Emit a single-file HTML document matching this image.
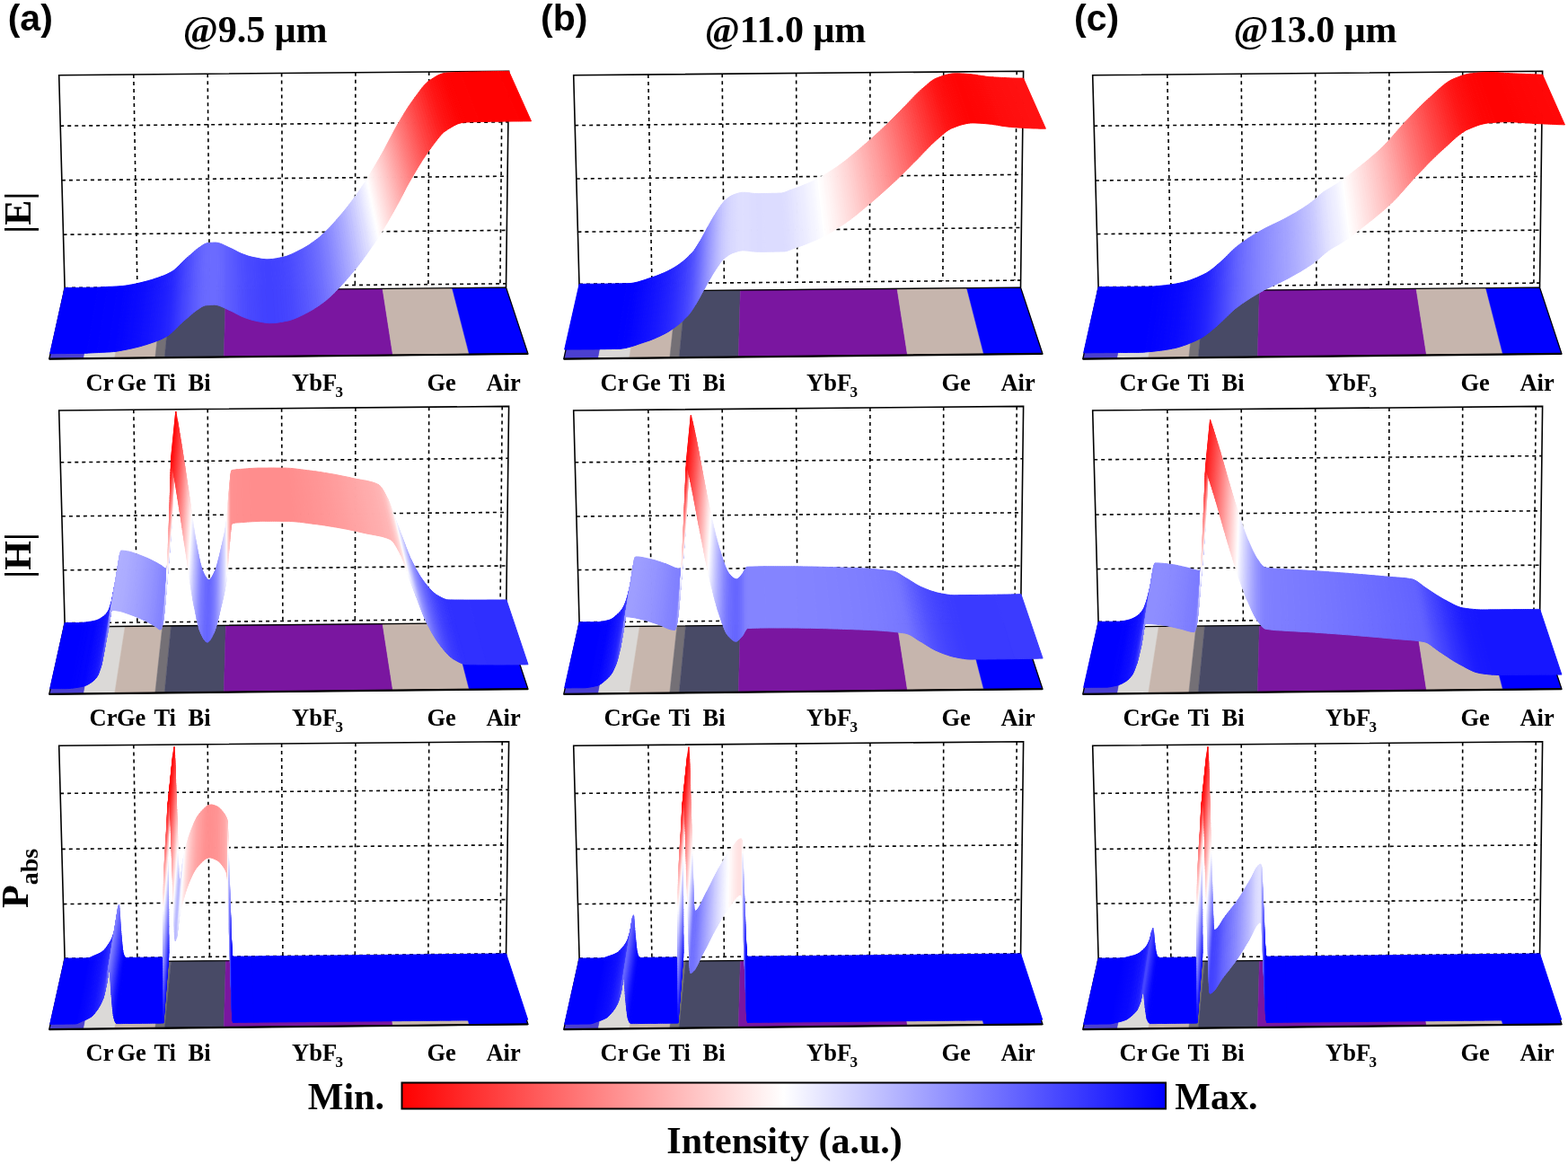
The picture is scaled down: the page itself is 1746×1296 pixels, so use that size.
<!DOCTYPE html>
<html><head><meta charset="utf-8"><title>Field distributions</title>
<style>html,body{margin:0;padding:0;background:#fff;}svg{display:block;}</style>
</head><body>
<svg width="1746" height="1296" viewBox="0 0 1746 1296">
<defs><linearGradient id="cb" x1="0" x2="1" y1="0" y2="0"><stop offset="0" stop-color="#ff0000"/><stop offset="0.5" stop-color="#ffffff"/><stop offset="1" stop-color="#0000ff"/></linearGradient></defs>
<rect width="100%" height="100%" fill="#fff"/>
<g stroke="#000" stroke-width="1.6" stroke-dasharray="4,4" fill="none">
<line x1="67.2" y1="140.2" x2="565.9" y2="135.9"/>
<line x1="68.9" y1="200.7" x2="565.1" y2="196.2"/>
<line x1="70.5" y1="261.2" x2="564.3" y2="256.4"/>
<line x1="72.1" y1="320.5" x2="563.6" y2="315.8"/>
<line x1="148.8" y1="83.0" x2="152.9" y2="319.7"/>
<line x1="231.2" y1="82.3" x2="233.4" y2="319.0"/>
<line x1="313.6" y1="81.5" x2="314.9" y2="318.2"/>
<line x1="395.9" y1="80.8" x2="395.3" y2="317.4"/>
<line x1="477.7" y1="80.0" x2="476.9" y2="316.6"/>
<line x1="559.2" y1="79.3" x2="556.9" y2="315.9"/>
</g>
<polyline points="71.2,324.8 72.1,320.6 65.7,83.8 566.6,79.2 563.5,320.1" fill="none" stroke="#000" stroke-width="1.6"/>
<polygon points="71.2,324.8 107.5,324.5 93.2,399.2 54.8,399.6" fill="#4b3fd0" stroke="#4b3fd0" stroke-width="0.5"/>
<polygon points="107.5,324.5 139.3,324.1 127.7,398.8 93.2,399.2" fill="#dbd9d7" stroke="#dbd9d7" stroke-width="0.5"/>
<polygon points="139.3,324.1 180.9,323.8 172.8,398.3 127.7,398.8" fill="#c7b6ad" stroke="#c7b6ad" stroke-width="0.5"/>
<polygon points="180.9,323.8 190.5,323.7 183.2,398.2 172.8,398.3" fill="#747076" stroke="#747076" stroke-width="0.5"/>
<polygon points="190.5,323.7 251.4,323.1 249.3,397.5 183.2,398.2" fill="#484a66" stroke="#484a66" stroke-width="0.5"/>
<polygon points="251.4,323.1 426.0,321.4 437.5,395.5 249.3,397.5" fill="#7a16a0" stroke="#7a16a0" stroke-width="0.5"/>
<polygon points="426.0,321.4 503.5,320.7 522.5,394.6 437.5,395.5" fill="#c6b5ad" stroke="#c6b5ad" stroke-width="0.5"/>
<polygon points="503.5,320.7 563.5,320.1 587.9,393.9 522.5,394.6" fill="#0000ff" stroke="#0000ff" stroke-width="0.5"/>
<polygon points="71.2,324.8 563.5,320.1 587.9,393.9 54.8,399.6" fill="none" stroke="#000" stroke-width="1.3"/>
<line x1="54.8" y1="399.6" x2="587.9" y2="393.9" stroke="#000" stroke-width="2.2"/>
<g stroke-width="1" stroke-linejoin="round"><path fill="#0000ff" stroke="#0000ff" d="M72.1 320.5l0.3 0 1.7 0 1.9 0 2-0.1 2 0 1.9 0 2 0 2 0 1.9 0 2-0.1 2 0 1.9 0 2 0 2 0 1.9-0.1 0.4 0 1.6 0 2 0 1.9-0.1 2 0 1.9-0.1-12.8 73.2-2.2 0.1-2.1 0.1-2.2 0-2.1 0-1.8 0.1-0.4 0-2.1 0-2.2 0-2.1 0-2.2 0-2.1 0-2.2 0.1-2.1 0-2.2 0-2.1 0-2.2 0-2.1 0-2.2 0.1-2.1 0-1.9 0-0.3 0z"/>
<path fill="#0101ff" stroke="#0101ff" d="M109.4 320l2-0.1 2-0.1 1.9-0.2 2-0.1 2-0.1 0.7 0-11.9 73.2-0.8 0-2.1 0.1-2.2 0.1-2.1 0.1-2.2 0.2-2.1 0.1z"/>
<path fill="#0202ff" stroke="#0202ff" d="M120 319.4l1.2-0.1 2 0 2-0.1 1.9-0.1 2-0.1 2-0.1-10.9 73.1-2.1 0.1-2.2 0.1-2.1 0.1-2.2 0.1-2.1 0.1-1.4 0.1z"/>
<path fill="#0303ff" stroke="#0303ff" d="M131.1 318.9l1.9-0.2 2-0.1 0 0 1.9-0.2 2-0.2-10.1 73.1-2.2 0.2-2.1 0.2 0 0-2.2 0.2-2.1 0.1z"/>
<path fill="#0404ff" stroke="#0404ff" d="M138.9 318.2l2-0.3-10 73.1-2.1 0.3z"/>
<path fill="#0505ff" stroke="#0505ff" d="M140.9 317.9l1.9-0.3 2-0.4-9.6 73-2.1 0.4-2.2 0.4z"/>
<path fill="#0606ff" stroke="#0606ff" d="M144.8 317.2l1.9-0.3-9.4 72.9-2.1 0.4z"/>
<path fill="#0707ff" stroke="#0707ff" d="M146.7 316.9l2-0.4-9.2 72.9-2.2 0.4z"/>
<path fill="#0808ff" stroke="#0808ff" d="M148.7 316.5l2-0.4-9.1 72.9-2.1 0.4z"/>
<path fill="#0909ff" stroke="#0909ff" d="M150.7 316.1l1.7-0.4 0.2 0 2-0.5-8.7 72.9-2.2 0.4-0.2 0.1-1.9 0.4z"/>
<path fill="#0a0aff" stroke="#0a0aff" d="M154.6 315.2l1.9-0.4-8.5 72.8-2.1 0.5z"/>
<path fill="#0b0bff" stroke="#0b0bff" d="M156.5 314.8l2-0.5-8.4 72.8-2.1 0.5z"/>
<path fill="#0c0cff" stroke="#0c0cff" d="M158.5 314.3l1.9-0.5-8.1 72.8-2.2 0.5z"/>
<path fill="#0d0dff" stroke="#0d0dff" d="M160.4 313.8l2-0.5-8 72.8-2.1 0.5z"/>
<path fill="#0e0eff" stroke="#0e0eff" d="M162.4 313.3l2-0.5-7.8 72.7-2.2 0.6z"/>
<path fill="#1010ff" stroke="#1010ff" d="M164.4 312.8l1.9-0.6-7.6 72.7-2.1 0.6z"/>
<path fill="#1111ff" stroke="#1111ff" d="M166.3 312.2l2-0.5-7.5 72.5-2.1 0.7z"/>
<path fill="#1212ff" stroke="#1212ff" d="M168.3 311.7l1.9-0.6-7.2 72.5-2.2 0.6z"/>
<path fill="#1313ff" stroke="#1313ff" d="M170.2 311.1l2-0.7-7.1 72.5-2.1 0.7z"/>
<path fill="#1515ff" stroke="#1515ff" d="M172.2 310.4l1.9-0.6-6.9 72.4-2.1 0.7z"/>
<path fill="#1616ff" stroke="#1616ff" d="M174.1 309.8l1.5-0.5-6.8 72.4-1.6 0.5z"/>
<path fill="#1717ff" stroke="#1717ff" d="M175.6 309.3l0.5-0.2-6.8 72.4-0.5 0.2z"/>
<path fill="#1818ff" stroke="#1818ff" d="M176.1 309.1l2-0.7-6.6 72.4-2.2 0.7z"/>
<path fill="#1919ff" stroke="#1919ff" d="M178.1 308.4l1.9-0.7-6.4 72.3-2.1 0.8z"/>
<path fill="#1b1bff" stroke="#1b1bff" d="M180 307.7l2-0.7-6.3 72.2-2.1 0.8z"/>
<path fill="#1c1cff" stroke="#1c1cff" d="M182 307l1.9-0.8-6 72.1-2.2 0.9z"/>
<path fill="#1e1eff" stroke="#1e1eff" d="M183.9 306.2l2-0.9-5.9 72.1-2.1 0.9z"/>
<path fill="#2020ff" stroke="#2020ff" d="M185.9 305.3l1.9-1-5.7 72-2.1 1.1z"/>
<path fill="#2222ff" stroke="#2222ff" d="M187.8 304.3l2-1-5.6 71.9-2.1 1.1z"/>
<path fill="#2525ff" stroke="#2525ff" d="M189.8 303.3l1.9-1.1-5.3 71.8-2.2 1.2z"/>
<path fill="#2626ff" stroke="#2626ff" d="M191.7 302.2l0.5-0.3-5.3 71.8-0.5 0.3z"/>
<path fill="#2727ff" stroke="#2727ff" d="M192.2 301.9l1.5-1-5.2 71.7-1.6 1.1z"/>
<path fill="#2a2aff" stroke="#2a2aff" d="M193.7 300.9l1.9-1.7-5 71.6-2.1 1.8z"/>
<path fill="#2e2eff" stroke="#2e2eff" d="M195.6 299.2l1.9-1.8-4.8 71.4-2.1 2z"/>
<path fill="#3131ff" stroke="#3131ff" d="M197.5 297.4l1.2-1.1-4.7 71.3-1.3 1.2z"/>
<path fill="#3333ff" stroke="#3333ff" d="M198.7 296.3l0.8-0.7-4.7 71.2-0.8 0.8z"/>
<path fill="#3636ff" stroke="#3636ff" d="M199.5 295.6l1.9-2-4.5 71.1-2.1 2.1z"/>
<path fill="#3a3aff" stroke="#3a3aff" d="M201.4 293.6l2-2-4.4 71-2.1 2.1z"/>
<path fill="#3e3eff" stroke="#3e3eff" d="M203.4 291.6l1.6-1.6-4.2 70.8-1.8 1.8z"/>
<path fill="#4040ff" stroke="#4040ff" d="M205 290l0.3-0.3-4.2 70.8-0.3 0.3z"/>
<path fill="#4343ff" stroke="#4343ff" d="M205.3 289.7l1.9-1.8-3.9 70.7-2.2 1.9z"/>
<path fill="#4646ff" stroke="#4646ff" d="M207.2 287.9l2-1.7-3.8 70.5-2.1 1.9z"/>
<path fill="#4a4aff" stroke="#4a4aff" d="M209.2 286.2l1.9-1.6-3.6 70.3-2.1 1.8z"/>
<path fill="#4d4dff" stroke="#4d4dff" d="M211.1 284.6l1.5-1.3-3.5 70.3-1.6 1.3z"/>
<path fill="#4f4fff" stroke="#4f4fff" d="M212.6 283.3l0.5-0.4-3.5 70.2-0.5 0.5z"/>
<path fill="#5151ff" stroke="#5151ff" d="M213.1 282.9l1.9-1.7-3.3 70.1-2.1 1.8z"/>
<path fill="#5555ff" stroke="#5555ff" d="M215 281.2l2-1.8-3.2 70-2.1 1.9z"/>
<path fill="#5959ff" stroke="#5959ff" d="M217 279.4l1.9-1.6-3 69.8-2.1 1.8z"/>
<path fill="#5c5cff" stroke="#5c5cff" d="M218.9 277.8l2-1.5-2.8 69.7-2.2 1.6z"/>
<path fill="#5f5fff" stroke="#5f5fff" d="M220.9 276.3l1.1-0.8-2.7 69.6-1.2 0.9z"/>
<path fill="#6060ff" stroke="#6060ff" d="M222 275.5l0.8-0.5-2.6 69.6-0.9 0.5z"/>
<path fill="#6262ff" stroke="#6262ff" d="M222.8 275l2-1.4-2.5 69.5-2.1 1.5z"/>
<path fill="#6565ff" stroke="#6565ff" d="M224.8 273.6l1.9-1.3-2.3 69.4-2.1 1.4z"/>
<path fill="#6767ff" stroke="#6767ff" d="M226.7 272.3l2-1-2.1 69.3-2.2 1.1z"/>
<path fill="#6969ff" stroke="#6969ff" d="M228.7 271.3l2-0.6-2 69.2-2.1 0.7z"/>
<path fill="#6a6aff" stroke="#6a6aff" d="M230.7 270.7l0.4-0.1 1.5-0.1 2-0.2-1.6 69.3-2.2 0.1-1.6 0.2-0.5 0z"/>
<path fill="#6b6bff" stroke="#6b6bff" d="M234.6 270.3l2-0.1 1.9-0.1 1.3 0 0.7 0 2 0.3-0.9 69.2-2.2-0.2-0.7-0.1-1.4 0.1-2.2 0-2.1 0.2z"/>
<path fill="#6a6aff" stroke="#6a6aff" d="M242.5 270.4l2 0.5-0.8 69.3-2.1-0.6z"/>
<path fill="#6868ff" stroke="#6868ff" d="M244.5 270.9l2 0.7-0.6 69.4-2.2-0.8z"/>
<path fill="#6767ff" stroke="#6767ff" d="M246.5 271.6l1.9 0.8-0.4 69.5-2.1-0.9z"/>
<path fill="#6565ff" stroke="#6565ff" d="M248.4 272.4l2 1-0.2 69.5-2.2-1z"/>
<path fill="#6262ff" stroke="#6262ff" d="M250.4 273.4l2 0.9 0 69.7-2.2-1.1z"/>
<path fill="#6060ff" stroke="#6060ff" d="M252.4 274.3l2 1 0.1 69.7-2.1-1z"/>
<path fill="#5e5eff" stroke="#5e5eff" d="M254.4 275.3l1.6 0.7 0.3 69.8-1.8-0.8z"/>
<path fill="#5d5dff" stroke="#5d5dff" d="M256 276l0.4 0.2 0.3 69.7-0.4-0.1z"/>
<path fill="#5c5cff" stroke="#5c5cff" d="M256.4 276.2l2 0.9 0.4 69.8-2.1-1z"/>
<path fill="#5a5aff" stroke="#5a5aff" d="M258.4 277.1l1.9 1 0.7 69.9-2.2-1.1z"/>
<path fill="#5858ff" stroke="#5858ff" d="M260.3 278.1l2 1 0.8 70.1-2.1-1.2z"/>
<path fill="#5656ff" stroke="#5656ff" d="M262.3 279.1l2 1.1 1 70.1-2.2-1.1z"/>
<path fill="#5353ff" stroke="#5353ff" d="M264.3 280.2l2 1 1.1 70.2-2.1-1.1z"/>
<path fill="#5151ff" stroke="#5151ff" d="M266.3 281.2l2 0.9 1.3 70.3-2.2-1z"/>
<path fill="#4f4fff" stroke="#4f4fff" d="M268.3 282.1l1.7 0.7 1.5 70.4-1.9-0.8z"/>
<path fill="#4e4eff" stroke="#4e4eff" d="M270 282.8l0.3 0.1 1.9 0.7 1.7 70.5-2.2-0.8-0.2-0.1z"/>
<path fill="#4c4cff" stroke="#4c4cff" d="M272.2 283.6l2 0.7 1.8 70.5-2.1-0.7z"/>
<path fill="#4a4aff" stroke="#4a4aff" d="M274.2 284.3l2 0.7 2 70.5-2.2-0.7z"/>
<path fill="#4949ff" stroke="#4949ff" d="M276.2 285l2 0.6 2.1 70.6-2.1-0.7z"/>
<path fill="#ff0000" stroke="#ff0000" d="M554.6 79.5l2 0 2 0 2 0 2-0.1 2 0 2 0 24.9 55.5-2.2 0-2.1 0-2.1 0-2.2 0-2.1 0.1-2.2 0z"/>
<path fill="#ff0101" stroke="#ff0101" d="M512.5 80.4l2-0.1 1.5 0 0.5 0 2-0.1 2 0 2-0.1 2 0 2 0 2-0.1 2 0 2-0.1 2 0 2-0.1 2 0 2 0 2.1-0.1 2 0 2 0 2-0.1 2 0 2 0 2-0.1 24 55.5-2.1 0-2.2 0-2.1 0-2.2 0-2.1 0.1-2.2 0-2.1 0-2.2 0-2.1 0.1-2.2 0-2.1 0-2.2 0.1-2.1 0-2.2 0-2.1 0-2.2 0.1-2.1 0-2.2 0.1-2.1 0-0.6 0-1.6 0-2.1 0.1z"/>
<path fill="#ff0202" stroke="#ff0202" d="M498.5 81l2-0.1 2-0.1 2-0.1 2-0.1 2-0.1 2 0 2-0.1 21 55.2-2.2 0-2.2 0.1-2.1 0-2.2 0.1-2.1 0.1-2.2 0.1-2.1 0.1z"/>
<path fill="#ff0303" stroke="#ff0303" d="M494.5 81.5l2-0.3 0.6-0.1 1.4-0.1 19.9 55.1-1.5 0.1-0.7 0.1-2.1 0.3z"/>
<path fill="#ff0404" stroke="#ff0404" d="M492.4 82l2.1-0.5 19.6 55.1-2.2 0.6z"/>
<path fill="#ff0505" stroke="#ff0505" d="M490.4 82.7l2-0.7 19.5 55.2-2.2 0.7z"/>
<path fill="#ff0707" stroke="#ff0707" d="M488.4 83.6l2-0.9 19.3 55.2-2.1 1z"/>
<path fill="#ff0909" stroke="#ff0909" d="M486.4 84.6l2-1 19.2 55.3-2.2 1.1z"/>
<path fill="#ff0b0b" stroke="#ff0b0b" d="M484.4 85.8l2-1.2 19 55.4-2.1 1.2z"/>
<path fill="#ff0e0e" stroke="#ff0e0e" d="M482.4 87l2-1.2 18.9 55.4-2.2 1.3z"/>
<path fill="#ff1010" stroke="#ff1010" d="M480.4 88.3l2-1.3 18.7 55.5-2.2 1.3z"/>
<path fill="#ff1313" stroke="#ff1313" d="M478.4 89.6l2-1.3 18.5 55.5-2.1 1.4z"/>
<path fill="#ff1414" stroke="#ff1414" d="M478.2 89.7l0.2-0.1 18.4 55.6-0.2 0.2z"/>
<path fill="#ff1616" stroke="#ff1616" d="M476.4 91.1l1.8-1.4 18.4 55.7-2 1.4z"/>
<path fill="#ff1919" stroke="#ff1919" d="M474.4 92.9l2-1.8 18.2 55.7-2.2 2z"/>
<path fill="#ff1e1e" stroke="#ff1e1e" d="M472.3 95.1l2.1-2.2 18 55.9-2.1 2.3z"/>
<path fill="#ff2222" stroke="#ff2222" d="M470.3 97.5l2-2.4 18 56-2.2 2.6z"/>
<path fill="#ff2828" stroke="#ff2828" d="M468.3 100.1l2-2.6 17.8 56.2-2.2 2.8z"/>
<path fill="#ff2d2d" stroke="#ff2d2d" d="M466.3 102.8l2-2.7 17.6 56.4-2.2 2.9z"/>
<path fill="#ff3333" stroke="#ff3333" d="M464.3 105.5l2-2.7 17.4 56.6-2.1 2.9z"/>
<path fill="#ff3939" stroke="#ff3939" d="M462.3 108.2l2-2.7 17.3 56.8-2.2 3z"/>
<path fill="#ff3c3c" stroke="#ff3c3c" d="M462 108.6l0.3-0.4 17.1 57.1-0.3 0.4z"/>
<path fill="#ff3f3f" stroke="#ff3f3f" d="M460.3 111l1.7-2.4 17.1 57.1-1.9 2.5z"/>
<path fill="#ff4444" stroke="#ff4444" d="M458.3 113.8l2-2.8 16.9 57.2-2.1 3.1z"/>
<path fill="#ff4949" stroke="#ff4949" d="M457.3 115.3l1-1.5 16.8 57.5-1.1 1.6z"/>
<path fill="#ff4c4c" stroke="#ff4c4c" d="M456.3 116.8l1-1.5 16.7 57.6-1.1 1.6z"/>
<path fill="#ff4f4f" stroke="#ff4f4f" d="M455.2 118.3l1.1-1.5 16.6 57.7-1.1 1.7z"/>
<path fill="#ff5252" stroke="#ff5252" d="M454.2 119.9l1-1.6 16.6 57.9-1.1 1.6z"/>
<path fill="#ff5656" stroke="#ff5656" d="M453.2 121.5l1-1.6 16.5 57.9-1.1 1.7z"/>
<path fill="#ff5959" stroke="#ff5959" d="M452.2 123.1l1-1.6 16.4 58-1 1.8z"/>
<path fill="#ff5d5d" stroke="#ff5d5d" d="M451.2 124.7l1-1.6 16.4 58.2-1.1 1.7z"/>
<path fill="#ff6060" stroke="#ff6060" d="M450.2 126.3l1-1.6 16.3 58.3-1.1 1.8z"/>
<path fill="#ff6363" stroke="#ff6363" d="M449.2 128l1-1.7 16.2 58.5-1.1 1.7z"/>
<path fill="#ff6767" stroke="#ff6767" d="M448.2 129.7l1-1.7 16.1 58.5-1.1 1.8z"/>
<path fill="#ff6b6b" stroke="#ff6b6b" d="M447.2 131.3l1-1.6 16 58.6-1.1 1.8z"/>
<path fill="#ff6e6e" stroke="#ff6e6e" d="M446.2 133l1-1.7 15.9 58.8-1 1.9z"/>
<path fill="#ff7272" stroke="#ff7272" d="M445.2 134.7l1-1.7 15.9 59-1.1 1.8z"/>
<path fill="#ff7575" stroke="#ff7575" d="M444.2 136.4l1-1.7 15.8 59.1-1.1 1.8z"/>
<path fill="#ff7979" stroke="#ff7979" d="M443.2 138.1l1-1.7 15.7 59.2-1.1 1.8z"/>
<path fill="#ff7b7b" stroke="#ff7b7b" d="M443.1 138.3l0.1-0.2 15.6 59.3-0.1 0.2z"/>
<path fill="#ff7d7d" stroke="#ff7d7d" d="M442.2 139.8l0.9-1.5 15.6 59.3-1 1.7z"/>
<path fill="#ff8080" stroke="#ff8080" d="M441.2 141.6l1-1.8 15.5 59.5-1 1.9z"/>
<path fill="#ff8484" stroke="#ff8484" d="M440.2 143.4l1-1.8 15.5 59.6-1.1 1.9z"/>
<path fill="#ff8888" stroke="#ff8888" d="M439.2 145.2l1-1.8 15.4 59.7-1.1 2z"/>
<path fill="#ff8c8c" stroke="#ff8c8c" d="M438.2 147.1l1-1.9 15.3 59.9-1.1 2z"/>
<path fill="#ff9090" stroke="#ff9090" d="M437.2 149l1-1.9 15.2 60-1.1 2z"/>
<path fill="#ff9494" stroke="#ff9494" d="M436.2 150.9l1-1.9 15.1 60.1-1.1 2.1z"/>
<path fill="#ff9898" stroke="#ff9898" d="M435.2 152.8l1-1.9 15 60.3-1 2z"/>
<path fill="#ff9c9c" stroke="#ff9c9c" d="M434.2 154.7l1-1.9 15 60.4-1.1 2.1z"/>
<path fill="#ffa0a0" stroke="#ffa0a0" d="M433.2 156.6l1-1.9 14.9 60.6-1.1 2.1z"/>
<path fill="#ffa4a4" stroke="#ffa4a4" d="M432.2 158.5l1-1.9 14.8 60.8-1.1 2z"/>
<path fill="#ffa8a8" stroke="#ffa8a8" d="M431.2 160.4l1-1.9 14.7 60.9-1.1 2.1z"/>
<path fill="#ffacac" stroke="#ffacac" d="M430.2 162.3l1-1.9 14.6 61.1-1 2z"/>
<path fill="#ffb0b0" stroke="#ffb0b0" d="M429.2 164.2l1-1.9 14.6 61.2-1.1 2.1z"/>
<path fill="#ffb4b4" stroke="#ffb4b4" d="M428.2 166.1l1-1.9 14.5 61.4-1.1 2z"/>
<path fill="#ffb8b8" stroke="#ffb8b8" d="M427.2 168l1-1.9 14.4 61.5-1.1 2z"/>
<path fill="#ffbcbc" stroke="#ffbcbc" d="M426.2 169.8l1-1.8 14.3 61.6-1 2z"/>
<path fill="#ffc0c0" stroke="#ffc0c0" d="M425.2 171.6l1-1.8 14.3 61.8-1.1 1.9z"/>
<path fill="#ffc4c4" stroke="#ffc4c4" d="M424.2 173.4l1-1.8 14.2 61.9-1.1 1.9z"/>
<path fill="#ffc6c6" stroke="#ffc6c6" d="M424.2 173.4l0 0 14.1 62 0 0.1z"/>
<path fill="#ffc8c8" stroke="#ffc8c8" d="M423.2 175.1l1-1.7 14.1 62.1-1.1 1.8z"/>
<path fill="#ffcbcb" stroke="#ffcbcb" d="M422.2 176.9l1-1.8 14 62.2-1.1 1.9z"/>
<path fill="#ffcfcf" stroke="#ffcfcf" d="M421.2 178.6l1-1.7 13.9 62.3-1 1.8z"/>
<path fill="#ffd3d3" stroke="#ffd3d3" d="M420.2 180.3l1-1.7 13.9 62.4-1.1 1.9z"/>
<path fill="#ffd6d6" stroke="#ffd6d6" d="M419.2 182l1-1.7 13.8 62.6-1.1 1.8z"/>
<path fill="#ffdada" stroke="#ffdada" d="M418.2 183.7l1-1.7 13.7 62.7-1.1 1.9z"/>
<path fill="#ffdede" stroke="#ffdede" d="M417.2 185.4l1-1.7 13.6 62.9-1 1.8z"/>
<path fill="#ffe1e1" stroke="#ffe1e1" d="M416.2 187.1l1-1.7 13.6 63-1.1 1.8z"/>
<path fill="#ffe5e5" stroke="#ffe5e5" d="M415.2 188.8l1-1.7 13.5 63.1-1.1 1.8z"/>
<path fill="#ffe8e8" stroke="#ffe8e8" d="M414.3 190.4l0.9-1.6 13.4 63.2-1 1.8z"/>
<path fill="#ffecec" stroke="#ffecec" d="M413.3 192l1-1.6 13.3 63.4-1.1 1.7z"/>
<path fill="#ffefef" stroke="#ffefef" d="M412.3 193.7l1-1.7 13.2 63.5-1.1 1.8z"/>
<path fill="#fff3f3" stroke="#fff3f3" d="M411.3 195.3l1-1.6 13.1 63.6-1.1 1.7z"/>
<path fill="#fff6f6" stroke="#fff6f6" d="M410.3 196.8l1-1.5 13 63.7-1 1.7z"/>
<path fill="#fffafa" stroke="#fffafa" d="M409.3 198.4l1-1.6 13 63.9-1.1 1.7z"/>
<path fill="#fffdfd" stroke="#fffdfd" d="M408.3 199.9l1-1.5 12.9 64-1.1 1.6z"/>
<path fill="#ffffff" stroke="#ffffff" d="M408 200.4l0.3-0.5 12.8 64.1-0.3 0.5z"/>
<path fill="#fdfdff" stroke="#fdfdff" d="M407.3 201.5l0.7-1.1 12.8 64.1-0.8 1.2z"/>
<path fill="#fbfbff" stroke="#fbfbff" d="M406.3 203l1-1.5 12.7 64.2-1 1.6z"/>
<path fill="#f7f7ff" stroke="#f7f7ff" d="M405.3 204.5l1-1.5 12.7 64.3-1.1 1.7z"/>
<path fill="#f4f4ff" stroke="#f4f4ff" d="M404.3 206l1-1.5 12.6 64.5-1.1 1.6z"/>
<path fill="#f1f1ff" stroke="#f1f1ff" d="M403.3 207.5l1-1.5 12.5 64.6-1 1.6z"/>
<path fill="#eeeeff" stroke="#eeeeff" d="M402.3 208.9l1-1.4 12.5 64.7-1.1 1.5z"/>
<path fill="#ebebff" stroke="#ebebff" d="M401.4 210.4l0.9-1.5 12.4 64.8-1.1 1.6z"/>
<path fill="#e8e8ff" stroke="#e8e8ff" d="M400.4 211.8l1-1.4 12.2 64.9-1.1 1.6z"/>
<path fill="#e4e4ff" stroke="#e4e4ff" d="M399.4 213.3l1-1.5 12.1 65.1-1 1.5z"/>
<path fill="#e1e1ff" stroke="#e1e1ff" d="M398.4 214.7l1-1.4 12.1 65.1-1.1 1.5z"/>
<path fill="#ddddff" stroke="#ddddff" d="M396.4 217.5l2-2.8 12 65.2-2.1 3.1z"/>
<path fill="#d7d7ff" stroke="#d7d7ff" d="M394.4 220.3l2-2.8 11.9 65.5-2.2 2.9z"/>
<path fill="#d1d1ff" stroke="#d1d1ff" d="M392.4 223l2-2.7 11.7 65.6-2.1 2.9z"/>
<path fill="#cbcbff" stroke="#cbcbff" d="M390.5 225.6l1.9-2.6 11.6 65.8-2.1 2.9z"/>
<path fill="#c7c7ff" stroke="#c7c7ff" d="M389.1 227.4l1.4-1.8 11.4 66.1-1.5 1.9z"/>
<path fill="#c4c4ff" stroke="#c4c4ff" d="M388.5 228.2l0.6-0.8 11.3 66.2-0.7 0.9z"/>
<path fill="#c0c0ff" stroke="#c0c0ff" d="M386.5 230.7l2-2.5 11.2 66.3-2.1 2.7z"/>
<path fill="#bbbbff" stroke="#bbbbff" d="M384.5 233.2l2-2.5 11.1 66.5-2.2 2.7z"/>
<path fill="#b5b5ff" stroke="#b5b5ff" d="M382.6 235.6l1.9-2.4 10.9 66.7-2.1 2.6z"/>
<path fill="#b0b0ff" stroke="#b0b0ff" d="M380.6 238l2-2.4 10.7 66.9-2.1 2.5z"/>
<path fill="#ababff" stroke="#ababff" d="M378.6 240.3l2-2.3 10.6 67-2.2 2.6z"/>
<path fill="#a6a6ff" stroke="#a6a6ff" d="M376.6 242.6l2-2.3 10.4 67.3-2.1 2.4z"/>
<path fill="#a2a2ff" stroke="#a2a2ff" d="M375 244.5l1.6-1.9 10.3 67.4-1.8 2z"/>
<path fill="#9f9fff" stroke="#9f9fff" d="M374.7 244.9l0.3-0.4 10.1 67.5-0.3 0.5z"/>
<path fill="#9d9dff" stroke="#9d9dff" d="M372.7 247.1l2-2.2 10.1 67.6-2.1 2.4z"/>
<path fill="#9898ff" stroke="#9898ff" d="M370.7 249.3l2-2.2 10 67.8-2.2 2.3z"/>
<path fill="#9393ff" stroke="#9393ff" d="M368.8 251.5l1.9-2.2 9.8 67.9-2.1 2.3z"/>
<path fill="#8f8fff" stroke="#8f8fff" d="M366.8 253.6l2-2.1 9.6 68-2.1 2.3z"/>
<path fill="#8a8aff" stroke="#8a8aff" d="M364.8 255.6l2-2 9.5 68.2-2.2 2.2z"/>
<path fill="#8686ff" stroke="#8686ff" d="M362.8 257.6l2-2 9.3 68.4-2.1 2.1z"/>
<path fill="#8383ff" stroke="#8383ff" d="M362.6 257.8l0.2-0.2 9.2 68.5-0.3 0.3z"/>
<path fill="#8181ff" stroke="#8181ff" d="M360.9 259.5l1.7-1.7 9.1 68.6-1.8 1.8z"/>
<path fill="#7e7eff" stroke="#7e7eff" d="M358.9 261.3l2-1.8 9 68.7-2.1 2z"/>
<path fill="#7a7aff" stroke="#7a7aff" d="M356.9 263.1l2-1.8 8.9 68.9-2.2 1.9z"/>
<path fill="#7676ff" stroke="#7676ff" d="M355 264.8l1.9-1.7 8.7 69-2.1 1.8z"/>
<path fill="#7373ff" stroke="#7373ff" d="M353.3 266.1l1.7-1.3 8.5 69.1-1.8 1.4z"/>
<path fill="#7171ff" stroke="#7171ff" d="M353 266.3l0.3-0.2 8.4 69.2-0.3 0.3z"/>
<path fill="#6f6fff" stroke="#6f6fff" d="M351 267.8l2-1.5 8.4 69.3-2.2 1.6z"/>
<path fill="#6c6cff" stroke="#6c6cff" d="M349.1 269.2l1.9-1.4 8.2 69.4-2.1 1.5z"/>
<path fill="#6969ff" stroke="#6969ff" d="M347.1 270.6l2-1.4 8 69.5-2.1 1.5z"/>
<path fill="#6666ff" stroke="#6666ff" d="M345.1 272l2-1.4 7.9 69.6-2.1 1.4z"/>
<path fill="#6363ff" stroke="#6363ff" d="M343.2 273.3l1.9-1.3 7.8 69.6-2.2 1.4z"/>
<path fill="#6161ff" stroke="#6161ff" d="M341.2 274.5l2-1.2 7.5 69.7-2.1 1.4z"/>
<path fill="#5e5eff" stroke="#5e5eff" d="M339.2 275.7l2-1.2 7.4 69.9-2.1 1.2z"/>
<path fill="#5c5cff" stroke="#5c5cff" d="M337.3 276.8l1.9-1.1 7.3 69.9-2.2 1.2z"/>
<path fill="#5959ff" stroke="#5959ff" d="M335.3 277.8l2-1 7 70-2.1 1.2z"/>
<path fill="#5858ff" stroke="#5858ff" d="M334.8 278.1l0.5-0.3 6.9 70.2-0.5 0.2z"/>
<path fill="#5757ff" stroke="#5757ff" d="M333.3 278.8l1.5-0.7 6.9 70.1-1.6 0.8z"/>
<path fill="#5555ff" stroke="#5555ff" d="M331.4 279.8l1.9-1 6.8 70.2-2.1 1.1z"/>
<path fill="#5353ff" stroke="#5353ff" d="M329.4 280.8l2-1 6.6 70.3-2.2 1.1z"/>
<path fill="#5151ff" stroke="#5151ff" d="M327.4 281.8l2-1 6.4 70.4-2.1 1z"/>
<path fill="#4f4fff" stroke="#4f4fff" d="M325.5 282.7l1.9-0.9 6.3 70.4-2.1 1z"/>
<path fill="#4d4dff" stroke="#4d4dff" d="M323.5 283.5l2-0.8 6.1 70.5-2.1 0.9z"/>
<path fill="#4b4bff" stroke="#4b4bff" d="M321.5 284.3l2-0.8 6 70.6-2.2 0.9z"/>
<path fill="#4949ff" stroke="#4949ff" d="M319.6 285.1l1.9-0.8 5.8 70.7-2.1 0.7z"/>
<path fill="#4848ff" stroke="#4848ff" d="M317.6 285.7l2-0.6 5.6 70.6-2.1 0.7z"/>
<path fill="#4747ff" stroke="#4747ff" d="M315.6 286.2l2-0.5 5.5 70.7-2.2 0.6z"/>
<path fill="#4646ff" stroke="#4646ff" d="M314.4 286.5l1.2-0.3 5.3 70.8-1.3 0.3z"/>
<path fill="#4545ff" stroke="#4545ff" d="M311.7 287l2-0.4 0.7-0.1 5.2 70.8-0.8 0.1-2.1 0.4z"/>
<path fill="#4444ff" stroke="#4444ff" d="M309.7 287.4l2-0.4 5 70.8-2.2 0.5z"/>
<path fill="#4343ff" stroke="#4343ff" d="M305.8 288.1l2-0.3 1.9-0.4 4.8 70.9-2.1 0.3-2.1 0.4z"/>
<path fill="#4242ff" stroke="#4242ff" d="M301.9 288.6l1.9-0.2 2-0.3 4.5 70.9-2.2 0.3-2.1 0.2z"/>
<path fill="#4141ff" stroke="#4141ff" d="M294 288.6l2 0.2 1.8 0 0.1 0 2-0.1 2-0.1 4.1 70.9-2.1 0.1-2.2 0.1-0.1 0-2 0-2.1-0.2z"/>
<path fill="#4242ff" stroke="#4242ff" d="M290 288.1l2 0.3 2 0.2 3.5 70.9-2.2-0.2-2.1-0.4z"/>
<path fill="#4343ff" stroke="#4343ff" d="M288.1 287.7l1.9 0.4 3.2 70.8-2.1-0.4z"/>
<path fill="#4444ff" stroke="#4444ff" d="M286.1 287.3l2 0.4 3 70.8-2.2-0.4z"/>
<path fill="#4545ff" stroke="#4545ff" d="M284.1 286.9l2 0.4 2.8 70.8-2.1-0.4z"/>
<path fill="#4646ff" stroke="#4646ff" d="M282 286.5l0.1 0 2 0.4 2.7 70.8-2.2-0.5-0.1 0z"/>
<path fill="#4747ff" stroke="#4747ff" d="M280.2 286.1l1.8 0.4 2.5 70.7-2-0.5z"/>
<path fill="#4848ff" stroke="#4848ff" d="M278.2 285.6l2 0.5 2.3 70.6-2.2-0.5z"/></g>
<g stroke="#000" stroke-width="1.6" stroke-dasharray="4,4" fill="none">
<line x1="640.2" y1="139.6" x2="1138.9" y2="135.1"/>
<line x1="641.8" y1="199.0" x2="1138.1" y2="194.4"/>
<line x1="643.4" y1="258.2" x2="1137.4" y2="253.5"/>
<line x1="645.0" y1="316.3" x2="1136.6" y2="312.1"/>
<line x1="721.8" y1="83.0" x2="725.9" y2="315.6"/>
<line x1="804.2" y1="82.3" x2="806.4" y2="314.9"/>
<line x1="886.6" y1="81.5" x2="887.9" y2="314.2"/>
<line x1="968.9" y1="80.8" x2="968.3" y2="313.5"/>
<line x1="1050.7" y1="80.0" x2="1049.9" y2="312.8"/>
<line x1="1132.2" y1="79.3" x2="1129.9" y2="312.2"/>
</g>
<polyline points="644.2,324.8 645.1,320.6 638.7,83.8 1139.6,79.2 1136.5,320.1" fill="none" stroke="#000" stroke-width="1.6"/>
<polygon points="644.2,324.8 680.5,324.5 666.2,399.2 627.8,399.6" fill="#4b3fd0" stroke="#4b3fd0" stroke-width="0.5"/>
<polygon points="680.5,324.5 712.3,324.1 700.7,398.8 666.2,399.2" fill="#dbd9d7" stroke="#dbd9d7" stroke-width="0.5"/>
<polygon points="712.3,324.1 753.9,323.8 745.8,398.3 700.7,398.8" fill="#c7b6ad" stroke="#c7b6ad" stroke-width="0.5"/>
<polygon points="753.9,323.8 763.5,323.7 756.2,398.2 745.8,398.3" fill="#747076" stroke="#747076" stroke-width="0.5"/>
<polygon points="763.5,323.7 824.4,323.1 822.3,397.5 756.2,398.2" fill="#484a66" stroke="#484a66" stroke-width="0.5"/>
<polygon points="824.4,323.1 999.0,321.4 1010.5,395.5 822.3,397.5" fill="#7a16a0" stroke="#7a16a0" stroke-width="0.5"/>
<polygon points="999.0,321.4 1076.5,320.7 1095.5,394.6 1010.5,395.5" fill="#c6b5ad" stroke="#c6b5ad" stroke-width="0.5"/>
<polygon points="1076.5,320.7 1136.5,320.1 1160.9,393.9 1095.5,394.6" fill="#0000ff" stroke="#0000ff" stroke-width="0.5"/>
<polygon points="644.2,324.8 1136.5,320.1 1160.9,393.9 627.8,399.6" fill="none" stroke="#000" stroke-width="1.3"/>
<line x1="627.8" y1="399.6" x2="1160.9" y2="393.9" stroke="#000" stroke-width="2.2"/>
<g stroke-width="1" stroke-linejoin="round"><path fill="#0000ff" stroke="#0000ff" d="M645.1 316.3l2 0 1.9 0 2 0 1.9-0.1 2 0 2 0 1.9 0 2 0 2 0 1.9-0.1 2 0 1.9 0 2 0 1.9 0 0.1 0 1.9 0 2-0.1 2 0 1.9 0 2-0.1 1.9 0 2 0 2-0.1 1.9 0 2 0 1.9-0.1 2 0 2 0-11.4 72.7-2.2 0.1-2.1 0-2.2 0.1-2.1 0-2.1 0-2.2 0.1-2.1 0-2.2 0-2.1 0.1-2.2 0-2.1 0-2.2 0.1-2.1 0-0.1 0-2.1 0-2.1 0-2.2 0-2.1 0-2.2 0-2.1 0.1-2.2 0-2.1 0-2.2 0-2.1 0-2.2 0-2.1 0.1-2.2 0-2.1 0z"/>
<path fill="#0101ff" stroke="#0101ff" d="M698.1 315.7l1.9-0.1 0 0 2-0.1 2-0.2-10.9 72.7-2.1 0.3-2.2 0.1 0 0-2.1 0z"/>
<path fill="#0202ff" stroke="#0202ff" d="M704 315.3l1.9-0.4 2-0.4-10.5 72.8-2.2 0.4-2.1 0.3z"/>
<path fill="#0303ff" stroke="#0303ff" d="M707.9 314.5l1.9-0.4-10.3 72.6-2.1 0.6z"/>
<path fill="#0404ff" stroke="#0404ff" d="M709.8 314.1l2-0.6-10.2 72.7-2.1 0.5z"/>
<path fill="#0606ff" stroke="#0606ff" d="M711.8 313.5l1.9-0.6-9.9 72.6-2.2 0.7z"/>
<path fill="#0707ff" stroke="#0707ff" d="M713.7 312.9l2-0.6-9.8 72.6-2.1 0.6z"/>
<path fill="#0808ff" stroke="#0808ff" d="M715.7 312.3l1.9-0.6-9.6 72.5-2.1 0.7z"/>
<path fill="#0a0aff" stroke="#0a0aff" d="M717.6 311.7l2-0.7-9.5 72.4-2.1 0.8z"/>
<path fill="#0b0bff" stroke="#0b0bff" d="M719.6 311l1.9-0.7-9.2 72.4-2.2 0.7z"/>
<path fill="#0d0dff" stroke="#0d0dff" d="M721.5 310.3l2-0.6-9.1 72.3-2.1 0.7z"/>
<path fill="#0e0eff" stroke="#0e0eff" d="M723.5 309.7l1.5-0.5-8.9 72.3-1.7 0.5z"/>
<path fill="#0f0fff" stroke="#0f0fff" d="M725 309.2l0.4-0.1 2-0.7-8.7 72.2-2.2 0.7-0.4 0.2z"/>
<path fill="#1111ff" stroke="#1111ff" d="M727.4 308.4l1.9-0.6-8.5 72.1-2.1 0.7z"/>
<path fill="#1212ff" stroke="#1212ff" d="M729.3 307.8l2-0.8-8.4 72.2-2.1 0.7z"/>
<path fill="#1414ff" stroke="#1414ff" d="M731.3 307l1.9-0.7-8.2 72.1-2.1 0.8z"/>
<path fill="#1616ff" stroke="#1616ff" d="M733.2 306.3l2-0.8-8 72-2.2 0.9z"/>
<path fill="#1717ff" stroke="#1717ff" d="M735.2 305.5l1.9-0.8-7.8 72-2.1 0.8z"/>
<path fill="#1919ff" stroke="#1919ff" d="M737.1 304.7l2-0.8-7.7 71.8-2.1 1z"/>
<path fill="#1b1bff" stroke="#1b1bff" d="M739.1 303.9l1.9-0.9-7.5 71.8-2.1 0.9z"/>
<path fill="#1d1dff" stroke="#1d1dff" d="M741 303l2-0.9-7.3 71.7-2.2 1z"/>
<path fill="#1f1fff" stroke="#1f1fff" d="M743 302.1l1.9-1-7.1 71.6-2.1 1.1z"/>
<path fill="#2121ff" stroke="#2121ff" d="M744.9 301.1l1.4-0.7-7 71.6-1.5 0.7z"/>
<path fill="#2222ff" stroke="#2222ff" d="M746.3 300.4l0.6-0.3-7 71.6-0.6 0.3z"/>
<path fill="#2323ff" stroke="#2323ff" d="M746.9 300.1l1.9-1.1-6.8 71.5-2.1 1.2z"/>
<path fill="#2626ff" stroke="#2626ff" d="M748.8 299l2-1.1-6.6 71.4-2.2 1.2z"/>
<path fill="#2828ff" stroke="#2828ff" d="M750.8 297.9l1.9-1.2-6.4 71.2-2.1 1.4z"/>
<path fill="#2b2bff" stroke="#2b2bff" d="M752.7 296.7l1.9-1.3-6.2 71.1-2.1 1.4z"/>
<path fill="#2e2eff" stroke="#2e2eff" d="M754.6 295.4l2-1.4-6.1 71.1-2.1 1.4z"/>
<path fill="#3131ff" stroke="#3131ff" d="M756.6 294l1.9-1.4-5.9 70.9-2.1 1.6z"/>
<path fill="#3535ff" stroke="#3535ff" d="M758.5 292.6l2-1.5-5.8 70.8-2.1 1.6z"/>
<path fill="#3838ff" stroke="#3838ff" d="M760.5 291.1l1.9-1.6-5.6 70.7-2.1 1.7z"/>
<path fill="#3c3cff" stroke="#3c3cff" d="M762.4 289.5l1.9-1.7-5.4 70.6-2.1 1.8z"/>
<path fill="#3e3eff" stroke="#3e3eff" d="M764.3 287.8l0.5-0.4-5.3 70.5-0.6 0.5z"/>
<path fill="#4040ff" stroke="#4040ff" d="M764.8 287.4l1.5-1.5-5.2 70.4-1.6 1.6z"/>
<path fill="#4444ff" stroke="#4444ff" d="M766.3 285.9l1.7-1.9-5.1 70.2-1.8 2.1z"/>
<path fill="#4646ff" stroke="#4646ff" d="M768 284l0.2-0.2-5 70.2-0.3 0.2z"/>
<path fill="#4848ff" stroke="#4848ff" d="M768.2 283.8l1.9-1.6-4.8 70-2.1 1.8z"/>
<path fill="#4a4aff" stroke="#4a4aff" d="M770.1 282.2l0.3-0.3-4.9 70.1-0.2 0.2z"/>
<path fill="#4d4dff" stroke="#4d4dff" d="M770.4 281.9l1.7-2-4.7 69.9-1.9 2.2z"/>
<path fill="#5252ff" stroke="#5252ff" d="M772.1 279.9l1.9-2.6-4.5 69.6-2.1 2.9z"/>
<path fill="#5656ff" stroke="#5656ff" d="M774 277.3l1-1.5-4.5 69.6-1 1.5z"/>
<path fill="#5959ff" stroke="#5959ff" d="M775 275.8l0.9-1.5-4.3 69.4-1.1 1.7z"/>
<path fill="#5d5dff" stroke="#5d5dff" d="M775.9 274.3l1-1.6-4.3 69.4-1 1.6z"/>
<path fill="#6060ff" stroke="#6060ff" d="M776.9 272.7l0.9-1.5-4.2 69.2-1 1.7z"/>
<path fill="#6464ff" stroke="#6464ff" d="M777.8 271.2l0.9-1.4-4.1 69.1-1 1.5z"/>
<path fill="#6565ff" stroke="#6565ff" d="M778.7 269.8l0.1-0.2-4.1 69.1-0.1 0.2z"/>
<path fill="#6767ff" stroke="#6767ff" d="M778.8 269.6l1-1.6-4.1 69-1 1.7z"/>
<path fill="#6b6bff" stroke="#6b6bff" d="M779.8 268l0.9-1.6-3.9 68.8-1.1 1.8z"/>
<path fill="#6e6eff" stroke="#6e6eff" d="M780.7 266.4l1-1.7-3.9 68.6-1 1.9z"/>
<path fill="#7272ff" stroke="#7272ff" d="M781.7 264.7l0.9-1.8-3.7 68.5-1.1 1.9z"/>
<path fill="#7676ff" stroke="#7676ff" d="M782.6 262.9l1-1.8-3.7 68.4-1 1.9z"/>
<path fill="#7a7aff" stroke="#7a7aff" d="M783.6 261.1l1-1.8-3.7 68.3-1 1.9z"/>
<path fill="#7e7eff" stroke="#7e7eff" d="M784.6 259.3l0.9-1.7-3.5 68-1.1 2z"/>
<path fill="#8282ff" stroke="#8282ff" d="M785.5 257.6l1-1.8-3.5 67.9-1 1.9z"/>
<path fill="#8686ff" stroke="#8686ff" d="M786.5 255.8l0.9-1.7-3.3 67.8-1.1 1.8z"/>
<path fill="#8989ff" stroke="#8989ff" d="M787.4 254.1l0.6-1-3.3 67.7-0.6 1.1z"/>
<path fill="#8b8bff" stroke="#8b8bff" d="M788 253.1l0.4-0.7-3.3 67.7-0.4 0.7z"/>
<path fill="#8d8dff" stroke="#8d8dff" d="M788.4 252.4l1-1.7-3.2 67.5-1.1 1.9z"/>
<path fill="#9191ff" stroke="#9191ff" d="M789.4 250.7l0.9-1.6-3.1 67.3-1 1.8z"/>
<path fill="#9595ff" stroke="#9595ff" d="M790.3 249.1l1-1.7-3.1 67.2-1 1.8z"/>
<path fill="#9898ff" stroke="#9898ff" d="M791.3 247.4l0.9-1.7-2.9 67.1-1.1 1.8z"/>
<path fill="#9c9cff" stroke="#9c9cff" d="M792.2 245.7l1-1.7-2.9 67-1 1.8z"/>
<path fill="#a0a0ff" stroke="#a0a0ff" d="M793.2 244l1-1.7-2.8 66.9-1.1 1.8z"/>
<path fill="#a3a3ff" stroke="#a3a3ff" d="M794.2 242.3l0.9-1.6-2.7 66.7-1 1.8z"/>
<path fill="#a7a7ff" stroke="#a7a7ff" d="M795.1 240.7l1-1.6-2.6 66.5-1.1 1.8z"/>
<path fill="#aaaaff" stroke="#aaaaff" d="M796.1 239.1l1-1.6-2.6 66.4-1 1.7z"/>
<path fill="#aeaeff" stroke="#aeaeff" d="M797.1 237.5l0.9-1.6-2.4 66.3-1.1 1.7z"/>
<path fill="#b1b1ff" stroke="#b1b1ff" d="M798 235.9l1-1.5-2.4 66.1-1 1.7z"/>
<path fill="#b5b5ff" stroke="#b5b5ff" d="M799 234.4l1-1.5-2.3 66-1.1 1.6z"/>
<path fill="#b8b8ff" stroke="#b8b8ff" d="M800 232.9l0.9-1.5-2.2 65.9-1 1.6z"/>
<path fill="#bbbbff" stroke="#bbbbff" d="M800.9 231.4l1-1.4-2.1 65.8-1.1 1.5z"/>
<path fill="#bebeff" stroke="#bebeff" d="M801.9 230l1-1.4-2.1 65.7-1 1.5z"/>
<path fill="#c2c2ff" stroke="#c2c2ff" d="M802.9 228.6l1.9-2.6-1.9 65.4-2.1 2.9z"/>
<path fill="#c8c8ff" stroke="#c8c8ff" d="M804.8 226l1.9-2.3-1.6 65.3-2.2 2.4z"/>
<path fill="#cbcbff" stroke="#cbcbff" d="M806.7 223.7l0.3-0.2-1.7 65.3-0.2 0.2z"/>
<path fill="#ccccff" stroke="#ccccff" d="M807 223.5l1.7-1.5-1.5 65.1-1.9 1.7z"/>
<path fill="#d0d0ff" stroke="#d0d0ff" d="M808.7 222l2-1.6-1.4 65.1-2.1 1.6z"/>
<path fill="#d3d3ff" stroke="#d3d3ff" d="M810.7 220.4l1.9-1.4-1.2 65-2.1 1.5z"/>
<path fill="#d6d6ff" stroke="#d6d6ff" d="M812.6 219l2-1.1-1 64.8-2.2 1.3z"/>
<path fill="#d8d8ff" stroke="#d8d8ff" d="M814.6 217.9l2-0.9-0.9 64.7-2.1 1z"/>
<path fill="#d9d9ff" stroke="#d9d9ff" d="M816.6 217l0.2-0.1-0.8 64.8-0.3 0z"/>
<path fill="#dadaff" stroke="#dadaff" d="M816.8 216.9l1.7-0.6-0.6 64.7-1.9 0.7z"/>
<path fill="#dbdbff" stroke="#dbdbff" d="M818.5 216.3l2-0.7-0.5 64.7-2.1 0.7z"/>
<path fill="#ddddff" stroke="#ddddff" d="M820.5 215.6l2-0.6-0.3 64.6-2.2 0.7z"/>
<path fill="#dedeff" stroke="#dedeff" d="M822.5 215l1.9-0.4 2-0.3 0 64.6-2.1 0.3-2.1 0.4z"/>
<path fill="#dfdfff" stroke="#dfdfff" d="M826.4 214.3l0.9 0 1.1 0 0.2 64.6-1.2 0-1 0z"/>
<path fill="#dedeff" stroke="#dedeff" d="M828.4 214.3l2 0.1 2 0.2 2 0.2 0.7 64.7-2.2-0.3-2.1-0.2-2.2-0.1z"/>
<path fill="#ddddff" stroke="#ddddff" d="M834.4 214.8l1.9 0.3 0.9 64.7-2.1-0.3z"/>
<path fill="#dcdcff" stroke="#dcdcff" d="M836.3 215.1l2 0.2 2 0.2 2 0.1 1.4 64.7-2.2-0.1-2.1-0.2-2.2-0.2z"/>
<path fill="#dbdbff" stroke="#dbdbff" d="M842.3 215.6l0.7 0 1.3 0 2 0 1.9-0.1 1.9 64.8-2.1 0-2.2 0-1.3 0-0.8 0z"/>
<path fill="#dcdcff" stroke="#dcdcff" d="M848.2 215.5l2 0 2.1 64.8-2.2 0z"/>
<path fill="#ff1111" stroke="#ff1111" d="M1127.5 87l2 0 2 0.1 2 0 2 0 2 0 2 0 24.9 56.1-2.2 0-2.1 0-2.2 0-2.1-0.1-2.2-0.1-2.1 0z"/>
<path fill="#ff1010" stroke="#ff1010" d="M1119.4 86.6l2 0.1 2 0.1 2.1 0.1 2 0.1 24 56-2.2-0.1-2.1-0.1-2.2-0.1-2.1-0.1z"/>
<path fill="#ff0f0f" stroke="#ff0f0f" d="M1111.4 86.2l2 0.1 2 0.1 2 0.1 2 0.1 23.5 56-2.2-0.1-2.1-0.2-2.2-0.1-2.1-0.1z"/>
<path fill="#ff0e0e" stroke="#ff0e0e" d="M1105.4 85.8l2 0.2 2 0.1 2 0.1 22.9 55.9-2.2-0.2-2.1-0.1-2.2-0.2z"/>
<path fill="#ff0d0d" stroke="#ff0d0d" d="M1099.4 85.4l2 0.2 1.7 0.1 0.3 0 2 0.1 22.4 55.8-2.1-0.1-0.3-0.1-1.9-0.1-2.1-0.3z"/>
<path fill="#ff0c0c" stroke="#ff0c0c" d="M1095.4 84.8l2 0.3 2 0.3 22 55.6-2.2-0.3-2.1-0.3z"/>
<path fill="#ff0b0b" stroke="#ff0b0b" d="M1093.4 84.5l2 0.3 21.7 55.6-2.2-0.3z"/>
<path fill="#ff0a0a" stroke="#ff0a0a" d="M1091.4 84.2l2 0.3 21.5 55.6-2.1-0.4z"/>
<path fill="#ff0909" stroke="#ff0909" d="M1087.4 83.5l2 0.4 2 0.3 21.4 55.5-2.2-0.4-2.1-0.3z"/>
<path fill="#ff0808" stroke="#ff0808" d="M1085.4 83.2l2 0.3 21.1 55.5-2.2-0.3z"/>
<path fill="#ff0707" stroke="#ff0707" d="M1081.4 82.8l2 0.2 2 0.2 20.9 55.5-2.1-0.4-2.2-0.2z"/>
<path fill="#ff0606" stroke="#ff0606" d="M1075.3 82.3l2 0.1 2.1 0.2 0.1 0 1.9 0.2 20.6 55.3-2-0.2-0.1 0-2.2-0.2-2.2-0.2z"/>
<path fill="#ff0505" stroke="#ff0505" d="M1069.3 81.9l2 0.1 2 0.1 2 0.2 20.2 55.2-2.1-0.1-2.2-0.2-2.1-0.1z"/>
<path fill="#ff0404" stroke="#ff0404" d="M1061.3 81.9l2-0.1 0.4 0 1.6 0 2 0 2 0.1 19.8 55.2-2.2-0.1-2.1-0.1-1.8 0-0.4 0-2.1 0.1z"/>
<path fill="#ff0505" stroke="#ff0505" d="M1057.3 82.5l2-0.4 2-0.2 19.2 55.1-2.2 0.3-2.2 0.3z"/>
<path fill="#ff0606" stroke="#ff0606" d="M1055.3 82.9l2-0.4 18.8 55.1-2.1 0.5z"/>
<path fill="#ff0707" stroke="#ff0707" d="M1053.3 83.4l2-0.5 18.7 55.2-2.2 0.5z"/>
<path fill="#ff0808" stroke="#ff0808" d="M1051.3 84l2-0.6 18.5 55.2-2.2 0.6z"/>
<path fill="#ff0909" stroke="#ff0909" d="M1049.2 84.7l2.1-0.7 18.3 55.2-2.1 0.7z"/>
<path fill="#ff0b0b" stroke="#ff0b0b" d="M1047.2 85.4l2-0.7 18.3 55.2-2.2 0.8z"/>
<path fill="#ff0c0c" stroke="#ff0c0c" d="M1045.2 86.1l2-0.7 18.1 55.3-2.1 0.8z"/>
<path fill="#ff0e0e" stroke="#ff0e0e" d="M1043.2 86.9l2-0.8 18 55.4-2.2 0.8z"/>
<path fill="#ff0f0f" stroke="#ff0f0f" d="M1042.7 87.1l0.5-0.2 17.8 55.4-0.6 0.2z"/>
<path fill="#ff1010" stroke="#ff1010" d="M1041.2 87.8l1.5-0.7 17.7 55.4-1.6 0.7z"/>
<path fill="#ff1212" stroke="#ff1212" d="M1039.2 88.9l2-1.1 17.6 55.4-2.1 1.2z"/>
<path fill="#ff1414" stroke="#ff1414" d="M1037.2 90.3l2-1.4 17.5 55.5-2.2 1.5z"/>
<path fill="#ff1717" stroke="#ff1717" d="M1035.2 91.8l2-1.5 17.3 55.6-2.2 1.6z"/>
<path fill="#ff1b1b" stroke="#ff1b1b" d="M1033.2 93.5l2-1.7 17.1 55.7-2.1 1.8z"/>
<path fill="#ff1f1f" stroke="#ff1f1f" d="M1031.2 95.3l2-1.8 17 55.8-2.2 1.9z"/>
<path fill="#ff2222" stroke="#ff2222" d="M1029.1 97l2.1-1.7 16.8 55.9-2.2 1.9z"/>
<path fill="#ff2626" stroke="#ff2626" d="M1027.1 98.8l2-1.8 16.7 56.1-2.1 1.9z"/>
<path fill="#ff2828" stroke="#ff2828" d="M1027 98.9l0.1-0.1 16.6 56.2-0.2 0.1z"/>
<path fill="#ff2a2a" stroke="#ff2a2a" d="M1025.1 100.5l1.9-1.6 16.5 56.2-2 1.8z"/>
<path fill="#ff2e2e" stroke="#ff2e2e" d="M1023.1 102.4l2-1.9 16.4 56.4-2.2 2z"/>
<path fill="#ff3232" stroke="#ff3232" d="M1021.1 104.3l2-1.9 16.2 56.5-2.1 2.1z"/>
<path fill="#ff3636" stroke="#ff3636" d="M1019.1 106.3l2-2 16.1 56.7-2.2 2.1z"/>
<path fill="#ff3a3a" stroke="#ff3a3a" d="M1017.1 108.4l2-2.1 15.9 56.8-2.2 2.2z"/>
<path fill="#ff3f3f" stroke="#ff3f3f" d="M1015.1 110.5l2-2.1 15.7 56.9-2.1 2.3z"/>
<path fill="#ff4343" stroke="#ff4343" d="M1013.1 112.6l2-2.1 15.6 57.1-2.2 2.2z"/>
<path fill="#ff4848" stroke="#ff4848" d="M1011.1 114.7l2-2.1 15.4 57.2-2.2 2.3z"/>
<path fill="#ff4c4c" stroke="#ff4c4c" d="M1009.1 116.8l2-2.1 15.2 57.4-2.1 2.2z"/>
<path fill="#ff5151" stroke="#ff5151" d="M1007.1 118.8l2-2 15.1 57.5-2.2 2.2z"/>
<path fill="#ff5454" stroke="#ff5454" d="M1006 119.9l1.1-1.1 14.9 57.7-1.1 1.2z"/>
<path fill="#ff5656" stroke="#ff5656" d="M1005.1 120.8l0.9-0.9 14.9 57.8-1.1 1z"/>
<path fill="#ff5959" stroke="#ff5959" d="M1003.1 122.9l2-2.1 14.7 57.9-2.1 2.2z"/>
<path fill="#ff5e5e" stroke="#ff5e5e" d="M1001.1 124.9l2-2 14.6 58-2.2 2.1z"/>
<path fill="#ff6262" stroke="#ff6262" d="M999 126.9l2.1-2 14.4 58.1-2.1 2.2z"/>
<path fill="#ff6666" stroke="#ff6666" d="M997 129l2-2.1 14.4 58.3-2.2 2.2z"/>
<path fill="#ff6b6b" stroke="#ff6b6b" d="M995 131l2-2 14.2 58.4-2.2 2.2z"/>
<path fill="#ff6f6f" stroke="#ff6f6f" d="M993 133l2-2 14 58.6-2.1 2.2z"/>
<path fill="#ff7373" stroke="#ff7373" d="M991 135l2-2 13.9 58.8-2.2 2.1z"/>
<path fill="#ff7878" stroke="#ff7878" d="M989.1 137l1.9-2 13.7 58.9-2.1 2.1z"/>
<path fill="#ff7c7c" stroke="#ff7c7c" d="M987.1 138.9l2-1.9 13.5 59-2.2 2.1z"/>
<path fill="#ff8080" stroke="#ff8080" d="M985.1 140.8l2-1.9 13.3 59.2-2.1 2.1z"/>
<path fill="#ff8282" stroke="#ff8282" d="M985 140.9l0.1-0.1 13.2 59.4-0.1 0z"/>
<path fill="#ff8484" stroke="#ff8484" d="M983.1 142.7l1.9-1.8 13.2 59.3-2.1 2z"/>
<path fill="#ff8888" stroke="#ff8888" d="M981.1 144.6l2-1.9 13 59.5-2.2 2z"/>
<path fill="#ff8c8c" stroke="#ff8c8c" d="M979.1 146.5l2-1.9 12.8 59.6-2.1 2z"/>
<path fill="#ff9090" stroke="#ff9090" d="M977.1 148.3l2-1.8 12.7 59.7-2.2 2z"/>
<path fill="#ff9494" stroke="#ff9494" d="M975.1 150.1l2-1.8 12.5 59.9-2.1 1.9z"/>
<path fill="#ff9898" stroke="#ff9898" d="M973.1 151.9l2-1.8 12.4 60-2.2 2z"/>
<path fill="#ff9c9c" stroke="#ff9c9c" d="M971.1 153.7l2-1.8 12.2 60.2-2.1 1.9z"/>
<path fill="#ffa0a0" stroke="#ffa0a0" d="M969.1 155.5l2-1.8 12.1 60.3-2.2 1.9z"/>
<path fill="#ffa3a3" stroke="#ffa3a3" d="M967.1 157.2l2-1.7 11.9 60.4-2.1 1.9z"/>
<path fill="#ffa7a7" stroke="#ffa7a7" d="M965.1 159l2-1.8 11.8 60.6-2.2 1.9z"/>
<path fill="#ffabab" stroke="#ffabab" d="M963.1 160.7l2-1.7 11.6 60.7-2.1 1.8z"/>
<path fill="#ffafaf" stroke="#ffafaf" d="M961.1 162.4l2-1.7 11.5 60.8-2.2 1.9z"/>
<path fill="#ffb2b2" stroke="#ffb2b2" d="M959.2 164.1l1.9-1.7 11.3 61-2.1 1.8z"/>
<path fill="#ffb5b5" stroke="#ffb5b5" d="M958.7 164.5l0.5-0.4 11.1 61.1-0.5 0.4z"/>
<path fill="#ffb6b6" stroke="#ffb6b6" d="M957.2 165.8l1.5-1.3 11.1 61.1-1.7 1.4z"/>
<path fill="#ffbaba" stroke="#ffbaba" d="M955.2 167.5l2-1.7 10.9 61.2-2.1 1.8z"/>
<path fill="#ffbdbd" stroke="#ffbdbd" d="M953.2 169.2l2-1.7 10.8 61.3-2.2 1.8z"/>
<path fill="#ffc1c1" stroke="#ffc1c1" d="M951.2 170.9l2-1.7 10.6 61.4-2.1 1.8z"/>
<path fill="#ffc4c4" stroke="#ffc4c4" d="M949.2 172.5l2-1.6 10.5 61.5-2.2 1.8z"/>
<path fill="#ffc8c8" stroke="#ffc8c8" d="M947.2 174.2l2-1.7 10.3 61.7-2.1 1.8z"/>
<path fill="#ffcccc" stroke="#ffcccc" d="M945.3 175.8l1.9-1.6 10.2 61.8-2.2 1.8z"/>
<path fill="#ffcfcf" stroke="#ffcfcf" d="M943.3 177.4l2-1.6 9.9 62-2.1 1.7z"/>
<path fill="#ffd3d3" stroke="#ffd3d3" d="M941.3 179l2-1.6 9.8 62.1-2.2 1.7z"/>
<path fill="#ffd6d6" stroke="#ffd6d6" d="M939.3 180.5l2-1.5 9.6 62.2-2.1 1.6z"/>
<path fill="#ffd9d9" stroke="#ffd9d9" d="M937.3 182l2-1.5 9.5 62.3-2.1 1.7z"/>
<path fill="#ffdcdc" stroke="#ffdcdc" d="M935.3 183.5l2-1.5 9.4 62.5-2.2 1.5z"/>
<path fill="#ffdfdf" stroke="#ffdfdf" d="M933.3 184.9l2-1.4 9.2 62.5-2.1 1.5z"/>
<path fill="#ffe2e2" stroke="#ffe2e2" d="M932.5 185.5l0.8-0.6 9.1 62.6-1 0.7z"/>
<path fill="#ffe3e3" stroke="#ffe3e3" d="M931.4 186.3l1.1-0.8 8.9 62.7-1.2 0.8z"/>
<path fill="#ffe5e5" stroke="#ffe5e5" d="M929.4 187.6l2-1.3 8.8 62.7-2.1 1.4z"/>
<path fill="#ffe8e8" stroke="#ffe8e8" d="M927.4 188.9l2-1.3 8.7 62.8-2.2 1.4z"/>
<path fill="#ffebeb" stroke="#ffebeb" d="M925.4 190.2l2-1.3 8.5 62.9-2.1 1.4z"/>
<path fill="#ffeeee" stroke="#ffeeee" d="M923.4 191.5l2-1.3 8.4 63-2.2 1.4z"/>
<path fill="#fff1f1" stroke="#fff1f1" d="M921.5 192.7l1.9-1.2 8.2 63.1-2.1 1.3z"/>
<path fill="#fff3f3" stroke="#fff3f3" d="M919.5 193.9l2-1.2 8 63.2-2.1 1.3z"/>
<path fill="#fff6f6" stroke="#fff6f6" d="M917.5 195.1l2-1.2 7.9 63.3-2.2 1.3z"/>
<path fill="#fff8f8" stroke="#fff8f8" d="M915.5 196.3l2-1.2 7.7 63.4-2.1 1.2z"/>
<path fill="#fffbfb" stroke="#fffbfb" d="M913.5 197.4l2-1.1 7.6 63.4-2.2 1.2z"/>
<path fill="#fffdfd" stroke="#fffdfd" d="M911.6 198.5l1.9-1.1 7.4 63.5-2.1 1.2z"/>
<path fill="#ffffff" stroke="#ffffff" d="M909.6 199.5l2-1 7.2 63.6-2.2 1.1z"/>
<path fill="#fcfcff" stroke="#fcfcff" d="M907.6 200.5l2-1 7 63.7-2.1 1.1z"/>
<path fill="#fbfbff" stroke="#fbfbff" d="M906.2 201.2l1.4-0.7 6.9 63.8-1.5 0.7z"/>
<path fill="#fafaff" stroke="#fafaff" d="M905.6 201.5l0.6-0.3 6.8 63.8-0.6 0.3z"/>
<path fill="#f8f8ff" stroke="#f8f8ff" d="M903.6 202.4l2-0.9 6.8 63.8-2.2 1z"/>
<path fill="#f6f6ff" stroke="#f6f6ff" d="M901.7 203.3l1.9-0.9 6.6 63.9-2.1 1z"/>
<path fill="#f4f4ff" stroke="#f4f4ff" d="M899.7 204.2l2-0.9 6.4 64-2.2 0.9z"/>
<path fill="#f3f3ff" stroke="#f3f3ff" d="M897.7 205l2-0.8 6.2 64-2.1 0.9z"/>
<path fill="#f1f1ff" stroke="#f1f1ff" d="M895.7 205.8l2-0.8 6.1 64.1-2.2 0.9z"/>
<path fill="#efefff" stroke="#efefff" d="M893.8 206.6l1.9-0.8 5.9 64.2-2.1 0.8z"/>
<path fill="#ededff" stroke="#ededff" d="M891.8 207.4l2-0.8 5.7 64.2-2.1 0.9z"/>
<path fill="#ececff" stroke="#ececff" d="M889.8 208.2l2-0.8 5.6 64.3-2.2 0.8z"/>
<path fill="#eaeaff" stroke="#eaeaff" d="M887.8 208.9l2-0.7 5.4 64.3-2.1 0.8z"/>
<path fill="#e9e9ff" stroke="#e9e9ff" d="M885.8 209.6l2-0.7 5.3 64.4-2.2 0.8z"/>
<path fill="#e7e7ff" stroke="#e7e7ff" d="M883.9 210.3l1.9-0.7 5.1 64.5-2.1 0.7z"/>
<path fill="#e6e6ff" stroke="#e6e6ff" d="M881.9 211l2-0.7 4.9 64.5-2.2 0.8z"/>
<path fill="#e4e4ff" stroke="#e4e4ff" d="M880 211.7l1.9-0.7 4.7 64.6-2 0.7z"/>
<path fill="#e3e3ff" stroke="#e3e3ff" d="M879.9 211.7l0.1 0 4.6 64.6-0.1 0z"/>
<path fill="#e2e2ff" stroke="#e2e2ff" d="M877.9 212.5l2-0.8 4.6 64.6-2.1 0.8z"/>
<path fill="#e1e1ff" stroke="#e1e1ff" d="M876 213.3l1.9-0.8 4.5 64.6-2.2 0.9z"/>
<path fill="#dfdfff" stroke="#dfdfff" d="M874 214.1l2-0.8 4.2 64.7-2.1 0.8z"/>
<path fill="#dedeff" stroke="#dedeff" d="M872 214.7l2-0.6 4.1 64.7-2.2 0.7z"/>
<path fill="#ddddff" stroke="#ddddff" d="M870 215.1l2-0.4 3.9 64.8-2.1 0.4z"/>
<path fill="#dcdcff" stroke="#dcdcff" d="M850.2 215.5l2 0 2 0 2-0.1 1.9 0 2-0.1 2 0 2 0 2-0.1 1.9-0.1 1.3 0 0.7 0 3.8 64.8-0.8 0-1.4 0.1-2.1 0-2.2 0.1-2.1 0-2.2 0-2.1 0.1-2.2 0-2.1 0-2.2 0.1-2.1 0z"/></g>
<g stroke="#000" stroke-width="1.6" stroke-dasharray="4,4" fill="none">
<line x1="1218.2" y1="140.2" x2="1716.9" y2="136.2"/>
<line x1="1219.9" y1="201.0" x2="1716.1" y2="196.4"/>
<line x1="1221.5" y1="260.6" x2="1715.3" y2="256.2"/>
<line x1="1223.1" y1="319.7" x2="1714.6" y2="315.1"/>
<line x1="1299.8" y1="83.0" x2="1303.9" y2="318.9"/>
<line x1="1382.2" y1="82.3" x2="1384.4" y2="318.2"/>
<line x1="1464.6" y1="81.5" x2="1465.9" y2="317.4"/>
<line x1="1546.9" y1="80.8" x2="1546.3" y2="316.7"/>
<line x1="1628.7" y1="80.0" x2="1627.9" y2="315.9"/>
<line x1="1710.2" y1="79.3" x2="1707.9" y2="315.2"/>
</g>
<polyline points="1222.2,324.8 1223.1,320.6 1216.7,83.8 1717.6,79.2 1714.5,320.1" fill="none" stroke="#000" stroke-width="1.6"/>
<polygon points="1222.2,324.8 1258.5,324.5 1244.2,399.2 1205.8,399.6" fill="#4b3fd0" stroke="#4b3fd0" stroke-width="0.5"/>
<polygon points="1258.5,324.5 1290.3,324.1 1278.7,398.8 1244.2,399.2" fill="#dbd9d7" stroke="#dbd9d7" stroke-width="0.5"/>
<polygon points="1290.3,324.1 1331.9,323.8 1323.8,398.3 1278.7,398.8" fill="#c7b6ad" stroke="#c7b6ad" stroke-width="0.5"/>
<polygon points="1331.9,323.8 1341.5,323.7 1334.2,398.2 1323.8,398.3" fill="#747076" stroke="#747076" stroke-width="0.5"/>
<polygon points="1341.5,323.7 1402.4,323.1 1400.3,397.5 1334.2,398.2" fill="#484a66" stroke="#484a66" stroke-width="0.5"/>
<polygon points="1402.4,323.1 1577.0,321.4 1588.5,395.5 1400.3,397.5" fill="#7a16a0" stroke="#7a16a0" stroke-width="0.5"/>
<polygon points="1577.0,321.4 1654.5,320.7 1673.5,394.6 1588.5,395.5" fill="#c6b5ad" stroke="#c6b5ad" stroke-width="0.5"/>
<polygon points="1654.5,320.7 1714.5,320.1 1738.9,393.9 1673.5,394.6" fill="#0000ff" stroke="#0000ff" stroke-width="0.5"/>
<polygon points="1222.2,324.8 1714.5,320.1 1738.9,393.9 1205.8,399.6" fill="none" stroke="#000" stroke-width="1.3"/>
<line x1="1205.8" y1="399.6" x2="1738.9" y2="393.9" stroke="#000" stroke-width="2.2"/>
<g stroke-width="1" stroke-linejoin="round"><path fill="#0000ff" stroke="#0000ff" d="M1223.1 319.7l2 0 1.9 0 2-0.1 2 0 1.9 0 2 0 2 0 1.9 0 2-0.1 2 0 1.9 0 2 0 1.9 0 2 0 2-0.1 1.9 0 2 0 2 0 1.9 0 0.2 0 1.8-0.1 2 0 1.9 0 2 0 2 0 1.9 0 2-0.1 2 0 1.9 0 2 0 2 0 1.9-0.1 2-0.2-10.5 73.1-2.2 0.2-2.1 0.1-2.1 0-2.2 0.1-2.1 0-2.2 0-2.1 0-2.2 0-2.1 0-2.2 0.1-2.1 0-2.2 0-2 0-0.1 0-2.2 0-2.1 0-2.2 0.1-2.1 0-2.2 0-2.1 0-2.2 0-2.1 0-2.2 0.1-2.1 0-2.2 0-2.1 0-2.2 0-2.1 0-2.2 0.1-2.1 0-2.2 0-2.1 0-2.2 0z"/>
<path fill="#0101ff" stroke="#0101ff" d="M1286 318.9l0.8-0.1 1.1-0.1 2-0.2 2-0.2-10 73.1-2.1 0.2-2.2 0.2-1.2 0.1-0.9 0.1z"/>
<path fill="#0202ff" stroke="#0202ff" d="M1291.9 318.3l1.9-0.2 2-0.2-9.6 73.1-2.1 0.2-2.2 0.2z"/>
<path fill="#0303ff" stroke="#0303ff" d="M1295.8 317.9l1.9-0.2 2-0.3-9.2 73-2.2 0.3-2.1 0.3z"/>
<path fill="#0404ff" stroke="#0404ff" d="M1299.7 317.4l2-0.2 1.9-0.3-8.8 73-2.2 0.3-2.1 0.2z"/>
<path fill="#0505ff" stroke="#0505ff" d="M1303.6 316.9l2-0.3-8.7 73-2.1 0.3z"/>
<path fill="#0606ff" stroke="#0606ff" d="M1305.6 316.6l2-0.3 1.9-0.3-8.3 72.9-2.2 0.3-2.1 0.4z"/>
<path fill="#0707ff" stroke="#0707ff" d="M1309.5 316l2-0.4-8.2 72.9-2.1 0.4z"/>
<path fill="#0808ff" stroke="#0808ff" d="M1311.5 315.6l1.6-0.3 0.3-0.1 2-0.4-7.8 72.9-2.2 0.4-0.3 0.1-1.8 0.3z"/>
<path fill="#0909ff" stroke="#0909ff" d="M1315.4 314.8l1.9-0.4-7.6 72.8-2.1 0.5z"/>
<path fill="#0a0aff" stroke="#0a0aff" d="M1317.3 314.4l2-0.6-7.4 72.8-2.2 0.6z"/>
<path fill="#0c0cff" stroke="#0c0cff" d="M1319.3 313.8l2-0.5-7.3 72.7-2.1 0.6z"/>
<path fill="#0d0dff" stroke="#0d0dff" d="M1321.3 313.3l1.9-0.6-7.1 72.6-2.1 0.7z"/>
<path fill="#0e0eff" stroke="#0e0eff" d="M1323.2 312.7l2-0.7-7 72.6-2.1 0.7z"/>
<path fill="#1010ff" stroke="#1010ff" d="M1325.2 312l1.9-0.7-6.7 72.6-2.2 0.7z"/>
<path fill="#1111ff" stroke="#1111ff" d="M1327.1 311.3l2-0.7-6.6 72.5-2.1 0.8z"/>
<path fill="#1313ff" stroke="#1313ff" d="M1329.1 310.6l1.9-0.8-6.4 72.4-2.1 0.9z"/>
<path fill="#1515ff" stroke="#1515ff" d="M1331 309.8l2-0.8-6.2 72.3-2.2 0.9z"/>
<path fill="#1616ff" stroke="#1616ff" d="M1333 309l1.9-0.9-6 72.3-2.1 0.9z"/>
<path fill="#1818ff" stroke="#1818ff" d="M1334.9 308.1l2-0.9-5.9 72.3-2.1 0.9z"/>
<path fill="#1a1aff" stroke="#1a1aff" d="M1336.9 307.2l1.9-0.9-5.7 72.2-2.1 1z"/>
<path fill="#1c1cff" stroke="#1c1cff" d="M1338.8 306.3l2-0.9-5.5 72-2.2 1.1z"/>
<path fill="#1e1eff" stroke="#1e1eff" d="M1340.8 305.4l1.1-0.6-5.4 72-1.2 0.6z"/>
<path fill="#1f1fff" stroke="#1f1fff" d="M1341.9 304.8l0.8-0.4-5.3 72-0.9 0.4z"/>
<path fill="#2121ff" stroke="#2121ff" d="M1342.7 304.4l2-1.2-5.2 71.9-2.1 1.3z"/>
<path fill="#2323ff" stroke="#2323ff" d="M1344.7 303.2l1.9-1.3-5 71.8-2.1 1.4z"/>
<path fill="#2626ff" stroke="#2626ff" d="M1346.6 301.9l2-1.4-4.9 71.7-2.1 1.5z"/>
<path fill="#2929ff" stroke="#2929ff" d="M1348.6 300.5l1.9-1.5-4.6 71.5-2.2 1.7z"/>
<path fill="#2d2dff" stroke="#2d2dff" d="M1350.5 299l2-1.6-4.5 71.4-2.1 1.7z"/>
<path fill="#3030ff" stroke="#3030ff" d="M1352.5 297.4l1.9-1.6-4.3 71.2-2.1 1.8z"/>
<path fill="#3434ff" stroke="#3434ff" d="M1354.4 295.8l1.9-1.7-4.1 71.2-2.1 1.7z"/>
<path fill="#3737ff" stroke="#3737ff" d="M1356.3 294.1l1.4-1.1-4 71.1-1.5 1.2z"/>
<path fill="#3939ff" stroke="#3939ff" d="M1357.7 293l0.6-0.5-4 71-0.6 0.6z"/>
<path fill="#3b3bff" stroke="#3b3bff" d="M1358.3 292.5l1.9-1.7-3.8 70.9-2.1 1.8z"/>
<path fill="#3f3fff" stroke="#3f3fff" d="M1360.2 290.8l2-1.8-3.7 70.7-2.1 2z"/>
<path fill="#4343ff" stroke="#4343ff" d="M1362.2 289l1.9-1.9-3.5 70.6-2.1 2z"/>
<path fill="#4747ff" stroke="#4747ff" d="M1364.1 287.1l2-1.9-3.3 70.4-2.2 2.1z"/>
<path fill="#4b4bff" stroke="#4b4bff" d="M1366.1 285.2l1.9-1.9-3.1 70.2-2.1 2.1z"/>
<path fill="#4f4fff" stroke="#4f4fff" d="M1368 283.3l1.9-2-2.9 70.1-2.1 2.1z"/>
<path fill="#5353ff" stroke="#5353ff" d="M1369.9 281.3l2-1.9-2.8 70-2.1 2z"/>
<path fill="#5757ff" stroke="#5757ff" d="M1371.9 279.4l1.9-1.8-2.6 69.8-2.1 2z"/>
<path fill="#5b5bff" stroke="#5b5bff" d="M1373.8 277.6l2-1.8-2.5 69.7-2.1 1.9z"/>
<path fill="#5f5fff" stroke="#5f5fff" d="M1375.8 275.8l1.9-1.6-2.3 69.5-2.1 1.8z"/>
<path fill="#6262ff" stroke="#6262ff" d="M1377.7 274.2l1-0.8-2.2 69.5-1.1 0.8z"/>
<path fill="#6363ff" stroke="#6363ff" d="M1378.7 273.4l1-0.7-2.1 69.4-1.1 0.8z"/>
<path fill="#6666ff" stroke="#6666ff" d="M1379.7 272.7l1.9-1.5-1.9 69.3-2.1 1.6z"/>
<path fill="#6969ff" stroke="#6969ff" d="M1381.6 271.2l2-1.4-1.8 69.1-2.1 1.6z"/>
<path fill="#6c6cff" stroke="#6c6cff" d="M1383.6 269.8l1.9-1.4-1.6 69-2.1 1.5z"/>
<path fill="#6f6fff" stroke="#6f6fff" d="M1385.5 268.4l2-1.4-1.4 69-2.2 1.4z"/>
<path fill="#7272ff" stroke="#7272ff" d="M1387.5 267l1.9-1.3-1.2 68.9-2.1 1.4z"/>
<path fill="#7575ff" stroke="#7575ff" d="M1389.4 265.7l2-1.3-1.1 68.8-2.1 1.4z"/>
<path fill="#7777ff" stroke="#7777ff" d="M1391.4 264.4l2-1.2-1 68.6-2.1 1.4z"/>
<path fill="#7a7aff" stroke="#7a7aff" d="M1393.4 263.2l1.9-1.3-0.7 68.6-2.2 1.3z"/>
<path fill="#7d7dff" stroke="#7d7dff" d="M1395.3 261.9l2-1.1-0.6 68.4-2.1 1.3z"/>
<path fill="#7f7fff" stroke="#7f7fff" d="M1397.3 260.8l1.9-1.2-0.4 68.4-2.1 1.2z"/>
<path fill="#8282ff" stroke="#8282ff" d="M1399.2 259.6l2-1.2-0.3 68.3-2.1 1.3z"/>
<path fill="#8484ff" stroke="#8484ff" d="M1401.2 258.4l2-1.1-0.1 68.2-2.2 1.2z"/>
<path fill="#8686ff" stroke="#8686ff" d="M1403.2 257.3l1.7-1 0.1 68.1-1.9 1.1z"/>
<path fill="#8888ff" stroke="#8888ff" d="M1404.9 256.3l0.2-0.1 0.1 68.1-0.2 0.1z"/>
<path fill="#8989ff" stroke="#8989ff" d="M1405.1 256.2l2-1.1 0.2 68-2.1 1.2z"/>
<path fill="#8b8bff" stroke="#8b8bff" d="M1407.1 255.1l1.9-1 0.5 67.9-2.2 1.1z"/>
<path fill="#8d8dff" stroke="#8d8dff" d="M1409 254.1l2-1 0.6 67.8-2.1 1.1z"/>
<path fill="#8f8fff" stroke="#8f8fff" d="M1411 253.1l2-1 0.7 67.8-2.1 1z"/>
<path fill="#9191ff" stroke="#9191ff" d="M1413 252.1l1.9-0.9 1 67.7-2.2 1z"/>
<path fill="#9393ff" stroke="#9393ff" d="M1414.9 251.2l2-1 1.1 67.7-2.1 1z"/>
<path fill="#9595ff" stroke="#9595ff" d="M1416.9 250.2l2-0.9 1.2 67.6-2.1 1z"/>
<path fill="#9797ff" stroke="#9797ff" d="M1418.9 249.3l1.9-0.9 1.5 67.5-2.2 1z"/>
<path fill="#9999ff" stroke="#9999ff" d="M1420.8 248.4l2-1 1.6 67.5-2.1 1z"/>
<path fill="#9b9bff" stroke="#9b9bff" d="M1422.8 247.4l2-0.9 1.7 67.4-2.1 1z"/>
<path fill="#9d9dff" stroke="#9d9dff" d="M1424.8 246.5l1.9-1 2 67.3-2.2 1.1z"/>
<path fill="#9f9fff" stroke="#9f9fff" d="M1426.7 245.5l2-1 2.1 67.2-2.1 1.1z"/>
<path fill="#ff0808" stroke="#ff0808" d="M1709.5 82.8l2 0.1 2 0.1 2 0.1 1.6 0 0.5 0 24.8 55.8-0.4 0-1.7-0.1-2.2-0.1-2.1 0-2.1-0.1z"/>
<path fill="#ff0707" stroke="#ff0707" d="M1697.5 82.4l2 0.1 2 0.1 2 0 2 0.1 2 0.1 2 0 24.4 55.8-2.2-0.1-2.1-0.1-2.2-0.1-2.1-0.1-2.2-0.1-2.1-0.1z"/>
<path fill="#ff0606" stroke="#ff0606" d="M1689.5 82.1l2 0.1 2 0 2 0.1 2 0.1 23.5 55.6-2.2-0.1-2.1-0.1-2.2-0.1-2.1-0.1z"/>
<path fill="#ff0505" stroke="#ff0505" d="M1679.5 81.6l2 0.1 1.5 0.1 0.5 0 2 0.1 2 0.1 2 0.1 22.9 55.5-2.2-0.1-2.1-0.1-2.2-0.1-0.5-0.1-1.6-0.1-2.2-0.1z"/>
<path fill="#ff0404" stroke="#ff0404" d="M1673.5 81.2l2 0.2 2 0.1 2 0.1 22.1 55.4-2.1-0.1-2.2-0.2-2.1-0.2z"/>
<path fill="#ff0303" stroke="#ff0303" d="M1667.5 80.8l2 0.1 2 0.2 2 0.1 21.7 55.3-2.2-0.1-2.1-0.2-2.2-0.1z"/>
<path fill="#ff0202" stroke="#ff0202" d="M1645.4 81.1l2-0.2 2-0.1 2-0.1 2.1-0.1 2-0.1 1.3 0 0.7 0 2 0 2 0.1 2 0 2 0.1 2 0.1 21.2 55.3-2.1-0.2-2.2-0.1-2.1-0.1-2.2 0-2.1-0.1-0.7 0-1.5 0-2.1 0.1-2.2 0.1-2.1 0.1-2.2 0.1-2.2 0.2z"/>
<path fill="#ff0303" stroke="#ff0303" d="M1641.4 81.5l2-0.2 2-0.2 19.6 55.1-2.1 0.2-2.2 0.2z"/>
<path fill="#ff0404" stroke="#ff0404" d="M1637.4 81.9l1-0.1 1-0.1 2-0.2 19.3 55.1-2.1 0.2-1.1 0.1-1.1 0.1z"/>
<path fill="#ff0505" stroke="#ff0505" d="M1633.4 82.7l2-0.5 2-0.3 19 55.1-2.1 0.4-2.2 0.4z"/>
<path fill="#ff0606" stroke="#ff0606" d="M1631.4 83.2l2-0.5 18.7 55.1-2.2 0.5z"/>
<path fill="#ff0707" stroke="#ff0707" d="M1629.4 83.8l2-0.6 18.5 55.1-2.1 0.6z"/>
<path fill="#ff0909" stroke="#ff0909" d="M1627.4 84.4l2-0.6 18.4 55.1-2.2 0.7z"/>
<path fill="#ff0a0a" stroke="#ff0a0a" d="M1625.4 85.1l2-0.7 18.2 55.2-2.1 0.8z"/>
<path fill="#ff0c0c" stroke="#ff0c0c" d="M1623.4 85.9l2-0.8 18.1 55.3-2.2 0.8z"/>
<path fill="#ff0d0d" stroke="#ff0d0d" d="M1621.4 86.7l2-0.8 17.9 55.3-2.2 0.9z"/>
<path fill="#ff0f0f" stroke="#ff0f0f" d="M1619.3 87.5l2.1-0.8 17.7 55.4-2.1 0.9z"/>
<path fill="#ff1111" stroke="#ff1111" d="M1617.4 88.4l1.9-0.9 17.7 55.5-2.1 0.9z"/>
<path fill="#ff1212" stroke="#ff1212" d="M1617.3 88.4l0.1 0 17.5 55.5-0.1 0z"/>
<path fill="#ff1313" stroke="#ff1313" d="M1615.3 89.4l2-1 17.5 55.5-2.2 1z"/>
<path fill="#ff1515" stroke="#ff1515" d="M1613.3 90.6l2-1.2 17.3 55.5-2.1 1.3z"/>
<path fill="#ff1717" stroke="#ff1717" d="M1611.3 91.9l2-1.3 17.2 55.6-2.2 1.4z"/>
<path fill="#ff1a1a" stroke="#ff1a1a" d="M1609.3 93.3l2-1.4 17 55.7-2.1 1.6z"/>
<path fill="#ff1e1e" stroke="#ff1e1e" d="M1607.3 94.9l2-1.6 16.9 55.9-2.2 1.6z"/>
<path fill="#ff2121" stroke="#ff2121" d="M1605.3 96.6l2-1.7 16.7 55.9-2.2 1.8z"/>
<path fill="#ff2525" stroke="#ff2525" d="M1603.3 98.3l2-1.7 16.5 56-2.1 1.9z"/>
<path fill="#ff2828" stroke="#ff2828" d="M1601.3 100.1l2-1.8 16.4 56.2-2.2 1.9z"/>
<path fill="#ff2c2c" stroke="#ff2c2c" d="M1599.3 102l2-1.9 16.2 56.3-2.2 2z"/>
<path fill="#ff3030" stroke="#ff3030" d="M1597.3 103.8l2-1.8 16 56.4-2.1 2z"/>
<path fill="#ff3434" stroke="#ff3434" d="M1595.3 105.7l2-1.9 15.9 56.6-2.2 2z"/>
<path fill="#ff3838" stroke="#ff3838" d="M1593.3 107.5l2-1.8 15.7 56.7-2.2 2z"/>
<path fill="#ff3c3c" stroke="#ff3c3c" d="M1591.2 109.4l2.1-1.9 15.5 56.9-2.1 1.9z"/>
<path fill="#ff3e3e" stroke="#ff3e3e" d="M1591.2 109.4l0 0 15.5 56.9-0.1 0.1z"/>
<path fill="#ff4040" stroke="#ff4040" d="M1589.2 111.2l2-1.8 15.4 57-2.1 1.9z"/>
<path fill="#ff4343" stroke="#ff4343" d="M1587.2 113l2-1.8 15.3 57.1-2.2 2z"/>
<path fill="#ff4747" stroke="#ff4747" d="M1585.2 114.9l2-1.9 15.1 57.3-2.1 2z"/>
<path fill="#ff4b4b" stroke="#ff4b4b" d="M1583.2 116.9l2-2 15 57.4-2.2 2.1z"/>
<path fill="#ff5050" stroke="#ff5050" d="M1581.2 118.8l2-1.9 14.8 57.5-2.1 2.1z"/>
<path fill="#ff5454" stroke="#ff5454" d="M1579.2 120.8l2-2 14.7 57.7-2.2 2.2z"/>
<path fill="#ff5858" stroke="#ff5858" d="M1577.2 122.9l2-2.1 14.5 57.9-2.2 2.1z"/>
<path fill="#ff5c5c" stroke="#ff5c5c" d="M1575.2 124.9l2-2 14.3 57.9-2.1 2.2z"/>
<path fill="#ff6161" stroke="#ff6161" d="M1573.2 127l2-2.1 14.2 58.1-2.2 2.3z"/>
<path fill="#ff6565" stroke="#ff6565" d="M1571.2 129.1l2-2.1 14 58.3-2.1 2.2z"/>
<path fill="#ff6969" stroke="#ff6969" d="M1569.2 131.2l2-2.1 13.9 58.4-2.2 2.3z"/>
<path fill="#ff6e6e" stroke="#ff6e6e" d="M1567.2 133.3l2-2.1 13.7 58.6-2.1 2.2z"/>
<path fill="#ff7272" stroke="#ff7272" d="M1565.2 135.3l2-2 13.6 58.7-2.2 2.3z"/>
<path fill="#ff7575" stroke="#ff7575" d="M1565 135.6l0.2-0.3 13.4 59-0.3 0.2z"/>
<path fill="#ff7777" stroke="#ff7777" d="M1563.2 137.5l1.8-1.9 13.3 58.9-1.9 2z"/>
<path fill="#ff7b7b" stroke="#ff7b7b" d="M1561.3 139.6l1.9-2.1 13.2 59-2.1 2.4z"/>
<path fill="#ff8080" stroke="#ff8080" d="M1559.3 141.9l2-2.3 13 59.3-2.2 2.4z"/>
<path fill="#ff8585" stroke="#ff8585" d="M1557.3 144.1l2-2.2 12.8 59.4-2.1 2.4z"/>
<path fill="#ff8a8a" stroke="#ff8a8a" d="M1555.3 146.4l2-2.3 12.7 59.6-2.2 2.5z"/>
<path fill="#ff8f8f" stroke="#ff8f8f" d="M1553.3 148.7l2-2.3 12.5 59.8-2.1 2.4z"/>
<path fill="#ff9393" stroke="#ff9393" d="M1551.3 151l2-2.3 12.4 59.9-2.2 2.5z"/>
<path fill="#ff9898" stroke="#ff9898" d="M1549.3 153.3l2-2.3 12.2 60.1-2.1 2.4z"/>
<path fill="#ff9d9d" stroke="#ff9d9d" d="M1547.3 155.5l2-2.2 12.1 60.2-2.2 2.4z"/>
<path fill="#ffa2a2" stroke="#ffa2a2" d="M1545.3 157.7l2-2.2 11.9 60.4-2.1 2.4z"/>
<path fill="#ffa6a6" stroke="#ffa6a6" d="M1543.3 159.8l2-2.1 11.8 60.6-2.2 2.3z"/>
<path fill="#ffabab" stroke="#ffabab" d="M1541.3 161.9l2-2.1 11.6 60.8-2.1 2.2z"/>
<path fill="#ffafaf" stroke="#ffafaf" d="M1539.3 163.9l2-2 11.5 60.9-2.2 2.2z"/>
<path fill="#ffb2b2" stroke="#ffb2b2" d="M1538.7 164.5l0.6-0.6 11.3 61.1-0.7 0.6z"/>
<path fill="#ffb4b4" stroke="#ffb4b4" d="M1537.4 165.8l1.3-1.3 11.2 61.1-1.4 1.4z"/>
<path fill="#ffb7b7" stroke="#ffb7b7" d="M1535.4 167.6l2-1.8 11.1 61.2-2.2 2z"/>
<path fill="#ffbbbb" stroke="#ffbbbb" d="M1533.4 169.4l2-1.8 10.9 61.4-2.1 1.9z"/>
<path fill="#ffbfbf" stroke="#ffbfbf" d="M1531.4 171.2l2-1.8 10.8 61.5-2.2 1.9z"/>
<path fill="#ffc3c3" stroke="#ffc3c3" d="M1529.4 172.9l2-1.7 10.6 61.6-2.1 1.9z"/>
<path fill="#ffc6c6" stroke="#ffc6c6" d="M1527.4 174.6l2-1.7 10.5 61.8-2.2 1.8z"/>
<path fill="#ffcaca" stroke="#ffcaca" d="M1525.4 176.3l2-1.7 10.3 61.9-2.1 1.8z"/>
<path fill="#ffcdcd" stroke="#ffcdcd" d="M1523.5 178l1.9-1.7 10.2 62-2.2 1.8z"/>
<path fill="#ffd1d1" stroke="#ffd1d1" d="M1521.5 179.6l2-1.6 9.9 62.1-2.1 1.8z"/>
<path fill="#ffd4d4" stroke="#ffd4d4" d="M1519.5 181.2l2-1.6 9.8 62.3-2.1 1.7z"/>
<path fill="#ffd8d8" stroke="#ffd8d8" d="M1517.5 182.8l2-1.6 9.7 62.4-2.2 1.7z"/>
<path fill="#ffdbdb" stroke="#ffdbdb" d="M1515.5 184.4l2-1.6 9.5 62.5-2.1 1.7z"/>
<path fill="#ffdfdf" stroke="#ffdfdf" d="M1513.5 186l2-1.6 9.4 62.6-2.2 1.7z"/>
<path fill="#ffe1e1" stroke="#ffe1e1" d="M1512.5 186.8l1-0.8 9.2 62.7-1.1 0.9z"/>
<path fill="#ffe3e3" stroke="#ffe3e3" d="M1511.6 187.5l0.9-0.7 9.1 62.8-1 0.8z"/>
<path fill="#ffe5e5" stroke="#ffe5e5" d="M1509.6 189.1l2-1.6 9 62.9-2.2 1.7z"/>
<path fill="#ffe9e9" stroke="#ffe9e9" d="M1507.6 190.7l2-1.6 8.8 63-2.1 1.7z"/>
<path fill="#ffecec" stroke="#ffecec" d="M1505.6 192.2l2-1.5 8.7 63.1-2.1 1.7z"/>
<path fill="#ffefef" stroke="#ffefef" d="M1503.6 193.8l2-1.6 8.6 63.3-2.2 1.6z"/>
<path fill="#fff3f3" stroke="#fff3f3" d="M1501.7 195.3l1.9-1.5 8.4 63.3-2.1 1.7z"/>
<path fill="#fff6f6" stroke="#fff6f6" d="M1499.7 196.8l2-1.5 8.2 63.5-2.2 1.6z"/>
<path fill="#fff9f9" stroke="#fff9f9" d="M1497.7 198.3l2-1.5 8 63.6-2.1 1.6z"/>
<path fill="#fffcfc" stroke="#fffcfc" d="M1495.7 199.8l2-1.5 7.9 63.7-2.2 1.6z"/>
<path fill="#ffffff" stroke="#ffffff" d="M1493.8 201.2l1.9-1.4 7.7 63.8-2.1 1.5z"/>
<path fill="#fcfcff" stroke="#fcfcff" d="M1491.8 202.6l2-1.4 7.5 63.9-2.1 1.5z"/>
<path fill="#f9f9ff" stroke="#f9f9ff" d="M1489.8 204l2-1.4 7.4 64-2.2 1.5z"/>
<path fill="#f6f6ff" stroke="#f6f6ff" d="M1487.8 205.3l2-1.3 7.2 64.1-2.1 1.4z"/>
<path fill="#f3f3ff" stroke="#f3f3ff" d="M1486.2 206.4l1.6-1.1 7.1 64.2-1.8 1.2z"/>
<path fill="#f2f2ff" stroke="#f2f2ff" d="M1485.8 206.6l0.4-0.2 6.9 64.3-0.4 0.2z"/>
<path fill="#f0f0ff" stroke="#f0f0ff" d="M1483.9 207.8l1.9-1.2 6.9 64.3-2.1 1.3z"/>
<path fill="#eeeeff" stroke="#eeeeff" d="M1481.9 208.9l2-1.1 6.7 64.4-2.1 1.2z"/>
<path fill="#ececff" stroke="#ececff" d="M1479.9 210l2-1.1 6.6 64.5-2.2 1.2z"/>
<path fill="#e9e9ff" stroke="#e9e9ff" d="M1477.9 211.2l2-1.2 6.4 64.6-2.1 1.2z"/>
<path fill="#e7e7ff" stroke="#e7e7ff" d="M1476 212.4l1.9-1.2 6.3 64.6-2.2 1.3z"/>
<path fill="#e5e5ff" stroke="#e5e5ff" d="M1475 213l1-0.6 6 64.7-1 0.7z"/>
<path fill="#e3e3ff" stroke="#e3e3ff" d="M1474 213.7l1-0.7 6 64.8-1.1 0.7z"/>
<path fill="#e1e1ff" stroke="#e1e1ff" d="M1472 215.2l2-1.5 5.9 64.8-2.1 1.7z"/>
<path fill="#dedeff" stroke="#dedeff" d="M1470 216.8l2-1.6 5.8 65-2.2 1.7z"/>
<path fill="#dadaff" stroke="#dadaff" d="M1468.1 218.5l1.9-1.7 5.6 65.1-2.1 1.8z"/>
<path fill="#d6d6ff" stroke="#d6d6ff" d="M1466.1 220.2l2-1.7 5.4 65.2-2.1 1.9z"/>
<path fill="#d3d3ff" stroke="#d3d3ff" d="M1464.1 222l2-1.8 5.3 65.4-2.2 1.8z"/>
<path fill="#cfcfff" stroke="#cfcfff" d="M1462.2 223.7l1.9-1.7 5.1 65.4-2.1 1.9z"/>
<path fill="#cbcbff" stroke="#cbcbff" d="M1460.2 225.3l2-1.6 4.9 65.6-2.1 1.7z"/>
<path fill="#c8c8ff" stroke="#c8c8ff" d="M1458.2 226.8l2-1.5 4.8 65.7-2.2 1.7z"/>
<path fill="#c6c6ff" stroke="#c6c6ff" d="M1457.4 227.4l0.8-0.6 4.6 65.9-0.9 0.6z"/>
<path fill="#c4c4ff" stroke="#c4c4ff" d="M1456.3 228.2l1.1-0.8 4.5 65.9-1.2 0.9z"/>
<path fill="#c2c2ff" stroke="#c2c2ff" d="M1454.3 229.5l2-1.3 4.4 66-2.1 1.4z"/>
<path fill="#bfbfff" stroke="#bfbfff" d="M1452.3 230.8l2-1.3 4.3 66.1-2.2 1.4z"/>
<path fill="#bdbdff" stroke="#bdbdff" d="M1450.4 232.1l1.9-1.3 4.1 66.2-2.1 1.4z"/>
<path fill="#babaff" stroke="#babaff" d="M1448.4 233.3l2-1.2 3.9 66.3-2.1 1.3z"/>
<path fill="#b7b7ff" stroke="#b7b7ff" d="M1446.4 234.5l2-1.2 3.8 66.4-2.2 1.3z"/>
<path fill="#b5b5ff" stroke="#b5b5ff" d="M1444.5 235.7l1.9-1.2 3.6 66.5-2.1 1.3z"/>
<path fill="#b2b2ff" stroke="#b2b2ff" d="M1442.5 236.9l2-1.2 3.4 66.6-2.1 1.2z"/>
<path fill="#b0b0ff" stroke="#b0b0ff" d="M1440.5 238l2-1.1 3.3 66.6-2.2 1.2z"/>
<path fill="#adadff" stroke="#adadff" d="M1438.5 239.1l2-1.1 3.1 66.7-2.1 1.2z"/>
<path fill="#ababff" stroke="#ababff" d="M1436.6 240.2l1.9-1.1 3 66.8-2.1 1.2z"/>
<path fill="#a9a9ff" stroke="#a9a9ff" d="M1434.6 241.3l2-1.1 2.8 66.9-2.2 1.2z"/>
<path fill="#a6a6ff" stroke="#a6a6ff" d="M1432.6 242.4l2-1.1 2.6 67-2.1 1.2z"/>
<path fill="#a4a4ff" stroke="#a4a4ff" d="M1431.2 243.2l1.4-0.8 2.5 67.1-1.6 0.8z"/>
<path fill="#a3a3ff" stroke="#a3a3ff" d="M1430.7 243.5l0.5-0.3 2.3 67.1-0.5 0.3z"/>
<path fill="#a2a2ff" stroke="#a2a2ff" d="M1428.7 244.5l2-1 2.3 67.1-2.2 1.1z"/></g>
<g stroke="#000" stroke-width="1.6" stroke-dasharray="4,4" fill="none">
<line x1="67.3" y1="514.8" x2="565.9" y2="510.2"/>
<line x1="68.9" y1="574.8" x2="565.1" y2="570.4"/>
<line x1="70.5" y1="634.8" x2="564.3" y2="630.0"/>
<line x1="72.1" y1="693.7" x2="563.6" y2="689.2"/>
<line x1="148.8" y1="456.2" x2="152.9" y2="693.0"/>
<line x1="231.2" y1="455.5" x2="233.4" y2="692.2"/>
<line x1="313.6" y1="454.7" x2="314.9" y2="691.5"/>
<line x1="395.9" y1="454.0" x2="395.3" y2="690.7"/>
<line x1="477.7" y1="453.2" x2="476.9" y2="690.0"/>
<line x1="559.2" y1="452.5" x2="556.9" y2="689.3"/>
</g>
<polyline points="71.2,698.0 72.1,693.8 65.7,457.0 566.6,452.4 563.5,693.3" fill="none" stroke="#000" stroke-width="1.6"/>
<polygon points="71.2,698.0 107.5,697.7 93.2,772.4 54.8,772.8" fill="#4b3fd0" stroke="#4b3fd0" stroke-width="0.5"/>
<polygon points="107.5,697.7 139.3,697.3 127.7,772.0 93.2,772.4" fill="#dbd9d7" stroke="#dbd9d7" stroke-width="0.5"/>
<polygon points="139.3,697.3 180.9,697.0 172.8,771.5 127.7,772.0" fill="#c7b6ad" stroke="#c7b6ad" stroke-width="0.5"/>
<polygon points="180.9,697.0 190.5,696.9 183.2,771.4 172.8,771.5" fill="#747076" stroke="#747076" stroke-width="0.5"/>
<polygon points="190.5,696.9 251.4,696.3 249.3,770.7 183.2,771.4" fill="#484a66" stroke="#484a66" stroke-width="0.5"/>
<polygon points="251.4,696.3 426.0,694.6 437.5,768.7 249.3,770.7" fill="#7a16a0" stroke="#7a16a0" stroke-width="0.5"/>
<polygon points="426.0,694.6 503.5,693.9 522.5,767.8 437.5,768.7" fill="#c6b5ad" stroke="#c6b5ad" stroke-width="0.5"/>
<polygon points="503.5,693.9 563.5,693.3 587.9,767.1 522.5,767.8" fill="#0000ff" stroke="#0000ff" stroke-width="0.5"/>
<polygon points="71.2,698.0 563.5,693.3 587.9,767.1 54.8,772.8" fill="none" stroke="#000" stroke-width="1.3"/>
<line x1="54.8" y1="772.8" x2="587.9" y2="767.1" stroke="#000" stroke-width="2.2"/>
<g stroke-width="1" stroke-linejoin="round"><path fill="#0000ff" stroke="#0000ff" d="M72.1 693.5l0.4 0 1.6 0 1.9 0 2 0 2 0 1.9 0 2 0 1.9 0 1.2 0 0.8 0 2-0.1 1.9-0.1-14.5 73.2-2.1 0.1-2.2 0.1-0.9 0-1.2 0-2.2 0-2.1 0-2.2 0-2.1 0-2.2 0-2.2 0-1.7 0-0.4 0z"/>
<path fill="#0101ff" stroke="#0101ff" d="M91.7 693.3l2-0.2 2-0.2-14.2 73.2-2.1 0.2-2.2 0.2z"/>
<path fill="#0202ff" stroke="#0202ff" d="M95.7 692.9l1.9-0.3 2-0.3-13.8 73.1-2.2 0.4-2.1 0.3z"/>
<path fill="#0303ff" stroke="#0303ff" d="M99.6 692.3l1.9-0.3-13.6 73.1-2.1 0.3z"/>
<path fill="#0404ff" stroke="#0404ff" d="M101.5 692l2-0.4 1.9-0.4-13.2 73-2.1 0.5-2.2 0.4z"/>
<path fill="#0505ff" stroke="#0505ff" d="M105.4 691.2l0.1 0 1.9-0.5-13.1 73-2 0.5-0.1 0z"/>
<path fill="#0707ff" stroke="#0707ff" d="M107.4 690.7l1.9-0.8-12.8 72.9-2.2 0.9z"/>
<path fill="#0909ff" stroke="#0909ff" d="M109.3 689.9l2-1-12.7 72.8-2.1 1.1z"/>
<path fill="#0b0bff" stroke="#0b0bff" d="M111.3 688.9l1.9-1.2-12.5 72.7-2.1 1.3z"/>
<path fill="#0e0eff" stroke="#0e0eff" d="M113.2 687.7l1.6-1.1-12.4 72.6-1.7 1.2z"/>
<path fill="#0f0fff" stroke="#0f0fff" d="M114.8 686.6l0.4-0.3-12.4 72.7-0.4 0.2z"/>
<path fill="#1111ff" stroke="#1111ff" d="M115.2 686.3l1.9-1.6-12.2 72.5-2.1 1.8z"/>
<path fill="#1515ff" stroke="#1515ff" d="M117.1 684.7l1.9-2.2-12 72.3-2.1 2.4z"/>
<path fill="#1919ff" stroke="#1919ff" d="M119 682.5l0.9-1.3-11.9 72.1-1 1.5z"/>
<path fill="#1b1bff" stroke="#1b1bff" d="M119.9 681.2l0.4-0.6-11.9 72.1-0.4 0.6z"/>
<path fill="#1d1dff" stroke="#1d1dff" d="M120.3 680.6l0.6-1.1-11.8 72.1-0.7 1.1z"/>
<path fill="#2121ff" stroke="#2121ff" d="M120.9 679.5l0.9-2.2-11.7 71.9-1 2.4z"/>
<path fill="#2626ff" stroke="#2626ff" d="M121.8 677.3l0.9-2.7-11.6 71.6-1 3z"/>
<path fill="#2a2aff" stroke="#2a2aff" d="M122.7 674.6l0.5-1.5-11.6 71.5-0.5 1.6z"/>
<path fill="#2e2eff" stroke="#2e2eff" d="M123.2 673.1l0.5-1.5-11.6 71.4-0.5 1.6z"/>
<path fill="#3131ff" stroke="#3131ff" d="M123.7 671.6l0.3-1.2-11.5 71.3-0.4 1.3z"/>
<path fill="#3333ff" stroke="#3333ff" d="M124 670.4l0.1-0.4-11.5 71.2-0.1 0.5z"/>
<path fill="#3535ff" stroke="#3535ff" d="M124.1 670l0.5-1.8-11.5 71-0.5 2z"/>
<path fill="#3939ff" stroke="#3939ff" d="M124.6 668.2l0.4-2.1-11.4 71-0.5 2.1z"/>
<path fill="#3e3eff" stroke="#3e3eff" d="M125 666.1l0.5-2.1-11.5 70.7-0.4 2.4z"/>
<path fill="#4343ff" stroke="#4343ff" d="M125.5 664l0.4-2.3-11.4 70.5-0.5 2.5z"/>
<path fill="#4848ff" stroke="#4848ff" d="M125.9 661.7l0.4-2.4-11.3 70.3-0.5 2.6z"/>
<path fill="#4d4dff" stroke="#4d4dff" d="M126.3 659.3l0.5-2.4-11.3 70.1-0.5 2.6z"/>
<path fill="#5252ff" stroke="#5252ff" d="M126.8 656.9l0.4-2.4-11.3 69.9-0.4 2.6z"/>
<path fill="#5757ff" stroke="#5757ff" d="M127.2 654.5l0.5-2.4-11.3 69.7-0.5 2.6z"/>
<path fill="#5a5aff" stroke="#5a5aff" d="M127.7 652.1l0-0.2-11.2 69.7-0.1 0.2z"/>
<path fill="#5d5dff" stroke="#5d5dff" d="M127.7 651.9l0.4-2-11.2 69.5-0.4 2.2z"/>
<path fill="#6161ff" stroke="#6161ff" d="M128.1 649.9l0.4-2.3-11.1 69.3-0.5 2.5z"/>
<path fill="#6666ff" stroke="#6666ff" d="M128.5 647.6l0.5-2.3-11.2 69.1-0.4 2.5z"/>
<path fill="#6b6bff" stroke="#6b6bff" d="M129 645.3l0.4-2.3-11.1 68.9-0.5 2.5z"/>
<path fill="#7070ff" stroke="#7070ff" d="M129.4 643l0.5-2.3-11.1 68.7-0.5 2.5z"/>
<path fill="#7575ff" stroke="#7575ff" d="M129.9 640.7l0.4-2.3-11 68.5-0.5 2.5z"/>
<path fill="#7a7aff" stroke="#7a7aff" d="M130.3 638.4l0.4-2.4-10.9 68.3-0.5 2.6z"/>
<path fill="#8080ff" stroke="#8080ff" d="M130.7 636l0.5-2.4-11 68.1-0.4 2.6z"/>
<path fill="#8383ff" stroke="#8383ff" d="M131.2 633.6l0.2-1.2-10.9 68-0.3 1.3z"/>
<path fill="#8686ff" stroke="#8686ff" d="M131.4 632.4l0.2-1.3-10.9 67.8-0.2 1.5z"/>
<path fill="#8989ff" stroke="#8989ff" d="M131.6 631.1l0.2-1.5-10.9 67.8-0.2 1.5z"/>
<path fill="#8d8dff" stroke="#8d8dff" d="M131.8 629.6l0.3-1.6-10.9 67.6-0.3 1.8z"/>
<path fill="#9090ff" stroke="#9090ff" d="M132.1 628l0.2-1.7-10.9 67.5-0.2 1.8z"/>
<path fill="#9494ff" stroke="#9494ff" d="M132.3 626.3l0.2-1.7-10.9 67.4-0.2 1.8z"/>
<path fill="#9797ff" stroke="#9797ff" d="M132.5 624.6l0.2-1.7-10.8 67.2-0.3 1.9z"/>
<path fill="#9b9bff" stroke="#9b9bff" d="M132.7 622.9l0.2-1.7-10.8 67.1-0.2 1.8z"/>
<path fill="#9f9fff" stroke="#9f9fff" d="M132.9 621.2l0.2-1.6-10.8 66.9-0.2 1.8z"/>
<path fill="#a2a2ff" stroke="#a2a2ff" d="M133.1 619.6l0.2-1.5-10.8 66.8-0.2 1.6z"/>
<path fill="#a7a7ff" stroke="#a7a7ff" d="M133.3 618.1l0.5-2.6-10.8 66.5-0.5 2.9z"/>
<path fill="#acacff" stroke="#acacff" d="M133.8 615.5l0.9-2.5-10.7 66.3-1 2.7z"/>
<path fill="#afafff" stroke="#afafff" d="M134.7 613l1 0 2 0.2-10.4 66.3-2.2-0.1-1.1-0.1z"/>
<path fill="#aeaeff" stroke="#aeaeff" d="M137.7 613.2l1.9 0.2-10.2 66.4-2.1-0.3z"/>
<path fill="#adadff" stroke="#adadff" d="M139.6 613.4l2 0.3 1 0.2-9.9 66.4-1.1-0.1-2.2-0.4z"/>
<path fill="#acacff" stroke="#acacff" d="M142.6 613.9l1 0.2 2 0.5-9.6 66.5-2.2-0.5-1.1-0.3z"/>
<path fill="#aaaaff" stroke="#aaaaff" d="M145.6 614.6l2 0.6-9.5 66.6-2.1-0.7z"/>
<path fill="#a9a9ff" stroke="#a9a9ff" d="M147.6 615.2l2 0.7-9.3 66.7-2.2-0.8z"/>
<path fill="#a7a7ff" stroke="#a7a7ff" d="M149.6 615.9l2 0.7 0.2 0.1-9.1 66.7-0.2-0.1-2.2-0.7z"/>
<path fill="#a6a6ff" stroke="#a6a6ff" d="M151.8 616.7l1.8 0.6-8.9 66.8-2-0.7z"/>
<path fill="#a4a4ff" stroke="#a4a4ff" d="M153.6 617.3l2 0.7-8.8 66.9-2.1-0.8z"/>
<path fill="#a3a3ff" stroke="#a3a3ff" d="M155.6 618l1.9 0.8-8.5 66.9-2.2-0.8z"/>
<path fill="#a1a1ff" stroke="#a1a1ff" d="M157.5 618.8l2 0.8-8.3 67-2.2-0.9z"/>
<path fill="#9f9fff" stroke="#9f9fff" d="M159.5 619.6l2 0.8-8.1 67-2.2-0.8z"/>
<path fill="#9d9dff" stroke="#9d9dff" d="M161.5 620.4l2 0.8-8 67.2-2.1-1z"/>
<path fill="#9b9bff" stroke="#9b9bff" d="M163.5 621.2l2 0.9-7.8 67.2-2.2-0.9z"/>
<path fill="#9a9aff" stroke="#9a9aff" d="M165.5 622.1l0.2 0.1-7.8 67.2-0.2-0.1z"/>
<path fill="#9999ff" stroke="#9999ff" d="M165.7 622.2l1.8 0.8-7.6 67.4-2-1z"/>
<path fill="#9797ff" stroke="#9797ff" d="M167.5 623l2 1-7.4 67.4-2.2-1z"/>
<path fill="#9595ff" stroke="#9595ff" d="M169.5 624l2 1.1-7.2 67.4-2.2-1.1z"/>
<path fill="#9393ff" stroke="#9393ff" d="M171.5 625.1l2 1-7.1 67.6-2.1-1.2z"/>
<path fill="#9090ff" stroke="#9090ff" d="M173.5 626.1l2 1.1-6.9 67.7-2.2-1.2z"/>
<path fill="#8e8eff" stroke="#8e8eff" d="M175.5 627.2l2 1.2-6.7 67.8-2.2-1.3z"/>
<path fill="#8b8bff" stroke="#8b8bff" d="M177.5 628.4l2 1.1-6.5 67.9-2.2-1.2z"/>
<path fill="#8a8aff" stroke="#8a8aff" d="M179.5 629.5l0.1 0.1-6.5 67.9-0.1-0.1z"/>
<path fill="#8888ff" stroke="#8888ff" d="M179.6 629.6l1.9 1.5-6.3 68-2.1-1.6z"/>
<path fill="#8585ff" stroke="#8585ff" d="M181.5 631.1l2 1.5-6.2 68.1-2.1-1.6z"/>
<path fill="#8383ff" stroke="#8383ff" d="M183.5 632.6l1.2 0.3 0.8-0.6-6 68.1-0.8 0.7-1.4-0.4z"/>
<path fill="#8787ff" stroke="#8787ff" d="M185.5 632.3l0.9-2.7-5.9 68-1 2.8z"/>
<path fill="#8c8cff" stroke="#8c8cff" d="M186.4 629.6l0.5-2-5.9 67.7-0.5 2.3z"/>
<path fill="#9191ff" stroke="#9191ff" d="M186.9 627.6l0.4-2.6-5.8 67.6-0.5 2.7z"/>
<path fill="#9595ff" stroke="#9595ff" d="M187.3 625l0.2-1.4-5.8 67.4-0.2 1.6z"/>
<path fill="#9898ff" stroke="#9898ff" d="M187.5 623.6l0.3-1.6-5.8 67.3-0.3 1.7z"/>
<path fill="#9c9cff" stroke="#9c9cff" d="M187.8 622l0.2-1.6-5.8 67.1-0.2 1.8z"/>
<path fill="#a0a0ff" stroke="#a0a0ff" d="M188 620.4l0.2-1.8-5.8 67-0.2 1.9z"/>
<path fill="#a4a4ff" stroke="#a4a4ff" d="M188.2 618.6l0.2-1.9-5.7 66.8-0.3 2.1z"/>
<path fill="#a8a8ff" stroke="#a8a8ff" d="M188.4 616.7l0.2-2-5.7 66.7-0.2 2.1z"/>
<path fill="#acacff" stroke="#acacff" d="M188.6 614.7l0.2-2.1-5.7 66.5-0.2 2.3z"/>
<path fill="#b1b1ff" stroke="#b1b1ff" d="M188.8 612.6l0.2-2.3-5.7 66.3-0.2 2.5z"/>
<path fill="#b6b6ff" stroke="#b6b6ff" d="M189 610.3l0.2-2.3-5.6 66.1-0.3 2.5z"/>
<path fill="#bbbbff" stroke="#bbbbff" d="M189.2 608l0.2-2.4-5.6 65.9-0.2 2.6z"/>
<path fill="#c1c1ff" stroke="#c1c1ff" d="M189.4 605.6l0.2-2.6-5.6 65.7-0.2 2.8z"/>
<path fill="#c6c6ff" stroke="#c6c6ff" d="M189.6 603l0.2-2.6-5.6 65.4-0.2 2.9z"/>
<path fill="#ccccff" stroke="#ccccff" d="M189.8 600.4l0.2-2.8-5.6 65.2-0.2 3z"/>
<path fill="#d1d1ff" stroke="#d1d1ff" d="M190 597.6l0.1-1.4-5.6 65.1-0.1 1.5z"/>
<path fill="#d4d4ff" stroke="#d4d4ff" d="M190.1 596.2l0.1-1.4-5.5 64.9-0.2 1.6z"/>
<path fill="#d7d7ff" stroke="#d7d7ff" d="M190.2 594.8l0.1-1.5-5.5 64.8-0.1 1.6z"/>
<path fill="#dadaff" stroke="#dadaff" d="M190.3 593.3l0.1-1.5-5.5 64.7-0.1 1.6z"/>
<path fill="#ddddff" stroke="#ddddff" d="M190.4 591.8l0.1-1.5-5.5 64.6-0.1 1.6z"/>
<path fill="#e1e1ff" stroke="#e1e1ff" d="M190.5 590.3l0.1-1.6-5.5 64.5-0.1 1.7z"/>
<path fill="#e4e4ff" stroke="#e4e4ff" d="M190.6 588.7l0.1-1.5-5.5 64.3-0.1 1.7z"/>
<path fill="#e7e7ff" stroke="#e7e7ff" d="M190.7 587.2l0.1-1.6-5.5 64.2-0.1 1.7z"/>
<path fill="#ebebff" stroke="#ebebff" d="M190.8 585.6l0.1-1.6-5.5 64-0.1 1.8z"/>
<path fill="#eeeeff" stroke="#eeeeff" d="M190.9 584l0.1-1.7-5.5 63.9-0.1 1.8z"/>
<path fill="#f2f2ff" stroke="#f2f2ff" d="M191 582.3l0.1-1.6-5.5 63.7-0.1 1.8z"/>
<path fill="#f5f5ff" stroke="#f5f5ff" d="M191.1 580.7l0.1-1.7-5.5 63.6-0.1 1.8z"/>
<path fill="#f9f9ff" stroke="#f9f9ff" d="M191.2 579l0.1-1.7-5.5 63.5-0.1 1.8z"/>
<path fill="#fdfdff" stroke="#fdfdff" d="M191.3 577.3l0.1-1.8-5.5 63.4-0.1 1.9z"/>
<path fill="#fffdfd" stroke="#fffdfd" d="M191.4 575.5l0.1-1.7-5.5 63.2-0.1 1.9z"/>
<path fill="#fffafa" stroke="#fffafa" d="M191.5 573.8l0.1-1.8-5.5 63-0.1 2z"/>
<path fill="#fff6f6" stroke="#fff6f6" d="M191.6 572l0.1-1.8-5.5 62.9-0.1 1.9z"/>
<path fill="#fff2f2" stroke="#fff2f2" d="M191.7 570.2l0.1-1.8-5.5 62.7-0.1 2z"/>
<path fill="#ffeeee" stroke="#ffeeee" d="M191.8 568.4l0.1-1.9-5.5 62.6-0.1 2z"/>
<path fill="#ffeaea" stroke="#ffeaea" d="M191.9 566.5l0.1-1.8-5.5 62.3-0.1 2.1z"/>
<path fill="#ffe6e6" stroke="#ffe6e6" d="M192 564.7l0-1.9-5.4 62.2-0.1 2z"/>
<path fill="#ffe2e2" stroke="#ffe2e2" d="M192 562.8l0.1-2-5.4 62.1-0.1 2.1z"/>
<path fill="#ffdede" stroke="#ffdede" d="M192.1 560.8l0.1-1.9-5.4 61.9-0.1 2.1z"/>
<path fill="#ffd9d9" stroke="#ffd9d9" d="M192.2 558.9l0.1-2-5.4 61.8-0.1 2.1z"/>
<path fill="#ffd5d5" stroke="#ffd5d5" d="M192.3 556.9l0.1-2-5.4 61.6-0.1 2.2z"/>
<path fill="#ffd1d1" stroke="#ffd1d1" d="M192.4 554.9l0.1-2-5.4 61.4-0.1 2.2z"/>
<path fill="#ffcdcd" stroke="#ffcdcd" d="M192.5 552.9l0.1-2-5.4 61.2-0.1 2.2z"/>
<path fill="#ffc8c8" stroke="#ffc8c8" d="M192.6 550.9l0.1-2-5.4 61-0.1 2.2z"/>
<path fill="#ffc4c4" stroke="#ffc4c4" d="M192.7 548.9l0.1-2.1-5.5 60.8 0 2.3z"/>
<path fill="#ffbfbf" stroke="#ffbfbf" d="M192.8 546.8l0.1-2.1-5.5 60.7-0.1 2.2z"/>
<path fill="#ffbbbb" stroke="#ffbbbb" d="M192.9 544.7l0-2.1-5.4 60.5-0.1 2.3z"/>
<path fill="#ffb6b6" stroke="#ffb6b6" d="M192.9 542.6l0.1-2.2-5.4 60.3-0.1 2.4z"/>
<path fill="#ffb2b2" stroke="#ffb2b2" d="M193 540.4l0.1-2.1-5.4 60.1-0.1 2.3z"/>
<path fill="#ffadad" stroke="#ffadad" d="M193.1 538.3l0.1-2.2-5.4 59.9-0.1 2.4z"/>
<path fill="#ffa8a8" stroke="#ffa8a8" d="M193.2 536.1l0.1-2.2-5.4 59.7-0.1 2.4z"/>
<path fill="#ffa4a4" stroke="#ffa4a4" d="M193.3 533.9l0.1-2.2-5.4 59.5-0.1 2.4z"/>
<path fill="#ff9f9f" stroke="#ff9f9f" d="M193.4 531.7l0.1-2.2-5.4 59.3-0.1 2.4z"/>
<path fill="#ff9a9a" stroke="#ff9a9a" d="M193.5 529.5l0.1-2.3-5.4 59.1-0.1 2.5z"/>
<path fill="#ff9595" stroke="#ff9595" d="M193.6 527.2l0-2.3-5.3 59-0.1 2.4z"/>
<path fill="#ff9090" stroke="#ff9090" d="M193.6 524.9l0.1-2.3-5.3 58.8-0.1 2.5z"/>
<path fill="#ff8b8b" stroke="#ff8b8b" d="M193.7 522.6l0.1-2.3-5.3 58.5-0.1 2.6z"/>
<path fill="#ff8686" stroke="#ff8686" d="M193.8 520.3l0.1-2.3-5.4 58.3 0 2.5z"/>
<path fill="#ff8181" stroke="#ff8181" d="M193.9 518l0.1-2.4-5.4 58.1-0.1 2.6z"/>
<path fill="#ff7c7c" stroke="#ff7c7c" d="M194 515.6l0.1-2.4-5.4 58-0.1 2.5z"/>
<path fill="#ff7777" stroke="#ff7777" d="M194.1 513.2l0-2.4-5.3 57.7-0.1 2.7z"/>
<path fill="#ff7272" stroke="#ff7272" d="M194.1 510.8l0.1-2.4-5.3 57.5-0.1 2.6z"/>
<path fill="#ff6d6d" stroke="#ff6d6d" d="M194.2 508.4l0.1-2.4-5.3 57.3-0.1 2.6z"/>
<path fill="#ff6868" stroke="#ff6868" d="M194.3 506l0.1-2.5-5.3 57.1-0.1 2.7z"/>
<path fill="#ff6363" stroke="#ff6363" d="M194.4 503.5l0.1-2.5-5.3 56.9-0.1 2.7z"/>
<path fill="#ff5d5d" stroke="#ff5d5d" d="M194.5 501l0.1-2.5-5.4 56.7 0 2.7z"/>
<path fill="#ff5858" stroke="#ff5858" d="M194.6 498.5l0-2.5-5.3 56.5-0.1 2.7z"/>
<path fill="#ff5353" stroke="#ff5353" d="M194.6 496l0.1-2.5-5.3 56.2-0.1 2.8z"/>
<path fill="#ff4d4d" stroke="#ff4d4d" d="M194.7 493.5l0.1-2.5-5.3 55.9-0.1 2.8z"/>
<path fill="#ff4848" stroke="#ff4848" d="M194.8 491l0.1-2.6-5.3 55.8-0.1 2.7z"/>
<path fill="#ff4242" stroke="#ff4242" d="M194.9 488.4l0.1-2.6-5.3 55.5-0.1 2.9z"/>
<path fill="#ff3d3d" stroke="#ff3d3d" d="M195 485.8l0.1-2.6-5.3 55.3-0.1 2.8z"/>
<path fill="#ff3737" stroke="#ff3737" d="M195.1 483.2l0-2.6-5.2 55.1-0.1 2.8z"/>
<path fill="#ff3232" stroke="#ff3232" d="M195.1 480.6l0.1-2.7-5.3 54.9 0 2.9z"/>
<path fill="#ff2c2c" stroke="#ff2c2c" d="M195.2 477.9l0.1-2.6-5.3 54.6-0.1 2.9z"/>
<path fill="#ff2626" stroke="#ff2626" d="M195.3 475.3l0.1-2.7-5.3 54.4-0.1 2.9z"/>
<path fill="#ff2121" stroke="#ff2121" d="M195.4 472.6l0.1-2.7-5.3 54.2-0.1 2.9z"/>
<path fill="#ff1111" stroke="#ff1111" d="M195.5 469.9l0.3-11.8-5.3 53.1-0.3 12.9z"/>
<path fill="#ff0f0f" stroke="#ff0f0f" d="M195.8 458.1l1.6 9.3-5.1 53.9-1.8-10.1z"/>
<path fill="#ff1a1a" stroke="#ff1a1a" d="M197.4 467.4l0.3 1.6-5.1 54.1-0.3-1.8z"/>
<path fill="#ff1e1e" stroke="#ff1e1e" d="M197.7 469l0.3 1.6-5.1 54.2-0.3-1.7z"/>
<path fill="#ff2121" stroke="#ff2121" d="M198 470.6l0.2 1.6-5 54.4-0.3-1.8z"/>
<path fill="#ff2525" stroke="#ff2525" d="M198.2 472.2l0.3 1.7-5 54.5-0.3-1.8z"/>
<path fill="#ff2828" stroke="#ff2828" d="M198.5 473.9l0.3 1.6-5 54.7-0.3-1.8z"/>
<path fill="#ff2c2c" stroke="#ff2c2c" d="M198.8 475.5l0.3 1.7-5 54.8-0.3-1.8z"/>
<path fill="#ff2f2f" stroke="#ff2f2f" d="M199.1 477.2l0.3 1.6-4.9 55-0.4-1.8z"/>
<path fill="#ff3333" stroke="#ff3333" d="M199.4 478.8l0.2 1.7-4.8 55.1-0.3-1.8z"/>
<path fill="#ff3636" stroke="#ff3636" d="M199.6 480.5l0.3 1.7-4.8 55.2-0.3-1.8z"/>
<path fill="#ff3a3a" stroke="#ff3a3a" d="M199.9 482.2l0.3 1.6-4.8 55.4-0.3-1.8z"/>
<path fill="#ff3d3d" stroke="#ff3d3d" d="M200.2 483.8l0.3 1.7-4.8 55.6-0.3-1.9z"/>
<path fill="#ff4141" stroke="#ff4141" d="M200.5 485.5l0.2 1.7-4.7 55.7-0.3-1.8z"/>
<path fill="#ff4444" stroke="#ff4444" d="M200.7 487.2l0.3 1.7-4.7 55.9-0.3-1.9z"/>
<path fill="#ff4848" stroke="#ff4848" d="M201 488.9l0.3 1.7-4.7 56-0.3-1.8z"/>
<path fill="#ff4c4c" stroke="#ff4c4c" d="M201.3 490.6l0.3 1.8-4.7 56.1-0.3-1.9z"/>
<path fill="#ff4f4f" stroke="#ff4f4f" d="M201.6 492.4l0.3 1.7-4.7 56.3-0.3-1.9z"/>
<path fill="#ff5353" stroke="#ff5353" d="M201.9 494.1l0.2 1.7-4.6 56.5-0.3-1.9z"/>
<path fill="#ff5757" stroke="#ff5757" d="M202.1 495.8l0.3 1.7-4.6 56.6-0.3-1.8z"/>
<path fill="#ff5959" stroke="#ff5959" d="M202.4 497.5l0 0-4.6 56.7 0-0.1z"/>
<path fill="#ff5a5a" stroke="#ff5a5a" d="M202.4 497.5l0.3 1.8-4.6 56.8-0.3-1.9z"/>
<path fill="#ff5e5e" stroke="#ff5e5e" d="M202.7 499.3l0.3 1.8-4.6 56.9-0.3-1.9z"/>
<path fill="#ff6262" stroke="#ff6262" d="M203 501.1l0.2 1.7-4.5 57.1-0.3-1.9z"/>
<path fill="#ff6666" stroke="#ff6666" d="M203.2 502.8l0.3 1.8-4.5 57.3-0.3-2z"/>
<path fill="#ff6a6a" stroke="#ff6a6a" d="M203.5 504.6l0.3 1.8-4.5 57.4-0.3-1.9z"/>
<path fill="#ff6e6e" stroke="#ff6e6e" d="M203.8 506.4l0.3 1.8-4.5 57.6-0.3-2z"/>
<path fill="#ff7171" stroke="#ff7171" d="M204.1 508.2l0.3 1.9-4.5 57.7-0.3-2z"/>
<path fill="#ff7575" stroke="#ff7575" d="M204.4 510.1l0.2 1.8-4.4 57.9-0.3-2z"/>
<path fill="#ff7979" stroke="#ff7979" d="M204.6 511.9l0.3 1.8-4.3 58.1-0.4-2z"/>
<path fill="#ff7d7d" stroke="#ff7d7d" d="M204.9 513.7l0.3 1.9-4.3 58.2-0.3-2z"/>
<path fill="#ff8181" stroke="#ff8181" d="M205.2 515.6l0.3 1.8-4.3 58.4-0.3-2z"/>
<path fill="#ff8585" stroke="#ff8585" d="M205.5 517.4l0.3 1.9-4.3 58.5-0.3-2z"/>
<path fill="#ff8989" stroke="#ff8989" d="M205.8 519.3l0.2 1.9-4.2 58.7-0.3-2.1z"/>
<path fill="#ff8d8d" stroke="#ff8d8d" d="M206 521.2l0.3 1.8-4.2 58.9-0.3-2z"/>
<path fill="#ff9191" stroke="#ff9191" d="M206.3 523l0.3 1.9-4.2 59-0.3-2z"/>
<path fill="#ff9595" stroke="#ff9595" d="M206.6 524.9l0.3 1.9-4.2 59.2-0.3-2.1z"/>
<path fill="#ff9999" stroke="#ff9999" d="M206.9 526.8l0.2 1.9-4.1 59.3-0.3-2z"/>
<path fill="#ff9d9d" stroke="#ff9d9d" d="M207.1 528.7l0.3 1.8-4.1 59.6-0.3-2.1z"/>
<path fill="#ffa1a1" stroke="#ffa1a1" d="M207.4 530.5l0.3 1.9-4.1 59.7-0.3-2z"/>
<path fill="#ffa5a5" stroke="#ffa5a5" d="M207.7 532.4l0.3 1.9-4.1 59.8-0.3-2z"/>
<path fill="#ffa9a9" stroke="#ffa9a9" d="M208 534.3l0.3 1.9-4.1 60-0.3-2.1z"/>
<path fill="#ffadad" stroke="#ffadad" d="M208.3 536.2l0.2 1.9-4 60.1-0.3-2z"/>
<path fill="#ffb1b1" stroke="#ffb1b1" d="M208.5 538.1l0.3 1.8-4 60.4-0.3-2.1z"/>
<path fill="#ffb5b5" stroke="#ffb5b5" d="M208.8 539.9l0.3 1.9-4 60.5-0.3-2z"/>
<path fill="#ffb9b9" stroke="#ffb9b9" d="M209.1 541.8l0.3 1.9-4 60.7-0.3-2.1z"/>
<path fill="#ffbdbd" stroke="#ffbdbd" d="M209.4 543.7l0.3 1.9-3.9 60.8-0.4-2z"/>
<path fill="#ffc1c1" stroke="#ffc1c1" d="M209.7 545.6l0.2 1.8-3.8 61-0.3-2z"/>
<path fill="#ffc5c5" stroke="#ffc5c5" d="M209.9 547.4l0.3 1.9-3.8 61.1-0.3-2z"/>
<path fill="#ffc8c8" stroke="#ffc8c8" d="M210.2 549.3l0.1 0.6-3.8 61.2-0.1-0.7z"/>
<path fill="#ffcaca" stroke="#ffcaca" d="M210.3 549.9l0.2 1.2-3.8 61.4-0.2-1.4z"/>
<path fill="#ffcdcd" stroke="#ffcdcd" d="M210.5 551.1l0.3 1.9-3.8 61.5-0.3-2z"/>
<path fill="#ffd1d1" stroke="#ffd1d1" d="M210.8 553l0.2 2-3.7 61.6-0.3-2.1z"/>
<path fill="#ffd6d6" stroke="#ffd6d6" d="M211 555l0.3 1.9-3.7 61.8-0.3-2.1z"/>
<path fill="#ffdada" stroke="#ffdada" d="M211.3 556.9l0.3 2-3.7 61.9-0.3-2.1z"/>
<path fill="#ffdede" stroke="#ffdede" d="M211.6 558.9l0.3 1.9-3.7 62.2-0.3-2.2z"/>
<path fill="#ffe2e2" stroke="#ffe2e2" d="M211.9 560.8l0.3 2-3.7 62.4-0.3-2.2z"/>
<path fill="#ffe7e7" stroke="#ffe7e7" d="M212.2 562.8l0.2 2-3.6 62.5-0.3-2.1z"/>
<path fill="#ffebeb" stroke="#ffebeb" d="M212.4 564.8l0.3 2-3.6 62.7-0.3-2.2z"/>
<path fill="#ffefef" stroke="#ffefef" d="M212.7 566.8l0.3 2-3.6 62.9-0.3-2.2z"/>
<path fill="#fff4f4" stroke="#fff4f4" d="M213 568.8l0.3 2.1-3.6 63-0.3-2.2z"/>
<path fill="#fff8f8" stroke="#fff8f8" d="M213.3 570.9l0.3 2-3.6 63.2-0.3-2.2z"/>
<path fill="#fffcfc" stroke="#fffcfc" d="M213.6 572.9l0.2 2-3.5 63.3-0.3-2.1z"/>
<path fill="#fefeff" stroke="#fefeff" d="M213.8 574.9l0.3 2-3.5 63.5-0.3-2.2z"/>
<path fill="#f9f9ff" stroke="#f9f9ff" d="M214.1 576.9l0.3 1.9-3.5 63.7-0.3-2.1z"/>
<path fill="#f5f5ff" stroke="#f5f5ff" d="M214.4 578.8l0.3 2-3.4 63.9-0.4-2.2z"/>
<path fill="#f1f1ff" stroke="#f1f1ff" d="M214.7 580.8l0.2 1.9-3.3 64.1-0.3-2.1z"/>
<path fill="#ededff" stroke="#ededff" d="M214.9 582.7l0.3 1.9-3.3 64.2-0.3-2z"/>
<path fill="#e9e9ff" stroke="#e9e9ff" d="M215.2 584.6l0.3 1.9-3.3 64.4-0.3-2.1z"/>
<path fill="#e5e5ff" stroke="#e5e5ff" d="M215.5 586.5l0.3 1.9-3.3 64.5-0.3-2z"/>
<path fill="#e1e1ff" stroke="#e1e1ff" d="M215.8 588.4l0.3 1.8-3.3 64.7-0.3-2z"/>
<path fill="#ddddff" stroke="#ddddff" d="M216.1 590.2l0.2 1.8-3.2 64.8-0.3-1.9z"/>
<path fill="#d9d9ff" stroke="#d9d9ff" d="M216.3 592l0.3 1.7-3.2 65-0.3-1.9z"/>
<path fill="#d5d5ff" stroke="#d5d5ff" d="M216.6 593.7l0.3 1.7-3.2 65.1-0.3-1.8z"/>
<path fill="#d2d2ff" stroke="#d2d2ff" d="M216.9 595.4l0.2 1.6-3.1 65.3-0.3-1.8z"/>
<path fill="#ceceff" stroke="#ceceff" d="M217.1 597l0.3 1.6-3.1 65.4-0.3-1.7z"/>
<path fill="#cbcbff" stroke="#cbcbff" d="M217.4 598.6l0.3 1.6-3.1 65.5-0.3-1.7z"/>
<path fill="#c7c7ff" stroke="#c7c7ff" d="M217.7 600.2l0.3 1.5-3.1 65.6-0.3-1.6z"/>
<path fill="#c5c5ff" stroke="#c5c5ff" d="M218 601.7l0.1 0.7-3.1 65.7-0.1-0.8z"/>
<path fill="#c3c3ff" stroke="#c3c3ff" d="M218.1 602.4l0.1 0.7-3.1 65.8-0.1-0.8z"/>
<path fill="#c1c1ff" stroke="#c1c1ff" d="M218.2 603.1l0.3 1.4-3.1 65.9-0.3-1.5z"/>
<path fill="#bebeff" stroke="#bebeff" d="M218.5 604.5l0.3 1.4-3.1 66-0.3-1.5z"/>
<path fill="#bbbbff" stroke="#bbbbff" d="M218.8 605.9l0.2 1.4-3 66.2-0.3-1.6z"/>
<path fill="#b8b8ff" stroke="#b8b8ff" d="M219 607.3l0.3 1.5-3 66.2-0.3-1.5z"/>
<path fill="#b3b3ff" stroke="#b3b3ff" d="M219.3 608.8l0.5 2.8-2.9 66.5-0.6-3.1z"/>
<path fill="#adadff" stroke="#adadff" d="M219.8 611.6l0.6 2.7-2.9 66.8-0.6-3z"/>
<path fill="#a7a7ff" stroke="#a7a7ff" d="M220.4 614.3l0.5 2.7-2.8 67-0.6-2.9z"/>
<path fill="#a2a2ff" stroke="#a2a2ff" d="M220.9 617l0.5 2.7-2.7 67.2-0.6-2.9z"/>
<path fill="#9c9cff" stroke="#9c9cff" d="M221.4 619.7l0.6 2.5-2.8 67.4-0.5-2.7z"/>
<path fill="#9797ff" stroke="#9797ff" d="M222 622.2l0.5 2.4-2.7 67.6-0.6-2.6z"/>
<path fill="#9191ff" stroke="#9191ff" d="M222.5 624.6l0.5 2.3-2.6 67.8-0.6-2.5z"/>
<path fill="#8d8dff" stroke="#8d8dff" d="M223 626.9l0.6 2.1-2.6 68-0.6-2.3z"/>
<path fill="#8888ff" stroke="#8888ff" d="M223.6 629l0.5 2-2.6 68.1-0.5-2.1z"/>
<path fill="#8484ff" stroke="#8484ff" d="M224.1 631l0.5 1.7-2.5 68.4-0.6-2z"/>
<path fill="#8181ff" stroke="#8181ff" d="M224.6 632.7l0.5 1.6-2.4 68.5-0.6-1.7z"/>
<path fill="#7c7cff" stroke="#7c7cff" d="M225.1 634.3l0.9 2.2-2.4 68.6-0.9-2.3z"/>
<path fill="#7a7aff" stroke="#7a7aff" d="M226 636.5l0.1 0.3-2.3 68.7-0.2-0.4z"/>
<path fill="#7777ff" stroke="#7777ff" d="M226.1 636.8l1.1 2.1-2.3 68.8-1.1-2.2z"/>
<path fill="#7373ff" stroke="#7373ff" d="M227.2 638.9l1 2-2.2 69-1.1-2.2z"/>
<path fill="#6f6fff" stroke="#6f6fff" d="M228.2 640.9l1 1.7-2.1 69.2-1.1-1.9z"/>
<path fill="#6a6aff" stroke="#6a6aff" d="M229.2 642.6l2 2.5-1.9 69.4-2.2-2.7z"/>
<path fill="#6767ff" stroke="#6767ff" d="M231.2 645.1l1.4 0.6-1.8 69.4-1.5-0.6z"/>
<path fill="#6666ff" stroke="#6666ff" d="M232.6 645.7l0.6-0.1-1.8 69.4-0.6 0.1z"/>
<path fill="#6868ff" stroke="#6868ff" d="M233.2 645.6l1.9-1.8-1.5 69.3-2.2 1.9z"/>
<path fill="#6c6cff" stroke="#6c6cff" d="M235.1 643.8l1-1.5-1.5 69.2-1 1.6z"/>
<path fill="#6f6fff" stroke="#6f6fff" d="M236.1 642.3l1-1.7-1.4 69-1.1 1.9z"/>
<path fill="#7373ff" stroke="#7373ff" d="M237.1 640.6l0.9-1.9-1.3 68.8-1 2.1z"/>
<path fill="#7777ff" stroke="#7777ff" d="M238 638.7l1-2-1.3 68.7-1 2.1z"/>
<path fill="#7a7aff" stroke="#7a7aff" d="M239 636.7l0.1-0.2-1.2 68.7-0.2 0.2z"/>
<path fill="#7c7cff" stroke="#7c7cff" d="M239.1 636.5l0.8-1.9-1.1 68.5-0.9 2.1z"/>
<path fill="#8181ff" stroke="#8181ff" d="M239.9 634.6l1-2.7-1.1 68.3-1 2.9z"/>
<path fill="#8585ff" stroke="#8585ff" d="M240.9 631.9l0.5-1.5-1.1 68.2-0.5 1.6z"/>
<path fill="#8989ff" stroke="#8989ff" d="M241.4 630.4l0.4-1.5-1 68-0.5 1.7z"/>
<path fill="#8c8cff" stroke="#8c8cff" d="M241.8 628.9l0.5-1.7-0.9 67.9-0.6 1.8z"/>
<path fill="#9090ff" stroke="#9090ff" d="M242.3 627.2l0.5-1.8-0.9 67.8-0.5 1.9z"/>
<path fill="#9494ff" stroke="#9494ff" d="M242.8 625.4l0.4-1.8-0.8 67.6-0.5 2z"/>
<path fill="#9898ff" stroke="#9898ff" d="M243.2 623.6l0.5-1.9-0.8 67.4-0.5 2.1z"/>
<path fill="#9c9cff" stroke="#9c9cff" d="M243.7 621.7l0.5-2-0.8 67.3-0.5 2.1z"/>
<path fill="#a0a0ff" stroke="#a0a0ff" d="M244.2 619.7l0.5-2-0.8 67.2-0.5 2.1z"/>
<path fill="#a5a5ff" stroke="#a5a5ff" d="M244.7 617.7l0.4-2-0.7 67-0.5 2.2z"/>
<path fill="#a9a9ff" stroke="#a9a9ff" d="M245.1 615.7l0.5-2-0.7 66.8-0.5 2.2z"/>
<path fill="#adadff" stroke="#adadff" d="M245.6 613.7l0.5-2-0.7 66.6-0.5 2.2z"/>
<path fill="#b2b2ff" stroke="#b2b2ff" d="M246.1 611.7l0.4-2.1-0.6 66.5-0.5 2.2z"/>
<path fill="#b6b6ff" stroke="#b6b6ff" d="M246.5 609.6l0.5-2-0.6 66.3-0.5 2.2z"/>
<path fill="#b8b8ff" stroke="#b8b8ff" d="M247 607.6l0 0-0.5 66.3-0.1 0z"/>
<path fill="#babaff" stroke="#babaff" d="M247 607.6l0.5-2-0.5 66.1-0.5 2.2z"/>
<path fill="#bfbfff" stroke="#bfbfff" d="M247.5 605.6l0.4-1.9-0.4 65.9-0.5 2.1z"/>
<path fill="#c3c3ff" stroke="#c3c3ff" d="M247.9 603.7l0.5-2-0.4 65.8-0.5 2.1z"/>
<path fill="#c7c7ff" stroke="#c7c7ff" d="M248.4 601.7l0.5-2-0.4 65.6-0.5 2.2z"/>
<path fill="#ccccff" stroke="#ccccff" d="M248.9 599.7l0.4-2.1-0.3 65.5-0.5 2.2z"/>
<path fill="#d0d0ff" stroke="#d0d0ff" d="M249.3 597.6l0.5-2.2-0.3 65.3-0.5 2.4z"/>
<path fill="#d5d5ff" stroke="#d5d5ff" d="M249.8 595.4l0.5-2.3-0.3 65.1-0.5 2.5z"/>
<path fill="#dadaff" stroke="#dadaff" d="M250.3 593.1l0.4-2.4-0.2 64.8-0.5 2.7z"/>
<path fill="#e0e0ff" stroke="#e0e0ff" d="M250.7 590.7l0.5-2.7-0.2 64.6-0.5 2.9z"/>
<path fill="#e4e4ff" stroke="#e4e4ff" d="M251.2 588l0.2-1.4-0.1 64.5-0.3 1.5z"/>
<path fill="#e7e7ff" stroke="#e7e7ff" d="M251.4 586.6l0.3-1.5-0.2 64.4-0.2 1.6z"/>
<path fill="#eaeaff" stroke="#eaeaff" d="M251.7 585.1l0.2-1.5-0.1 64.3-0.3 1.6z"/>
<path fill="#eeeeff" stroke="#eeeeff" d="M251.9 583.6l0.2-1.6-0.1 64.1-0.2 1.8z"/>
<path fill="#f0f0ff" stroke="#f0f0ff" d="M252.1 582l0.1-0.6-0.1 64.1-0.1 0.6z"/>
<path fill="#f2f2ff" stroke="#f2f2ff" d="M252.2 581.4l0.1-1.1-0.1 64-0.1 1.2z"/>
<path fill="#f5f5ff" stroke="#f5f5ff" d="M252.3 580.3l0.3-2.1-0.1 63.9-0.3 2.2z"/>
<path fill="#fafaff" stroke="#fafaff" d="M252.6 578.2l0.2-2.2-0.1 63.6-0.2 2.5z"/>
<path fill="#ffffff" stroke="#ffffff" d="M252.8 576l0.2-2.5 0 63.4-0.3 2.7z"/>
<path fill="#fff9f9" stroke="#fff9f9" d="M253 573.5l0.2-2.7 0 63.2-0.2 2.9z"/>
<path fill="#fff3f3" stroke="#fff3f3" d="M253.2 570.8l0.2-2.7 0 63-0.2 2.9z"/>
<path fill="#ffeded" stroke="#ffeded" d="M253.4 568.1l0.2-2.9 0.1 62.8-0.3 3.1z"/>
<path fill="#ffe9e9" stroke="#ffe9e9" d="M253.6 565.2l0.2-1.4 0 62.6-0.1 1.6z"/>
<path fill="#ffe6e6" stroke="#ffe6e6" d="M253.8 563.8l0.1-1.4 0 62.5-0.1 1.5z"/>
<path fill="#ffe1e1" stroke="#ffe1e1" d="M253.9 562.4l0.2-2.8 0 62.2-0.2 3.1z"/>
<path fill="#ffdbdb" stroke="#ffdbdb" d="M254.1 559.6l0.2-2.8 0 62-0.2 3z"/>
<path fill="#ffd5d5" stroke="#ffd5d5" d="M254.3 556.8l0.2-2.6 0.1 61.8-0.3 2.8z"/>
<path fill="#ffd0d0" stroke="#ffd0d0" d="M254.5 554.2l0.2-2.5 0.1 61.6-0.2 2.7z"/>
<path fill="#ffcbcb" stroke="#ffcbcb" d="M254.7 551.7l0.2-1.8 0.1 61.4-0.2 2z"/>
<path fill="#ffc9c9" stroke="#ffc9c9" d="M254.9 549.9l0-0.5 0.2 61.4-0.1 0.5z"/>
<path fill="#ffc6c6" stroke="#ffc6c6" d="M254.9 549.4l0.3-2.3 0.1 61.2-0.2 2.5z"/>
<path fill="#ffc1c1" stroke="#ffc1c1" d="M255.2 547.1l0.2-2.4 0.1 61-0.2 2.6z"/>
<path fill="#ffbcbc" stroke="#ffbcbc" d="M255.4 544.7l0.2-2.5 0.2 60.8-0.3 2.7z"/>
<path fill="#ffb6b6" stroke="#ffb6b6" d="M255.6 542.2l0.2-2.5 0.2 60.5-0.2 2.8z"/>
<path fill="#ffb1b1" stroke="#ffb1b1" d="M255.8 539.7l0.2-2.5 0.2 60.3-0.2 2.7z"/>
<path fill="#ffacac" stroke="#ffacac" d="M256 537.2l0.3-2.5 0.2 60.2-0.3 2.6z"/>
<path fill="#ffa6a6" stroke="#ffa6a6" d="M256.3 534.7l0.2-2.3 0.2 59.9-0.2 2.6z"/>
<path fill="#ffa2a2" stroke="#ffa2a2" d="M256.5 532.4l0.2-2.2 0.3 59.8-0.3 2.3z"/>
<path fill="#ff9d9d" stroke="#ff9d9d" d="M256.7 530.2l0.2-1.9 0.3 59.6-0.2 2.1z"/>
<path fill="#ff9a9a" stroke="#ff9a9a" d="M256.9 528.3l0.3-1.6 0.2 59.4-0.2 1.8z"/>
<path fill="#ff9595" stroke="#ff9595" d="M257.2 526.7l0.4-2.4 0.4 59.3-0.6 2.5z"/>
<path fill="#ff9292" stroke="#ff9292" d="M257.6 524.3l0.4-0.6 0.4 59.2-0.4 0.7z"/>
<path fill="#ff9191" stroke="#ff9191" d="M258 523.7l1.6-0.4 0.5 59.2-1.7 0.4z"/>
<path fill="#ff9090" stroke="#ff9090" d="M259.6 523.3l2-0.3 2-0.3 0.8 59.2-2.1 0.2-2.2 0.4z"/>
<path fill="#ff8f8f" stroke="#ff8f8f" d="M263.6 522.7l2-0.1 2-0.2 0.4 0 1.6-0.1 1.3 59.1-1.7 0.2-0.4 0-2.2 0.2-2.2 0.1z"/>
<path fill="#ff8e8e" stroke="#ff8e8e" d="M269.6 522.3l2-0.2 1.9-0.2 2-0.1 2-0.2 2.1 59.2-2.2 0.2-2.1 0.1-2.2 0.2-2.2 0.1z"/>
<path fill="#2f2fff" stroke="#2f2fff" d="M521.4 668.1l1.9 0 2 0 2 0 2 0 1.9 0 2 0 2 0 1.9 0 2 0 2 0 2-0.1 1.9 0 2 0 2 0 1.9 0 2 0 2 0 1.9 0 2-0.1 2 0 2 0 1.1 0 24.1 71.9-1.1 0-2.2 0.1-2.1 0-2.1 0-2.1 0-2.1 0-2.1 0-2.1 0-2.1 0-2.1 0-2.1 0-2.1 0-2.2 0.1-2.1 0-2.1 0-2.1 0-2.1 0-2.1 0-2.1-0.1-2.1 0-2.1 0-2.2 0z"/>
<path fill="#3030ff" stroke="#3030ff" d="M499.7 667.9l0.1 0 1.9 0 1.9 0 2 0.1 2 0 1.9 0 2 0 2 0 2 0 1.9 0.1 2 0 2 0 21.1 71.8-2.1 0-2.1 0-2.1 0-2.1 0-2.1 0-2.1-0.1-2.1 0-2.2 0-2.1 0-2.1-0.1-2 0-0.1 0z"/>
<path fill="#3131ff" stroke="#3131ff" d="M495.8 667.2l1.9 0.5 2 0.2 19.6 71.8-2.1-0.2-2.1-0.6z"/>
<path fill="#3333ff" stroke="#3333ff" d="M493.8 666.5l2 0.7 19.3 71.7-2.1-0.8z"/>
<path fill="#3535ff" stroke="#3535ff" d="M491.8 665.5l2 1 19.2 71.6-2.1-1z"/>
<path fill="#3737ff" stroke="#3737ff" d="M489.9 664.5l1.9 1 19.1 71.6-2.1-1.1z"/>
<path fill="#3939ff" stroke="#3939ff" d="M487.9 663.4l2 1.1 18.9 71.5-2.1-1.2z"/>
<path fill="#3b3bff" stroke="#3b3bff" d="M486.7 662.7l1.2 0.7 18.8 71.4-1.3-0.7z"/>
<path fill="#3c3cff" stroke="#3c3cff" d="M485.9 662.2l0.8 0.5 18.7 71.4-0.9-0.5z"/>
<path fill="#3f3fff" stroke="#3f3fff" d="M484 660.8l1.9 1.4 18.6 71.4-2.1-1.6z"/>
<path fill="#4242ff" stroke="#4242ff" d="M482 659.1l2 1.7 18.4 71.2-2.1-1.8z"/>
<path fill="#4646ff" stroke="#4646ff" d="M480.1 657.1l1.9 2 18.3 71.1-2.1-2.1z"/>
<path fill="#4b4bff" stroke="#4b4bff" d="M478.1 655l2 2.1 18.1 71-2.1-2.3z"/>
<path fill="#4f4fff" stroke="#4f4fff" d="M476.1 652.7l2 2.3 18 70.8-2.1-2.5z"/>
<path fill="#5555ff" stroke="#5555ff" d="M474.2 650.3l1.9 2.4 17.9 70.6-2.1-2.6z"/>
<path fill="#5858ff" stroke="#5858ff" d="M473.6 649.6l0.6 0.7 17.7 70.4-0.6-0.8z"/>
<path fill="#5b5bff" stroke="#5b5bff" d="M472.2 647.8l1.4 1.8 17.7 70.3-1.5-1.9z"/>
<path fill="#6060ff" stroke="#6060ff" d="M470.3 645.1l1.9 2.7 17.6 70.2-2.1-2.9z"/>
<path fill="#6464ff" stroke="#6464ff" d="M469.3 643.7l1 1.4 17.4 70-1-1.5z"/>
<path fill="#6767ff" stroke="#6767ff" d="M468.3 642.2l1 1.5 17.4 69.9-1.1-1.6z"/>
<path fill="#6b6bff" stroke="#6b6bff" d="M467.3 640.7l1 1.5 17.3 69.8-1-1.7z"/>
<path fill="#6e6eff" stroke="#6e6eff" d="M466.3 639.1l1 1.6 17.3 69.6-1.1-1.7z"/>
<path fill="#7272ff" stroke="#7272ff" d="M465.4 637.4l0.9 1.7 17.2 69.5-1-1.8z"/>
<path fill="#7575ff" stroke="#7575ff" d="M464.4 635.7l1 1.7 17.1 69.4-1.1-1.8z"/>
<path fill="#7979ff" stroke="#7979ff" d="M463.4 634l1 1.7 17 69.3-1-1.9z"/>
<path fill="#7d7dff" stroke="#7d7dff" d="M462.4 632.2l1 1.8 17 69.1-1.1-1.9z"/>
<path fill="#8181ff" stroke="#8181ff" d="M461.4 630.4l1 1.8 16.9 69-1-2z"/>
<path fill="#8585ff" stroke="#8585ff" d="M460.5 628.6l0.9 1.8 16.9 68.8-1.1-2z"/>
<path fill="#8989ff" stroke="#8989ff" d="M459.5 626.6l1 2 16.7 68.6-1-2z"/>
<path fill="#8d8dff" stroke="#8d8dff" d="M458.5 624.7l1 1.9 16.7 68.6-1.1-2.1z"/>
<path fill="#9191ff" stroke="#9191ff" d="M457.8 623.3l0.7 1.4 16.6 68.4-0.7-1.5z"/>
<path fill="#9393ff" stroke="#9393ff" d="M457.5 622.7l0.3 0.6 16.6 68.3-0.3-0.7z"/>
<path fill="#9696ff" stroke="#9696ff" d="M456.5 620.6l1 2.1 16.6 68.2-1.1-2.3z"/>
<path fill="#9b9bff" stroke="#9b9bff" d="M455.6 618.3l0.9 2.3 16.5 68-1-2.4z"/>
<path fill="#a0a0ff" stroke="#a0a0ff" d="M454.6 616l1 2.3 16.4 67.9-1.1-2.6z"/>
<path fill="#a5a5ff" stroke="#a5a5ff" d="M453.6 613.5l1 2.5 16.3 67.6-1-2.6z"/>
<path fill="#aaaaff" stroke="#aaaaff" d="M452.6 611l1 2.5 16.3 67.5-1.1-2.8z"/>
<path fill="#b0b0ff" stroke="#b0b0ff" d="M451.6 608.4l1 2.6 16.2 67.2-1-2.8z"/>
<path fill="#b6b6ff" stroke="#b6b6ff" d="M450.7 605.7l0.9 2.7 16.2 67-1.1-2.8z"/>
<path fill="#bbbbff" stroke="#bbbbff" d="M449.7 603.1l1 2.6 16 66.9-1-2.8z"/>
<path fill="#c1c1ff" stroke="#c1c1ff" d="M448.7 600.5l1 2.6 16 66.7-1.1-2.9z"/>
<path fill="#c7c7ff" stroke="#c7c7ff" d="M447.7 597.9l1 2.6 15.9 66.4-1.1-2.8z"/>
<path fill="#cacaff" stroke="#cacaff" d="M447.4 597.1l0.3 0.8 15.8 66.2-0.3-0.8z"/>
<path fill="#cdcdff" stroke="#cdcdff" d="M446.7 595.3l0.7 1.8 15.8 66.2-0.7-1.9z"/>
<path fill="#d2d2ff" stroke="#d2d2ff" d="M445.7 592.8l1 2.5 15.8 66.1-1.1-2.8z"/>
<path fill="#d7d7ff" stroke="#d7d7ff" d="M444.8 590.2l0.9 2.6 15.7 65.8-1-2.8z"/>
<path fill="#ddddff" stroke="#ddddff" d="M443.8 587.5l1 2.7 15.6 65.6-1.1-2.9z"/>
<path fill="#e3e3ff" stroke="#e3e3ff" d="M442.8 584.9l1 2.6 15.5 65.4-1-2.8z"/>
<path fill="#e8e8ff" stroke="#e8e8ff" d="M441.8 582.3l1 2.6 15.5 65.2-1.1-2.9z"/>
<path fill="#eeeeff" stroke="#eeeeff" d="M440.8 579.6l1 2.7 15.4 64.9-1-2.8z"/>
<path fill="#f4f4ff" stroke="#f4f4ff" d="M439.8 577l1 2.6 15.4 64.8-1.1-2.9z"/>
<path fill="#f8f8ff" stroke="#f8f8ff" d="M439.5 576.1l0.3 0.9 15.3 64.5-0.4-0.9z"/>
<path fill="#fbfbff" stroke="#fbfbff" d="M438.8 574.3l0.7 1.8 15.2 64.5-0.7-1.9z"/>
<path fill="#ffffff" stroke="#ffffff" d="M437.9 571.6l0.9 2.7 15.2 64.4-1-3z"/>
<path fill="#fff9f9" stroke="#fff9f9" d="M436.9 568.7l1 2.9 15.1 64.1-1.1-3.1z"/>
<path fill="#fff2f2" stroke="#fff2f2" d="M435.9 565.9l1 2.8 15 63.9-1-3z"/>
<path fill="#ffecec" stroke="#ffecec" d="M434.9 563.1l1 2.8 15 63.7-1.1-3z"/>
<path fill="#ffe7e7" stroke="#ffe7e7" d="M433.9 560.5l1 2.6 14.9 63.5-1.1-2.9z"/>
<path fill="#ffe1e1" stroke="#ffe1e1" d="M432.9 558.1l1 2.4 14.8 63.2-1-2.6z"/>
<path fill="#ffdcdc" stroke="#ffdcdc" d="M431.9 555.9l1 2.2 14.8 63-1.1-2.4z"/>
<path fill="#ffd9d9" stroke="#ffd9d9" d="M431.6 555.2l0.3 0.7 14.7 62.8-0.3-0.7z"/>
<path fill="#ffd7d7" stroke="#ffd7d7" d="M430.9 553.9l0.7 1.3 14.7 62.8-0.7-1.4z"/>
<path fill="#ffd3d3" stroke="#ffd3d3" d="M430 552l0.9 1.9 14.7 62.7-1.1-2.1z"/>
<path fill="#ffcfcf" stroke="#ffcfcf" d="M429 550.1l1 1.9 14.5 62.5-1.1-2.1z"/>
<path fill="#ffcbcb" stroke="#ffcbcb" d="M428 548.2l1 1.9 14.4 62.3-1-2z"/>
<path fill="#ffc7c7" stroke="#ffc7c7" d="M427 546.4l1 1.8 14.4 62.2-1.1-1.9z"/>
<path fill="#ffc4c4" stroke="#ffc4c4" d="M426 544.8l1 1.6 14.3 62.1-1.1-1.8z"/>
<path fill="#ffc0c0" stroke="#ffc0c0" d="M425 543.3l1 1.5 14.2 61.9-1-1.6z"/>
<path fill="#ffbcbc" stroke="#ffbcbc" d="M423 540.8l2 2.5 14.2 61.8-2.2-2.7z"/>
<path fill="#ffb8b8" stroke="#ffb8b8" d="M421.1 539.4l1.9 1.4 14 61.6-2-1.5z"/>
<path fill="#ffb6b6" stroke="#ffb6b6" d="M421 539.4l0.1 0 13.9 61.5-0.1-0.1z"/>
<path fill="#ffb5b5" stroke="#ffb5b5" d="M419 538.5l2 0.9 13.9 61.4-2.2-1z"/>
<path fill="#ffb3b3" stroke="#ffb3b3" d="M417 537.7l2 0.8 13.7 61.3-2.1-0.8z"/>
<path fill="#ffb2b2" stroke="#ffb2b2" d="M415.1 537l1.9 0.7 13.6 61.3-2.2-0.7z"/>
<path fill="#ffb0b0" stroke="#ffb0b0" d="M413.1 536.5l2 0.5 13.3 61.3-2.1-0.7z"/>
<path fill="#ffafaf" stroke="#ffafaf" d="M411.1 536l2 0.5 13.2 61.1-2.2-0.5z"/>
<path fill="#ffaeae" stroke="#ffaeae" d="M409.1 535.5l2 0.5 13 61.1-2.1-0.5z"/>
<path fill="#ffadad" stroke="#ffadad" d="M407.1 535.1l2 0.4 12.9 61.1-2.2-0.4z"/>
<path fill="#ffacac" stroke="#ffacac" d="M403.1 534.4l2 0.4 2 0.3 12.7 61.1-2.1-0.4-2.2-0.4z"/>
<path fill="#ffabab" stroke="#ffabab" d="M401.1 534.1l2 0.3 12.4 61-2.1-0.4z"/>
<path fill="#ffaaaa" stroke="#ffaaaa" d="M399.1 533.7l2 0.4 12.3 60.9-2.2-0.4z"/>
<path fill="#ffa9a9" stroke="#ffa9a9" d="M397.1 533.4l2 0.3 12.1 60.9-2.1-0.4z"/>
<path fill="#ffa8a8" stroke="#ffa8a8" d="M394.9 532.9l0.2 0.1 2 0.4 12 60.8-2.2-0.5-0.2 0z"/>
<path fill="#ffa7a7" stroke="#ffa7a7" d="M393.1 532.5l1.8 0.4 11.8 60.8-1.9-0.4z"/>
<path fill="#ffa6a6" stroke="#ffa6a6" d="M391.2 532.1l1.9 0.4 11.7 60.8-2.2-0.5z"/>
<path fill="#ffa5a5" stroke="#ffa5a5" d="M389.2 531.6l2 0.5 11.4 60.7-2.1-0.5z"/>
<path fill="#ffa4a4" stroke="#ffa4a4" d="M385.2 530.8l2 0.4 2 0.4 11.3 60.7-2.2-0.5-2.1-0.5z"/>
<path fill="#ffa3a3" stroke="#ffa3a3" d="M383.2 530.4l2 0.4 11 60.5-2.2-0.4z"/>
<path fill="#ffa2a2" stroke="#ffa2a2" d="M381.2 530l2 0.4 10.8 60.5-2.1-0.5z"/>
<path fill="#ffa1a1" stroke="#ffa1a1" d="M379.2 529.6l2 0.4 10.7 60.4-2.2-0.4z"/>
<path fill="#ffa0a0" stroke="#ffa0a0" d="M377.2 529.2l2 0.4 10.5 60.4-2.1-0.5z"/>
<path fill="#ff9f9f" stroke="#ff9f9f" d="M375.2 528.8l2 0.4 10.4 60.3-2.2-0.4z"/>
<path fill="#ff9e9e" stroke="#ff9e9e" d="M373.2 528.4l2 0.4 10.2 60.3-2.1-0.4z"/>
<path fill="#ff9d9d" stroke="#ff9d9d" d="M369.2 527.7l2 0.3 2 0.4 10.1 60.3-2.2-0.4-2.1-0.4z"/>
<path fill="#ff9c9c" stroke="#ff9c9c" d="M367.2 527.4l1.5 0.2 0.5 0.1 9.8 60.2-0.6-0.1-1.6-0.3z"/>
<path fill="#ff9b9b" stroke="#ff9b9b" d="M365.2 527l2 0.4 9.6 60.1-2.2-0.4z"/>
<path fill="#ff9a9a" stroke="#ff9a9a" d="M363.2 526.7l2 0.3 9.4 60.1-2.1-0.3z"/>
<path fill="#ff9999" stroke="#ff9999" d="M359.3 526l2 0.4 1.9 0.3 9.3 60.1-2.2-0.4-2.1-0.3z"/>
<path fill="#ff9898" stroke="#ff9898" d="M357.3 525.7l2 0.3 8.9 60.1-2.2-0.4z"/>
<path fill="#ff9797" stroke="#ff9797" d="M353.3 525.1l2 0.3 2 0.3 8.7 60-2.1-0.3-2.2-0.4z"/>
<path fill="#ff9696" stroke="#ff9696" d="M351.3 524.8l2 0.3 8.4 59.9-2.1-0.3z"/>
<path fill="#ff9595" stroke="#ff9595" d="M347.3 524.3l2 0.3 2 0.2 8.3 59.9-2.2-0.3-2.2-0.3z"/>
<path fill="#ff9494" stroke="#ff9494" d="M343.3 523.8l2 0.2 2 0.3 7.9 59.8-2.1-0.3-2.2-0.3z"/>
<path fill="#ff9393" stroke="#ff9393" d="M341.3 523.6l1.2 0.1 0.8 0.1 7.6 59.7-0.9-0.1-1.2-0.1z"/>
<path fill="#ff9292" stroke="#ff9292" d="M337.3 523l2 0.3 2 0.3 7.5 59.7-2.2-0.3-2.2-0.3z"/>
<path fill="#ff9191" stroke="#ff9191" d="M333.3 522.5l2 0.3 2 0.2 7.1 59.7-2.1-0.3-2.2-0.3z"/>
<path fill="#ff9090" stroke="#ff9090" d="M329.3 522l2 0.3 2 0.2 6.8 59.6-2.1-0.3-2.2-0.3z"/>
<path fill="#ff8f8f" stroke="#ff8f8f" d="M325.4 521.6l2 0.2 1.9 0.2 6.5 59.5-2.2-0.2-2.1-0.2z"/>
<path fill="#ff8e8e" stroke="#ff8e8e" d="M321.4 521.3l2 0.1 2 0.2 6.1 59.5-2.2-0.2-2.1-0.2z"/>
<path fill="#ff8d8d" stroke="#ff8d8d" d="M277.5 521.6l2-0.1 2-0.1 2-0.1 2-0.1 2-0.1 2 0 0.5 0 1.5 0 2 0 2 0 2 0 1.9-0.1 2 0 2 0 2 0 2 0.1 2 0 2 0 2 0 2 0 0.8 0 1.2 0 2 0.1 2 0.1 5.8 59.4-2.2-0.1-2.2-0.1-1.3 0-0.8-0.1-2.2 0-2.2 0-2.1 0-2.2-0.1-2.1 0-2.2 0-2.2 0-2.1 0-2.2 0-2.2 0-2.1 0-2.2 0-1.6 0-0.5 0-2.2 0-2.2 0.1-2.1 0.1-2.2 0.1-2.2 0.1-2.1 0.1z"/></g>
<g stroke="#000" stroke-width="1.6" stroke-dasharray="4,4" fill="none">
<line x1="640.3" y1="514.8" x2="1138.8" y2="510.8"/>
<line x1="641.9" y1="575.0" x2="1138.1" y2="570.8"/>
<line x1="643.5" y1="634.6" x2="1137.3" y2="630.0"/>
<line x1="645.1" y1="692.8" x2="1136.6" y2="688.4"/>
<line x1="721.8" y1="456.2" x2="725.9" y2="692.1"/>
<line x1="804.2" y1="455.5" x2="806.4" y2="691.4"/>
<line x1="886.6" y1="454.7" x2="887.9" y2="690.6"/>
<line x1="968.9" y1="454.0" x2="968.3" y2="689.9"/>
<line x1="1050.7" y1="453.2" x2="1049.9" y2="689.2"/>
<line x1="1132.2" y1="452.5" x2="1129.9" y2="688.5"/>
</g>
<polyline points="644.2,698.0 645.1,693.8 638.7,457.0 1139.6,452.4 1136.5,693.3" fill="none" stroke="#000" stroke-width="1.6"/>
<polygon points="644.2,698.0 680.5,697.7 666.2,772.4 627.8,772.8" fill="#4b3fd0" stroke="#4b3fd0" stroke-width="0.5"/>
<polygon points="680.5,697.7 712.3,697.3 700.7,772.0 666.2,772.4" fill="#dbd9d7" stroke="#dbd9d7" stroke-width="0.5"/>
<polygon points="712.3,697.3 753.9,697.0 745.8,771.5 700.7,772.0" fill="#c7b6ad" stroke="#c7b6ad" stroke-width="0.5"/>
<polygon points="753.9,697.0 763.5,696.9 756.2,771.4 745.8,771.5" fill="#747076" stroke="#747076" stroke-width="0.5"/>
<polygon points="763.5,696.9 824.4,696.3 822.3,770.7 756.2,771.4" fill="#484a66" stroke="#484a66" stroke-width="0.5"/>
<polygon points="824.4,696.3 999.0,694.6 1010.5,768.7 822.3,770.7" fill="#7a16a0" stroke="#7a16a0" stroke-width="0.5"/>
<polygon points="999.0,694.6 1076.5,693.9 1095.5,767.8 1010.5,768.7" fill="#c6b5ad" stroke="#c6b5ad" stroke-width="0.5"/>
<polygon points="1076.5,693.9 1136.5,693.3 1160.9,767.1 1095.5,767.8" fill="#0000ff" stroke="#0000ff" stroke-width="0.5"/>
<polygon points="644.2,698.0 1136.5,693.3 1160.9,767.1 627.8,772.8" fill="none" stroke="#000" stroke-width="1.3"/>
<line x1="627.8" y1="772.8" x2="1160.9" y2="767.1" stroke="#000" stroke-width="2.2"/>
<g stroke-width="1" stroke-linejoin="round"><path fill="#0000ff" stroke="#0000ff" d="M645.1 692.8l0.4 0 1.6 0 1.9 0 2-0.1 2 0 1.9 0 2 0 1.9 0 1.2 0 0.8 0 2-0.1 1.9 0 2 0 2-0.3-14.2 73.1-2.1 0.3-2.2 0.1-2.1 0-2.2 0-0.9 0-1.2 0-2.2 0-2.1 0-2.2 0-2.1 0.1-2.2 0-2.1 0-1.8 0-0.4 0z"/>
<path fill="#0101ff" stroke="#0101ff" d="M668.7 692.3l1.9-0.3-14 73.1-2.1 0.3z"/>
<path fill="#0202ff" stroke="#0202ff" d="M670.6 692l2-0.3 1.9-0.4-13.6 73-2.1 0.4-2.2 0.4z"/>
<path fill="#0303ff" stroke="#0303ff" d="M674.5 691.3l2-0.5-13.5 73-2.1 0.5z"/>
<path fill="#0404ff" stroke="#0404ff" d="M676.5 690.8l1.9-0.5-13.2 73-2.2 0.5z"/>
<path fill="#0505ff" stroke="#0505ff" d="M678.4 690.3l0.1 0-13.2 72.9-0.1 0.1z"/>
<path fill="#0606ff" stroke="#0606ff" d="M678.5 690.3l1.9-0.7-13.1 72.8-2 0.8z"/>
<path fill="#0808ff" stroke="#0808ff" d="M680.4 689.6l1.9-1.2-12.9 72.8-2.1 1.2z"/>
<path fill="#0b0bff" stroke="#0b0bff" d="M682.3 688.4l1.9-1.5-12.7 72.7-2.1 1.6z"/>
<path fill="#0e0eff" stroke="#0e0eff" d="M684.2 686.9l2-1.7-12.6 72.6-2.1 1.8z"/>
<path fill="#1111ff" stroke="#1111ff" d="M686.2 685.2l1.6-1.4-12.4 72.4-1.8 1.6z"/>
<path fill="#1313ff" stroke="#1313ff" d="M687.8 683.8l0.3-0.3-12.4 72.4-0.3 0.3z"/>
<path fill="#1616ff" stroke="#1616ff" d="M688.1 683.5l1.9-1.8-12.2 72.2-2.1 2z"/>
<path fill="#1a1aff" stroke="#1a1aff" d="M690 681.7l1.9-2.3-12 72-2.1 2.5z"/>
<path fill="#1d1dff" stroke="#1d1dff" d="M691.9 679.4l0.5-0.7-12 72-0.5 0.7z"/>
<path fill="#1f1fff" stroke="#1f1fff" d="M692.4 678.7l0.5-0.7-11.9 71.9-0.6 0.8z"/>
<path fill="#2121ff" stroke="#2121ff" d="M692.9 678l0.9-1.6-11.8 71.8-1 1.7z"/>
<path fill="#2525ff" stroke="#2525ff" d="M693.8 676.4l1-1.8-11.8 71.6-1 2z"/>
<path fill="#2929ff" stroke="#2929ff" d="M694.8 674.6l0.9-2-11.7 71.4-1 2.2z"/>
<path fill="#2e2eff" stroke="#2e2eff" d="M695.7 672.6l0.9-2.3-11.5 71.3-1.1 2.4z"/>
<path fill="#3131ff" stroke="#3131ff" d="M696.6 670.3l0.4-0.9-11.5 71.2-0.4 1z"/>
<path fill="#3434ff" stroke="#3434ff" d="M697 669.4l0.6-1.6-11.5 71.1-0.6 1.7z"/>
<path fill="#3737ff" stroke="#3737ff" d="M697.6 667.8l0.4-1.4-11.4 71-0.5 1.5z"/>
<path fill="#3b3bff" stroke="#3b3bff" d="M698 666.4l0.5-1.5-11.4 70.8-0.5 1.7z"/>
<path fill="#3e3eff" stroke="#3e3eff" d="M698.5 664.9l0.4-1.6-11.3 70.7-0.5 1.7z"/>
<path fill="#4242ff" stroke="#4242ff" d="M698.9 663.3l0.5-1.7-11.4 70.5-0.4 1.9z"/>
<path fill="#4545ff" stroke="#4545ff" d="M699.4 661.6l0.4-1.7-11.3 70.3-0.5 1.9z"/>
<path fill="#4949ff" stroke="#4949ff" d="M699.8 659.9l0.5-1.9-11.3 70.2-0.5 2z"/>
<path fill="#4d4dff" stroke="#4d4dff" d="M700.3 658l0.4-1.9-11.2 70.1-0.5 2z"/>
<path fill="#5252ff" stroke="#5252ff" d="M700.7 656.1l0.5-1.9-11.2 69.9-0.5 2.1z"/>
<path fill="#5656ff" stroke="#5656ff" d="M701.2 654.2l0.4-2-11.1 69.7-0.5 2.2z"/>
<path fill="#5858ff" stroke="#5858ff" d="M701.6 652.2l0.1-0.3-11.1 69.7-0.1 0.3z"/>
<path fill="#5b5bff" stroke="#5b5bff" d="M701.7 651.9l0.4-1.8-11.1 69.5-0.4 2z"/>
<path fill="#5f5fff" stroke="#5f5fff" d="M702.1 650.1l0.4-2.3-11.1 69.3-0.4 2.5z"/>
<path fill="#6464ff" stroke="#6464ff" d="M702.5 647.8l0.5-2.4-11.1 69.1-0.5 2.6z"/>
<path fill="#6a6aff" stroke="#6a6aff" d="M703 645.4l0.4-2.6-11 68.9-0.5 2.8z"/>
<path fill="#6f6fff" stroke="#6f6fff" d="M703.4 642.8l0.4-2.5-10.9 68.7-0.5 2.7z"/>
<path fill="#7575ff" stroke="#7575ff" d="M703.8 640.3l0.5-2.6-11 68.5-0.4 2.8z"/>
<path fill="#7878ff" stroke="#7878ff" d="M704.3 637.7l0.1-0.7-10.9 68.4-0.2 0.8z"/>
<path fill="#7b7bff" stroke="#7b7bff" d="M704.4 637l0.3-1.9-10.9 68.2-0.3 2.1z"/>
<path fill="#7f7fff" stroke="#7f7fff" d="M704.7 635.1l0.2-1.5-10.9 68.1-0.2 1.6z"/>
<path fill="#8383ff" stroke="#8383ff" d="M704.9 633.6l0.2-1.6-10.8 67.9-0.3 1.8z"/>
<path fill="#8686ff" stroke="#8686ff" d="M705.1 632l0.2-1.7-10.8 67.8-0.2 1.8z"/>
<path fill="#8a8aff" stroke="#8a8aff" d="M705.3 630.3l0.2-1.6-10.8 67.6-0.2 1.8z"/>
<path fill="#8d8dff" stroke="#8d8dff" d="M705.5 628.7l0.3-1.7-10.8 67.6-0.3 1.7z"/>
<path fill="#9191ff" stroke="#9191ff" d="M705.8 627l0.2-1.5-10.8 67.4-0.2 1.7z"/>
<path fill="#9595ff" stroke="#9595ff" d="M706 625.5l0.4-2.6-10.7 67.1-0.5 2.9z"/>
<path fill="#9b9bff" stroke="#9b9bff" d="M706.4 622.9l0.8-2.5-10.7 67-0.8 2.6z"/>
<path fill="#9e9eff" stroke="#9e9eff" d="M707.2 620.4l0.1-0.1 0.8-0.4 1.2 0 2 0.1 2 0.3-10.2 67-2.1-0.3-2.2-0.2-1.3 0-0.8 0.4-0.2 0.2z"/>
<path fill="#9d9dff" stroke="#9d9dff" d="M713.3 620.3l2 0.3-10 67-2.2-0.3z"/>
<path fill="#9c9cff" stroke="#9c9cff" d="M715.3 620.6l1.9 0.4-9.7 67-2.2-0.4z"/>
<path fill="#9b9bff" stroke="#9b9bff" d="M717.2 621l2 0.4-9.6 67.1-2.1-0.5z"/>
<path fill="#9a9aff" stroke="#9a9aff" d="M719.2 621.4l2 0.5-9.4 67.1-2.2-0.5z"/>
<path fill="#9999ff" stroke="#9999ff" d="M721.2 621.9l2 0.4-9.2 67.2-2.2-0.5z"/>
<path fill="#9898ff" stroke="#9898ff" d="M723.2 622.3l1.6 0.4 0.4 0.1-9 67.2-0.5-0.1-1.7-0.4z"/>
<path fill="#9797ff" stroke="#9797ff" d="M725.2 622.8l2 0.5-8.9 67.2-2.1-0.5z"/>
<path fill="#9696ff" stroke="#9696ff" d="M727.2 623.3l1.9 0.5-8.6 67.4-2.2-0.7z"/>
<path fill="#9595ff" stroke="#9595ff" d="M729.1 623.8l2 0.6-8.4 67.4-2.2-0.6z"/>
<path fill="#9494ff" stroke="#9494ff" d="M731.1 624.4l2 0.7-8.3 67.4-2.1-0.7z"/>
<path fill="#9292ff" stroke="#9292ff" d="M733.1 625.1l2 0.6-8.1 67.5-2.2-0.7z"/>
<path fill="#9191ff" stroke="#9191ff" d="M735.1 625.7l2 0.7-7.9 67.6-2.2-0.8z"/>
<path fill="#8f8fff" stroke="#8f8fff" d="M737.1 626.4l2 0.7-7.7 67.6-2.2-0.7z"/>
<path fill="#8e8eff" stroke="#8e8eff" d="M739.1 627.1l1.9 0.6-7.6 67.7-2-0.7z"/>
<path fill="#8d8dff" stroke="#8d8dff" d="M741 627.7l0.1 0-7.6 67.7-0.1 0z"/>
<path fill="#8c8cff" stroke="#8c8cff" d="M741.1 627.7l2 0.8-7.4 67.7-2.2-0.8z"/>
<path fill="#8a8aff" stroke="#8a8aff" d="M743.1 628.5l2 0.8-7.2 67.9-2.2-1z"/>
<path fill="#8888ff" stroke="#8888ff" d="M745.1 629.3l1.9 0.9-7 68-2.1-1z"/>
<path fill="#8686ff" stroke="#8686ff" d="M747 630.2l2 0.9-6.8 68.1-2.2-1z"/>
<path fill="#8484ff" stroke="#8484ff" d="M749 631.1l2 0.9-6.6 68.1-2.2-0.9z"/>
<path fill="#8383ff" stroke="#8383ff" d="M751 632l2 0.6-6.4 68.2-2.2-0.7z"/>
<path fill="#8181ff" stroke="#8181ff" d="M753 632.6l2 0.5 2 0.2-6.1 68.2-2.2-0.2-2.1-0.5z"/>
<path fill="#8080ff" stroke="#8080ff" d="M757 633.3l0.2 0-6.1 68.2-0.2 0z"/>
<path fill="#8181ff" stroke="#8181ff" d="M757.2 633.3l0.8-0.6-6.1 68.1-0.8 0.7z"/>
<path fill="#8585ff" stroke="#8585ff" d="M758 632.7l0.9-2.7-5.9 68-1.1 2.8z"/>
<path fill="#8a8aff" stroke="#8a8aff" d="M758.9 630l0.4-2.1-5.8 67.8-0.5 2.3z"/>
<path fill="#8f8fff" stroke="#8f8fff" d="M759.3 627.9l0.5-2.5-5.9 67.6-0.4 2.7z"/>
<path fill="#9393ff" stroke="#9393ff" d="M759.8 625.4l0.2-1.4-5.8 67.4-0.3 1.6z"/>
<path fill="#9696ff" stroke="#9696ff" d="M760 624l0.2-1.6-5.8 67.4-0.2 1.6z"/>
<path fill="#9a9aff" stroke="#9a9aff" d="M760.2 622.4l0.3-1.6-5.9 67.2-0.2 1.8z"/>
<path fill="#9d9dff" stroke="#9d9dff" d="M760.5 620.8l0.2-1.8-5.8 67.1-0.3 1.9z"/>
<path fill="#a1a1ff" stroke="#a1a1ff" d="M760.7 619l0.2-1.8-5.8 66.9-0.2 2z"/>
<path fill="#a6a6ff" stroke="#a6a6ff" d="M760.9 617.2l0.2-2-5.8 66.7-0.2 2.2z"/>
<path fill="#aaaaff" stroke="#aaaaff" d="M761.1 615.2l0.2-2-5.7 66.5-0.3 2.2z"/>
<path fill="#aeaeff" stroke="#aeaeff" d="M761.3 613.2l0.2-2.2-5.7 66.4-0.2 2.3z"/>
<path fill="#b3b3ff" stroke="#b3b3ff" d="M761.5 611l0.2-2.2-5.7 66.1-0.2 2.5z"/>
<path fill="#b8b8ff" stroke="#b8b8ff" d="M761.7 608.8l0.2-2.3-5.7 65.9-0.2 2.5z"/>
<path fill="#bdbdff" stroke="#bdbdff" d="M761.9 606.5l0.2-2.5-5.6 65.8-0.3 2.6z"/>
<path fill="#c3c3ff" stroke="#c3c3ff" d="M762.1 604l0.2-2.5-5.6 65.5-0.2 2.8z"/>
<path fill="#c8c8ff" stroke="#c8c8ff" d="M762.3 601.5l0.2-2.6-5.6 65.3-0.2 2.8z"/>
<path fill="#ceceff" stroke="#ceceff" d="M762.5 598.9l0.2-2.7-5.6 65.1-0.2 2.9z"/>
<path fill="#d4d4ff" stroke="#d4d4ff" d="M762.7 596.2l0.2-2.7-5.6 64.8-0.2 3z"/>
<path fill="#d8d8ff" stroke="#d8d8ff" d="M762.9 593.5l0.1-1.5-5.6 64.8-0.1 1.5z"/>
<path fill="#dcdcff" stroke="#dcdcff" d="M763 592l0.1-1.4-5.6 64.6-0.1 1.6z"/>
<path fill="#dfdfff" stroke="#dfdfff" d="M763.1 590.6l0.1-1.4-5.6 64.4-0.1 1.6z"/>
<path fill="#e2e2ff" stroke="#e2e2ff" d="M763.2 589.2l0.1-1.5-5.5 64.3-0.2 1.6z"/>
<path fill="#e5e5ff" stroke="#e5e5ff" d="M763.3 587.7l0.1-1.5-5.5 64.2-0.1 1.6z"/>
<path fill="#e8e8ff" stroke="#e8e8ff" d="M763.4 586.2l0.1-1.5-5.5 64.1-0.1 1.6z"/>
<path fill="#ececff" stroke="#ececff" d="M763.5 584.7l0.1-1.5-5.5 63.9-0.1 1.7z"/>
<path fill="#efefff" stroke="#efefff" d="M763.6 583.2l0.1-1.6-5.5 63.8-0.1 1.7z"/>
<path fill="#f2f2ff" stroke="#f2f2ff" d="M763.7 581.6l0.1-1.6-5.5 63.7-0.1 1.7z"/>
<path fill="#f6f6ff" stroke="#f6f6ff" d="M763.8 580l0.1-1.5-5.5 63.5-0.1 1.7z"/>
<path fill="#f9f9ff" stroke="#f9f9ff" d="M763.9 578.5l0.1-1.6-5.5 63.4-0.1 1.7z"/>
<path fill="#fdfdff" stroke="#fdfdff" d="M764 576.9l0.1-1.6-5.5 63.2-0.1 1.8z"/>
<path fill="#fffefe" stroke="#fffefe" d="M764.1 575.3l0.1-1.7-5.5 63.2-0.1 1.7z"/>
<path fill="#fffafa" stroke="#fffafa" d="M764.2 573.6l0.1-1.6-5.5 63-0.1 1.8z"/>
<path fill="#fff7f7" stroke="#fff7f7" d="M764.3 572l0.1-1.7-5.5 62.9-0.1 1.8z"/>
<path fill="#fff3f3" stroke="#fff3f3" d="M764.4 570.3l0.1-1.7-5.5 62.8-0.1 1.8z"/>
<path fill="#fff0f0" stroke="#fff0f0" d="M764.5 568.6l0.1-1.7-5.5 62.6-0.1 1.9z"/>
<path fill="#ffecec" stroke="#ffecec" d="M764.6 566.9l0.1-1.7-5.5 62.5-0.1 1.8z"/>
<path fill="#ffe8e8" stroke="#ffe8e8" d="M764.7 565.2l0.1-1.7-5.5 62.3-0.1 1.9z"/>
<path fill="#ffe4e4" stroke="#ffe4e4" d="M764.8 563.5l0.1-1.7-5.5 62.1-0.1 1.9z"/>
<path fill="#ffe1e1" stroke="#ffe1e1" d="M764.9 561.8l0.1-1.8-5.5 62-0.1 1.9z"/>
<path fill="#ffdddd" stroke="#ffdddd" d="M765 560l0.1-1.8-5.5 61.9-0.1 1.9z"/>
<path fill="#ffd9d9" stroke="#ffd9d9" d="M765.1 558.2l0.1-1.7-5.5 61.6-0.1 2z"/>
<path fill="#ffd5d5" stroke="#ffd5d5" d="M765.2 556.5l0-1.8-5.4 61.5-0.1 1.9z"/>
<path fill="#ffd1d1" stroke="#ffd1d1" d="M765.2 554.7l0.1-1.9-5.4 61.4-0.1 2z"/>
<path fill="#ffcdcd" stroke="#ffcdcd" d="M765.3 552.8l0.1-1.8-5.4 61.2-0.1 2z"/>
<path fill="#ffc9c9" stroke="#ffc9c9" d="M765.4 551l0.1-1.8-5.4 61-0.1 2z"/>
<path fill="#ffc5c5" stroke="#ffc5c5" d="M765.5 549.2l0.1-1.9-5.4 60.9-0.1 2z"/>
<path fill="#ffc2c2" stroke="#ffc2c2" d="M765.6 547.3l0.1-1.8-5.4 60.7-0.1 2z"/>
<path fill="#ffbdbd" stroke="#ffbdbd" d="M765.7 545.5l0.1-1.9-5.4 60.6-0.1 2z"/>
<path fill="#ffb9b9" stroke="#ffb9b9" d="M765.8 543.6l0.1-1.9-5.4 60.4-0.1 2.1z"/>
<path fill="#ffb5b5" stroke="#ffb5b5" d="M765.9 541.7l0.1-1.9-5.4 60.3-0.1 2z"/>
<path fill="#ffb1b1" stroke="#ffb1b1" d="M766 539.8l0.1-1.9-5.4 60.1-0.1 2.1z"/>
<path fill="#ffadad" stroke="#ffadad" d="M766.1 537.9l0.1-1.9-5.4 59.9-0.1 2.1z"/>
<path fill="#ffa9a9" stroke="#ffa9a9" d="M766.2 536l0.1-1.9-5.4 59.7-0.1 2.1z"/>
<path fill="#ffa5a5" stroke="#ffa5a5" d="M766.3 534.1l0.1-2-5.4 59.6-0.1 2.1z"/>
<path fill="#ffa1a1" stroke="#ffa1a1" d="M766.4 532.1l0-1.9-5.3 59.4-0.1 2.1z"/>
<path fill="#ff9d9d" stroke="#ff9d9d" d="M766.4 530.2l0.1-2-5.3 59.3-0.1 2.1z"/>
<path fill="#ff9898" stroke="#ff9898" d="M766.5 528.2l0.1-2-5.3 59.1-0.1 2.2z"/>
<path fill="#ff9494" stroke="#ff9494" d="M766.6 526.2l0.1-1.9-5.3 58.9-0.1 2.1z"/>
<path fill="#ff9090" stroke="#ff9090" d="M766.7 524.3l0.1-2-5.3 58.7-0.1 2.2z"/>
<path fill="#ff8c8c" stroke="#ff8c8c" d="M766.8 522.3l0.1-2-5.3 58.5-0.1 2.2z"/>
<path fill="#ff8787" stroke="#ff8787" d="M766.9 520.3l0.1-2-5.4 58.4 0 2.1z"/>
<path fill="#ff8383" stroke="#ff8383" d="M767 518.3l0.1-2-5.4 58.2-0.1 2.2z"/>
<path fill="#ff7f7f" stroke="#ff7f7f" d="M767.1 516.3l0.1-2.1-5.4 58.1-0.1 2.2z"/>
<path fill="#ff7a7a" stroke="#ff7a7a" d="M767.2 514.2l0.1-2-5.4 57.9-0.1 2.2z"/>
<path fill="#ff7676" stroke="#ff7676" d="M767.3 512.2l0-2-5.3 57.6-0.1 2.3z"/>
<path fill="#ff7272" stroke="#ff7272" d="M767.3 510.2l0.1-2.1-5.3 57.5-0.1 2.2z"/>
<path fill="#ff6d6d" stroke="#ff6d6d" d="M767.4 508.1l0.1-2-5.3 57.3-0.1 2.2z"/>
<path fill="#ff6969" stroke="#ff6969" d="M767.5 506.1l0.1-2.1-5.3 57.2-0.1 2.2z"/>
<path fill="#ff6464" stroke="#ff6464" d="M767.6 504l0.1-2-5.3 56.9-0.1 2.3z"/>
<path fill="#ff6060" stroke="#ff6060" d="M767.7 502l0.1-2.1-5.3 56.8-0.1 2.2z"/>
<path fill="#ff5c5c" stroke="#ff5c5c" d="M767.8 499.9l0.1-2.1-5.3 56.6-0.1 2.3z"/>
<path fill="#ff5757" stroke="#ff5757" d="M767.9 497.8l0.1-2.1-5.3 56.5-0.1 2.2z"/>
<path fill="#ff5353" stroke="#ff5353" d="M768 495.7l0.1-2-5.3 56.2-0.1 2.3z"/>
<path fill="#ff4e4e" stroke="#ff4e4e" d="M768.1 493.7l0.1-2.1-5.3 56-0.1 2.3z"/>
<path fill="#ff4a4a" stroke="#ff4a4a" d="M768.2 491.6l0-2.1-5.2 55.8-0.1 2.3z"/>
<path fill="#ff4545" stroke="#ff4545" d="M768.2 489.5l0.1-2.1-5.2 55.6-0.1 2.3z"/>
<path fill="#ff4141" stroke="#ff4141" d="M768.3 487.4l0.1-2.1-5.2 55.5-0.1 2.2z"/>
<path fill="#ff3c3c" stroke="#ff3c3c" d="M768.4 485.3l0.1-2.1-5.2 55.3-0.1 2.3z"/>
<path fill="#ff3838" stroke="#ff3838" d="M768.5 483.2l0.1-2.2-5.2 55.2-0.1 2.3z"/>
<path fill="#ff3333" stroke="#ff3333" d="M768.6 481l0.1-2.1-5.2 55-0.1 2.3z"/>
<path fill="#ff2f2f" stroke="#ff2f2f" d="M768.7 478.9l0.1-2.1-5.2 54.8-0.1 2.3z"/>
<path fill="#ff2a2a" stroke="#ff2a2a" d="M768.8 476.8l0.1-2.1-5.3 54.6 0 2.3z"/>
<path fill="#ff2626" stroke="#ff2626" d="M768.9 474.7l0.1-2.1-5.3 54.4-0.1 2.3z"/>
<path fill="#ff2121" stroke="#ff2121" d="M769 472.6l0-2.2-5.2 54.2-0.1 2.4z"/>
<path fill="#ff1616" stroke="#ff1616" d="M769 470.4l0.4-8.3-5.2 53.5-0.4 9z"/>
<path fill="#ff1515" stroke="#ff1515" d="M769.4 462.1l1.6 7.1-5 54.1-1.8-7.7z"/>
<path fill="#ff1f1f" stroke="#ff1f1f" d="M771 469.2l0.6 2.4-5 54.3-0.6-2.6z"/>
<path fill="#ff2424" stroke="#ff2424" d="M771.6 471.6l0.5 2.4-4.9 54.6-0.6-2.7z"/>
<path fill="#ff2929" stroke="#ff2929" d="M772.1 474l0.6 2.5-4.9 54.8-0.6-2.7z"/>
<path fill="#ff2f2f" stroke="#ff2f2f" d="M772.7 476.5l0.5 2.5-4.8 55-0.6-2.7z"/>
<path fill="#ff3434" stroke="#ff3434" d="M773.2 479l0.5 2.6-4.7 55.2-0.6-2.8z"/>
<path fill="#ff3a3a" stroke="#ff3a3a" d="M773.7 481.6l0.6 2.5-4.7 55.5-0.6-2.8z"/>
<path fill="#ff3f3f" stroke="#ff3f3f" d="M774.3 484.1l0.5 2.7-4.6 55.6-0.6-2.8z"/>
<path fill="#ff4545" stroke="#ff4545" d="M774.8 486.8l0.6 2.6-4.7 55.9-0.5-2.9z"/>
<path fill="#ff4848" stroke="#ff4848" d="M775.4 489.4l0 0.2-4.6 55.9-0.1-0.2z"/>
<path fill="#ff4b4b" stroke="#ff4b4b" d="M775.4 489.6l0.5 2.5-4.6 56.1-0.5-2.7z"/>
<path fill="#ff5050" stroke="#ff5050" d="M775.9 492.1l0.5 2.8-4.5 56.4-0.6-3.1z"/>
<path fill="#ff5656" stroke="#ff5656" d="M776.4 494.9l0.6 2.8-4.5 56.6-0.6-3z"/>
<path fill="#ff5b5b" stroke="#ff5b5b" d="M777 497.7l0.3 1.4-4.5 56.8-0.3-1.6z"/>
<path fill="#ff5e5e" stroke="#ff5e5e" d="M777.3 499.1l0.2 1.5-4.4 56.9-0.3-1.6z"/>
<path fill="#ff6161" stroke="#ff6161" d="M777.5 500.6l0.3 1.4-4.4 57-0.3-1.5z"/>
<path fill="#ff6464" stroke="#ff6464" d="M777.8 502l0.3 1.5-4.4 57.1-0.3-1.6z"/>
<path fill="#ff6767" stroke="#ff6767" d="M778.1 503.5l0.3 1.4-4.4 57.3-0.3-1.6z"/>
<path fill="#ff6a6a" stroke="#ff6a6a" d="M778.4 504.9l0.2 1.5-4.3 57.4-0.3-1.6z"/>
<path fill="#ff6e6e" stroke="#ff6e6e" d="M778.6 506.4l0.3 1.5-4.3 57.5-0.3-1.6z"/>
<path fill="#ff7171" stroke="#ff7171" d="M778.9 507.9l0.3 1.5-4.3 57.7-0.3-1.7z"/>
<path fill="#ff7474" stroke="#ff7474" d="M779.2 509.4l0.2 1.5-4.2 57.8-0.3-1.6z"/>
<path fill="#ff7777" stroke="#ff7777" d="M779.4 510.9l0.3 1.5-4.2 57.9-0.3-1.6z"/>
<path fill="#ff7a7a" stroke="#ff7a7a" d="M779.7 512.4l0.3 1.5-4.2 58-0.3-1.6z"/>
<path fill="#ff7e7e" stroke="#ff7e7e" d="M780 513.9l0.3 1.4-4.2 58.2-0.3-1.6z"/>
<path fill="#ff8181" stroke="#ff8181" d="M780.3 515.3l0.2 1.5-4.1 58.4-0.3-1.7z"/>
<path fill="#ff8484" stroke="#ff8484" d="M780.5 516.8l0.3 1.5-4.1 58.5-0.3-1.6z"/>
<path fill="#ff8787" stroke="#ff8787" d="M780.8 518.3l0.3 1.5-4.1 58.6-0.3-1.6z"/>
<path fill="#ff8a8a" stroke="#ff8a8a" d="M781.1 519.8l0.3 1.5-4.1 58.7-0.3-1.6z"/>
<path fill="#ff8d8d" stroke="#ff8d8d" d="M781.4 521.3l0.2 1.5-4 58.8-0.3-1.6z"/>
<path fill="#ff9191" stroke="#ff9191" d="M781.6 522.8l0.3 1.4-4 59-0.3-1.6z"/>
<path fill="#ff9494" stroke="#ff9494" d="M781.9 524.2l0.3 1.5-4 59.1-0.3-1.6z"/>
<path fill="#ff9797" stroke="#ff9797" d="M782.2 525.7l0.2 1.4-3.9 59.3-0.3-1.6z"/>
<path fill="#ff9a9a" stroke="#ff9a9a" d="M782.4 527.1l0.3 1.5-3.9 59.3-0.3-1.5z"/>
<path fill="#ff9f9f" stroke="#ff9f9f" d="M782.7 528.6l0.6 2.8-3.9 59.6-0.6-3.1z"/>
<path fill="#ffa2a2" stroke="#ffa2a2" d="M783.3 531.4l0 0.2-3.9 59.6 0-0.2z"/>
<path fill="#ffa5a5" stroke="#ffa5a5" d="M783.3 531.6l0.5 2.6-3.8 59.9-0.6-2.9z"/>
<path fill="#ffabab" stroke="#ffabab" d="M783.8 534.2l0.5 2.8-3.7 60.1-0.6-3z"/>
<path fill="#ffb1b1" stroke="#ffb1b1" d="M784.3 537l0.6 2.9-3.7 60.3-0.6-3.1z"/>
<path fill="#ffb7b7" stroke="#ffb7b7" d="M784.9 539.9l0.5 2.8-3.6 60.6-0.6-3.1z"/>
<path fill="#ffbdbd" stroke="#ffbdbd" d="M785.4 542.7l0.6 2.8-3.6 60.9-0.6-3.1z"/>
<path fill="#ffc3c3" stroke="#ffc3c3" d="M786 545.5l0.5 2.8-3.5 61.1-0.6-3z"/>
<path fill="#ffc9c9" stroke="#ffc9c9" d="M786.5 548.3l0.5 2.8-3.4 61.4-0.6-3.1z"/>
<path fill="#ffcfcf" stroke="#ffcfcf" d="M787 551.1l0.6 2.8-3.5 61.6-0.5-3z"/>
<path fill="#ffd5d5" stroke="#ffd5d5" d="M787.6 553.9l0.5 2.7-3.4 61.8-0.6-2.9z"/>
<path fill="#ffdbdb" stroke="#ffdbdb" d="M788.1 556.6l0.6 2.7-3.4 62.1-0.6-3z"/>
<path fill="#ffe1e1" stroke="#ffe1e1" d="M788.7 559.3l0.5 2.7-3.3 62.3-0.6-2.9z"/>
<path fill="#ffe6e6" stroke="#ffe6e6" d="M789.2 562l0.5 2.6-3.2 62.5-0.6-2.8z"/>
<path fill="#ffecec" stroke="#ffecec" d="M789.7 564.6l0.6 2.5-3.2 62.7-0.6-2.7z"/>
<path fill="#fff1f1" stroke="#fff1f1" d="M790.3 567.1l0.5 2.5-3.1 62.9-0.6-2.7z"/>
<path fill="#fff5f5" stroke="#fff5f5" d="M790.8 569.6l0.3 1.3-3.1 63-0.3-1.4z"/>
<path fill="#fff8f8" stroke="#fff8f8" d="M791.1 570.9l0.2 1.1-3.1 63.1-0.2-1.2z"/>
<path fill="#fffcfc" stroke="#fffcfc" d="M791.3 572l0.6 2.4-3.1 63.3-0.6-2.6z"/>
<path fill="#fdfdff" stroke="#fdfdff" d="M791.9 574.4l0.5 2.3-3 63.6-0.6-2.6z"/>
<path fill="#f8f8ff" stroke="#f8f8ff" d="M792.4 576.7l0.5 2.4-2.9 63.7-0.6-2.5z"/>
<path fill="#f3f3ff" stroke="#f3f3ff" d="M792.9 579.1l0.6 2.3-2.9 64-0.6-2.6z"/>
<path fill="#eeeeff" stroke="#eeeeff" d="M793.5 581.4l0.5 2.3-2.9 64.2-0.5-2.5z"/>
<path fill="#e9e9ff" stroke="#e9e9ff" d="M794 583.7l0.5 2.3-2.8 64.4-0.6-2.5z"/>
<path fill="#e4e4ff" stroke="#e4e4ff" d="M794.5 586l0.6 2.3-2.8 64.6-0.6-2.5z"/>
<path fill="#dfdfff" stroke="#dfdfff" d="M795.1 588.3l0.5 2.2-2.7 64.8-0.6-2.4z"/>
<path fill="#dadaff" stroke="#dadaff" d="M795.6 590.5l0.5 2.3-2.6 64.9-0.6-2.4z"/>
<path fill="#d5d5ff" stroke="#d5d5ff" d="M796.1 592.8l0.5 2.1-2.6 65.1-0.5-2.3z"/>
<path fill="#d1d1ff" stroke="#d1d1ff" d="M796.6 594.9l0.6 2.1-2.6 65.3-0.6-2.3z"/>
<path fill="#ccccff" stroke="#ccccff" d="M797.2 597l0.5 2.1-2.5 65.5-0.6-2.3z"/>
<path fill="#c8c8ff" stroke="#c8c8ff" d="M797.7 599.1l0.5 2-2.4 65.7-0.6-2.2z"/>
<path fill="#c3c3ff" stroke="#c3c3ff" d="M798.2 601.1l0.5 2-2.4 65.8-0.5-2.1z"/>
<path fill="#bfbfff" stroke="#bfbfff" d="M798.7 603.1l0.6 1.9-2.4 66-0.6-2.1z"/>
<path fill="#bbbbff" stroke="#bbbbff" d="M799.3 605l0.5 1.9-2.3 66.1-0.6-2z"/>
<path fill="#b7b7ff" stroke="#b7b7ff" d="M799.8 606.9l0.5 1.8-2.3 66.3-0.5-2z"/>
<path fill="#b3b3ff" stroke="#b3b3ff" d="M800.3 608.7l0.5 1.7-2.2 66.5-0.6-1.9z"/>
<path fill="#b0b0ff" stroke="#b0b0ff" d="M800.8 610.4l0.5 1.7-2.1 66.6-0.6-1.8z"/>
<path fill="#adadff" stroke="#adadff" d="M801.3 612.1l0.3 0.8-2.2 66.6-0.2-0.8z"/>
<path fill="#ababff" stroke="#ababff" d="M801.6 612.9l0.3 0.8-2.2 66.7-0.3-0.9z"/>
<path fill="#a8a8ff" stroke="#a8a8ff" d="M801.9 613.7l0.5 1.6-2.1 66.8-0.6-1.7z"/>
<path fill="#a5a5ff" stroke="#a5a5ff" d="M802.4 615.3l0.5 1.6-2 67-0.6-1.8z"/>
<path fill="#a2a2ff" stroke="#a2a2ff" d="M802.9 616.9l0.5 1.6-2 67.1-0.5-1.7z"/>
<path fill="#9e9eff" stroke="#9e9eff" d="M803.4 618.5l0.5 1.6-1.9 67.2-0.6-1.7z"/>
<path fill="#9b9bff" stroke="#9b9bff" d="M803.9 620.1l0.5 1.5-1.8 67.4-0.6-1.7z"/>
<path fill="#9797ff" stroke="#9797ff" d="M804.4 621.6l0.6 1.6-1.9 67.5-0.5-1.7z"/>
<path fill="#9494ff" stroke="#9494ff" d="M805 623.2l0.5 1.5-1.8 67.6-0.6-1.6z"/>
<path fill="#9191ff" stroke="#9191ff" d="M805.5 624.7l0.5 1.5-1.8 67.7-0.5-1.6z"/>
<path fill="#8d8dff" stroke="#8d8dff" d="M806 626.2l0.5 1.4-1.7 67.9-0.6-1.6z"/>
<path fill="#8989ff" stroke="#8989ff" d="M806.5 627.6l1 2.7-1.6 68.2-1.1-3z"/>
<path fill="#8383ff" stroke="#8383ff" d="M807.5 630.3l1.1 2.5-1.6 68.4-1.1-2.7z"/>
<path fill="#7e7eff" stroke="#7e7eff" d="M808.6 632.8l1 2.3-1.5 68.5-1.1-2.4z"/>
<path fill="#7979ff" stroke="#7979ff" d="M809.6 635.1l1 1.8-1.4 68.7-1.1-2z"/>
<path fill="#7575ff" stroke="#7575ff" d="M810.6 636.9l1.5 2.2-1.2 68.9-1.7-2.4z"/>
<path fill="#7272ff" stroke="#7272ff" d="M812.1 639.1l0.5 0.5-1.2 69-0.5-0.6z"/>
<path fill="#6f6fff" stroke="#6f6fff" d="M812.6 639.6l2 2.2-1 69.1-2.2-2.3z"/>
<path fill="#6b6bff" stroke="#6b6bff" d="M814.6 641.8l2 1.7-0.8 69.3-2.2-1.9z"/>
<path fill="#6868ff" stroke="#6868ff" d="M816.6 643.5l2 1.1-0.7 69.4-2.1-1.2z"/>
<path fill="#6666ff" stroke="#6666ff" d="M818.6 644.6l1.4 0.3 0.6-0.1-0.5 69.4-0.6 0.1-1.6-0.3z"/>
<path fill="#6767ff" stroke="#6767ff" d="M820.6 644.8l1.9-1.1-0.3 69.3-2.1 1.2z"/>
<path fill="#6b6bff" stroke="#6b6bff" d="M822.5 643.7l2-2.1-0.2 69.1-2.1 2.3z"/>
<path fill="#6f6fff" stroke="#6f6fff" d="M824.5 641.6l1.9-2.3 0 69-2.1 2.4z"/>
<path fill="#7272ff" stroke="#7272ff" d="M826.4 639.3l0.2-0.2 0 68.9-0.2 0.3z"/>
<path fill="#7474ff" stroke="#7474ff" d="M826.6 639.1l0.8-1.1 0.1 68.8-0.9 1.2z"/>
<path fill="#7777ff" stroke="#7777ff" d="M827.4 638l0.9-1.8 0.2 68.7-1 1.9z"/>
<path fill="#7b7bff" stroke="#7b7bff" d="M828.3 636.2l1-1.9 0.3 68.5-1.1 2.1z"/>
<path fill="#8080ff" stroke="#8080ff" d="M829.3 634.3l1.9-2.8 0.5 68.3-2.1 3z"/>
<path fill="#8383ff" stroke="#8383ff" d="M831.2 631.5l0.6-0.2 1.4-0.1 0.6 68.3-1.5 0.1-0.6 0.2z"/>
<path fill="#8484ff" stroke="#8484ff" d="M833.2 631.2l2-0.1 2 0 1.9-0.1 2-0.1 2 0 2-0.1 1.9 0 2 0 2-0.1 2.1 68.3-2.1 0-2.2 0.1-2.1 0-2.1 0.1-2.2 0-2.1 0.1-2.2 0-2.1 0.1-2.2 0.1z"/>
<path fill="#3b3bff" stroke="#3b3bff" d="M1107.6 662.2l2 0 1.9-0.1 2 0 2 0 2-0.1 1.9 0 2 0 2-0.1 2 0 1.9-0.1 2 0 2-0.1 1.9 0 2-0.1 1.7 0 24.2 71.4-1.8 0.1-2.1 0-2.1 0.1-2.1 0-2.2 0.1-2.1 0-2.1 0.1-2.1 0-2.1 0-2.1 0.1-2.1 0-2.1 0-2.2 0.1-2.1 0-2.1 0z"/>
<path fill="#3a3aff" stroke="#3a3aff" d="M1060.3 662.7l1.9 0 0.1 0 1.9 0 2 0 1.9-0.1 2 0 2 0 2 0 1.9 0 2 0 2-0.1 2 0 1.9 0 2 0 2 0 1.9-0.1 2 0 2 0 2 0 1.9-0.1 2 0 2 0 1.9 0 2-0.1 2 0 22.1 71.4-2.1 0.1-2.1 0-2.1 0-2.1 0-2.1 0.1-2.2 0-2.1 0-2.1 0-2.1 0-2.1 0.1-2.1 0-2.1 0-2.2 0-2.1 0-2.1 0.1-2.1 0-2.1 0-2.1 0-2.2 0-2.1 0-2.1 0-2.1 0.1-2 0-0.1 0-2.1-0.1z"/>
<path fill="#3b3bff" stroke="#3b3bff" d="M1056.3 662.3l2 0.2 2 0.2 18.7 71.3-2.1-0.1-2.2-0.3z"/>
<path fill="#3c3cff" stroke="#3c3cff" d="M1052.4 661.7l1.9 0.3 2 0.3 18.4 71.3-2.1-0.3-2.1-0.3z"/>
<path fill="#3d3dff" stroke="#3d3dff" d="M1050.4 661.3l2 0.4 18.1 71.3-2.1-0.4z"/>
<path fill="#3e3eff" stroke="#3e3eff" d="M1048.4 661l2 0.3 18 71.3-2.1-0.4z"/>
<path fill="#3f3fff" stroke="#3f3fff" d="M1046.5 660.6l0.1 0 1.8 0.4 17.9 71.2-2-0.4-0.1-0.1z"/>
<path fill="#4040ff" stroke="#4040ff" d="M1044.5 660.2l2 0.4 17.7 71.1-2.2-0.4z"/>
<path fill="#4141ff" stroke="#4141ff" d="M1042.5 659.7l2 0.5 17.5 71.1-2.1-0.5z"/>
<path fill="#4242ff" stroke="#4242ff" d="M1040.6 659.1l1.9 0.6 17.4 71.1-2.1-0.6z"/>
<path fill="#4343ff" stroke="#4343ff" d="M1038.6 658.5l2 0.6 17.2 71.1-2.1-0.7z"/>
<path fill="#4545ff" stroke="#4545ff" d="M1036.6 657.9l2 0.6 17.1 71-2.1-0.7z"/>
<path fill="#4646ff" stroke="#4646ff" d="M1034.6 657.2l2 0.7 17 70.9-2.1-0.7z"/>
<path fill="#4848ff" stroke="#4848ff" d="M1032.7 656.4l1.9 0.8 16.9 70.9-2.2-0.8z"/>
<path fill="#4949ff" stroke="#4949ff" d="M1030.7 655.7l2 0.7 16.6 70.9-2.1-0.9z"/>
<path fill="#4b4bff" stroke="#4b4bff" d="M1028.7 654.8l2 0.9 16.5 70.7-2.1-0.9z"/>
<path fill="#4d4dff" stroke="#4d4dff" d="M1026.8 654l1.9 0.8 16.4 70.7-2.1-0.9z"/>
<path fill="#4f4fff" stroke="#4f4fff" d="M1025.6 653.5l1.2 0.5 16.2 70.6-1.3-0.5z"/>
<path fill="#5050ff" stroke="#5050ff" d="M1024.8 653.1l0.8 0.4 16.1 70.6-0.8-0.4z"/>
<path fill="#5151ff" stroke="#5151ff" d="M1022.8 652.1l2 1 16.1 70.6-2.1-1.1z"/>
<path fill="#5353ff" stroke="#5353ff" d="M1020.9 651l1.9 1.1 16 70.5-2.2-1.2z"/>
<path fill="#5656ff" stroke="#5656ff" d="M1018.9 649.9l2 1.1 15.7 70.4-2.1-1.3z"/>
<path fill="#5959ff" stroke="#5959ff" d="M1016.9 648.6l2 1.3 15.6 70.2-2.1-1.3z"/>
<path fill="#5b5bff" stroke="#5b5bff" d="M1015 647.4l1.9 1.2 15.5 70.2-2.1-1.4z"/>
<path fill="#5e5eff" stroke="#5e5eff" d="M1013 646.1l2 1.3 15.3 70-2.1-1.3z"/>
<path fill="#6161ff" stroke="#6161ff" d="M1011 644.9l2 1.2 15.2 70-2.1-1.3z"/>
<path fill="#6363ff" stroke="#6363ff" d="M1009.9 644.3l1.1 0.6 15.1 69.9-1.2-0.7z"/>
<path fill="#6464ff" stroke="#6464ff" d="M1009 643.8l0.9 0.5 15 69.8-1-0.5z"/>
<path fill="#6666ff" stroke="#6666ff" d="M1007.1 642.6l1.9 1.2 14.9 69.8-2.1-1.3z"/>
<path fill="#6969ff" stroke="#6969ff" d="M1005.1 641.3l2 1.3 14.7 69.7-2.1-1.4z"/>
<path fill="#6c6cff" stroke="#6c6cff" d="M1003.1 640l2 1.3 14.6 69.6-2.1-1.4z"/>
<path fill="#6e6eff" stroke="#6e6eff" d="M1001.1 638.8l2 1.2 14.5 69.5-2.2-1.4z"/>
<path fill="#7171ff" stroke="#7171ff" d="M999.2 637.7l1.9 1.1 14.3 69.3-2.1-1.2z"/>
<path fill="#7373ff" stroke="#7373ff" d="M997.2 636.8l2 0.9 14.1 69.2-2.1-0.9z"/>
<path fill="#7575ff" stroke="#7575ff" d="M995.2 636.1l2 0.7 14 69.2-2.1-0.7z"/>
<path fill="#7676ff" stroke="#7676ff" d="M993.3 635.8l0.8 0.1 1.1 0.2 13.9 69.2-1.2-0.3-1-0.1z"/>
<path fill="#7777ff" stroke="#7777ff" d="M989.3 635.3l2 0.2 2 0.3 13.6 69.1-2.1-0.3-2.1-0.3z"/>
<path fill="#7878ff" stroke="#7878ff" d="M987.3 635l2 0.3 13.4 69-2.1-0.2z"/>
<path fill="#7979ff" stroke="#7979ff" d="M983.4 634.6l1.9 0.2 2 0.2 13.3 69.1-2.2-0.3-2.1-0.2z"/>
<path fill="#7a7aff" stroke="#7a7aff" d="M977.4 634l2 0.2 2 0.2 2 0.2 12.9 69-2.1-0.3-2.2-0.2-2.1-0.2z"/>
<path fill="#7b7bff" stroke="#7b7bff" d="M973.5 633.7l2 0.1 1.9 0.2 12.5 68.9-2.1-0.2-2.2-0.1z"/>
<path fill="#7c7cff" stroke="#7c7cff" d="M967.6 633.2l1.9 0.2 2 0.1 2 0.2 12.1 68.9-2.1-0.2-2.1-0.2-2.1-0.1z"/>
<path fill="#7d7dff" stroke="#7d7dff" d="M959.7 632.8l1.9 0.1 2 0.1 2 0.1 2 0.1 11.7 68.9-2.2-0.2-2.1-0.1-2.1-0.1-2.2-0.1z"/>
<path fill="#7e7eff" stroke="#7e7eff" d="M951.8 632.5l1.9 0 2 0.1 2 0.1 2 0.1 11 68.8-2.1-0.1-2.1-0.1-2.2-0.1-2.1-0.1z"/>
<path fill="#7f7fff" stroke="#7f7fff" d="M941.9 632.1l2 0.1 1.9 0 2 0.1 2 0.1 2 0.1 10.4 68.7-2.1-0.1-2.2-0.1-2.1-0.1-2.1 0-2.2-0.1z"/>
<path fill="#8080ff" stroke="#8080ff" d="M930 631.7l2 0.1 2 0.1 1.9 0 2 0.1 2 0 2 0.1 9.6 68.7-2.1-0.1-2.1-0.1-2.2 0-2.1-0.1-2.2-0.1-2.1 0z"/>
<path fill="#8181ff" stroke="#8181ff" d="M918.2 631.4l1.9 0 2 0.1 2 0.1 2 0 1.9 0.1 0.6 0 1.4 0 8.7 68.7-1.5-0.1-0.6 0-2.2-0.1-2.1-0.1-2.1 0-2.2-0.1-2.1-0.1z"/>
<path fill="#8282ff" stroke="#8282ff" d="M904.3 631l2 0.1 2 0 2 0.1 1.9 0 2 0.1 2 0 2 0.1 7.7 68.5-2.1 0-2.2-0.1-2.1-0.1-2.2 0-2.1-0.1-2.1 0-2.2-0.1z"/>
<path fill="#8383ff" stroke="#8383ff" d="M884.6 630.7l1.9 0.1 2 0 2 0 2 0 2 0.1 1.9 0 2 0 2 0.1 2 0 1.9 0 6.6 68.5-2.1 0-2.1-0.1-2.2 0-2.1-0.1-2.2 0-2.1 0-2.1-0.1-2.2 0-2.1 0-2.2-0.1z"/>
<path fill="#8484ff" stroke="#8484ff" d="M851 630.7l2 0 1.1 0 0.8 0 2 0 2 0 2 0 1.9 0 2 0 2 0 2 0 1.9 0 2 0 2 0 2 0 1.3 0 0.6 0 2 0 2 0 2 0 4.9 68.4-2.1 0-2.1 0-2.2 0-0.7 0-1.4 0-2.2-0.1-2.1 0-2.2 0-2.1 0-2.1 0-2.2 0-2.1 0-2.2 0-2.1 0-2.1 0-2.2 0-0.9 0-1.2 0-2.2 0z"/></g>
<g stroke="#000" stroke-width="1.6" stroke-dasharray="4,4" fill="none">
<line x1="1218.2" y1="511.8" x2="1716.9" y2="507.6"/>
<line x1="1219.8" y1="573.0" x2="1716.1" y2="568.8"/>
<line x1="1221.5" y1="633.6" x2="1715.3" y2="629.2"/>
<line x1="1223.1" y1="692.3" x2="1714.6" y2="688.0"/>
<line x1="1299.8" y1="456.2" x2="1303.9" y2="691.6"/>
<line x1="1382.2" y1="455.5" x2="1384.4" y2="690.9"/>
<line x1="1464.6" y1="454.7" x2="1465.9" y2="690.2"/>
<line x1="1546.9" y1="454.0" x2="1546.3" y2="689.5"/>
<line x1="1628.7" y1="453.2" x2="1627.9" y2="688.8"/>
<line x1="1710.2" y1="452.5" x2="1707.9" y2="688.1"/>
</g>
<polyline points="1222.2,698.0 1223.1,693.8 1216.7,457.0 1717.6,452.4 1714.5,693.3" fill="none" stroke="#000" stroke-width="1.6"/>
<polygon points="1222.2,698.0 1258.5,697.7 1244.2,772.4 1205.8,772.8" fill="#4b3fd0" stroke="#4b3fd0" stroke-width="0.5"/>
<polygon points="1258.5,697.7 1290.3,697.3 1278.7,772.0 1244.2,772.4" fill="#dbd9d7" stroke="#dbd9d7" stroke-width="0.5"/>
<polygon points="1290.3,697.3 1331.9,697.0 1323.8,771.5 1278.7,772.0" fill="#c7b6ad" stroke="#c7b6ad" stroke-width="0.5"/>
<polygon points="1331.9,697.0 1341.5,696.9 1334.2,771.4 1323.8,771.5" fill="#747076" stroke="#747076" stroke-width="0.5"/>
<polygon points="1341.5,696.9 1402.4,696.3 1400.3,770.7 1334.2,771.4" fill="#484a66" stroke="#484a66" stroke-width="0.5"/>
<polygon points="1402.4,696.3 1577.0,694.6 1588.5,768.7 1400.3,770.7" fill="#7a16a0" stroke="#7a16a0" stroke-width="0.5"/>
<polygon points="1577.0,694.6 1654.5,693.9 1673.5,767.8 1588.5,768.7" fill="#c6b5ad" stroke="#c6b5ad" stroke-width="0.5"/>
<polygon points="1654.5,693.9 1714.5,693.3 1738.9,767.1 1673.5,767.8" fill="#0000ff" stroke="#0000ff" stroke-width="0.5"/>
<polygon points="1222.2,698.0 1714.5,693.3 1738.9,767.1 1205.8,772.8" fill="none" stroke="#000" stroke-width="1.3"/>
<line x1="1205.8" y1="772.8" x2="1738.9" y2="767.1" stroke="#000" stroke-width="2.2"/>
<g stroke-width="1" stroke-linejoin="round"><path fill="#0000ff" stroke="#0000ff" d="M1223.1 692.3l0.4 0 1.6 0 1.9 0 2 0 2-0.1 1.9 0 2 0 1.9 0 1.2 0 0.8 0 2 0 1.9-0.1 2 0 2 0 1.9-0.2-14 73.1-2.1 0.2-2.2 0-2.1 0-2.2 0-2.1 0-0.9 0-1.3 0.1-2.1 0-2.1 0-2.2 0-2.1 0-2.2 0-2.1 0-1.8 0.1-0.4 0z"/>
<path fill="#0101ff" stroke="#0101ff" d="M1248.6 691.9l2-0.3-13.8 73-2.2 0.4z"/>
<path fill="#0202ff" stroke="#0202ff" d="M1250.6 691.6l1.9-0.4 2-0.4-13.5 72.9-2.1 0.5-2.1 0.4z"/>
<path fill="#0303ff" stroke="#0303ff" d="M1254.5 690.8l1.9-0.5-13.2 73-2.2 0.4z"/>
<path fill="#0404ff" stroke="#0404ff" d="M1256.4 690.3l0.1 0 1.9-0.5-13.1 72.9-2 0.5-0.1 0.1z"/>
<path fill="#0606ff" stroke="#0606ff" d="M1258.4 689.8l1.9-0.8-12.9 72.9-2.1 0.8z"/>
<path fill="#0808ff" stroke="#0808ff" d="M1260.3 689l2-0.9-12.7 72.8-2.2 1z"/>
<path fill="#0a0aff" stroke="#0a0aff" d="M1262.3 688.1l1.9-1-12.5 72.6-2.1 1.2z"/>
<path fill="#0c0cff" stroke="#0c0cff" d="M1264.2 687.1l1.6-1-12.4 72.6-1.7 1z"/>
<path fill="#0d0dff" stroke="#0d0dff" d="M1265.8 686.1l0.3-0.2-12.3 72.5-0.4 0.3z"/>
<path fill="#0f0fff" stroke="#0f0fff" d="M1266.1 685.9l2-1.5-12.2 72.5-2.1 1.5z"/>
<path fill="#1313ff" stroke="#1313ff" d="M1268.1 684.4l1.9-1.9-12 72.3-2.1 2.1z"/>
<path fill="#1717ff" stroke="#1717ff" d="M1270 682.5l1.9-2.3-11.8 72-2.1 2.6z"/>
<path fill="#1a1aff" stroke="#1a1aff" d="M1271.9 680.2l0.4-0.6-11.8 72-0.4 0.6z"/>
<path fill="#1c1cff" stroke="#1c1cff" d="M1272.3 679.6l0.5-0.9-11.7 72-0.6 0.9z"/>
<path fill="#1f1fff" stroke="#1f1fff" d="M1272.8 678.7l1-1.8-11.7 71.8-1 2z"/>
<path fill="#2424ff" stroke="#2424ff" d="M1273.8 676.9l0.9-2.2-11.5 71.6-1.1 2.4z"/>
<path fill="#2929ff" stroke="#2929ff" d="M1274.7 674.7l0.9-2.5-11.4 71.4-1 2.7z"/>
<path fill="#2e2eff" stroke="#2e2eff" d="M1275.6 672.2l1-2.7-11.4 71.2-1 2.9z"/>
<path fill="#3232ff" stroke="#3232ff" d="M1276.6 669.5l0.3-1-11.4 71.1-0.3 1.1z"/>
<path fill="#3434ff" stroke="#3434ff" d="M1276.9 668.5l0.1-0.4-11.3 71.1-0.2 0.4z"/>
<path fill="#3636ff" stroke="#3636ff" d="M1277 668.1l0.5-1.5-11.3 70.9-0.5 1.7z"/>
<path fill="#3939ff" stroke="#3939ff" d="M1277.5 666.6l0.4-1.6-11.2 70.8-0.5 1.7z"/>
<path fill="#3d3dff" stroke="#3d3dff" d="M1277.9 665l0.5-1.7-11.2 70.7-0.5 1.8z"/>
<path fill="#4141ff" stroke="#4141ff" d="M1278.4 663.3l0.4-1.8-11.2 70.5-0.4 2z"/>
<path fill="#4545ff" stroke="#4545ff" d="M1278.8 661.5l0.5-1.8-11.2 70.3-0.5 2z"/>
<path fill="#4949ff" stroke="#4949ff" d="M1279.3 659.7l0.4-1.9-11.1 70.1-0.5 2.1z"/>
<path fill="#4d4dff" stroke="#4d4dff" d="M1279.7 657.8l0.5-2-11.1 70-0.5 2.1z"/>
<path fill="#5151ff" stroke="#5151ff" d="M1280.2 655.8l0.4-2-11 69.9-0.5 2.1z"/>
<path fill="#5656ff" stroke="#5656ff" d="M1280.6 653.8l0.5-2-11 69.7-0.5 2.2z"/>
<path fill="#5a5aff" stroke="#5a5aff" d="M1281.1 651.8l0.4-1.8-11 69.5-0.4 2z"/>
<path fill="#5c5cff" stroke="#5c5cff" d="M1281.5 650l0-0.2-10.9 69.5-0.1 0.2z"/>
<path fill="#5f5fff" stroke="#5f5fff" d="M1281.5 649.8l0.5-2.3-11 69.3-0.4 2.5z"/>
<path fill="#6464ff" stroke="#6464ff" d="M1282 647.5l0.4-2.6-10.9 69.1-0.5 2.8z"/>
<path fill="#6969ff" stroke="#6969ff" d="M1282.4 644.9l0.2-1.4-10.9 68.9-0.2 1.6z"/>
<path fill="#6c6cff" stroke="#6c6cff" d="M1282.6 643.5l0.2-1.5-10.8 68.9-0.3 1.5z"/>
<path fill="#6f6fff" stroke="#6f6fff" d="M1282.8 642l0.3-1.5-10.9 68.7-0.2 1.7z"/>
<path fill="#7272ff" stroke="#7272ff" d="M1283.1 640.5l0.2-1.4-10.9 68.5-0.2 1.6z"/>
<path fill="#7676ff" stroke="#7676ff" d="M1283.3 639.1l0.2-1.5-10.8 68.4-0.3 1.6z"/>
<path fill="#7979ff" stroke="#7979ff" d="M1283.5 637.6l0.2-1.5-10.8 68.4-0.2 1.5z"/>
<path fill="#7d7dff" stroke="#7d7dff" d="M1283.7 636.1l0.4-2.7-10.7 68.1-0.5 3z"/>
<path fill="#8383ff" stroke="#8383ff" d="M1284.1 633.4l0.5-2.4-10.8 67.8-0.4 2.7z"/>
<path fill="#8888ff" stroke="#8888ff" d="M1284.6 631l0.4-2-10.7 67.7-0.5 2.1z"/>
<path fill="#8c8cff" stroke="#8c8cff" d="M1285 629l1.1-2.1-10.6 67.5-1.2 2.3z"/>
<path fill="#8e8eff" stroke="#8e8eff" d="M1286.1 626.9l0.8 0 2 0 2 0.1 2 0.2 2 0.1-9.8 67.6-2.2-0.2-2.1-0.1-2.2-0.1-2.2-0.1-0.9 0z"/>
<path fill="#8d8dff" stroke="#8d8dff" d="M1294.9 627.3l1.9 0.2 2 0.2-9.4 67.7-2.2-0.3-2.1-0.2z"/>
<path fill="#8c8cff" stroke="#8c8cff" d="M1298.8 627.7l2 0.3 2 0.2-9.1 67.7-2.1-0.3-2.2-0.2z"/>
<path fill="#8b8bff" stroke="#8b8bff" d="M1302.8 628.2l0 0 2 0.3-8.9 67.7-2.1-0.3-0.1 0z"/>
<path fill="#8a8aff" stroke="#8a8aff" d="M1304.8 628.5l1.9 0.3 2 0.3-8.5 67.8-2.2-0.4-2.1-0.3z"/>
<path fill="#8989ff" stroke="#8989ff" d="M1308.7 629.1l2 0.4-8.3 67.9-2.2-0.5z"/>
<path fill="#8888ff" stroke="#8888ff" d="M1310.7 629.5l2 0.5-8.2 67.8-2.1-0.4z"/>
<path fill="#8787ff" stroke="#8787ff" d="M1312.7 630l2 0.4-8 67.9-2.2-0.5z"/>
<path fill="#8686ff" stroke="#8686ff" d="M1314.7 630.4l1.9 0.5-7.7 67.9-2.2-0.5z"/>
<path fill="#8585ff" stroke="#8585ff" d="M1316.6 630.9l2 0.4-7.6 68-2.1-0.5z"/>
<path fill="#8484ff" stroke="#8484ff" d="M1318.6 631.3l2 0.5-7.4 68-2.2-0.5z"/>
<path fill="#8383ff" stroke="#8383ff" d="M1320.6 631.8l0.7 0.1 1.3 0.3-7.2 68.1-1.4-0.3-0.8-0.2z"/>
<path fill="#8282ff" stroke="#8282ff" d="M1322.6 632.2l2 0.6-7.1 68.1-2.1-0.6z"/>
<path fill="#8080ff" stroke="#8080ff" d="M1324.6 632.8l2 0.6-6.9 68.2-2.2-0.7z"/>
<path fill="#7f7fff" stroke="#7f7fff" d="M1326.6 633.4l1.9 0.6-6.6 68.2-2.2-0.6z"/>
<path fill="#7e7eff" stroke="#7e7eff" d="M1328.5 634l2 0.5-6.5 68.3-2.1-0.6z"/>
<path fill="#7d7dff" stroke="#7d7dff" d="M1330.5 634.5l2 0.4-6.3 68.4-2.2-0.5z"/>
<path fill="#7c7cff" stroke="#7c7cff" d="M1332.5 634.9l2 0.3-6.2 68.3-2.1-0.2z"/>
<path fill="#7b7bff" stroke="#7b7bff" d="M1334.5 635.2l1.2 0-6 68.4-1.4-0.1z"/>
<path fill="#7c7cff" stroke="#7c7cff" d="M1335.7 635.2l0.7-0.6-5.9 68.3-0.8 0.7z"/>
<path fill="#8080ff" stroke="#8080ff" d="M1336.4 634.6l1-2.7-5.9 68.1-1 2.9z"/>
<path fill="#8585ff" stroke="#8585ff" d="M1337.4 631.9l0.4-2.1-5.8 67.9-0.5 2.3z"/>
<path fill="#8a8aff" stroke="#8a8aff" d="M1337.8 629.8l0.5-2.6-5.8 67.7-0.5 2.8z"/>
<path fill="#8e8eff" stroke="#8e8eff" d="M1338.3 627.2l0.2-1.4-5.8 67.6-0.2 1.5z"/>
<path fill="#9292ff" stroke="#9292ff" d="M1338.5 625.8l0.2-1.6-5.7 67.5-0.3 1.7z"/>
<path fill="#9595ff" stroke="#9595ff" d="M1338.7 624.2l0.2-1.7-5.7 67.4-0.2 1.8z"/>
<path fill="#9999ff" stroke="#9999ff" d="M1338.9 622.5l0.3-1.7-5.8 67.1-0.2 2z"/>
<path fill="#9d9dff" stroke="#9d9dff" d="M1339.2 620.8l0.2-1.9-5.7 67-0.3 2z"/>
<path fill="#a1a1ff" stroke="#a1a1ff" d="M1339.4 618.9l0.2-2-5.7 66.8-0.2 2.2z"/>
<path fill="#a6a6ff" stroke="#a6a6ff" d="M1339.6 616.9l0.2-2.1-5.7 66.7-0.2 2.2z"/>
<path fill="#aaaaff" stroke="#aaaaff" d="M1339.8 614.8l0.2-2.2-5.7 66.5-0.2 2.4z"/>
<path fill="#afafff" stroke="#afafff" d="M1340 612.6l0.2-2.2-5.6 66.2-0.3 2.5z"/>
<path fill="#b4b4ff" stroke="#b4b4ff" d="M1340.2 610.4l0.2-2.4-5.6 66.1-0.2 2.5z"/>
<path fill="#b9b9ff" stroke="#b9b9ff" d="M1340.4 608l0.2-2.5-5.6 65.9-0.2 2.7z"/>
<path fill="#bfbfff" stroke="#bfbfff" d="M1340.6 605.5l0.2-2.5-5.6 65.6-0.2 2.8z"/>
<path fill="#c5c5ff" stroke="#c5c5ff" d="M1340.8 603l0.2-2.7-5.6 65.5-0.2 2.8z"/>
<path fill="#cacaff" stroke="#cacaff" d="M1341 600.3l0.2-2.7-5.6 65.2-0.2 3z"/>
<path fill="#d0d0ff" stroke="#d0d0ff" d="M1341.2 597.6l0.2-2.8-5.5 64.9-0.3 3.1z"/>
<path fill="#d5d5ff" stroke="#d5d5ff" d="M1341.4 594.8l0.1-1.4-5.5 64.8-0.1 1.5z"/>
<path fill="#d8d8ff" stroke="#d8d8ff" d="M1341.5 593.4l0.1-1.5-5.5 64.7-0.1 1.6z"/>
<path fill="#dbdbff" stroke="#dbdbff" d="M1341.6 591.9l0.1-1.5-5.5 64.6-0.1 1.6z"/>
<path fill="#dfdfff" stroke="#dfdfff" d="M1341.7 590.4l0.1-1.5-5.5 64.5-0.1 1.6z"/>
<path fill="#e2e2ff" stroke="#e2e2ff" d="M1341.8 588.9l0.1-1.5-5.5 64.3-0.1 1.7z"/>
<path fill="#e5e5ff" stroke="#e5e5ff" d="M1341.9 587.4l0.1-1.5-5.5 64.2-0.1 1.6z"/>
<path fill="#e8e8ff" stroke="#e8e8ff" d="M1342 585.9l0.1-1.6-5.5 64.1-0.1 1.7z"/>
<path fill="#ececff" stroke="#ececff" d="M1342.1 584.3l0.1-1.5-5.5 63.9-0.1 1.7z"/>
<path fill="#efefff" stroke="#efefff" d="M1342.2 582.8l0.1-1.6-5.5 63.8-0.1 1.7z"/>
<path fill="#f3f3ff" stroke="#f3f3ff" d="M1342.3 581.2l0.1-1.6-5.5 63.6-0.1 1.8z"/>
<path fill="#f6f6ff" stroke="#f6f6ff" d="M1342.4 579.6l0.1-1.6-5.5 63.5-0.1 1.7z"/>
<path fill="#fafaff" stroke="#fafaff" d="M1342.5 578l0.1-1.7-5.5 63.4-0.1 1.8z"/>
<path fill="#fdfdff" stroke="#fdfdff" d="M1342.6 576.3l0.1-1.6-5.5 63.2-0.1 1.8z"/>
<path fill="#fffdfd" stroke="#fffdfd" d="M1342.7 574.7l0.1-1.7-5.5 63.1-0.1 1.8z"/>
<path fill="#fff9f9" stroke="#fff9f9" d="M1342.8 573l0.1-1.7-5.5 62.9-0.1 1.9z"/>
<path fill="#fff6f6" stroke="#fff6f6" d="M1342.9 571.3l0.1-1.7-5.5 62.8-0.1 1.8z"/>
<path fill="#fff2f2" stroke="#fff2f2" d="M1343 569.6l0.1-1.7-5.5 62.6-0.1 1.9z"/>
<path fill="#ffeeee" stroke="#ffeeee" d="M1343.1 567.9l0.1-1.8-5.5 62.5-0.1 1.9z"/>
<path fill="#ffebeb" stroke="#ffebeb" d="M1343.2 566.1l0.1-1.7-5.5 62.3-0.1 1.9z"/>
<path fill="#ffe7e7" stroke="#ffe7e7" d="M1343.3 564.4l0-1.8-5.4 62.2-0.1 1.9z"/>
<path fill="#ffe3e3" stroke="#ffe3e3" d="M1343.3 562.6l0.1-1.8-5.4 62.1-0.1 1.9z"/>
<path fill="#ffdfdf" stroke="#ffdfdf" d="M1343.4 560.8l0.1-1.8-5.4 61.9-0.1 2z"/>
<path fill="#ffdbdb" stroke="#ffdbdb" d="M1343.5 559l0.1-1.8-5.4 61.8-0.1 1.9z"/>
<path fill="#ffd7d7" stroke="#ffd7d7" d="M1343.6 557.2l0.1-1.8-5.4 61.6-0.1 2z"/>
<path fill="#ffd3d3" stroke="#ffd3d3" d="M1343.7 555.4l0.1-1.8-5.4 61.4-0.1 2z"/>
<path fill="#ffcfcf" stroke="#ffcfcf" d="M1343.8 553.6l0.1-1.9-5.4 61.3-0.1 2z"/>
<path fill="#ffcbcb" stroke="#ffcbcb" d="M1343.9 551.7l0.1-1.9-5.4 61.1-0.1 2.1z"/>
<path fill="#ffc7c7" stroke="#ffc7c7" d="M1344 549.8l0.1-1.8-5.4 60.9-0.1 2z"/>
<path fill="#ffc3c3" stroke="#ffc3c3" d="M1344.1 548l0.1-1.9-5.4 60.8-0.1 2z"/>
<path fill="#ffbfbf" stroke="#ffbfbf" d="M1344.2 546.1l0.1-1.9-5.4 60.6-0.1 2.1z"/>
<path fill="#ffbbbb" stroke="#ffbbbb" d="M1344.3 544.2l0.1-1.9-5.4 60.4-0.1 2.1z"/>
<path fill="#ffb7b7" stroke="#ffb7b7" d="M1344.4 542.3l0.1-2-5.4 60.3-0.1 2.1z"/>
<path fill="#ffb3b3" stroke="#ffb3b3" d="M1344.5 540.3l0-1.9-5.3 60.1-0.1 2.1z"/>
<path fill="#ffafaf" stroke="#ffafaf" d="M1344.5 538.4l0.1-2-5.3 60-0.1 2.1z"/>
<path fill="#ffaaaa" stroke="#ffaaaa" d="M1344.6 536.4l0.1-1.9-5.3 59.8-0.1 2.1z"/>
<path fill="#ffa6a6" stroke="#ffa6a6" d="M1344.7 534.5l0.1-2-5.3 59.6-0.1 2.2z"/>
<path fill="#ffa2a2" stroke="#ffa2a2" d="M1344.8 532.5l0.1-2-5.3 59.5-0.1 2.1z"/>
<path fill="#ff9e9e" stroke="#ff9e9e" d="M1344.9 530.5l0.1-2-5.3 59.3-0.1 2.2z"/>
<path fill="#ff9999" stroke="#ff9999" d="M1345 528.5l0.1-2-5.3 59.1-0.1 2.2z"/>
<path fill="#ff9595" stroke="#ff9595" d="M1345.1 526.5l0.1-2-5.3 58.9-0.1 2.2z"/>
<path fill="#ff9191" stroke="#ff9191" d="M1345.2 524.5l0.1-2-5.3 58.7-0.1 2.2z"/>
<path fill="#ff8c8c" stroke="#ff8c8c" d="M1345.3 522.5l0.1-2-5.3 58.5-0.1 2.2z"/>
<path fill="#ff8888" stroke="#ff8888" d="M1345.4 520.5l0-2.1-5.2 58.4-0.1 2.2z"/>
<path fill="#ff8484" stroke="#ff8484" d="M1345.4 518.4l0.1-2-5.3 58.2 0 2.2z"/>
<path fill="#ff7f7f" stroke="#ff7f7f" d="M1345.5 516.4l0.1-2.1-5.3 58.1-0.1 2.2z"/>
<path fill="#ff7b7b" stroke="#ff7b7b" d="M1345.6 514.3l0.1-2-5.3 57.8-0.1 2.3z"/>
<path fill="#ff7676" stroke="#ff7676" d="M1345.7 512.3l0.1-2.1-5.3 57.7-0.1 2.2z"/>
<path fill="#ff7272" stroke="#ff7272" d="M1345.8 510.2l0.1-2.1-5.3 57.5-0.1 2.3z"/>
<path fill="#ff6d6d" stroke="#ff6d6d" d="M1345.9 508.1l0.1-2.1-5.3 57.4-0.1 2.2z"/>
<path fill="#ff6969" stroke="#ff6969" d="M1346 506l0.1-2.1-5.3 57.2-0.1 2.3z"/>
<path fill="#ff6464" stroke="#ff6464" d="M1346.1 503.9l0.1-2-5.3 56.9-0.1 2.3z"/>
<path fill="#ff6060" stroke="#ff6060" d="M1346.2 501.9l0.1-2.2-5.3 56.8-0.1 2.3z"/>
<path fill="#ff5b5b" stroke="#ff5b5b" d="M1346.3 499.7l0-2.1-5.2 56.6-0.1 2.3z"/>
<path fill="#ff5757" stroke="#ff5757" d="M1346.3 497.6l0.1-2.1-5.2 56.4-0.1 2.3z"/>
<path fill="#ff5252" stroke="#ff5252" d="M1346.4 495.5l0.1-2.1-5.2 56.2-0.1 2.3z"/>
<path fill="#ff4e4e" stroke="#ff4e4e" d="M1346.5 493.4l0.1-2.1-5.2 56-0.1 2.3z"/>
<path fill="#ff4949" stroke="#ff4949" d="M1346.6 491.3l0.1-2.2-5.2 55.9-0.1 2.3z"/>
<path fill="#ff4545" stroke="#ff4545" d="M1346.7 489.1l0.1-2.1-5.2 55.7-0.1 2.3z"/>
<path fill="#ff4040" stroke="#ff4040" d="M1346.8 487l0.1-2.1-5.2 55.4-0.1 2.4z"/>
<path fill="#ff3c3c" stroke="#ff3c3c" d="M1346.9 484.9l0.1-2.2-5.2 55.3-0.1 2.3z"/>
<path fill="#ff3737" stroke="#ff3737" d="M1347 482.7l0.1-2.1-5.2 55.1-0.1 2.3z"/>
<path fill="#ff3232" stroke="#ff3232" d="M1347.1 480.6l0-2.2-5.1 54.9-0.1 2.4z"/>
<path fill="#ff2e2e" stroke="#ff2e2e" d="M1347.1 478.4l0.1-2.1-5.2 54.7 0 2.3z"/>
<path fill="#ff2929" stroke="#ff2929" d="M1347.2 476.3l0.1-2.2-5.2 54.5-0.1 2.4z"/>
<path fill="#ff2020" stroke="#ff2020" d="M1347.3 474.1l0.3-6.8-5.2 53.9-0.3 7.4z"/>
<path fill="#ff1e1e" stroke="#ff1e1e" d="M1347.6 467.3l1.7 5.2-5 54.4-1.9-5.7z"/>
<path fill="#ff2525" stroke="#ff2525" d="M1349.3 472.5l0.5 1.7-4.9 54.5-0.6-1.8z"/>
<path fill="#ff2929" stroke="#ff2929" d="M1349.8 474.2l0.5 1.7-4.9 54.7-0.5-1.9z"/>
<path fill="#ff2d2d" stroke="#ff2d2d" d="M1350.3 475.9l0.6 1.6-4.9 54.9-0.6-1.8z"/>
<path fill="#ff3030" stroke="#ff3030" d="M1350.9 477.5l0.5 1.7-4.8 55-0.6-1.8z"/>
<path fill="#ff3434" stroke="#ff3434" d="M1351.4 479.2l0.5 1.7-4.7 55.1-0.6-1.8z"/>
<path fill="#ff3737" stroke="#ff3737" d="M1351.9 480.9l0.6 1.7-4.7 55.3-0.6-1.9z"/>
<path fill="#ff3b3b" stroke="#ff3b3b" d="M1352.5 482.6l0.5 1.6-4.7 55.5-0.5-1.8z"/>
<path fill="#ff3f3f" stroke="#ff3f3f" d="M1353 484.2l0.5 1.7-4.6 55.7-0.6-1.9z"/>
<path fill="#ff4242" stroke="#ff4242" d="M1353.5 485.9l0.5 1.8-4.5 55.7-0.6-1.8z"/>
<path fill="#ff4646" stroke="#ff4646" d="M1354 487.7l0.6 1.7-4.5 55.9-0.6-1.9z"/>
<path fill="#ff4a4a" stroke="#ff4a4a" d="M1354.6 489.4l0.5 1.7-4.5 56.1-0.5-1.9z"/>
<path fill="#ff4d4d" stroke="#ff4d4d" d="M1355.1 491.1l0.5 1.7-4.4 56.2-0.6-1.8z"/>
<path fill="#ff5151" stroke="#ff5151" d="M1355.6 492.8l0.5 1.7-4.3 56.4-0.6-1.9z"/>
<path fill="#ff5555" stroke="#ff5555" d="M1356.1 494.5l0.6 1.8-4.3 56.5-0.6-1.9z"/>
<path fill="#ff5858" stroke="#ff5858" d="M1356.7 496.3l0.5 1.7-4.3 56.7-0.5-1.9z"/>
<path fill="#ff5c5c" stroke="#ff5c5c" d="M1357.2 498l0.5 1.8-4.2 56.8-0.6-1.9z"/>
<path fill="#ff6060" stroke="#ff6060" d="M1357.7 499.8l0.6 1.7-4.2 57-0.6-1.9z"/>
<path fill="#ff6363" stroke="#ff6363" d="M1358.3 501.5l0.3 1.2-4.1 57.1-0.4-1.3z"/>
<path fill="#ff6565" stroke="#ff6565" d="M1358.6 502.7l0.2 0.6-4.1 57.2-0.2-0.7z"/>
<path fill="#ff6767" stroke="#ff6767" d="M1358.8 503.3l0.5 1.8-4 57.3-0.6-1.9z"/>
<path fill="#ff6b6b" stroke="#ff6b6b" d="M1359.3 505.1l0.5 1.8-4 57.5-0.5-2z"/>
<path fill="#ff6f6f" stroke="#ff6f6f" d="M1359.8 506.9l0.6 1.8-4 57.7-0.6-2z"/>
<path fill="#ff7373" stroke="#ff7373" d="M1360.4 508.7l0.5 1.9-3.9 57.8-0.6-2z"/>
<path fill="#ff7777" stroke="#ff7777" d="M1360.9 510.6l0.5 1.8-3.8 58-0.6-2z"/>
<path fill="#ff7b7b" stroke="#ff7b7b" d="M1361.4 512.4l0.5 1.9-3.8 58.1-0.5-2z"/>
<path fill="#ff7f7f" stroke="#ff7f7f" d="M1361.9 514.3l0.6 1.8-3.8 58.3-0.6-2z"/>
<path fill="#ff8383" stroke="#ff8383" d="M1362.5 516.1l0.5 1.9-3.7 58.5-0.6-2.1z"/>
<path fill="#ff8787" stroke="#ff8787" d="M1363 518l0.5 1.9-3.6 58.6-0.6-2z"/>
<path fill="#ff8b8b" stroke="#ff8b8b" d="M1363.5 519.9l0.6 1.9-3.7 58.7-0.5-2z"/>
<path fill="#ff8f8f" stroke="#ff8f8f" d="M1364.1 521.8l0.5 1.8-3.6 59-0.6-2.1z"/>
<path fill="#ff9393" stroke="#ff9393" d="M1364.6 523.6l0.5 1.9-3.5 59.1-0.6-2z"/>
<path fill="#ff9797" stroke="#ff9797" d="M1365.1 525.5l0.5 1.9-3.4 59.3-0.6-2.1z"/>
<path fill="#ff9b9b" stroke="#ff9b9b" d="M1365.6 527.4l0.6 1.8-3.5 59.5-0.5-2z"/>
<path fill="#ff9f9f" stroke="#ff9f9f" d="M1366.2 529.2l0.5 1.9-3.4 59.6-0.6-2z"/>
<path fill="#ffa3a3" stroke="#ffa3a3" d="M1366.7 531.1l0.5 1.8-3.3 59.8-0.6-2z"/>
<path fill="#ffa7a7" stroke="#ffa7a7" d="M1367.2 532.9l0.5 1.9-3.2 59.9-0.6-2z"/>
<path fill="#ffabab" stroke="#ffabab" d="M1367.7 534.8l0.6 1.8-3.3 60-0.5-1.9z"/>
<path fill="#ffafaf" stroke="#ffafaf" d="M1368.3 536.6l0.5 1.7-3.2 60.3-0.6-2z"/>
<path fill="#ffb2b2" stroke="#ffb2b2" d="M1368.8 538.3l0.3 1.1-3.1 60.3-0.4-1.1z"/>
<path fill="#ffb4b4" stroke="#ffb4b4" d="M1369.1 539.4l0.2 0.7-3.1 60.4-0.2-0.8z"/>
<path fill="#ffb7b7" stroke="#ffb7b7" d="M1369.3 540.1l0.5 1.8-3 60.5-0.6-1.9z"/>
<path fill="#ffbbbb" stroke="#ffbbbb" d="M1369.8 541.9l0.6 1.7-3.1 60.8-0.5-2z"/>
<path fill="#ffbebe" stroke="#ffbebe" d="M1370.4 543.6l0.5 1.8-3 60.9-0.6-1.9z"/>
<path fill="#ffc2c2" stroke="#ffc2c2" d="M1370.9 545.4l0.5 1.8-2.9 61-0.6-1.9z"/>
<path fill="#ffc6c6" stroke="#ffc6c6" d="M1371.4 547.2l0.5 1.7-2.9 61.2-0.5-1.9z"/>
<path fill="#ffcaca" stroke="#ffcaca" d="M1371.9 548.9l0.6 1.8-2.9 61.3-0.6-1.9z"/>
<path fill="#ffcece" stroke="#ffcece" d="M1372.5 550.7l0.5 1.7-2.8 61.5-0.6-1.9z"/>
<path fill="#ffd1d1" stroke="#ffd1d1" d="M1373 552.4l0.5 1.7-2.7 61.7-0.6-1.9z"/>
<path fill="#ffd5d5" stroke="#ffd5d5" d="M1373.5 554.1l0.5 1.8-2.7 61.7-0.5-1.8z"/>
<path fill="#ffd9d9" stroke="#ffd9d9" d="M1374 555.9l0.5 1.7-2.6 61.9-0.6-1.9z"/>
<path fill="#ffdcdc" stroke="#ffdcdc" d="M1374.5 557.6l0.6 1.7-2.6 62.1-0.6-1.9z"/>
<path fill="#ffe0e0" stroke="#ffe0e0" d="M1375.1 559.3l0.5 1.7-2.6 62.2-0.5-1.8z"/>
<path fill="#ffe4e4" stroke="#ffe4e4" d="M1375.6 561l0.5 1.7-2.5 62.3-0.6-1.8z"/>
<path fill="#ffe7e7" stroke="#ffe7e7" d="M1376.1 562.7l0.5 1.6-2.4 62.5-0.6-1.8z"/>
<path fill="#ffebeb" stroke="#ffebeb" d="M1376.6 564.3l0.5 1.7-2.4 62.6-0.5-1.8z"/>
<path fill="#ffefef" stroke="#ffefef" d="M1377.1 566l0.6 1.6-2.4 62.8-0.6-1.8z"/>
<path fill="#fff2f2" stroke="#fff2f2" d="M1377.7 567.6l0.5 1.6-2.3 62.9-0.6-1.7z"/>
<path fill="#fff6f6" stroke="#fff6f6" d="M1378.2 569.2l0.5 1.6-2.3 63.1-0.5-1.8z"/>
<path fill="#fff9f9" stroke="#fff9f9" d="M1378.7 570.8l0.5 1.6-2.2 63.2-0.6-1.7z"/>
<path fill="#fffcfc" stroke="#fffcfc" d="M1379.2 572.4l0.4 1.1-2.2 63.3-0.4-1.2z"/>
<path fill="#fffefe" stroke="#fffefe" d="M1379.6 573.5l0.1 0.4-2.1 63.4-0.2-0.5z"/>
<path fill="#fefeff" stroke="#fefeff" d="M1379.7 573.9l0.6 1.6-2.2 63.4-0.5-1.6z"/>
<path fill="#fbfbff" stroke="#fbfbff" d="M1380.3 575.5l0.5 1.5-2.1 63.6-0.6-1.7z"/>
<path fill="#f8f8ff" stroke="#f8f8ff" d="M1380.8 577l0.5 1.5-2 63.8-0.6-1.7z"/>
<path fill="#f4f4ff" stroke="#f4f4ff" d="M1381.3 578.5l0.5 1.6-2 63.8-0.5-1.6z"/>
<path fill="#f1f1ff" stroke="#f1f1ff" d="M1381.8 580.1l0.5 1.5-1.9 64-0.6-1.7z"/>
<path fill="#eeeeff" stroke="#eeeeff" d="M1382.3 581.6l0.5 1.5-1.8 64.1-0.6-1.6z"/>
<path fill="#eaeaff" stroke="#eaeaff" d="M1382.8 583.1l0.6 1.5-1.9 64.2-0.5-1.6z"/>
<path fill="#e7e7ff" stroke="#e7e7ff" d="M1383.4 584.6l0.5 1.5-1.8 64.4-0.6-1.7z"/>
<path fill="#e4e4ff" stroke="#e4e4ff" d="M1383.9 586.1l0.5 1.4-1.8 64.6-0.5-1.6z"/>
<path fill="#e1e1ff" stroke="#e1e1ff" d="M1384.4 587.5l0.5 1.5-1.7 64.6-0.6-1.5z"/>
<path fill="#dedeff" stroke="#dedeff" d="M1384.9 589l0.5 1.4-1.6 64.8-0.6-1.6z"/>
<path fill="#d9d9ff" stroke="#d9d9ff" d="M1385.4 590.4l1.1 2.8-1.6 65-1.1-3z"/>
<path fill="#d3d3ff" stroke="#d3d3ff" d="M1386.5 593.2l1 2.7-1.5 65.3-1.1-3z"/>
<path fill="#cdcdff" stroke="#cdcdff" d="M1387.5 595.9l1 2.7-1.4 65.4-1.1-2.8z"/>
<path fill="#c8c8ff" stroke="#c8c8ff" d="M1388.5 598.6l1 2.5-1.3 65.6-1.1-2.7z"/>
<path fill="#c3c3ff" stroke="#c3c3ff" d="M1389.5 601.1l0.6 1.3-1.2 65.8-0.7-1.5z"/>
<path fill="#c1c1ff" stroke="#c1c1ff" d="M1390.1 602.4l0.5 1.1-1.2 65.8-0.5-1.1z"/>
<path fill="#bdbdff" stroke="#bdbdff" d="M1390.6 603.5l1 2.3-1.1 66.1-1.1-2.6z"/>
<path fill="#b8b8ff" stroke="#b8b8ff" d="M1391.6 605.8l1 2.3-1 66.3-1.1-2.5z"/>
<path fill="#b3b3ff" stroke="#b3b3ff" d="M1392.6 608.1l1 2.3-0.9 66.5-1.1-2.5z"/>
<path fill="#aeaeff" stroke="#aeaeff" d="M1393.6 610.4l1 2.2-0.8 66.7-1.1-2.4z"/>
<path fill="#a9a9ff" stroke="#a9a9ff" d="M1394.6 612.6l1.1 2.2-0.8 66.8-1.1-2.3z"/>
<path fill="#a5a5ff" stroke="#a5a5ff" d="M1395.7 614.8l1 2-0.7 67-1.1-2.2z"/>
<path fill="#a0a0ff" stroke="#a0a0ff" d="M1396.7 616.8l1 1.9-0.6 67.2-1.1-2.1z"/>
<path fill="#9c9cff" stroke="#9c9cff" d="M1397.7 618.7l1 1.8-0.5 67.3-1.1-1.9z"/>
<path fill="#9999ff" stroke="#9999ff" d="M1398.7 620.5l1 1.6-0.4 67.5-1.1-1.8z"/>
<path fill="#9595ff" stroke="#9595ff" d="M1399.7 622.1l0.9 1.3-0.3 67.6-1-1.4z"/>
<path fill="#9494ff" stroke="#9494ff" d="M1400.6 623.4l0.1 0.1-0.3 67.6-0.1-0.1z"/>
<path fill="#9292ff" stroke="#9292ff" d="M1400.7 623.5l1 1.4-0.2 67.8-1.1-1.6z"/>
<path fill="#8e8eff" stroke="#8e8eff" d="M1401.7 624.9l2 2.8 0 68-2.2-3z"/>
<path fill="#8888ff" stroke="#8888ff" d="M1403.7 627.7l2 2.3 0.2 68.2-2.2-2.5z"/>
<path fill="#8484ff" stroke="#8484ff" d="M1405.7 630l2 1.5 0.3 68.3-2.1-1.6z"/>
<path fill="#8282ff" stroke="#8282ff" d="M1407.7 631.5l0.8 0.3 0.4 68.3-0.9-0.3z"/>
<path fill="#8181ff" stroke="#8181ff" d="M1408.5 631.8l1.2 0.2 2 0.4 0.6 68.3-2.1-0.3-1.3-0.3z"/>
<path fill="#8080ff" stroke="#8080ff" d="M1411.7 632.4l2 0.2 0.8 68.4-2.2-0.3z"/>
<path fill="#7f7fff" stroke="#7f7fff" d="M1413.7 632.6l1.9 0.2 2 0.2 1.2 68.5-2.2-0.2-2.1-0.3z"/>
<path fill="#7e7eff" stroke="#7e7eff" d="M1417.6 633l2 0.2 2 0.1 1.9 0.1 2 0.1 1.9 68.5-2.2-0.1-2.1-0.1-2.2-0.1-2.1-0.2z"/>
<path fill="#7d7dff" stroke="#7d7dff" d="M1425.5 633.5l2 0.1 2 0.1 2.1 68.6-2.1-0.1-2.1-0.2z"/>
<path fill="#1616ff" stroke="#1616ff" d="M1642.6 678.6l1.9 0.1 2 0.1 2 0.1 1.9 0 0.4 0 1.6 0 2 0 1.9 0 2-0.1 2 0 2 0 1.9 0 2 0 2 0 1.9 0 2-0.1 2 0 1.9 0 2 0 2 0 2 0 1.9 0 2-0.1 2 0 1.9 0 2 0 2 0 2 0 1.9-0.1 2 0 2 0 1.9 0 2 0 2 0 2-0.1 1.9 0 2 0 1.2 0 24.2 72.7-1.4 0-2.1 0-2.1 0-2.1 0-2.1 0-2.1 0.1-2.1 0-2.1 0-2.1 0-2.1 0-2.1 0-2.2 0-2.1 0.1-2.1 0-2.1 0-2.1 0-2.1 0-2.1 0-2.1 0-2.1 0.1-2.1 0-2.2 0-2.1 0-2.1 0-2.1 0-2.1 0-2.1 0-2.1 0.1-2.1 0-2.2 0-2.1 0-2.1 0-1.7 0-0.4 0-2.1 0-2.1-0.1-2.1-0.1-2.1-0.1z"/>
<path fill="#1717ff" stroke="#1717ff" d="M1638.6 678.2l2 0.2 2 0.2 19 72.6-2.2-0.2-2.1-0.2z"/>
<path fill="#1818ff" stroke="#1818ff" d="M1634.7 677.8l2 0.2 1.9 0.2 18.7 72.6-2.1-0.3-2.1-0.2z"/>
<path fill="#1919ff" stroke="#1919ff" d="M1630.7 677.2l2 0.3 2 0.3 18.4 72.5-2.1-0.3-2.1-0.3z"/>
<path fill="#1a1aff" stroke="#1a1aff" d="M1628.8 676.9l1 0.2 0.9 0.1 18.2 72.5-1-0.2-1.1-0.2z"/>
<path fill="#1b1bff" stroke="#1b1bff" d="M1626.8 676.5l2 0.4 18 72.4-2.1-0.5z"/>
<path fill="#1c1cff" stroke="#1c1cff" d="M1624.8 675.8l2 0.7 17.9 72.3-2.2-0.6z"/>
<path fill="#1e1eff" stroke="#1e1eff" d="M1622.9 675.1l1.9 0.7 17.7 72.4-2.1-0.8z"/>
<path fill="#2020ff" stroke="#2020ff" d="M1620.9 674.2l2 0.9 17.5 72.3-2.1-1z"/>
<path fill="#2222ff" stroke="#2222ff" d="M1618.9 673.3l2 0.9 17.4 72.2-2.1-1z"/>
<path fill="#2424ff" stroke="#2424ff" d="M1617 672.3l1.9 1 17.3 72.1-2.1-1.1z"/>
<path fill="#2626ff" stroke="#2626ff" d="M1615 671.2l2 1.1 17.1 72-2.1-1.1z"/>
<path fill="#2828ff" stroke="#2828ff" d="M1613 670.2l2 1 17 72-2.1-1.2z"/>
<path fill="#2b2bff" stroke="#2b2bff" d="M1611.1 669.1l1.9 1.1 16.9 71.8-2.1-1.1z"/>
<path fill="#2d2dff" stroke="#2d2dff" d="M1609.1 668.1l2 1 16.7 71.8-2.1-1.1z"/>
<path fill="#2e2eff" stroke="#2e2eff" d="M1608.8 667.9l0.3 0.2 16.6 71.7-0.4-0.2z"/>
<path fill="#3030ff" stroke="#3030ff" d="M1607.1 667l1.7 0.9 16.5 71.7-1.8-1z"/>
<path fill="#3232ff" stroke="#3232ff" d="M1605.2 665.9l1.9 1.1 16.4 71.6-2.1-1.2z"/>
<path fill="#3434ff" stroke="#3434ff" d="M1603.2 664.7l2 1.2 16.2 71.5-2.1-1.2z"/>
<path fill="#3737ff" stroke="#3737ff" d="M1601.2 663.5l2 1.2 16.1 71.5-2.1-1.3z"/>
<path fill="#3a3aff" stroke="#3a3aff" d="M1599.3 662.3l1.9 1.2 16 71.4-2.1-1.4z"/>
<path fill="#3d3dff" stroke="#3d3dff" d="M1597.3 661l2 1.3 15.8 71.2-2.1-1.4z"/>
<path fill="#4040ff" stroke="#4040ff" d="M1595.3 659.7l2 1.3 15.7 71.1-2.1-1.4z"/>
<path fill="#4242ff" stroke="#4242ff" d="M1593.4 658.4l1.9 1.3 15.6 71-2.2-1.4z"/>
<path fill="#4545ff" stroke="#4545ff" d="M1591.4 657.1l2 1.3 15.3 70.9-2.1-1.4z"/>
<path fill="#4848ff" stroke="#4848ff" d="M1589.4 655.8l2 1.3 15.2 70.8-2.1-1.4z"/>
<path fill="#4b4bff" stroke="#4b4bff" d="M1587.9 654.8l1.5 1 15.1 70.7-1.7-1.1z"/>
<path fill="#4c4cff" stroke="#4c4cff" d="M1587.5 654.5l0.4 0.3 14.9 70.6-0.4-0.3z"/>
<path fill="#4e4eff" stroke="#4e4eff" d="M1585.5 653.1l2 1.4 14.9 70.6-2.1-1.5z"/>
<path fill="#5151ff" stroke="#5151ff" d="M1583.5 651.6l2 1.5 14.8 70.5-2.2-1.6z"/>
<path fill="#5454ff" stroke="#5454ff" d="M1581.6 650.1l1.9 1.5 14.6 70.4-2.1-1.6z"/>
<path fill="#5858ff" stroke="#5858ff" d="M1579.6 648.6l2 1.5 14.4 70.3-2.1-1.6z"/>
<path fill="#5b5bff" stroke="#5b5bff" d="M1577.6 647.2l2 1.4 14.3 70.2-2.1-1.5z"/>
<path fill="#5e5eff" stroke="#5e5eff" d="M1575.6 646.1l2 1.1 14.2 70.1-2.1-1.3z"/>
<path fill="#6060ff" stroke="#6060ff" d="M1573.7 645.2l1.9 0.9 14.1 69.9-2.2-0.9z"/>
<path fill="#6262ff" stroke="#6262ff" d="M1571.7 644.7l0.4 0.1 1.6 0.4 13.8 69.9-1.7-0.5-0.4-0.1z"/>
<path fill="#6363ff" stroke="#6363ff" d="M1567.7 644.1l2 0.3 2 0.3 13.7 69.8-2.1-0.3-2.1-0.4z"/>
<path fill="#6464ff" stroke="#6464ff" d="M1563.8 643.6l2 0.2 1.9 0.3 13.5 69.7-2.2-0.2-2.1-0.3z"/>
<path fill="#6565ff" stroke="#6565ff" d="M1559.8 643.3l2 0.1 2 0.2 13.1 69.7-2.1-0.2-2.2-0.2z"/>
<path fill="#6666ff" stroke="#6666ff" d="M1555.9 643l2 0.1 1.9 0.2 12.8 69.6-2.1-0.2-2.1-0.1z"/>
<path fill="#6767ff" stroke="#6767ff" d="M1550 642.5l1.9 0.2 2 0.1 2 0.2 12.5 69.6-2.1-0.2-2.2-0.1-2.1-0.2z"/>
<path fill="#6868ff" stroke="#6868ff" d="M1544 642l1.9 0.2 0.1 0 2 0.2 2 0.1 12 69.6-2.1-0.2-2.2-0.1-0.1-0.1-2-0.1z"/>
<path fill="#6969ff" stroke="#6969ff" d="M1540.1 641.7l2 0.2 1.9 0.1 11.6 69.6-2.1-0.2-2.2-0.2z"/>
<path fill="#6a6aff" stroke="#6a6aff" d="M1534.2 641.1l1.9 0.2 2 0.2 2 0.2 11.2 69.5-2.1-0.2-2.1-0.2-2.1-0.2z"/>
<path fill="#6b6bff" stroke="#6b6bff" d="M1530.2 640.8l2 0.2 2 0.1 10.8 69.5-2.2-0.2-2.1-0.2z"/>
<path fill="#6c6cff" stroke="#6c6cff" d="M1526.3 640.5l1.9 0.1 2 0.2 10.5 69.4-2.1-0.2-2.2-0.2z"/>
<path fill="#6d6dff" stroke="#6d6dff" d="M1520.3 639.9l2 0.2 2 0.2 2 0.2 10.1 69.3-2.1-0.2-2.1-0.2-2.2-0.2z"/>
<path fill="#6e6eff" stroke="#6e6eff" d="M1516.4 639.6l2 0.2 1.9 0.1 9.7 69.3-2.1-0.1-2.1-0.2z"/>
<path fill="#6f6fff" stroke="#6f6fff" d="M1510.5 639.1l1.9 0.2 2 0.2 2 0.1 9.4 69.3-2.2-0.2-2.1-0.2-2.1-0.2z"/>
<path fill="#7070ff" stroke="#7070ff" d="M1506.5 638.8l2 0.2 2 0.1 8.9 69.2-2.2-0.1-2.1-0.2z"/>
<path fill="#7171ff" stroke="#7171ff" d="M1500.6 638.3l2 0.2 1.9 0.2 2 0.1 8.6 69.2-2.1-0.2-2.2-0.2-2.1-0.1z"/>
<path fill="#7272ff" stroke="#7272ff" d="M1494.7 637.9l1.9 0.1 2 0.2 2 0.1 8.1 69.2-2.2-0.2-2.1-0.2-2.1-0.2z"/>
<path fill="#7373ff" stroke="#7373ff" d="M1488.7 637.4l2 0.2 2 0.1 0.8 0.1 1.2 0.1 7.6 69-1.3-0.1-0.9 0-2.1-0.2-2.1-0.1z"/>
<path fill="#7474ff" stroke="#7474ff" d="M1484.8 637.1l2 0.2 1.9 0.1 7.2 69.1-2.2-0.2-2.1-0.2z"/>
<path fill="#7575ff" stroke="#7575ff" d="M1478.9 636.7l1.9 0.2 2 0.1 2 0.1 6.8 69-2.2-0.1-2.1-0.2-2.1-0.2z"/>
<path fill="#7676ff" stroke="#7676ff" d="M1472.9 636.3l2 0.1 2 0.2 2 0.1 6.3 68.9-2.2-0.1-2.1-0.2-2.1-0.1z"/>
<path fill="#7777ff" stroke="#7777ff" d="M1467 635.9l2 0.1 2 0.2 1.9 0.1 5.9 68.9-2.2-0.2-2.1-0.1-2.2-0.2z"/>
<path fill="#7878ff" stroke="#7878ff" d="M1461.1 635.5l2 0.1 1.9 0.2 2 0.1 5.3 68.8-2.1-0.1-2.1-0.2-2.2-0.1z"/>
<path fill="#7979ff" stroke="#7979ff" d="M1453.2 635l2 0.1 0.8 0.1 1.1 0.1 2 0.1 2 0.1 4.8 68.8-2.1-0.2-2.2-0.1-1.2-0.1-0.9 0-2.1-0.2z"/>
<path fill="#7a7aff" stroke="#7a7aff" d="M1445.3 634.6l1.9 0.1 2 0.1 2 0.1 2 0.1 4.2 68.7-2.2-0.1-2.1-0.1-2.2-0.1-2.1-0.1z"/>
<path fill="#7b7bff" stroke="#7b7bff" d="M1439.3 634.3l2 0.1 2 0.1 2 0.1 3.5 68.7-2.2-0.1-2.1-0.1-2.1-0.2z"/>
<path fill="#7c7cff" stroke="#7c7cff" d="M1432.1 633.9l1.3 0.1 2 0.1 2 0.1 1.9 0.1 3.1 68.6-2.2-0.1-2.1-0.1-2.2-0.1-1.4-0.1z"/>
<path fill="#7d7dff" stroke="#7d7dff" d="M1429.5 633.7l1.9 0.2 0.7 0 2.4 68.6-0.7-0.1-2.2-0.1z"/></g>
<g stroke="#000" stroke-width="1.6" stroke-dasharray="4,4" fill="none">
<line x1="67.1" y1="883.4" x2="565.9" y2="879.2"/>
<line x1="68.8" y1="945.4" x2="565.1" y2="940.8"/>
<line x1="70.5" y1="1006.6" x2="564.3" y2="1001.6"/>
<line x1="72.1" y1="1067.1" x2="563.6" y2="1061.7"/>
<line x1="148.8" y1="829.5" x2="152.9" y2="1066.2"/>
<line x1="231.2" y1="828.8" x2="233.4" y2="1065.3"/>
<line x1="313.6" y1="828.0" x2="314.9" y2="1064.4"/>
<line x1="395.9" y1="827.3" x2="395.3" y2="1063.5"/>
<line x1="477.7" y1="826.5" x2="476.9" y2="1062.7"/>
<line x1="559.2" y1="825.8" x2="556.9" y2="1061.8"/>
</g>
<polyline points="71.2,1071.3 72.1,1067.1 65.7,830.3 566.6,825.7 563.5,1066.6" fill="none" stroke="#000" stroke-width="1.6"/>
<polygon points="71.2,1071.3 107.5,1071.0 93.2,1145.7 54.8,1146.1" fill="#4b3fd0" stroke="#4b3fd0" stroke-width="0.5"/>
<polygon points="107.5,1071.0 139.3,1070.6 127.7,1145.3 93.2,1145.7" fill="#dbd9d7" stroke="#dbd9d7" stroke-width="0.5"/>
<polygon points="139.3,1070.6 180.9,1070.3 172.8,1144.8 127.7,1145.3" fill="#c7b6ad" stroke="#c7b6ad" stroke-width="0.5"/>
<polygon points="180.9,1070.3 190.5,1070.2 183.2,1144.7 172.8,1144.8" fill="#747076" stroke="#747076" stroke-width="0.5"/>
<polygon points="190.5,1070.2 251.4,1069.6 249.3,1144.0 183.2,1144.7" fill="#484a66" stroke="#484a66" stroke-width="0.5"/>
<polygon points="251.4,1069.6 426.0,1067.9 437.5,1142.0 249.3,1144.0" fill="#7a16a0" stroke="#7a16a0" stroke-width="0.5"/>
<polygon points="426.0,1067.9 503.5,1067.2 522.5,1141.1 437.5,1142.0" fill="#c6b5ad" stroke="#c6b5ad" stroke-width="0.5"/>
<polygon points="503.5,1067.2 563.5,1066.6 587.9,1140.4 522.5,1141.1" fill="#0000ff" stroke="#0000ff" stroke-width="0.5"/>
<polygon points="71.2,1071.3 563.5,1066.6 587.9,1140.4 54.8,1146.1" fill="none" stroke="#000" stroke-width="1.3"/>
<line x1="54.8" y1="1146.1" x2="587.9" y2="1140.4" stroke="#000" stroke-width="2.2"/>
<g stroke-width="1" stroke-linejoin="round"><path fill="#0000ff" stroke="#0000ff" d="M72.1 1067.1l2 0 1.9 0 2-0.1 2 0 2 0 1.9 0 2 0 2-0.1 1.9 0 2 0 2 0 2-0.1 0.9 0 0.8 0 0.2 0 2-0.4-13.8 73.2-2.1 0.4-0.3 0.1-0.8 0-1.1 0-2.1 0-2.2 0-2.2 0-2.1 0-2.2 0.1-2.1 0-2.2 0-2.2 0-2.1 0-2.2 0.1-2.1 0-2.2 0z"/>
<path fill="#0202ff" stroke="#0202ff" d="M99.7 1066.4l1.9-0.8-13.6 73.1-2.1 0.9z"/>
<path fill="#0404ff" stroke="#0404ff" d="M101.6 1065.6l2-1-13.4 73.1-2.2 1z"/>
<path fill="#0505ff" stroke="#0505ff" d="M103.6 1064.6l1.1-0.5-13.3 73-1.2 0.6z"/>
<path fill="#0606ff" stroke="#0606ff" d="M104.7 1064.1l0.8-0.3-13.2 72.9-0.9 0.4z"/>
<path fill="#0707ff" stroke="#0707ff" d="M105.5 1063.8l2-0.9-13.1 72.9-2.1 0.9z"/>
<path fill="#0909ff" stroke="#0909ff" d="M107.5 1062.9l1.9-0.8-12.8 72.8-2.2 0.9z"/>
<path fill="#0b0bff" stroke="#0b0bff" d="M109.4 1062.1l2-1-12.7 72.7-2.1 1.1z"/>
<path fill="#0e0eff" stroke="#0e0eff" d="M111.4 1061.1l1.9-1.2-12.5 72.7-2.1 1.2z"/>
<path fill="#1010ff" stroke="#1010ff" d="M113.3 1059.9l1.3-0.9-12.4 72.6-1.4 1z"/>
<path fill="#1111ff" stroke="#1111ff" d="M114.6 1059l0.7-0.5-12.4 72.5-0.7 0.6z"/>
<path fill="#1414ff" stroke="#1414ff" d="M115.3 1058.5l1.9-2.1-12.2 72.4-2.1 2.2z"/>
<path fill="#1919ff" stroke="#1919ff" d="M117.2 1056.4l1.9-2.5-12 72.1-2.1 2.8z"/>
<path fill="#1d1dff" stroke="#1d1dff" d="M119.1 1053.9l1-1.4-11.9 72-1.1 1.5z"/>
<path fill="#2020ff" stroke="#2020ff" d="M120.1 1052.5l0.6-0.9-11.8 71.9-0.7 1z"/>
<path fill="#2121ff" stroke="#2121ff" d="M120.7 1051.6l0.3-0.5-11.8 71.9-0.3 0.5z"/>
<path fill="#2424ff" stroke="#2424ff" d="M121 1051.1l1-1.5-11.7 71.7-1.1 1.7z"/>
<path fill="#2727ff" stroke="#2727ff" d="M122 1049.6l0.9-1.6-11.6 71.6-1 1.7z"/>
<path fill="#2b2bff" stroke="#2b2bff" d="M122.9 1048l1-1.8-11.6 71.5-1 1.9z"/>
<path fill="#2f2fff" stroke="#2f2fff" d="M123.9 1046.2l0.9-2-11.5 71.3-1 2.2z"/>
<path fill="#3333ff" stroke="#3333ff" d="M124.8 1044.2l0.9-2.2-11.4 71.1-1 2.4z"/>
<path fill="#3636ff" stroke="#3636ff" d="M125.7 1042l0-0.1-11.3 71.1-0.1 0.1z"/>
<path fill="#3838ff" stroke="#3838ff" d="M125.7 1041.9l0.5-1.4-11.3 71-0.5 1.5z"/>
<path fill="#3b3bff" stroke="#3b3bff" d="M126.2 1040.5l0.5-1.5-11.3 70.9-0.5 1.6z"/>
<path fill="#3e3eff" stroke="#3e3eff" d="M126.7 1039l0.4-1.7-11.2 70.7-0.5 1.9z"/>
<path fill="#4242ff" stroke="#4242ff" d="M127.1 1037.3l0.5-1.8-11.2 70.6-0.5 1.9z"/>
<path fill="#4646ff" stroke="#4646ff" d="M127.6 1035.5l0.4-2-11.2 70.4-0.4 2.2z"/>
<path fill="#4a4aff" stroke="#4a4aff" d="M128 1033.5l0.5-2-11.2 70.2-0.5 2.2z"/>
<path fill="#4f4fff" stroke="#4f4fff" d="M128.5 1031.5l0.4-2.1-11.1 70-0.5 2.3z"/>
<path fill="#5454ff" stroke="#5454ff" d="M128.9 1029.4l0.5-2.2-11.1 69.8-0.5 2.4z"/>
<path fill="#5656ff" stroke="#5656ff" d="M129.4 1027.2l0-0.2-11.1 69.9 0 0.1z"/>
<path fill="#5959ff" stroke="#5959ff" d="M129.4 1027l0.4-2.4-11 69.6-0.5 2.7z"/>
<path fill="#5d5dff" stroke="#5d5dff" d="M129.8 1024.6l0.2-1.6-11 69.5-0.2 1.7z"/>
<path fill="#6161ff" stroke="#6161ff" d="M130 1023l0.2-1.8-11 69.4-0.2 1.9z"/>
<path fill="#6565ff" stroke="#6565ff" d="M130.2 1021.2l0.2-1.8-11 69.2-0.2 2z"/>
<path fill="#6969ff" stroke="#6969ff" d="M130.4 1019.4l0.2-1.8-10.9 69-0.3 2z"/>
<path fill="#6d6dff" stroke="#6d6dff" d="M130.6 1017.6l0.2-1.9-10.9 68.9-0.2 2z"/>
<path fill="#7171ff" stroke="#7171ff" d="M130.8 1015.7l0.3-1.7-11 68.7-0.2 1.9z"/>
<path fill="#7575ff" stroke="#7575ff" d="M131.1 1014l0.2-1.7-11 68.6-0.2 1.8z"/>
<path fill="#7979ff" stroke="#7979ff" d="M131.3 1012.3l0.4-2.8-10.9 68.3-0.5 3.1z"/>
<path fill="#7f7fff" stroke="#7f7fff" d="M131.7 1009.5l0.8-2.2-10.8 68.1-0.9 2.4z"/>
<path fill="#8181ff" stroke="#8181ff" d="M132.5 1007.3l0.1 0.5-10.8 68.2-0.1-0.6z"/>
<path fill="#7f7fff" stroke="#7f7fff" d="M132.6 1007.8l0.2 1.3-10.8 68.3-0.2-1.4z"/>
<path fill="#7b7bff" stroke="#7b7bff" d="M132.8 1009.1l0.2 2-10.8 68.4-0.2-2.1z"/>
<path fill="#7676ff" stroke="#7676ff" d="M133 1011.1l0.1 2.4-10.7 68.7-0.2-2.7z"/>
<path fill="#7272ff" stroke="#7272ff" d="M133.1 1013.5l0.1 1.4-10.7 68.8-0.1-1.5z"/>
<path fill="#6f6fff" stroke="#6f6fff" d="M133.2 1014.9l0.1 1.5-10.7 68.9-0.1-1.6z"/>
<path fill="#6c6cff" stroke="#6c6cff" d="M133.3 1016.4l0.1 1.5-10.7 69.1-0.1-1.7z"/>
<path fill="#6868ff" stroke="#6868ff" d="M133.4 1017.9l0.1 1.6-10.7 69.2-0.1-1.7z"/>
<path fill="#6565ff" stroke="#6565ff" d="M133.5 1019.5l0.1 1.6-10.7 69.4-0.1-1.8z"/>
<path fill="#6161ff" stroke="#6161ff" d="M133.6 1021.1l0.1 1.7-10.7 69.5-0.1-1.8z"/>
<path fill="#5e5eff" stroke="#5e5eff" d="M133.7 1022.8l0.1 1.6-10.6 69.7-0.2-1.8z"/>
<path fill="#5a5aff" stroke="#5a5aff" d="M133.8 1024.4l0.1 1.7-10.6 69.7-0.1-1.7z"/>
<path fill="#5757ff" stroke="#5757ff" d="M133.9 1026.1l0.1 1.6-10.6 69.9-0.1-1.8z"/>
<path fill="#5353ff" stroke="#5353ff" d="M134 1027.7l0.1 1.6-10.6 70-0.1-1.7z"/>
<path fill="#5050ff" stroke="#5050ff" d="M134.1 1029.3l0.1 1.5-10.6 70.2-0.1-1.7z"/>
<path fill="#4c4cff" stroke="#4c4cff" d="M134.2 1030.8l0.1 1.5-10.6 70.3-0.1-1.6z"/>
<path fill="#4848ff" stroke="#4848ff" d="M134.3 1032.3l0.2 2.6-10.6 70.6-0.2-2.9z"/>
<path fill="#4343ff" stroke="#4343ff" d="M134.5 1034.9l0.1 2-10.5 70.7-0.2-2.1z"/>
<path fill="#4040ff" stroke="#4040ff" d="M134.6 1036.9l0.1 0.2-10.6 70.8 0-0.3z"/>
<path fill="#3e3eff" stroke="#3e3eff" d="M134.7 1037.1l0.1 2-10.5 70.9-0.2-2.1z"/>
<path fill="#3a3aff" stroke="#3a3aff" d="M134.8 1039.1l0.2 2.1-10.5 71-0.2-2.2z"/>
<path fill="#3535ff" stroke="#3535ff" d="M135 1041.2l0.2 2-10.6 71.2-0.1-2.2z"/>
<path fill="#3131ff" stroke="#3131ff" d="M135.2 1043.2l0.1 2-10.5 71.4-0.2-2.2z"/>
<path fill="#2d2dff" stroke="#2d2dff" d="M135.3 1045.2l0.2 1.9-10.5 71.6-0.2-2.1z"/>
<path fill="#2828ff" stroke="#2828ff" d="M135.5 1047.1l0.2 1.8-10.5 71.8-0.2-2z"/>
<path fill="#2424ff" stroke="#2424ff" d="M135.7 1048.9l0.1 1.8-10.4 71.9-0.2-1.9z"/>
<path fill="#2121ff" stroke="#2121ff" d="M135.8 1050.7l0.2 1.7-10.4 72-0.2-1.8z"/>
<path fill="#1d1dff" stroke="#1d1dff" d="M136 1052.4l0.1 1.5-10.4 72.2-0.1-1.7z"/>
<path fill="#1919ff" stroke="#1919ff" d="M136.1 1053.9l0.3 2.6-10.3 72.4-0.4-2.8z"/>
<path fill="#1414ff" stroke="#1414ff" d="M136.4 1056.5l0.3 1.7-10.4 72.5-0.2-1.8z"/>
<path fill="#1212ff" stroke="#1212ff" d="M136.7 1058.2l0 0.2-10.3 72.6-0.1-0.3z"/>
<path fill="#0f0fff" stroke="#0f0fff" d="M136.7 1058.4l0.6 2.7-10.3 72.8-0.6-2.9z"/>
<path fill="#0a0aff" stroke="#0a0aff" d="M137.3 1061.1l0.5 2-10.2 72.9-0.6-2.1z"/>
<path fill="#0606ff" stroke="#0606ff" d="M137.8 1063.1l0.4 0.9-10.2 73.1-0.4-1.1z"/>
<path fill="#0404ff" stroke="#0404ff" d="M138.2 1064l0.6 1.4-10.1 73.2-0.7-1.5z"/>
<path fill="#0101ff" stroke="#0101ff" d="M138.8 1065.4l0.9 1-10 73.2-1-1z"/>
<path fill="#0000ff" stroke="#0000ff" d="M139.7 1066.4l1.1 0 2 0 2-0.1 1.9 0 2 0 2 0 2-0.1 1.9 0 2 0 2 0 1.9 0 2-0.1 2 0 1.9 0 2 0 2 0 2-0.1 1.9 0 2 0 2 0 1.9 0 2-0.1 2 0 1.9 0 1 0 0.5 0 0 0-5.7 73.2 0 0-0.5 0-1.1 0-2.1 0.1-2.2 0-2.1 0-2.2 0-2.1 0-2.2 0.1-2.1 0-2.2 0-2.1 0-2.2 0-2.1 0.1-2.2 0-2.1 0-2.2 0-2.1 0-2.2 0.1-2.1 0-2.2 0-2.1 0-2.2 0-2.1 0.1-2.2 0-2.1 0-1.2 0z"/>
<path fill="#0202ff" stroke="#0202ff" d="M187.6 1065.9l0.1-1.6-5.7 73.1-0.1 1.7z"/>
<path fill="#0505ff" stroke="#0505ff" d="M187.7 1064.3l0-1.8-5.7 72.9 0 2z"/>
<path fill="#0a0aff" stroke="#0a0aff" d="M187.7 1062.5l0.1-2.4-5.7 72.7-0.1 2.6z"/>
<path fill="#0e0eff" stroke="#0e0eff" d="M187.8 1060.1l0-1.4-5.7 72.6 0 1.5z"/>
<path fill="#1111ff" stroke="#1111ff" d="M187.8 1058.7l0-1.5-5.7 72.5 0 1.6z"/>
<path fill="#1515ff" stroke="#1515ff" d="M187.8 1057.2l0-1.6-5.7 72.4 0 1.7z"/>
<path fill="#1818ff" stroke="#1818ff" d="M187.8 1055.6l0-1.7-5.7 72.2 0 1.9z"/>
<path fill="#1c1cff" stroke="#1c1cff" d="M187.8 1053.9l0-1.8-5.7 72.1 0 1.9z"/>
<path fill="#2020ff" stroke="#2020ff" d="M187.8 1052.1l0-1.8-5.7 71.9 0 2z"/>
<path fill="#2424ff" stroke="#2424ff" d="M187.8 1050.3l0-1.9-5.7 71.8 0 2z"/>
<path fill="#2828ff" stroke="#2828ff" d="M187.8 1048.4l0-1.9-5.7 71.6 0 2.1z"/>
<path fill="#2d2dff" stroke="#2d2dff" d="M187.8 1046.5l0-2-5.8 71.5 0.1 2.1z"/>
<path fill="#3131ff" stroke="#3131ff" d="M187.8 1044.5l0-1.9-5.8 71.3 0 2.1z"/>
<path fill="#3535ff" stroke="#3535ff" d="M187.8 1042.6l0-2-5.8 71.1 0 2.2z"/>
<path fill="#3a3aff" stroke="#3a3aff" d="M187.8 1040.6l-0.1-2-5.7 71 0 2.1z"/>
<path fill="#3e3eff" stroke="#3e3eff" d="M187.7 1038.6l0-2-5.7 70.8 0 2.2z"/>
<path fill="#4242ff" stroke="#4242ff" d="M187.7 1036.6l0-1.9-5.7 70.6 0 2.1z"/>
<path fill="#4646ff" stroke="#4646ff" d="M187.7 1034.7l0-1.9-5.7 70.5 0 2z"/>
<path fill="#4a4aff" stroke="#4a4aff" d="M187.7 1032.8l0-1.9-5.7 70.4 0 2z"/>
<path fill="#4c4cff" stroke="#4c4cff" d="M187.7 1030.9l0 0-5.7 70.4 0 0z"/>
<path fill="#4f4fff" stroke="#4f4fff" d="M187.7 1030.9l0-1.9-5.7 70.2 0 2.1z"/>
<path fill="#5353ff" stroke="#5353ff" d="M187.7 1029l0-2-5.7 70 0 2.2z"/>
<path fill="#5858ff" stroke="#5858ff" d="M187.7 1027l0-2.2-5.7 69.8 0 2.4z"/>
<path fill="#5c5cff" stroke="#5c5cff" d="M187.7 1024.8l0-2.3-5.7 69.6 0 2.5z"/>
<path fill="#6262ff" stroke="#6262ff" d="M187.7 1022.5l0-2.5-5.8 69.4 0.1 2.7z"/>
<path fill="#6767ff" stroke="#6767ff" d="M187.7 1020l0-2.5-5.8 69.2 0 2.7z"/>
<path fill="#6d6dff" stroke="#6d6dff" d="M187.7 1017.5l0-2.6-5.8 69 0 2.8z"/>
<path fill="#7272ff" stroke="#7272ff" d="M187.7 1014.9l0-2.7-5.8 68.8 0 2.9z"/>
<path fill="#7878ff" stroke="#7878ff" d="M187.7 1012.2l-0.1-2.7-5.7 68.5 0 3z"/>
<path fill="#7e7eff" stroke="#7e7eff" d="M187.6 1009.5l0-2.7-5.8 68.2 0.1 3z"/>
<path fill="#8484ff" stroke="#8484ff" d="M187.6 1006.8l0-2.8-5.8 68 0 3z"/>
<path fill="#8a8aff" stroke="#8a8aff" d="M187.6 1004l0-2.8-5.8 67.8 0 3z"/>
<path fill="#9090ff" stroke="#9090ff" d="M187.6 1001.2l0-2.8-5.8 67.6 0 3z"/>
<path fill="#9696ff" stroke="#9696ff" d="M187.6 998.4l-0.1-2.8-5.7 67.4 0 3z"/>
<path fill="#9c9cff" stroke="#9c9cff" d="M187.5 995.6l0-2.7-5.8 67.1 0.1 3z"/>
<path fill="#a2a2ff" stroke="#a2a2ff" d="M187.5 992.9l0-2.7-5.8 66.9 0 2.9z"/>
<path fill="#a8a8ff" stroke="#a8a8ff" d="M187.5 990.2l0-2.6-5.8 66.6 0 2.9z"/>
<path fill="#aeaeff" stroke="#aeaeff" d="M187.5 987.6l0-2.5-5.8 66.4 0 2.7z"/>
<path fill="#b3b3ff" stroke="#b3b3ff" d="M187.5 985.1l0-2.5-5.8 66.2 0 2.7z"/>
<path fill="#b8b8ff" stroke="#b8b8ff" d="M187.5 982.6l0-2.3-5.9 66 0.1 2.5z"/>
<path fill="#bdbdff" stroke="#bdbdff" d="M187.5 980.3l0-2.2-5.9 65.8 0 2.4z"/>
<path fill="#c2c2ff" stroke="#c2c2ff" d="M187.5 978.1l-0.1-2.1-5.8 65.6 0 2.3z"/>
<path fill="#c6c6ff" stroke="#c6c6ff" d="M187.4 976l0-2-5.8 65.5 0 2.1z"/>
<path fill="#cacaff" stroke="#cacaff" d="M187.4 974l0-1.7-5.8 65.3 0 1.9z"/>
<path fill="#ccccff" stroke="#ccccff" d="M187.4 972.3l0 0-5.8 65.3 0 0z"/>
<path fill="#ceceff" stroke="#ceceff" d="M187.4 972.3l0-1.7-5.8 65.2 0 1.8z"/>
<path fill="#d1d1ff" stroke="#d1d1ff" d="M187.4 970.6l0-1.6-5.8 65 0 1.8z"/>
<path fill="#d5d5ff" stroke="#d5d5ff" d="M187.4 969l0.1-1.6-5.9 64.9 0 1.7z"/>
<path fill="#d8d8ff" stroke="#d8d8ff" d="M187.5 967.4l0-1.6-5.9 64.7 0 1.8z"/>
<path fill="#dcdcff" stroke="#dcdcff" d="M187.5 965.8l0-1.6-5.9 64.6 0 1.7z"/>
<path fill="#dfdfff" stroke="#dfdfff" d="M187.5 964.2l0-1.5-5.9 64.5 0 1.6z"/>
<path fill="#e2e2ff" stroke="#e2e2ff" d="M187.5 962.7l0-1.5-5.9 64.4 0 1.6z"/>
<path fill="#e5e5ff" stroke="#e5e5ff" d="M187.5 961.2l0-1.4-5.9 64.2 0 1.6z"/>
<path fill="#eaeaff" stroke="#eaeaff" d="M187.5 959.8l0-2.9-5.9 64 0 3.1z"/>
<path fill="#f0f0ff" stroke="#f0f0ff" d="M187.5 956.9l0-2.6-5.8 63.7-0.1 2.9z"/>
<path fill="#f6f6ff" stroke="#f6f6ff" d="M187.5 954.3l0-2.6-5.8 63.6 0 2.7z"/>
<path fill="#fbfbff" stroke="#fbfbff" d="M187.5 951.7l0-2.3-5.8 63.3 0 2.6z"/>
<path fill="#fffefe" stroke="#fffefe" d="M187.5 949.4l0.1-2.2-5.9 63.1 0 2.4z"/>
<path fill="#fffafa" stroke="#fffafa" d="M187.6 947.2l0-2.1-5.9 63 0 2.2z"/>
<path fill="#fff5f5" stroke="#fff5f5" d="M187.6 945.1l0-1.9-5.8 62.9-0.1 2z"/>
<path fill="#fff2f2" stroke="#fff2f2" d="M187.6 943.2l0.1-1.7-5.9 62.7 0 1.9z"/>
<path fill="#fff0f0" stroke="#fff0f0" d="M187.7 941.5l0 0-5.9 62.7 0 0z"/>
<path fill="#ffeeee" stroke="#ffeeee" d="M187.7 941.5l0-1.5-5.9 62.5 0 1.7z"/>
<path fill="#ffebeb" stroke="#ffebeb" d="M187.7 940l0-1.6-5.8 62.4-0.1 1.7z"/>
<path fill="#ffe7e7" stroke="#ffe7e7" d="M187.7 938.4l0.1-1.5-5.9 62.3 0 1.6z"/>
<path fill="#ffe4e4" stroke="#ffe4e4" d="M187.8 936.9l0-1.5-5.9 62.1 0 1.7z"/>
<path fill="#ffe1e1" stroke="#ffe1e1" d="M187.8 935.4l0-1.5-5.8 62-0.1 1.6z"/>
<path fill="#ffdede" stroke="#ffdede" d="M187.8 933.9l0.1-1.4-5.9 61.9 0 1.5z"/>
<path fill="#ffd9d9" stroke="#ffd9d9" d="M187.9 932.5l0-2.8-5.8 61.6-0.1 3.1z"/>
<path fill="#ffd3d3" stroke="#ffd3d3" d="M187.9 929.7l0.1-2.7-5.8 61.4-0.1 2.9z"/>
<path fill="#ffcece" stroke="#ffcece" d="M188 927l0.1-2.6-5.8 61.2-0.1 2.8z"/>
<path fill="#ffc8c8" stroke="#ffc8c8" d="M188.1 924.4l0.1-2.5-5.8 61-0.1 2.7z"/>
<path fill="#ffc3c3" stroke="#ffc3c3" d="M188.2 921.9l0.1-2.4-5.9 60.8 0 2.6z"/>
<path fill="#ffbebe" stroke="#ffbebe" d="M188.3 919.5l0-2.3-5.8 60.6-0.1 2.5z"/>
<path fill="#ffb9b9" stroke="#ffb9b9" d="M188.3 917.2l0.1-2.2-5.8 60.3-0.1 2.5z"/>
<path fill="#ffb4b4" stroke="#ffb4b4" d="M188.4 915l0.1-2.2-5.8 60.2-0.1 2.3z"/>
<path fill="#ffb0b0" stroke="#ffb0b0" d="M188.5 912.8l0.1-2.1-5.8 60-0.1 2.3z"/>
<path fill="#ffabab" stroke="#ffabab" d="M188.6 910.7l0.1-2-5.8 59.8-0.1 2.2z"/>
<path fill="#ffa7a7" stroke="#ffa7a7" d="M188.7 908.7l0.1-2-5.8 59.7-0.1 2.1z"/>
<path fill="#ffa3a3" stroke="#ffa3a3" d="M188.8 906.7l0.1-1.8-5.8 59.5-0.1 2z"/>
<path fill="#ff9f9f" stroke="#ff9f9f" d="M188.9 904.9l0.1-1.9-5.8 59.4-0.1 2z"/>
<path fill="#ff9b9b" stroke="#ff9b9b" d="M189 903l0.1-1.8-5.8 59.2-0.1 2z"/>
<path fill="#ff9797" stroke="#ff9797" d="M189.1 901.2l0.1-1.7-5.8 59-0.1 1.9z"/>
<path fill="#ff9494" stroke="#ff9494" d="M189.2 899.5l0.1-1.7-5.8 58.9-0.1 1.8z"/>
<path fill="#ff9090" stroke="#ff9090" d="M189.3 897.8l0.1-1.7-5.8 58.8-0.1 1.8z"/>
<path fill="#ff8d8d" stroke="#ff8d8d" d="M189.4 896.1l0-1.6-5.7 58.6-0.1 1.8z"/>
<path fill="#ff8989" stroke="#ff8989" d="M189.4 894.5l0.1-1.6-5.7 58.4-0.1 1.8z"/>
<path fill="#ff8686" stroke="#ff8686" d="M189.5 892.9l0.1-1.6-5.7 58.3-0.1 1.7z"/>
<path fill="#ff8282" stroke="#ff8282" d="M189.6 891.3l0.1-1.6-5.7 58.2-0.1 1.7z"/>
<path fill="#ff7f7f" stroke="#ff7f7f" d="M189.7 889.7l0.1-1.5-5.7 58-0.1 1.7z"/>
<path fill="#ff7c7c" stroke="#ff7c7c" d="M189.8 888.2l0.1-1.6-5.7 57.9-0.1 1.7z"/>
<path fill="#ff7878" stroke="#ff7878" d="M189.9 886.6l0.1-1.5-5.7 57.7-0.1 1.7z"/>
<path fill="#ff7575" stroke="#ff7575" d="M190 885.1l0.1-1.6-5.7 57.7-0.1 1.6z"/>
<path fill="#ff7272" stroke="#ff7272" d="M190.1 883.5l0.1-1.5-5.7 57.5-0.1 1.7z"/>
<path fill="#ff6e6e" stroke="#ff6e6e" d="M190.2 882l0.1-1.6-5.7 57.4-0.1 1.7z"/>
<path fill="#ff6b6b" stroke="#ff6b6b" d="M190.3 880.4l0.1-1.6-5.6 57.3-0.2 1.7z"/>
<path fill="#ff6868" stroke="#ff6868" d="M190.4 878.8l0.1-1.6-5.6 57.1-0.1 1.8z"/>
<path fill="#ff6666" stroke="#ff6666" d="M190.5 877.2l0 0-5.6 57.1 0 0z"/>
<path fill="#ff6464" stroke="#ff6464" d="M190.5 877.2l0.1-1.6-5.6 56.9-0.1 1.8z"/>
<path fill="#ff6161" stroke="#ff6161" d="M190.6 875.6l0.1-1.7-5.6 56.8-0.1 1.8z"/>
<path fill="#ff5d5d" stroke="#ff5d5d" d="M190.7 873.9l0.1-1.7-5.6 56.6-0.1 1.9z"/>
<path fill="#ff5959" stroke="#ff5959" d="M190.8 872.2l0.1-1.8-5.6 56.6-0.1 1.8z"/>
<path fill="#ff5656" stroke="#ff5656" d="M190.9 870.4l0.1-1.7-5.6 56.3-0.1 2z"/>
<path fill="#ff5252" stroke="#ff5252" d="M191 868.7l0.1-1.8-5.6 56.2-0.1 1.9z"/>
<path fill="#ff4e4e" stroke="#ff4e4e" d="M191.1 866.9l0.1-1.8-5.6 56-0.1 2z"/>
<path fill="#ff4a4a" stroke="#ff4a4a" d="M191.2 865.1l0.1-1.8-5.6 55.9-0.1 1.9z"/>
<path fill="#ff4646" stroke="#ff4646" d="M191.3 863.3l0.1-1.8-5.6 55.7-0.1 2z"/>
<path fill="#ff4343" stroke="#ff4343" d="M191.4 861.5l0.1-1.8-5.6 55.5-0.1 2z"/>
<path fill="#ff3f3f" stroke="#ff3f3f" d="M191.5 859.7l0.1-1.8-5.6 55.4-0.1 1.9z"/>
<path fill="#ff3b3b" stroke="#ff3b3b" d="M191.6 857.9l0.1-1.8-5.6 55.2-0.1 2z"/>
<path fill="#ff3737" stroke="#ff3737" d="M191.7 856.1l0.1-1.8-5.6 55.1-0.1 1.9z"/>
<path fill="#ff3333" stroke="#ff3333" d="M191.8 854.3l0.1-1.7-5.6 54.9-0.1 1.9z"/>
<path fill="#ff3030" stroke="#ff3030" d="M191.9 852.6l0-1.8-5.5 54.8-0.1 1.9z"/>
<path fill="#ff2c2c" stroke="#ff2c2c" d="M191.9 850.8l0.1-1.6-5.5 54.6-0.1 1.8z"/>
<path fill="#ff2929" stroke="#ff2929" d="M192 849.2l0.1-1.7-5.5 54.5-0.1 1.8z"/>
<path fill="#ff2525" stroke="#ff2525" d="M192.1 847.5l0.1-1.6-5.5 54.4-0.1 1.7z"/>
<path fill="#ff2222" stroke="#ff2222" d="M192.2 845.9l0.1-1.5-5.5 54.2-0.1 1.7z"/>
<path fill="#ff1d1d" stroke="#ff1d1d" d="M192.3 844.4l0.2-2.9-5.5 54-0.2 3.1z"/>
<path fill="#ff1010" stroke="#ff1010" d="M192.5 841.5l1.5-10-5.4 53.1-1.6 10.9z"/>
<path fill="#ff0d0d" stroke="#ff0d0d" d="M194 831.5l0.5 7.5-5.3 53.7-0.6-8.1z"/>
<path fill="#ff1717" stroke="#ff1717" d="M194.5 839l0.1 2.4-5.3 54-0.1-2.7z"/>
<path fill="#ff1d1d" stroke="#ff1d1d" d="M194.6 841.4l0.1 2.7-5.3 54.3-0.1-3z"/>
<path fill="#ff2121" stroke="#ff2121" d="M194.7 844.1l0.1 1.5-5.3 54.3-0.1-1.5z"/>
<path fill="#ff2424" stroke="#ff2424" d="M194.8 845.6l0 1.5-5.3 54.5 0-1.7z"/>
<path fill="#ff2828" stroke="#ff2828" d="M194.8 847.1l0.1 1.6-5.3 54.6-0.1-1.7z"/>
<path fill="#ff2b2b" stroke="#ff2b2b" d="M194.9 848.7l0 1.6-5.3 54.7 0-1.7z"/>
<path fill="#ff2f2f" stroke="#ff2f2f" d="M194.9 850.3l0.1 1.6-5.3 54.9-0.1-1.8z"/>
<path fill="#ff3232" stroke="#ff3232" d="M195 851.9l0.1 1.7-5.3 55.1-0.1-1.9z"/>
<path fill="#ff3636" stroke="#ff3636" d="M195.1 853.6l0 1.8-5.3 55.2 0-1.9z"/>
<path fill="#ff3939" stroke="#ff3939" d="M195.1 855.4l0.1 1.7-5.3 55.4-0.1-1.9z"/>
<path fill="#ff3d3d" stroke="#ff3d3d" d="M195.2 857.1l0 1.8-5.2 55.6-0.1-2z"/>
<path fill="#ff4141" stroke="#ff4141" d="M195.2 858.9l0.1 1.9-5.2 55.7-0.1-2z"/>
<path fill="#ff4545" stroke="#ff4545" d="M195.3 860.8l0.1 1.8-5.3 55.9 0-2z"/>
<path fill="#ff4949" stroke="#ff4949" d="M195.4 862.6l0 1.9-5.2 56-0.1-2z"/>
<path fill="#ff4d4d" stroke="#ff4d4d" d="M195.4 864.5l0.1 1.9-5.2 56.2-0.1-2.1z"/>
<path fill="#ff5151" stroke="#ff5151" d="M195.5 866.4l0.1 1.9-5.3 56.4 0-2.1z"/>
<path fill="#ff5555" stroke="#ff5555" d="M195.6 868.3l0 1.9-5.2 56.5-0.1-2z"/>
<path fill="#ff5959" stroke="#ff5959" d="M195.6 870.2l0.1 2-5.2 56.6-0.1-2.1z"/>
<path fill="#ff5d5d" stroke="#ff5d5d" d="M195.7 872.2l0.1 1.9-5.2 56.8-0.1-2.1z"/>
<path fill="#ff6161" stroke="#ff6161" d="M195.8 874.1l0 1.9-5.2 57 0-2.1z"/>
<path fill="#ff6666" stroke="#ff6666" d="M195.8 876l0.1 1.9-5.2 57.2-0.1-2.1z"/>
<path fill="#ff6a6a" stroke="#ff6a6a" d="M195.9 877.9l0 2-5.1 57.3-0.1-2.1z"/>
<path fill="#ff6e6e" stroke="#ff6e6e" d="M195.9 879.9l0.1 1.9-5.2 57.5 0-2.1z"/>
<path fill="#ff7272" stroke="#ff7272" d="M196 881.8l0.1 1.9-5.2 57.7-0.1-2.1z"/>
<path fill="#ff7676" stroke="#ff7676" d="M196.1 883.7l0 1.8-5.1 57.9-0.1-2z"/>
<path fill="#ff7a7a" stroke="#ff7a7a" d="M196.1 885.5l0.1 1.9-5.1 58-0.1-2z"/>
<path fill="#ff7e7e" stroke="#ff7e7e" d="M196.2 887.4l0.1 1.8-5.2 58.2 0-2z"/>
<path fill="#ff8282" stroke="#ff8282" d="M196.3 889.2l0 1.8-5.1 58.4-0.1-2z"/>
<path fill="#ff8585" stroke="#ff8585" d="M196.3 891l0.1 1.8-5.1 58.5-0.1-1.9z"/>
<path fill="#ff8989" stroke="#ff8989" d="M196.4 892.8l0 1.7-5.1 58.7 0-1.9z"/>
<path fill="#ff8d8d" stroke="#ff8d8d" d="M196.4 894.5l0.1 1.7-5.1 58.8-0.1-1.8z"/>
<path fill="#ff9090" stroke="#ff9090" d="M196.5 896.2l0.1 1.7-5.1 58.9-0.1-1.8z"/>
<path fill="#ff9494" stroke="#ff9494" d="M196.6 897.9l0 1.6-5.1 59.1 0-1.8z"/>
<path fill="#ff9797" stroke="#ff9797" d="M196.6 899.5l0.1 1.5-5.1 59.3-0.1-1.7z"/>
<path fill="#ff9999" stroke="#ff9999" d="M196.7 901l0 0-5.1 59.3 0 0z"/>
<path fill="#ff9b9b" stroke="#ff9b9b" d="M196.7 901l0 1.6-5 59.4-0.1-1.7z"/>
<path fill="#ff9e9e" stroke="#ff9e9e" d="M196.7 902.6l0.1 1.6-5.1 59.5 0-1.7z"/>
<path fill="#ffa2a2" stroke="#ffa2a2" d="M196.8 904.2l0 1.7-5 59.7-0.1-1.9z"/>
<path fill="#ffa5a5" stroke="#ffa5a5" d="M196.8 905.9l0.1 1.8-5 59.8-0.1-1.9z"/>
<path fill="#ffa9a9" stroke="#ffa9a9" d="M196.9 907.7l0.1 1.8-5.1 59.9 0-1.9z"/>
<path fill="#ffadad" stroke="#ffadad" d="M197 909.5l0 1.8-5 60.1-0.1-2z"/>
<path fill="#ffb1b1" stroke="#ffb1b1" d="M197 911.3l0.1 1.9-5 60.3-0.1-2.1z"/>
<path fill="#ffb5b5" stroke="#ffb5b5" d="M197.1 913.2l0.1 1.9-5.1 60.4 0-2z"/>
<path fill="#ffb9b9" stroke="#ffb9b9" d="M197.2 915.1l0 2-5 60.6-0.1-2.2z"/>
<path fill="#ffbdbd" stroke="#ffbdbd" d="M197.2 917.1l0.1 2-5 60.7-0.1-2.1z"/>
<path fill="#ffc2c2" stroke="#ffc2c2" d="M197.3 919.1l0 2-4.9 60.9-0.1-2.2z"/>
<path fill="#ffc6c6" stroke="#ffc6c6" d="M197.3 921.1l0.1 2-5 61.1 0-2.2z"/>
<path fill="#ffcaca" stroke="#ffcaca" d="M197.4 923.1l0.1 2.1-5 61.3-0.1-2.3z"/>
<path fill="#ffcfcf" stroke="#ffcfcf" d="M197.5 925.2l0 2-4.9 61.5-0.1-2.2z"/>
<path fill="#ffd3d3" stroke="#ffd3d3" d="M197.5 927.2l0.1 2.1-5 61.7 0-2.3z"/>
<path fill="#ffd8d8" stroke="#ffd8d8" d="M197.6 929.3l0.1 2.1-5 61.9-0.1-2.3z"/>
<path fill="#ffdcdc" stroke="#ffdcdc" d="M197.7 931.4l0 2.1-4.9 62-0.1-2.2z"/>
<path fill="#ffe1e1" stroke="#ffe1e1" d="M197.7 933.5l0.1 2.1-4.9 62.2-0.1-2.3z"/>
<path fill="#ffe5e5" stroke="#ffe5e5" d="M197.8 935.6l0.1 2.1-5 62.4 0-2.3z"/>
<path fill="#ffeaea" stroke="#ffeaea" d="M197.9 937.7l0 2.1-4.9 62.6-0.1-2.3z"/>
<path fill="#ffeeee" stroke="#ffeeee" d="M197.9 939.8l0.1 2.1-4.9 62.7-0.1-2.2z"/>
<path fill="#fff3f3" stroke="#fff3f3" d="M198 941.9l0.1 2-4.9 62.9-0.1-2.2z"/>
<path fill="#fff7f7" stroke="#fff7f7" d="M198.1 943.9l0 2.1-4.9 63.1 0-2.3z"/>
<path fill="#fffcfc" stroke="#fffcfc" d="M198.1 946l0.1 2-4.9 63.2-0.1-2.1z"/>
<path fill="#fefeff" stroke="#fefeff" d="M198.2 948l0.1 2-4.9 63.4-0.1-2.2z"/>
<path fill="#fafaff" stroke="#fafaff" d="M198.3 950l0 1.9-4.8 63.6-0.1-2.1z"/>
<path fill="#f6f6ff" stroke="#f6f6ff" d="M198.3 951.9l0.1 1.9-4.9 63.8 0-2.1z"/>
<path fill="#f2f2ff" stroke="#f2f2ff" d="M198.4 953.8l0.1 1.9-4.9 63.9-0.1-2z"/>
<path fill="#eeeeff" stroke="#eeeeff" d="M198.5 955.7l0 1.8-4.8 64.1-0.1-2z"/>
<path fill="#eaeaff" stroke="#eaeaff" d="M198.5 957.5l0.1 1.8-4.9 64.3 0-2z"/>
<path fill="#e6e6ff" stroke="#e6e6ff" d="M198.6 959.3l0 1.8-4.8 64.4-0.1-1.9z"/>
<path fill="#e2e2ff" stroke="#e2e2ff" d="M198.6 961.1l0.1 1.7-4.8 64.5-0.1-1.8z"/>
<path fill="#dfdfff" stroke="#dfdfff" d="M198.7 962.8l0.1 1.6-4.9 64.7 0-1.8z"/>
<path fill="#dbdbff" stroke="#dbdbff" d="M198.8 964.4l0 1.6-4.8 64.8-0.1-1.7z"/>
<path fill="#d8d8ff" stroke="#d8d8ff" d="M198.8 966l0.1 1.5-4.8 64.9-0.1-1.6z"/>
<path fill="#d3d3ff" stroke="#d3d3ff" d="M198.9 967.5l0.1 2.7-4.8 65.2-0.1-3z"/>
<path fill="#cdcdff" stroke="#cdcdff" d="M199 970.2l0.1 2.5-4.8 65.4-0.1-2.7z"/>
<path fill="#c8c8ff" stroke="#c8c8ff" d="M199.1 972.7l0.1 2.2-4.8 65.5-0.1-2.3z"/>
<path fill="#c4c4ff" stroke="#c4c4ff" d="M199.2 974.9l0.1 1.7-4.8 65.8-0.1-2z"/>
<path fill="#c0c0ff" stroke="#c0c0ff" d="M199.3 976.6l0.2 2.6-4.8 66-0.2-2.8z"/>
<path fill="#babaff" stroke="#babaff" d="M199.5 979.2l0.5 2.4-4.7 66.1-0.6-2.5z"/>
<path fill="#bcbcff" stroke="#bcbcff" d="M200 981.6l1.3-3.9-4.6 65.8-1.4 4.2z"/>
<path fill="#c2c2ff" stroke="#c2c2ff" d="M201.3 977.7l0.2-1.4-4.6 65.7-0.2 1.5z"/>
<path fill="#c5c5ff" stroke="#c5c5ff" d="M201.5 976.3l0.2-1.5-4.5 65.5-0.3 1.7z"/>
<path fill="#c8c8ff" stroke="#c8c8ff" d="M201.7 974.8l0.2-1.7-4.5 65.4-0.2 1.8z"/>
<path fill="#ccccff" stroke="#ccccff" d="M201.9 973.1l0.3-1.7-4.6 65.3-0.2 1.8z"/>
<path fill="#d0d0ff" stroke="#d0d0ff" d="M202.2 971.4l0.2-1.8-4.5 65.1-0.3 2z"/>
<path fill="#d4d4ff" stroke="#d4d4ff" d="M202.4 969.6l0.2-1.9-4.5 65-0.2 2z"/>
<path fill="#d7d7ff" stroke="#d7d7ff" d="M202.6 967.7l0.2-1.8-4.4 64.8-0.3 2z"/>
<path fill="#dbdbff" stroke="#dbdbff" d="M202.8 965.9l0.2-1.8-4.4 64.7-0.2 1.9z"/>
<path fill="#dfdfff" stroke="#dfdfff" d="M203 964.1l0.2-1.8-4.4 64.5-0.2 2z"/>
<path fill="#e3e3ff" stroke="#e3e3ff" d="M203.2 962.3l0.3-1.7-4.4 64.4-0.3 1.8z"/>
<path fill="#e7e7ff" stroke="#e7e7ff" d="M203.5 960.6l0.2-1.6-4.4 64.3-0.2 1.7z"/>
<path fill="#ebebff" stroke="#ebebff" d="M203.7 959l0.4-2.7-4.3 64-0.5 3z"/>
<path fill="#efefff" stroke="#efefff" d="M204.1 956.3l0.2-0.7-4.3 63.9-0.2 0.8z"/>
<path fill="#f1f1ff" stroke="#f1f1ff" d="M204.3 955.6l0.3-1.5-4.3 63.8-0.3 1.6z"/>
<path fill="#f5f5ff" stroke="#f5f5ff" d="M204.6 954.1l0.5-2.1-4.3 63.7-0.5 2.2z"/>
<path fill="#fafaff" stroke="#fafaff" d="M205.1 952l0.4-2.1-4.2 63.5-0.5 2.3z"/>
<path fill="#fefeff" stroke="#fefeff" d="M205.5 949.9l0.5-2-4.2 63.3-0.5 2.2z"/>
<path fill="#fffcfc" stroke="#fffcfc" d="M206 947.9l0.5-1.9-4.2 63.1-0.5 2.1z"/>
<path fill="#fff8f8" stroke="#fff8f8" d="M206.5 946l0.4-2-4.1 63-0.5 2.1z"/>
<path fill="#fff3f3" stroke="#fff3f3" d="M206.9 944l0.5-1.8-4.1 62.8-0.5 2z"/>
<path fill="#fff0f0" stroke="#fff0f0" d="M207.4 942.2l0.5-1.8-4.1 62.6-0.5 2z"/>
<path fill="#ffecec" stroke="#ffecec" d="M207.9 940.4l0.4-1.8-4 62.5-0.5 1.9z"/>
<path fill="#ffe8e8" stroke="#ffe8e8" d="M208.3 938.6l0.5-1.7-3.9 62.4-0.6 1.8z"/>
<path fill="#ffe4e4" stroke="#ffe4e4" d="M208.8 936.9l0.5-1.7-3.9 62.2-0.5 1.9z"/>
<path fill="#ffe1e1" stroke="#ffe1e1" d="M209.3 935.2l0.4-1.6-3.8 62.1-0.5 1.7z"/>
<path fill="#ffdddd" stroke="#ffdddd" d="M209.7 933.6l0.5-1.6-3.8 62-0.5 1.7z"/>
<path fill="#ffdada" stroke="#ffdada" d="M210.2 932l0.5-1.5-3.8 61.9-0.5 1.6z"/>
<path fill="#ffd5d5" stroke="#ffd5d5" d="M210.7 930.5l0.9-2.8-3.7 61.6-1 3.1z"/>
<path fill="#ffd0d0" stroke="#ffd0d0" d="M211.6 927.7l1-2.6-3.6 61.4-1.1 2.8z"/>
<path fill="#ffcccc" stroke="#ffcccc" d="M212.6 925.1l0.1-0.4-3.6 61.3-0.1 0.5z"/>
<path fill="#ffcaca" stroke="#ffcaca" d="M212.7 924.7l0.9-2.1-3.6 61.2-0.9 2.2z"/>
<path fill="#ffc5c5" stroke="#ffc5c5" d="M213.6 922.6l0.9-2.3-3.4 60.9-1.1 2.6z"/>
<path fill="#ffc0c0" stroke="#ffc0c0" d="M214.5 920.3l1-2.3-3.4 60.8-1 2.4z"/>
<path fill="#ffbbbb" stroke="#ffbbbb" d="M215.5 918l0.9-2.2-3.2 60.6-1.1 2.4z"/>
<path fill="#ffb7b7" stroke="#ffb7b7" d="M216.4 915.8l1-2.1-3.2 60.5-1 2.2z"/>
<path fill="#ffb3b3" stroke="#ffb3b3" d="M217.4 913.7l1-1.9-3.1 60.3-1.1 2.1z"/>
<path fill="#ffafaf" stroke="#ffafaf" d="M218.4 911.8l0.9-1.8-3 60.2-1 1.9z"/>
<path fill="#ffabab" stroke="#ffabab" d="M219.3 910l1-1.6-2.9 60-1.1 1.8z"/>
<path fill="#ffa6a6" stroke="#ffa6a6" d="M220.3 908.4l2-2.7-2.8 59.8-2.1 2.9z"/>
<path fill="#ffa3a3" stroke="#ffa3a3" d="M222.3 905.7l0.1-0.1-2.7 59.7-0.2 0.2z"/>
<path fill="#ffa1a1" stroke="#ffa1a1" d="M222.4 905.6l1.8-2.1-2.6 59.6-1.9 2.2z"/>
<path fill="#ff9d9d" stroke="#ff9d9d" d="M224.2 903.5l2-2.2-2.4 59.5-2.2 2.3z"/>
<path fill="#ff9898" stroke="#ff9898" d="M226.2 901.3l2-1.9-2.3 59.2-2.1 2.2z"/>
<path fill="#ff9494" stroke="#ff9494" d="M228.2 899.4l1.9-1.7-2.1 59.2-2.1 1.7z"/>
<path fill="#ff9191" stroke="#ff9191" d="M230.1 897.7l2-1.1-1.9 59-2.2 1.3z"/>
<path fill="#ff9090" stroke="#ff9090" d="M232.1 896.6l2-0.6-1.7 59-2.2 0.6z"/>
<path fill="#ff8f8f" stroke="#ff8f8f" d="M234.1 896l0.7-0.1 1.3 0.1-1.6 59-1.4-0.1-0.7 0.1z"/>
<path fill="#ff9090" stroke="#ff9090" d="M236.1 896l2 0.5-1.4 59-2.2-0.5z"/>
<path fill="#ff9191" stroke="#ff9191" d="M238.1 896.5l2 0.7-1.2 59.2-2.2-0.9z"/>
<path fill="#ff9393" stroke="#ff9393" d="M240.1 897.2l2 0.9-1 59.3-2.2-1z"/>
<path fill="#ff9494" stroke="#ff9494" d="M242.1 898.1l0.2 0.1-1 59.3-0.2-0.1z"/>
<path fill="#ff9595" stroke="#ff9595" d="M242.3 898.2l1.8 1.3-0.8 59.3-2-1.3z"/>
<path fill="#ff9999" stroke="#ff9999" d="M244.1 899.5l2 2-0.6 59.5-2.2-2.2z"/>
<path fill="#ff9e9e" stroke="#ff9e9e" d="M246.1 901.5l2.1 2.4-0.5 59.8-2.2-2.7z"/>
<path fill="#ffa0a0" stroke="#ffa0a0" d="M248.2 903.9l0.1 0.2-0.5 59.8-0.1-0.2z"/>
<path fill="#ffa3a3" stroke="#ffa3a3" d="M248.3 904.1l1.9 2.6-0.3 60-2.1-2.8z"/>
<path fill="#ffa8a8" stroke="#ffa8a8" d="M250.2 906.7l1 1.9-0.2 60.1-1.1-2z"/>
<path fill="#ffacac" stroke="#ffacac" d="M251.2 908.6l0.7 1.4-0.2 60.3-0.7-1.6z"/>
<path fill="#ffaeae" stroke="#ffaeae" d="M251.9 910l0.3 0.9-0.1 60.3-0.4-0.9z"/>
<path fill="#ffb1b1" stroke="#ffb1b1" d="M252.2 910.9l0.6 1.5-0.1 60.5-0.6-1.7z"/>
<path fill="#ffb4b4" stroke="#ffb4b4" d="M252.8 912.4l0.2 1.3 0 60.6-0.3-1.4z"/>
<path fill="#ffb6b6" stroke="#ffb6b6" d="M253 913.7l0.2 1-0.1 60.8-0.1-1.2z"/>
<path fill="#ffb9b9" stroke="#ffb9b9" d="M253.2 914.7l0.1 1.6 0 60.8-0.2-1.6z"/>
<path fill="#ffbdbd" stroke="#ffbdbd" d="M253.3 916.3l0.1 1.8 0 61-0.1-2z"/>
<path fill="#ffc1c1" stroke="#ffc1c1" d="M253.4 918.1l0.1 2.5 0 61.2-0.1-2.7z"/>
<path fill="#ffc5c5" stroke="#ffc5c5" d="M253.5 920.6l0 1.3 0 61.4 0-1.5z"/>
<path fill="#ffc9c9" stroke="#ffc9c9" d="M253.5 921.9l0.1 1.5 0 61.5-0.1-1.6z"/>
<path fill="#ffcccc" stroke="#ffcccc" d="M253.6 923.4l0 1.6 0 61.6 0-1.7z"/>
<path fill="#ffcfcf" stroke="#ffcfcf" d="M253.6 925l0.1 1.6 0 61.7-0.1-1.7z"/>
<path fill="#ffd3d3" stroke="#ffd3d3" d="M253.7 926.6l0 1.7 0 61.9 0-1.9z"/>
<path fill="#ffd7d7" stroke="#ffd7d7" d="M253.7 928.3l0.1 1.8 0 62-0.1-1.9z"/>
<path fill="#ffdada" stroke="#ffdada" d="M253.8 930.1l0 1.8 0.1 62.1-0.1-1.9z"/>
<path fill="#ffdede" stroke="#ffdede" d="M253.8 931.9l0.1 1.8 0 62.3 0-2z"/>
<path fill="#ffe2e2" stroke="#ffe2e2" d="M253.9 933.7l0 1.8 0.1 62.5-0.1-2z"/>
<path fill="#ffe6e6" stroke="#ffe6e6" d="M253.9 935.5l0.1 1.9 0 62.6 0-2z"/>
<path fill="#ffeaea" stroke="#ffeaea" d="M254 937.4l0 1.8 0.1 62.8-0.1-2z"/>
<path fill="#ffeeee" stroke="#ffeeee" d="M254 939.2l0.1 1.8 0.1 62.9-0.1-1.9z"/>
<path fill="#fff2f2" stroke="#fff2f2" d="M254.1 941l0 1.7 0.1 63.1 0-1.9z"/>
<path fill="#fff6f6" stroke="#fff6f6" d="M254.1 942.7l0.1 1.8 0.1 63.2-0.1-1.9z"/>
<path fill="#fff9f9" stroke="#fff9f9" d="M254.2 944.5l0.1 1.6 0 63.4 0-1.8z"/>
<path fill="#fffdfd" stroke="#fffdfd" d="M254.3 946.1l0 1.6 0.1 63.5-0.1-1.7z"/>
<path fill="#fefeff" stroke="#fefeff" d="M254.3 947.7l0.1 1.5 0 63.6 0-1.6z"/>
<path fill="#fcfcff" stroke="#fcfcff" d="M254.4 949.2l0 0 0 63.6 0 0z"/>
<path fill="#fbfbff" stroke="#fbfbff" d="M254.4 949.2l0 1.4 0.1 63.8-0.1-1.6z"/>
<path fill="#f8f8ff" stroke="#f8f8ff" d="M254.4 950.6l0 1.5 0.1 63.8 0-1.5z"/>
<path fill="#f5f5ff" stroke="#f5f5ff" d="M254.4 952.1l0.1 1.4 0.1 64-0.1-1.6z"/>
<path fill="#f2f2ff" stroke="#f2f2ff" d="M254.5 953.5l0 1.5 0.1 64.1 0-1.6z"/>
<path fill="#eeeeff" stroke="#eeeeff" d="M254.5 955l0.1 1.4 0.1 64.3-0.1-1.6z"/>
<path fill="#ebebff" stroke="#ebebff" d="M254.6 956.4l0 1.5 0.2 64.3-0.1-1.5z"/>
<path fill="#e8e8ff" stroke="#e8e8ff" d="M254.6 957.9l0.1 1.4 0.1 64.5 0-1.6z"/>
<path fill="#e5e5ff" stroke="#e5e5ff" d="M254.7 959.3l0 1.5 0.2 64.6-0.1-1.6z"/>
<path fill="#e2e2ff" stroke="#e2e2ff" d="M254.7 960.8l0.1 1.4 0.1 64.8 0-1.6z"/>
<path fill="#dfdfff" stroke="#dfdfff" d="M254.8 962.2l0 1.5 0.2 64.9-0.1-1.6z"/>
<path fill="#dbdbff" stroke="#dbdbff" d="M254.8 963.7l0.1 1.5 0.1 64.9 0-1.5z"/>
<path fill="#d8d8ff" stroke="#d8d8ff" d="M254.9 965.2l0 1.4 0.2 65.1-0.1-1.6z"/>
<path fill="#d5d5ff" stroke="#d5d5ff" d="M254.9 966.6l0.1 1.5 0.1 65.2 0-1.6z"/>
<path fill="#d2d2ff" stroke="#d2d2ff" d="M255 968.1l0 1.4 0.2 65.4-0.1-1.6z"/>
<path fill="#cfcfff" stroke="#cfcfff" d="M255 969.5l0.1 1.5 0.1 65.5 0-1.6z"/>
<path fill="#ccccff" stroke="#ccccff" d="M255.1 971l0 1.5 0.2 65.6-0.1-1.6z"/>
<path fill="#c9c9ff" stroke="#c9c9ff" d="M255.1 972.5l0.1 1.4 0.1 65.7 0-1.5z"/>
<path fill="#c5c5ff" stroke="#c5c5ff" d="M255.2 973.9l0 1.5 0.2 65.8-0.1-1.6z"/>
<path fill="#c2c2ff" stroke="#c2c2ff" d="M255.2 975.4l0.1 1.5 0.2 65.9-0.1-1.6z"/>
<path fill="#bfbfff" stroke="#bfbfff" d="M255.3 976.9l0 1.4 0.2 66.1 0-1.6z"/>
<path fill="#bcbcff" stroke="#bcbcff" d="M255.3 978.3l0.1 1.5 0.2 66.2-0.1-1.6z"/>
<path fill="#b9b9ff" stroke="#b9b9ff" d="M255.4 979.8l0 1.4 0.2 66.4 0-1.6z"/>
<path fill="#b6b6ff" stroke="#b6b6ff" d="M255.4 981.2l0.1 1.5 0.2 66.5-0.1-1.6z"/>
<path fill="#b2b2ff" stroke="#b2b2ff" d="M255.5 982.7l0 1.5 0.2 66.5 0-1.5z"/>
<path fill="#afafff" stroke="#afafff" d="M255.5 984.2l0.1 1.4 0.2 66.7-0.1-1.6z"/>
<path fill="#acacff" stroke="#acacff" d="M255.6 985.6l0 1.5 0.2 66.8 0-1.6z"/>
<path fill="#a9a9ff" stroke="#a9a9ff" d="M255.6 987.1l0.1 1.4 0.2 67-0.1-1.6z"/>
<path fill="#a6a6ff" stroke="#a6a6ff" d="M255.7 988.5l0 1.5 0.2 67.1 0-1.6z"/>
<path fill="#a3a3ff" stroke="#a3a3ff" d="M255.7 990l0.1 1.5 0.2 67.1-0.1-1.5z"/>
<path fill="#9f9fff" stroke="#9f9fff" d="M255.8 991.5l0 1.4 0.2 67.3 0-1.6z"/>
<path fill="#9c9cff" stroke="#9c9cff" d="M255.8 992.9l0.1 1.5 0.2 67.4-0.1-1.6z"/>
<path fill="#9999ff" stroke="#9999ff" d="M255.9 994.4l0 1.4 0.3 67.6-0.1-1.6z"/>
<path fill="#9797ff" stroke="#9797ff" d="M255.9 995.8l0 0 0.3 67.6 0 0z"/>
<path fill="#9696ff" stroke="#9696ff" d="M255.9 995.8l0.1 1.5 0.2 67.7 0-1.6z"/>
<path fill="#9393ff" stroke="#9393ff" d="M256 997.3l0 1.5 0.3 67.8-0.1-1.6z"/>
<path fill="#8f8fff" stroke="#8f8fff" d="M256 998.8l0.1 1.5 0.2 67.9 0-1.6z"/>
<path fill="#8c8cff" stroke="#8c8cff" d="M256.1 1000.3l0 1.5 0.3 68.1-0.1-1.7z"/>
<path fill="#8989ff" stroke="#8989ff" d="M256.1 1001.8l0.1 1.6 0.2 68.1 0-1.6z"/>
<path fill="#8585ff" stroke="#8585ff" d="M256.2 1003.4l0 1.5 0.3 68.3-0.1-1.7z"/>
<path fill="#8282ff" stroke="#8282ff" d="M256.2 1004.9l0.1 1.6 0.2 68.4 0-1.7z"/>
<path fill="#7f7fff" stroke="#7f7fff" d="M256.3 1006.5l0 1.6 0.3 68.5-0.1-1.7z"/>
<path fill="#7b7bff" stroke="#7b7bff" d="M256.3 1008.1l0.1 1.6 0.2 68.7 0-1.8z"/>
<path fill="#7878ff" stroke="#7878ff" d="M256.4 1009.7l0 1.6 0.3 68.8-0.1-1.7z"/>
<path fill="#7474ff" stroke="#7474ff" d="M256.4 1011.3l0.1 1.6 0.3 68.9-0.1-1.7z"/>
<path fill="#7171ff" stroke="#7171ff" d="M256.5 1012.9l0 1.6 0.3 69.1 0-1.8z"/>
<path fill="#6d6dff" stroke="#6d6dff" d="M256.5 1014.5l0.1 1.6 0.3 69.2-0.1-1.7z"/>
<path fill="#6a6aff" stroke="#6a6aff" d="M256.6 1016.1l0 1.6 0.3 69.3 0-1.7z"/>
<path fill="#6666ff" stroke="#6666ff" d="M256.6 1017.7l0.1 1.5 0.3 69.5-0.1-1.7z"/>
<path fill="#6363ff" stroke="#6363ff" d="M256.7 1019.2l0 1.6 0.3 69.7 0-1.8z"/>
<path fill="#5f5fff" stroke="#5f5fff" d="M256.7 1020.8l0.1 1.6 0.3 69.8-0.1-1.7z"/>
<path fill="#5c5cff" stroke="#5c5cff" d="M256.8 1022.4l0 1.6 0.3 69.9 0-1.7z"/>
<path fill="#5858ff" stroke="#5858ff" d="M256.8 1024l0.1 1.5 0.3 70-0.1-1.6z"/>
<path fill="#5555ff" stroke="#5555ff" d="M256.9 1025.5l0 1.5 0.3 70.2 0-1.7z"/>
<path fill="#5252ff" stroke="#5252ff" d="M256.9 1027l0.1 1.6 0.3 70.2-0.1-1.6z"/>
<path fill="#4e4eff" stroke="#4e4eff" d="M257 1028.6l0 1.5 0.4 70.3-0.1-1.6z"/>
<path fill="#4b4bff" stroke="#4b4bff" d="M257 1030.1l0 1.4 0.4 70.5 0-1.6z"/>
<path fill="#4848ff" stroke="#4848ff" d="M257 1031.5l0.1 1.5 0.4 70.6-0.1-1.6z"/>
<path fill="#4545ff" stroke="#4545ff" d="M257.1 1033l0 1.4 0.4 70.7 0-1.5z"/>
<path fill="#4040ff" stroke="#4040ff" d="M257.1 1034.4l0.1 2.7 0.4 71-0.1-3z"/>
<path fill="#3b3bff" stroke="#3b3bff" d="M257.2 1037.1l0.1 2.6 0.4 71.2-0.1-2.8z"/>
<path fill="#3535ff" stroke="#3535ff" d="M257.3 1039.7l0.1 2.5 0.4 71.4-0.1-2.7z"/>
<path fill="#3030ff" stroke="#3030ff" d="M257.4 1042.2l0.1 2.2 0.4 71.6-0.1-2.4z"/>
<path fill="#2b2bff" stroke="#2b2bff" d="M257.5 1044.4l0.1 2.1 0.4 71.8-0.1-2.3z"/>
<path fill="#2929ff" stroke="#2929ff" d="M257.6 1046.5l0 0.2 0.4 71.8 0-0.2z"/>
<path fill="#2626ff" stroke="#2626ff" d="M257.6 1046.7l0.1 1.8 0.4 71.9-0.1-1.9z"/>
<path fill="#2222ff" stroke="#2222ff" d="M257.7 1048.5l0.1 2 0.4 72.1-0.1-2.2z"/>
<path fill="#1e1eff" stroke="#1e1eff" d="M257.8 1050.5l0.1 2 0.4 72.2-0.1-2.1z"/>
<path fill="#1a1aff" stroke="#1a1aff" d="M257.9 1052.5l0 1.9 0.5 72.4-0.1-2.1z"/>
<path fill="#1616ff" stroke="#1616ff" d="M257.9 1054.4l0.1 1.8 0.5 72.5-0.1-1.9z"/>
<path fill="#1212ff" stroke="#1212ff" d="M258 1056.2l0.1 1.7 0.5 72.6-0.1-1.8z"/>
<path fill="#0e0eff" stroke="#0e0eff" d="M258.1 1057.9l0.1 1.5 0.5 72.8-0.1-1.7z"/>
<path fill="#0a0aff" stroke="#0a0aff" d="M258.2 1059.4l0.1 2.3 0.5 73-0.1-2.5z"/>
<path fill="#0606ff" stroke="#0606ff" d="M258.3 1061.7l0.1 1.1 0.5 73.1-0.1-1.2z"/>
<path fill="#0404ff" stroke="#0404ff" d="M258.4 1062.8l0.2 1.1 0.5 73.2-0.2-1.2z"/>
<path fill="#0101ff" stroke="#0101ff" d="M258.6 1063.9l0.4 1.2 0.5 73.3-0.4-1.3z"/>
<path fill="#0000ff" stroke="#0000ff" d="M259 1065.1l1.6 0 2 0 1.5 0 0.4 0 2-0.1 2 0 1.9 0 2 0 2 0 1.9-0.1 2 0 2 0 2.3 73.3-2.1 0-2.2 0-2.1 0-2.1 0.1-2.2 0-2.1 0-2.1 0-2.2 0-0.4 0.1-1.7 0-2.1 0-1.8 0z"/>
<path fill="#0000ff" stroke="#0000ff" d="M280.3 1064.9l1.9 0 2 0 2-0.1 1.9 0 2 0 2 0 1.9 0 2-0.1 2 0 1.9 0 2 0 2-0.1 1.9 0 2 0 2 0 1.9 0 2-0.1 2 0 1.9 0 2 0 2 0 1.9-0.1 2 0 2 0 1.9 0 2 0 1.9-0.1 2 0 2 0 1.9 0 2 0 2-0.1 1.9 0 2 0 2 0 1.9-0.1 2 0 2 0 1.9 0 2 0 2-0.1 1.9 0 2 0 2 0 1.9 0 2-0.1 2 0 1.9 0 2 0 1.9 0 2-0.1 2 0 1.9 0 2 0 2 0 1.9-0.1 2 0 2 0 1.9 0 2 0 2-0.1 1.9 0 2 0 1.9 0 2-0.1 2 0 1.9 0 2 0 2 0 1.9-0.1 2 0 2 0 1.9 0 2 0 1.9-0.1 2 0 2 0 1.9 0 2 0 2-0.1 1.9 0 2 0 2 0 1.9 0 2-0.1 1.9 0 2 0 2 0 1.9-0.1 2 0 2 0 1.9 0 2 0 1.9-0.1 2 0 2 0 1.9 0 2 0 2-0.1 1.9 0 2 0 1.9 0 2 0 2-0.1 1.9 0 2 0 2 0 1.9 0 2-0.1 1.9 0 2 0 2 0 1.9-0.1 2 0 1.9 0 2 0 2 0 1.9-0.1 2 0 2 0 1.9 0 2 0 1.9-0.1 2 0 2 0 1.9 0 2 0 1.9-0.1 2 0 2 0 1.9 0 2 0 2-0.1 1.9 0 2 0 1.9 0 2 0 2-0.1 1.9 0 2 0 1.9 0 2-0.1 2 0 1.9 0 0.6 0 24.1 73.4-0.6 0-2.1 0.1-2.1 0-2.1 0-2.1 0-2.1 0-2.1 0.1-2.1 0-2.1 0-2.1 0-2.1 0-2.1 0.1-2.1 0-2.1 0-2.1 0-2.1 0-2.1 0.1-2.1 0-2.1 0-2.1 0-2.1 0-2.1 0.1-2.1 0-2.1 0-2.1 0-2.1 0-2.1 0.1-2.1 0-2.1 0-2.1 0-2.1 0-2.1 0.1-2.1 0-2.1 0-2.1 0-2.1 0-2.1 0.1-2.1 0-2.2 0-2.1 0-2.1 0-2.1 0.1-2.1 0-2.1 0-2.1 0-2.1 0-2.1 0-2.1 0.1-2.1 0-2.1 0-2.1 0-2.1 0-2.2 0.1-2.1 0-2.1 0-2.1 0-2.1 0-2.1 0.1-2.1 0-2.1 0-2.1 0-2.1 0-2.2 0.1-2.1 0-2.1 0-2.1 0-2.1 0-2.1 0.1-2.1 0-2.1 0-2.2 0-2.1 0-2.1 0.1-2.1 0-2.1 0-2.1 0-2.1 0-2.2 0.1-2.1 0-2.1 0-2.1 0-2.1 0-2.1 0.1-2.2 0-2.1 0-2.1 0-2.1 0-2.1 0.1-2.2 0-2.1 0-2.1 0-2.1 0-2.1 0.1-2.1 0-2.2 0-2.1 0-2.1 0-2.1 0.1-2.1 0-2.2 0-2.1 0-2.1 0-2.1 0.1-2.2 0-2.1 0-2.1 0-2.1 0-2.1 0.1-2.2 0-2.1 0-2.1 0-2.1 0-2.2 0.1-2.1 0-2.1 0-2.1 0-2.2 0-2.1 0.1-2.1 0-2.1 0-2.2 0-2.1 0-2.1 0.1-2.2 0-2.1 0-2.1 0-2.1 0-2.2 0.1-2.1 0-2.1 0-2.2 0-2.1 0-2.1 0.1-2.1 0-2.2 0-2.1 0-2.1 0-2.2 0.1-2.1 0-2.1 0-2.2 0-2.1 0-2.1 0.1-2.2 0-2.1 0z"/></g>
<g stroke="#000" stroke-width="1.6" stroke-dasharray="4,4" fill="none">
<line x1="640.1" y1="883.4" x2="1138.9" y2="879.2"/>
<line x1="641.8" y1="945.4" x2="1138.1" y2="940.8"/>
<line x1="643.5" y1="1006.6" x2="1137.3" y2="1001.6"/>
<line x1="645.1" y1="1067.1" x2="1136.6" y2="1061.7"/>
<line x1="721.8" y1="829.5" x2="725.9" y2="1066.2"/>
<line x1="804.2" y1="828.8" x2="806.4" y2="1065.3"/>
<line x1="886.6" y1="828.0" x2="887.9" y2="1064.4"/>
<line x1="968.9" y1="827.3" x2="968.3" y2="1063.5"/>
<line x1="1050.7" y1="826.5" x2="1049.9" y2="1062.7"/>
<line x1="1132.2" y1="825.8" x2="1129.9" y2="1061.8"/>
</g>
<polyline points="644.2,1071.3 645.1,1067.1 638.7,830.3 1139.6,825.7 1136.5,1066.6" fill="none" stroke="#000" stroke-width="1.6"/>
<polygon points="644.2,1071.3 680.5,1071.0 666.2,1145.7 627.8,1146.1" fill="#4b3fd0" stroke="#4b3fd0" stroke-width="0.5"/>
<polygon points="680.5,1071.0 712.3,1070.6 700.7,1145.3 666.2,1145.7" fill="#dbd9d7" stroke="#dbd9d7" stroke-width="0.5"/>
<polygon points="712.3,1070.6 753.9,1070.3 745.8,1144.8 700.7,1145.3" fill="#c7b6ad" stroke="#c7b6ad" stroke-width="0.5"/>
<polygon points="753.9,1070.3 763.5,1070.2 756.2,1144.7 745.8,1144.8" fill="#747076" stroke="#747076" stroke-width="0.5"/>
<polygon points="763.5,1070.2 824.4,1069.6 822.3,1144.0 756.2,1144.7" fill="#484a66" stroke="#484a66" stroke-width="0.5"/>
<polygon points="824.4,1069.6 999.0,1067.9 1010.5,1142.0 822.3,1144.0" fill="#7a16a0" stroke="#7a16a0" stroke-width="0.5"/>
<polygon points="999.0,1067.9 1076.5,1067.2 1095.5,1141.1 1010.5,1142.0" fill="#c6b5ad" stroke="#c6b5ad" stroke-width="0.5"/>
<polygon points="1076.5,1067.2 1136.5,1066.6 1160.9,1140.4 1095.5,1141.1" fill="#0000ff" stroke="#0000ff" stroke-width="0.5"/>
<polygon points="644.2,1071.3 1136.5,1066.6 1160.9,1140.4 627.8,1146.1" fill="none" stroke="#000" stroke-width="1.3"/>
<line x1="627.8" y1="1146.1" x2="1160.9" y2="1140.4" stroke="#000" stroke-width="2.2"/>
<g stroke-width="1" stroke-linejoin="round"><path fill="#0000ff" stroke="#0000ff" d="M645.1 1067.1l2 0 1.9 0 2-0.1 2 0 2 0 1.9 0 2 0 2-0.1 1.9 0 2 0 2 0 2-0.1 0.9 0 0.7 0 0.3 0 2-0.3-13.8 73.2-2.1 0.3-0.4 0.1-0.7 0-1.1 0-2.1 0-2.2 0-2.2 0-2.1 0-2.2 0.1-2.1 0-2.2 0-2.2 0-2.1 0-2.2 0.1-2.1 0-2.2 0z"/>
<path fill="#0101ff" stroke="#0101ff" d="M672.7 1066.5l1.9-0.7-13.5 73.2-2.2 0.7z"/>
<path fill="#0303ff" stroke="#0303ff" d="M674.6 1065.8l2-0.8-13.4 73.1-2.1 0.9z"/>
<path fill="#0404ff" stroke="#0404ff" d="M676.6 1065l1-0.3-13.3 73-1.1 0.4z"/>
<path fill="#0505ff" stroke="#0505ff" d="M677.6 1064.7l1-0.3-13.3 73-1 0.3z"/>
<path fill="#0606ff" stroke="#0606ff" d="M678.6 1064.4l1.9-0.7-13 72.9-2.2 0.8z"/>
<path fill="#0707ff" stroke="#0707ff" d="M680.5 1063.7l2-0.7-12.9 72.9-2.1 0.7z"/>
<path fill="#0909ff" stroke="#0909ff" d="M682.5 1063l1.9-0.8-12.7 72.8-2.1 0.9z"/>
<path fill="#0b0bff" stroke="#0b0bff" d="M684.4 1062.2l2-1-12.5 72.8-2.2 1z"/>
<path fill="#0d0dff" stroke="#0d0dff" d="M686.4 1061.2l1.1-0.6-12.4 72.7-1.2 0.7z"/>
<path fill="#0e0eff" stroke="#0e0eff" d="M687.5 1060.6l0.8-0.6-12.3 72.7-0.9 0.6z"/>
<path fill="#1010ff" stroke="#1010ff" d="M688.3 1060l1.9-1.7-12.1 72.5-2.1 1.9z"/>
<path fill="#1414ff" stroke="#1414ff" d="M690.2 1058.3l2-2.1-12 72.4-2.1 2.2z"/>
<path fill="#1919ff" stroke="#1919ff" d="M692.2 1056.2l1.4-1.7-11.8 72.2-1.6 1.9z"/>
<path fill="#1b1bff" stroke="#1b1bff" d="M693.6 1054.5l0.5-0.6-11.8 72.2-0.5 0.6z"/>
<path fill="#1f1fff" stroke="#1f1fff" d="M694.1 1053.9l1.9-2.5-11.6 71.9-2.1 2.8z"/>
<path fill="#2323ff" stroke="#2323ff" d="M696 1051.4l1-1.5-11.6 71.8-1 1.6z"/>
<path fill="#2626ff" stroke="#2626ff" d="M697 1049.9l0.9-1.7-11.5 71.6-1 1.9z"/>
<path fill="#2a2aff" stroke="#2a2aff" d="M697.9 1048.2l0.7-1.4-11.4 71.5-0.8 1.5z"/>
<path fill="#2c2cff" stroke="#2c2cff" d="M698.6 1046.8l0.2-0.6-11.3 71.5-0.3 0.6z"/>
<path fill="#2f2fff" stroke="#2f2fff" d="M698.8 1046.2l1-2.5-11.3 71.3-1 2.7z"/>
<path fill="#3333ff" stroke="#3333ff" d="M699.8 1043.7l0.4-1.4-11.2 71.2-0.5 1.5z"/>
<path fill="#3737ff" stroke="#3737ff" d="M700.2 1042.3l0.5-1.5-11.2 71-0.5 1.7z"/>
<path fill="#3a3aff" stroke="#3a3aff" d="M700.7 1040.8l0.5-1.7-11.2 70.9-0.5 1.8z"/>
<path fill="#3e3eff" stroke="#3e3eff" d="M701.2 1039.1l0.4-1.7-11.1 70.7-0.5 1.9z"/>
<path fill="#4242ff" stroke="#4242ff" d="M701.6 1037.4l0.5-1.8-11.1 70.6-0.5 1.9z"/>
<path fill="#4545ff" stroke="#4545ff" d="M702.1 1035.6l0.2-0.9-11.1 70.5-0.2 1z"/>
<path fill="#4747ff" stroke="#4747ff" d="M702.3 1034.7l0.2-1-11 70.4-0.3 1.1z"/>
<path fill="#4b4bff" stroke="#4b4bff" d="M702.5 1033.7l0.5-2.5-11.1 70.2-0.4 2.7z"/>
<path fill="#4f4fff" stroke="#4f4fff" d="M703 1031.2l0.2-1.5-11 70.1-0.3 1.6z"/>
<path fill="#5252ff" stroke="#5252ff" d="M703.2 1029.7l0.2-1.5-11 69.9-0.2 1.7z"/>
<path fill="#5555ff" stroke="#5555ff" d="M703.4 1028.2l0.2-1.5-11 69.8-0.2 1.6z"/>
<path fill="#5959ff" stroke="#5959ff" d="M703.6 1026.7l0.2-1.5-10.9 69.6-0.3 1.7z"/>
<path fill="#5d5dff" stroke="#5d5dff" d="M703.8 1025.2l0.4-2.8-10.9 69.4-0.4 3z"/>
<path fill="#6363ff" stroke="#6363ff" d="M704.2 1022.4l0.5-2.2-10.9 69.2-0.5 2.4z"/>
<path fill="#6767ff" stroke="#6767ff" d="M704.7 1020.2l0.7-1.5 0.3 1.3-10.8 69.2-0.3-1.4-0.8 1.6z"/>
<path fill="#6464ff" stroke="#6464ff" d="M705.7 1020l0.1 1.4-10.7 69.4-0.2-1.6z"/>
<path fill="#6060ff" stroke="#6060ff" d="M705.8 1021.4l0.2 2-10.8 69.5-0.1-2.1z"/>
<path fill="#5c5cff" stroke="#5c5cff" d="M706 1023.4l0.2 2.2-10.8 69.8-0.2-2.5z"/>
<path fill="#5757ff" stroke="#5757ff" d="M706.2 1025.6l0.1 2.5-10.7 70-0.2-2.7z"/>
<path fill="#5151ff" stroke="#5151ff" d="M706.3 1028.1l0.2 2.7-10.7 70.1-0.2-2.8z"/>
<path fill="#4b4bff" stroke="#4b4bff" d="M706.5 1030.8l0.2 2.6-10.7 70.4-0.2-2.9z"/>
<path fill="#4545ff" stroke="#4545ff" d="M706.7 1033.4l0.2 2.6-10.7 70.7-0.2-2.9z"/>
<path fill="#4040ff" stroke="#4040ff" d="M706.9 1036l0.2 2.5-10.7 70.8-0.2-2.6z"/>
<path fill="#3b3bff" stroke="#3b3bff" d="M707.1 1038.5l0.1 2.2-10.6 71-0.2-2.4z"/>
<path fill="#3636ff" stroke="#3636ff" d="M707.2 1040.7l0.2 1.8-10.6 71.2-0.2-2z"/>
<path fill="#3434ff" stroke="#3434ff" d="M707.4 1042.5l0 0.1-10.6 71.2 0-0.1z"/>
<path fill="#3333ff" stroke="#3333ff" d="M707.4 1042.6l0.2 1.5-10.6 71.4-0.2-1.7z"/>
<path fill="#2f2fff" stroke="#2f2fff" d="M707.6 1044.1l0.1 1.7-10.5 71.4-0.2-1.7z"/>
<path fill="#2c2cff" stroke="#2c2cff" d="M707.7 1045.8l0.2 1.6-10.6 71.6-0.1-1.8z"/>
<path fill="#2828ff" stroke="#2828ff" d="M707.9 1047.4l0.1 1.6-10.5 71.7-0.2-1.7z"/>
<path fill="#2525ff" stroke="#2525ff" d="M708 1049l0.2 1.6-10.5 71.8-0.2-1.7z"/>
<path fill="#2121ff" stroke="#2121ff" d="M708.2 1050.6l0.1 1.5-10.4 72-0.2-1.7z"/>
<path fill="#1e1eff" stroke="#1e1eff" d="M708.3 1052.1l0.2 1.4-10.5 72.1-0.1-1.5z"/>
<path fill="#1919ff" stroke="#1919ff" d="M708.5 1053.5l0.3 2.6-10.4 72.4-0.4-2.9z"/>
<path fill="#1414ff" stroke="#1414ff" d="M708.8 1056.1l0.3 2.2-10.4 72.5-0.3-2.3z"/>
<path fill="#1010ff" stroke="#1010ff" d="M709.1 1058.3l0.3 1.5-10.4 72.6-0.3-1.6z"/>
<path fill="#0d0dff" stroke="#0d0dff" d="M709.4 1059.8l0.3 1.2-10.4 72.8-0.3-1.4z"/>
<path fill="#0a0aff" stroke="#0a0aff" d="M709.7 1061l0.5 1.9-10.3 73-0.6-2.1z"/>
<path fill="#0606ff" stroke="#0606ff" d="M710.2 1062.9l0.6 1.6-10.2 73.1-0.7-1.7z"/>
<path fill="#0303ff" stroke="#0303ff" d="M710.8 1064.5l0.4 0.7-10.2 73.1-0.4-0.7z"/>
<path fill="#0101ff" stroke="#0101ff" d="M711.2 1065.2l1.2 1.2-10.1 73.2-1.3-1.3z"/>
<path fill="#0000ff" stroke="#0000ff" d="M712.4 1066.4l0.8 0 2 0 2-0.1 1.9 0 2 0 2 0 1.9 0 2-0.1 2 0 1.9 0 2 0 2 0 2-0.1 1.9 0 2 0 2 0 1.9-0.1 2 0 2 0 1.9 0 2 0 2-0.1 2 0 1.9 0 2 0 0.1 0-5.7 73.2-0.1 0-2.2 0.1-2.1 0-2.2 0-2.1 0-2.2 0-2.1 0.1-2.1 0-2.2 0-2.1 0-2.2 0-2.1 0.1-2.2 0-2.1 0-2.2 0-2.1 0-2.2 0.1-2.1 0-2.2 0-2.1 0-2.2 0-2.1 0.1-2.2 0-2.1 0-2.2 0-0.9 0z"/>
<path fill="#0202ff" stroke="#0202ff" d="M760.6 1065.9l0.1-1.6-5.7 73.1-0.1 1.7z"/>
<path fill="#0505ff" stroke="#0505ff" d="M760.7 1064.3l0-1.8-5.7 72.9 0 2z"/>
<path fill="#0a0aff" stroke="#0a0aff" d="M760.7 1062.5l0.1-2.4-5.7 72.7-0.1 2.6z"/>
<path fill="#0e0eff" stroke="#0e0eff" d="M760.8 1060.1l0-1.4-5.7 72.6 0 1.5z"/>
<path fill="#1111ff" stroke="#1111ff" d="M760.8 1058.7l0-1.5-5.7 72.5 0 1.6z"/>
<path fill="#1515ff" stroke="#1515ff" d="M760.8 1057.2l0-1.6-5.7 72.4 0 1.7z"/>
<path fill="#1818ff" stroke="#1818ff" d="M760.8 1055.6l0-1.7-5.7 72.2 0 1.9z"/>
<path fill="#1c1cff" stroke="#1c1cff" d="M760.8 1053.9l0-1.8-5.7 72.1 0 1.9z"/>
<path fill="#2020ff" stroke="#2020ff" d="M760.8 1052.1l0-1.8-5.7 71.9 0 2z"/>
<path fill="#2424ff" stroke="#2424ff" d="M760.8 1050.3l0-1.9-5.7 71.8 0 2z"/>
<path fill="#2828ff" stroke="#2828ff" d="M760.8 1048.4l0-1.9-5.7 71.6 0 2.1z"/>
<path fill="#2d2dff" stroke="#2d2dff" d="M760.8 1046.5l0-2-5.8 71.5 0.1 2.1z"/>
<path fill="#3131ff" stroke="#3131ff" d="M760.8 1044.5l0-1.9-5.8 71.3 0 2.1z"/>
<path fill="#3535ff" stroke="#3535ff" d="M760.8 1042.6l0-2-5.8 71.1 0 2.2z"/>
<path fill="#3a3aff" stroke="#3a3aff" d="M760.8 1040.6l-0.1-2-5.7 71 0 2.1z"/>
<path fill="#3e3eff" stroke="#3e3eff" d="M760.7 1038.6l0-2-5.7 70.8 0 2.2z"/>
<path fill="#4242ff" stroke="#4242ff" d="M760.7 1036.6l0-1.9-5.7 70.6 0 2.1z"/>
<path fill="#4646ff" stroke="#4646ff" d="M760.7 1034.7l0-1.9-5.7 70.5 0 2z"/>
<path fill="#4a4aff" stroke="#4a4aff" d="M760.7 1032.8l0-1.9-5.7 70.4 0 2z"/>
<path fill="#4d4dff" stroke="#4d4dff" d="M760.7 1030.9l0 0-5.7 70.4 0 0z"/>
<path fill="#4f4fff" stroke="#4f4fff" d="M760.7 1030.9l0-1.9-5.7 70.2 0 2.1z"/>
<path fill="#5353ff" stroke="#5353ff" d="M760.7 1029l0-2-5.7 70 0 2.2z"/>
<path fill="#5858ff" stroke="#5858ff" d="M760.7 1027l0-2.2-5.7 69.8 0 2.4z"/>
<path fill="#5c5cff" stroke="#5c5cff" d="M760.7 1024.8l0-2.3-5.7 69.6 0 2.5z"/>
<path fill="#6262ff" stroke="#6262ff" d="M760.7 1022.5l0-2.5-5.8 69.4 0.1 2.7z"/>
<path fill="#6767ff" stroke="#6767ff" d="M760.7 1020l0-2.5-5.8 69.2 0 2.7z"/>
<path fill="#6d6dff" stroke="#6d6dff" d="M760.7 1017.5l0-2.6-5.8 69 0 2.8z"/>
<path fill="#7272ff" stroke="#7272ff" d="M760.7 1014.9l0-2.7-5.8 68.8 0 2.9z"/>
<path fill="#7878ff" stroke="#7878ff" d="M760.7 1012.2l-0.1-2.7-5.7 68.5 0 3z"/>
<path fill="#7e7eff" stroke="#7e7eff" d="M760.6 1009.5l0-2.7-5.8 68.2 0.1 3z"/>
<path fill="#8484ff" stroke="#8484ff" d="M760.6 1006.8l0-2.8-5.8 68 0 3z"/>
<path fill="#8a8aff" stroke="#8a8aff" d="M760.6 1004l0-2.8-5.8 67.8 0 3z"/>
<path fill="#9090ff" stroke="#9090ff" d="M760.6 1001.2l0-2.8-5.8 67.6 0 3z"/>
<path fill="#9696ff" stroke="#9696ff" d="M760.6 998.4l-0.1-2.8-5.7 67.4 0 3z"/>
<path fill="#9c9cff" stroke="#9c9cff" d="M760.5 995.6l0-2.7-5.8 67.1 0.1 3z"/>
<path fill="#a2a2ff" stroke="#a2a2ff" d="M760.5 992.9l0-2.7-5.8 66.9 0 2.9z"/>
<path fill="#a8a8ff" stroke="#a8a8ff" d="M760.5 990.2l0-2.6-5.8 66.6 0 2.9z"/>
<path fill="#aeaeff" stroke="#aeaeff" d="M760.5 987.6l0-2.5-5.8 66.4 0 2.7z"/>
<path fill="#b3b3ff" stroke="#b3b3ff" d="M760.5 985.1l0-2.5-5.8 66.2 0 2.7z"/>
<path fill="#b8b8ff" stroke="#b8b8ff" d="M760.5 982.6l0-2.3-5.9 66 0.1 2.5z"/>
<path fill="#bdbdff" stroke="#bdbdff" d="M760.5 980.3l0-2.2-5.9 65.8 0 2.4z"/>
<path fill="#c2c2ff" stroke="#c2c2ff" d="M760.5 978.1l-0.1-2.1-5.8 65.6 0 2.3z"/>
<path fill="#c6c6ff" stroke="#c6c6ff" d="M760.4 976l0-2-5.8 65.5 0 2.1z"/>
<path fill="#cacaff" stroke="#cacaff" d="M760.4 974l0-1.7-5.8 65.3 0 1.9z"/>
<path fill="#ccccff" stroke="#ccccff" d="M760.4 972.3l0 0-5.8 65.3 0 0z"/>
<path fill="#ceceff" stroke="#ceceff" d="M760.4 972.3l0-1.7-5.8 65.2 0 1.8z"/>
<path fill="#d1d1ff" stroke="#d1d1ff" d="M760.4 970.6l0-1.6-5.8 65 0 1.8z"/>
<path fill="#d5d5ff" stroke="#d5d5ff" d="M760.4 969l0.1-1.6-5.9 64.9 0 1.7z"/>
<path fill="#d8d8ff" stroke="#d8d8ff" d="M760.5 967.4l0-1.6-5.9 64.7 0 1.8z"/>
<path fill="#dcdcff" stroke="#dcdcff" d="M760.5 965.8l0-1.6-5.9 64.6 0 1.7z"/>
<path fill="#dfdfff" stroke="#dfdfff" d="M760.5 964.2l0-1.5-5.9 64.5 0 1.6z"/>
<path fill="#e2e2ff" stroke="#e2e2ff" d="M760.5 962.7l0-1.5-5.9 64.4 0 1.6z"/>
<path fill="#e5e5ff" stroke="#e5e5ff" d="M760.5 961.2l0-1.4-5.9 64.2 0 1.6z"/>
<path fill="#eaeaff" stroke="#eaeaff" d="M760.5 959.8l0-2.9-5.9 64 0 3.1z"/>
<path fill="#f0f0ff" stroke="#f0f0ff" d="M760.5 956.9l0-2.6-5.8 63.7-0.1 2.9z"/>
<path fill="#f6f6ff" stroke="#f6f6ff" d="M760.5 954.3l0-2.6-5.8 63.6 0 2.7z"/>
<path fill="#fbfbff" stroke="#fbfbff" d="M760.5 951.7l0-2.3-5.8 63.3 0 2.6z"/>
<path fill="#fffefe" stroke="#fffefe" d="M760.5 949.4l0.1-2.2-5.9 63.1 0 2.4z"/>
<path fill="#fffafa" stroke="#fffafa" d="M760.6 947.2l0-2.1-5.9 63 0 2.2z"/>
<path fill="#fff5f5" stroke="#fff5f5" d="M760.6 945.1l0-1.9-5.8 62.9-0.1 2z"/>
<path fill="#fff2f2" stroke="#fff2f2" d="M760.6 943.2l0.1-1.7-5.9 62.7 0 1.9z"/>
<path fill="#fff0f0" stroke="#fff0f0" d="M760.7 941.5l0 0-5.9 62.7 0 0z"/>
<path fill="#ffeeee" stroke="#ffeeee" d="M760.7 941.5l0-1.5-5.9 62.5 0 1.7z"/>
<path fill="#ffebeb" stroke="#ffebeb" d="M760.7 940l0-1.6-5.8 62.4-0.1 1.7z"/>
<path fill="#ffe7e7" stroke="#ffe7e7" d="M760.7 938.4l0.1-1.5-5.9 62.3 0 1.6z"/>
<path fill="#ffe4e4" stroke="#ffe4e4" d="M760.8 936.9l0-1.5-5.9 62.1 0 1.7z"/>
<path fill="#ffe1e1" stroke="#ffe1e1" d="M760.8 935.4l0-1.5-5.8 62-0.1 1.6z"/>
<path fill="#ffdede" stroke="#ffdede" d="M760.8 933.9l0.1-1.4-5.9 61.9 0 1.5z"/>
<path fill="#ffd9d9" stroke="#ffd9d9" d="M760.9 932.5l0-2.8-5.8 61.6-0.1 3.1z"/>
<path fill="#ffd3d3" stroke="#ffd3d3" d="M760.9 929.7l0.1-2.7-5.8 61.4-0.1 2.9z"/>
<path fill="#ffcece" stroke="#ffcece" d="M761 927l0.1-2.6-5.8 61.2-0.1 2.8z"/>
<path fill="#ffc8c8" stroke="#ffc8c8" d="M761.1 924.4l0.1-2.5-5.8 61-0.1 2.7z"/>
<path fill="#ffc3c3" stroke="#ffc3c3" d="M761.2 921.9l0.1-2.4-5.9 60.8 0 2.6z"/>
<path fill="#ffbebe" stroke="#ffbebe" d="M761.3 919.5l0-2.3-5.8 60.6-0.1 2.5z"/>
<path fill="#ffb9b9" stroke="#ffb9b9" d="M761.3 917.2l0.1-2.2-5.8 60.3-0.1 2.5z"/>
<path fill="#ffb4b4" stroke="#ffb4b4" d="M761.4 915l0.1-2.2-5.8 60.2-0.1 2.3z"/>
<path fill="#ffb0b0" stroke="#ffb0b0" d="M761.5 912.8l0.1-2.1-5.8 60-0.1 2.3z"/>
<path fill="#ffabab" stroke="#ffabab" d="M761.6 910.7l0.1-2-5.8 59.8-0.1 2.2z"/>
<path fill="#ffa7a7" stroke="#ffa7a7" d="M761.7 908.7l0.1-2-5.8 59.7-0.1 2.1z"/>
<path fill="#ffa3a3" stroke="#ffa3a3" d="M761.8 906.7l0.1-1.8-5.8 59.5-0.1 2z"/>
<path fill="#ff9f9f" stroke="#ff9f9f" d="M761.9 904.9l0.1-1.9-5.8 59.4-0.1 2z"/>
<path fill="#ff9b9b" stroke="#ff9b9b" d="M762 903l0.1-1.8-5.8 59.2-0.1 2z"/>
<path fill="#ff9797" stroke="#ff9797" d="M762.1 901.2l0.1-1.7-5.8 59-0.1 1.9z"/>
<path fill="#ff9494" stroke="#ff9494" d="M762.2 899.5l0.1-1.7-5.8 58.9-0.1 1.8z"/>
<path fill="#ff9090" stroke="#ff9090" d="M762.3 897.8l0.1-1.7-5.8 58.8-0.1 1.8z"/>
<path fill="#ff8d8d" stroke="#ff8d8d" d="M762.4 896.1l0-1.6-5.7 58.6-0.1 1.8z"/>
<path fill="#ff8989" stroke="#ff8989" d="M762.4 894.5l0.1-1.6-5.7 58.4-0.1 1.8z"/>
<path fill="#ff8686" stroke="#ff8686" d="M762.5 892.9l0.1-1.6-5.7 58.3-0.1 1.7z"/>
<path fill="#ff8282" stroke="#ff8282" d="M762.6 891.3l0.1-1.6-5.7 58.2-0.1 1.7z"/>
<path fill="#ff7f7f" stroke="#ff7f7f" d="M762.7 889.7l0.1-1.5-5.7 58-0.1 1.7z"/>
<path fill="#ff7c7c" stroke="#ff7c7c" d="M762.8 888.2l0.1-1.6-5.7 57.9-0.1 1.7z"/>
<path fill="#ff7878" stroke="#ff7878" d="M762.9 886.6l0.1-1.5-5.7 57.7-0.1 1.7z"/>
<path fill="#ff7575" stroke="#ff7575" d="M763 885.1l0.1-1.6-5.7 57.7-0.1 1.6z"/>
<path fill="#ff7272" stroke="#ff7272" d="M763.1 883.5l0.1-1.5-5.7 57.5-0.1 1.7z"/>
<path fill="#ff6e6e" stroke="#ff6e6e" d="M763.2 882l0.1-1.6-5.7 57.4-0.1 1.7z"/>
<path fill="#ff6b6b" stroke="#ff6b6b" d="M763.3 880.4l0.1-1.6-5.6 57.3-0.2 1.7z"/>
<path fill="#ff6868" stroke="#ff6868" d="M763.4 878.8l0.1-1.6-5.6 57.1-0.1 1.8z"/>
<path fill="#ff6666" stroke="#ff6666" d="M763.5 877.2l0 0-5.6 57.1 0 0z"/>
<path fill="#ff6464" stroke="#ff6464" d="M763.5 877.2l0.1-1.6-5.6 56.9-0.1 1.8z"/>
<path fill="#ff6161" stroke="#ff6161" d="M763.6 875.6l0.1-1.7-5.6 56.8-0.1 1.8z"/>
<path fill="#ff5d5d" stroke="#ff5d5d" d="M763.7 873.9l0.1-1.7-5.6 56.6-0.1 1.9z"/>
<path fill="#ff5959" stroke="#ff5959" d="M763.8 872.2l0.1-1.8-5.6 56.6-0.1 1.8z"/>
<path fill="#ff5656" stroke="#ff5656" d="M763.9 870.4l0.1-1.7-5.6 56.3-0.1 2z"/>
<path fill="#ff5252" stroke="#ff5252" d="M764 868.7l0.1-1.8-5.6 56.2-0.1 1.9z"/>
<path fill="#ff4e4e" stroke="#ff4e4e" d="M764.1 866.9l0.1-1.8-5.6 56-0.1 2z"/>
<path fill="#ff4a4a" stroke="#ff4a4a" d="M764.2 865.1l0.1-1.8-5.6 55.9-0.1 1.9z"/>
<path fill="#ff4646" stroke="#ff4646" d="M764.3 863.3l0.1-1.8-5.6 55.7-0.1 2z"/>
<path fill="#ff4343" stroke="#ff4343" d="M764.4 861.5l0.1-1.8-5.6 55.5-0.1 2z"/>
<path fill="#ff3f3f" stroke="#ff3f3f" d="M764.5 859.7l0.1-1.8-5.6 55.4-0.1 1.9z"/>
<path fill="#ff3b3b" stroke="#ff3b3b" d="M764.6 857.9l0.1-1.8-5.6 55.2-0.1 2z"/>
<path fill="#ff3737" stroke="#ff3737" d="M764.7 856.1l0.1-1.8-5.6 55.1-0.1 1.9z"/>
<path fill="#ff3333" stroke="#ff3333" d="M764.8 854.3l0.1-1.7-5.6 54.9-0.1 1.9z"/>
<path fill="#ff3030" stroke="#ff3030" d="M764.9 852.6l0-1.8-5.5 54.8-0.1 1.9z"/>
<path fill="#ff2c2c" stroke="#ff2c2c" d="M764.9 850.8l0.1-1.6-5.5 54.6-0.1 1.8z"/>
<path fill="#ff2929" stroke="#ff2929" d="M765 849.2l0.1-1.7-5.5 54.5-0.1 1.8z"/>
<path fill="#ff2525" stroke="#ff2525" d="M765.1 847.5l0.1-1.6-5.5 54.4-0.1 1.7z"/>
<path fill="#ff2222" stroke="#ff2222" d="M765.2 845.9l0.1-1.5-5.5 54.2-0.1 1.7z"/>
<path fill="#ff1d1d" stroke="#ff1d1d" d="M765.3 844.4l0.2-2.9-5.5 54-0.2 3.1z"/>
<path fill="#ff1010" stroke="#ff1010" d="M765.5 841.5l1.5-10 0.6 10.4-5.4 54-0.6-11.3-1.6 10.9z"/>
<path fill="#ff1d1d" stroke="#ff1d1d" d="M767.6 841.9l0 1.7-5.3 54.1-0.1-1.8z"/>
<path fill="#ff2020" stroke="#ff2020" d="M767.6 843.6l0.1 1.7-5.4 54.4 0-2z"/>
<path fill="#ff2424" stroke="#ff2424" d="M767.7 845.3l0 1.9-5.3 54.5-0.1-2z"/>
<path fill="#ff2828" stroke="#ff2828" d="M767.7 847.2l0.1 1.9-5.3 54.7-0.1-2.1z"/>
<path fill="#ff2c2c" stroke="#ff2c2c" d="M767.8 849.1l0.1 2-5.3 54.8-0.1-2.1z"/>
<path fill="#ff3131" stroke="#ff3131" d="M767.9 851.1l0 2.1-5.3 55 0-2.3z"/>
<path fill="#ff3535" stroke="#ff3535" d="M767.9 853.2l0.1 2.1-5.3 55.3-0.1-2.4z"/>
<path fill="#ff3a3a" stroke="#ff3a3a" d="M768 855.3l0.1 2.3-5.3 55.4-0.1-2.4z"/>
<path fill="#ff3f3f" stroke="#ff3f3f" d="M768.1 857.6l0 2.2-5.2 55.7-0.1-2.5z"/>
<path fill="#ff4444" stroke="#ff4444" d="M768.1 859.8l0.1 2.4-5.3 55.8 0-2.5z"/>
<path fill="#ff4949" stroke="#ff4949" d="M768.2 862.2l0.1 2.4-5.3 56-0.1-2.6z"/>
<path fill="#ff4e4e" stroke="#ff4e4e" d="M768.3 864.6l0.1 2.4-5.3 56.2-0.1-2.6z"/>
<path fill="#ff5353" stroke="#ff5353" d="M768.4 867l0 2.5-5.2 56.4-0.1-2.7z"/>
<path fill="#ff5858" stroke="#ff5858" d="M768.4 869.5l0.1 2.5-5.2 56.6-0.1-2.7z"/>
<path fill="#ff5e5e" stroke="#ff5e5e" d="M768.5 872l0.1 2.5-5.2 56.9-0.1-2.8z"/>
<path fill="#ff6363" stroke="#ff6363" d="M768.6 874.5l0 2.5-5.2 57.2 0-2.8z"/>
<path fill="#ff6868" stroke="#ff6868" d="M768.6 877l0.1 2.6-5.2 57.3-0.1-2.7z"/>
<path fill="#ff6e6e" stroke="#ff6e6e" d="M768.7 879.6l0.1 2.6-5.2 57.5-0.1-2.8z"/>
<path fill="#ff7373" stroke="#ff7373" d="M768.8 882.2l0.1 2.6-5.2 57.8-0.1-2.9z"/>
<path fill="#ff7979" stroke="#ff7979" d="M768.9 884.8l0 2.6-5.1 58-0.1-2.8z"/>
<path fill="#ff7f7f" stroke="#ff7f7f" d="M768.9 887.4l0.1 2.5-5.1 58.3-0.1-2.8z"/>
<path fill="#ff8484" stroke="#ff8484" d="M769 889.9l0.1 2.6-5.2 58.5 0-2.8z"/>
<path fill="#ff8a8a" stroke="#ff8a8a" d="M769.1 892.5l0.1 2.6-5.2 58.7-0.1-2.8z"/>
<path fill="#ff8f8f" stroke="#ff8f8f" d="M769.2 895.1l0 2.5-5.1 58.9-0.1-2.7z"/>
<path fill="#ff9494" stroke="#ff9494" d="M769.2 897.6l0.1 2.6-5.1 59.1-0.1-2.8z"/>
<path fill="#ff9a9a" stroke="#ff9a9a" d="M769.3 900.2l0.1 2.4-5.1 59.4-0.1-2.7z"/>
<path fill="#ff9f9f" stroke="#ff9f9f" d="M769.4 902.6l0.1 2.5-5.1 59.6-0.1-2.7z"/>
<path fill="#ffa4a4" stroke="#ffa4a4" d="M769.5 905.1l0 2.4-5.1 59.8 0-2.6z"/>
<path fill="#ffa9a9" stroke="#ffa9a9" d="M769.5 907.5l0.1 2.4-5.1 60-0.1-2.6z"/>
<path fill="#ffaeae" stroke="#ffaeae" d="M769.6 909.9l0.1 2.3-5.1 60.2-0.1-2.5z"/>
<path fill="#ffb3b3" stroke="#ffb3b3" d="M769.7 912.2l0 2.3-5 60.4-0.1-2.5z"/>
<path fill="#ffb8b8" stroke="#ffb8b8" d="M769.7 914.5l0.1 2.2-5 60.6-0.1-2.4z"/>
<path fill="#ffbdbd" stroke="#ffbdbd" d="M769.8 916.7l0.1 2.1-5.1 60.8 0-2.3z"/>
<path fill="#ffc1c1" stroke="#ffc1c1" d="M769.9 918.8l0 2.1-5 61-0.1-2.3z"/>
<path fill="#ffc6c6" stroke="#ffc6c6" d="M769.9 920.9l0.1 2-5 61.1-0.1-2.1z"/>
<path fill="#ffcaca" stroke="#ffcaca" d="M770 922.9l0.1 1.9-5.1 61.3 0-2.1z"/>
<path fill="#ffcccc" stroke="#ffcccc" d="M770.1 924.8l0 0-5.1 61.3 0 0z"/>
<path fill="#ffcece" stroke="#ffcece" d="M770.1 924.8l0 2-5 61.4-0.1-2.1z"/>
<path fill="#ffd2d2" stroke="#ffd2d2" d="M770.1 926.8l0.1 1.9-5 61.6-0.1-2.1z"/>
<path fill="#ffd6d6" stroke="#ffd6d6" d="M770.2 928.7l0.1 2-5 61.8-0.1-2.2z"/>
<path fill="#ffdbdb" stroke="#ffdbdb" d="M770.3 930.7l0 2.1-5 62 0-2.3z"/>
<path fill="#ffdfdf" stroke="#ffdfdf" d="M770.3 932.8l0.1 2.1-5 62.2-0.1-2.3z"/>
<path fill="#ffe4e4" stroke="#ffe4e4" d="M770.4 934.9l0.1 2.2-5 62.3-0.1-2.3z"/>
<path fill="#ffe9e9" stroke="#ffe9e9" d="M770.5 937.1l0 2.2-4.9 62.5-0.1-2.4z"/>
<path fill="#ffeded" stroke="#ffeded" d="M770.5 939.3l0.1 2.2-5 62.7 0-2.4z"/>
<path fill="#fff2f2" stroke="#fff2f2" d="M770.6 941.5l0.1 2.3-5 62.9-0.1-2.5z"/>
<path fill="#fff7f7" stroke="#fff7f7" d="M770.7 943.8l0 2.2-4.9 63.1-0.1-2.4z"/>
<path fill="#fffcfc" stroke="#fffcfc" d="M770.7 946l0.1 2.3-4.9 63.3-0.1-2.5z"/>
<path fill="#fdfdff" stroke="#fdfdff" d="M770.8 948.3l0.1 2.4-4.9 63.5-0.1-2.6z"/>
<path fill="#f8f8ff" stroke="#f8f8ff" d="M770.9 950.7l0 2.3-4.9 63.7 0-2.5z"/>
<path fill="#f3f3ff" stroke="#f3f3ff" d="M770.9 953l0.1 2.3-4.9 63.9-0.1-2.5z"/>
<path fill="#eeeeff" stroke="#eeeeff" d="M771 955.3l0.1 2.4-4.9 64.1-0.1-2.6z"/>
<path fill="#e9e9ff" stroke="#e9e9ff" d="M771.1 957.7l0.1 2.3-4.9 64.3-0.1-2.5z"/>
<path fill="#e4e4ff" stroke="#e4e4ff" d="M771.2 960l0 2.4-4.8 64.5-0.1-2.6z"/>
<path fill="#dfdfff" stroke="#dfdfff" d="M771.2 962.4l0.1 2.3-4.9 64.7 0-2.5z"/>
<path fill="#dadaff" stroke="#dadaff" d="M771.3 964.7l0.1 2.3-4.9 65-0.1-2.6z"/>
<path fill="#d5d5ff" stroke="#d5d5ff" d="M771.4 967l0 2.4-4.8 65.1-0.1-2.5z"/>
<path fill="#d0d0ff" stroke="#d0d0ff" d="M771.4 969.4l0.1 2.2-4.8 65.4-0.1-2.5z"/>
<path fill="#cbcbff" stroke="#cbcbff" d="M771.5 971.6l0.1 2.3-4.9 65.5 0-2.4z"/>
<path fill="#c6c6ff" stroke="#c6c6ff" d="M771.6 973.9l0 2.3-4.8 65.7-0.1-2.5z"/>
<path fill="#c1c1ff" stroke="#c1c1ff" d="M771.6 976.2l0.1 2.2-4.8 65.9-0.1-2.4z"/>
<path fill="#bcbcff" stroke="#bcbcff" d="M771.7 978.4l0.1 2.2-4.8 66-0.1-2.3z"/>
<path fill="#b8b8ff" stroke="#b8b8ff" d="M771.8 980.6l0 2.1-4.8 66.3 0-2.4z"/>
<path fill="#b3b3ff" stroke="#b3b3ff" d="M771.8 982.7l0.1 2.1-4.8 66.4-0.1-2.2z"/>
<path fill="#aeaeff" stroke="#aeaeff" d="M771.9 984.8l0.1 2-4.8 66.7-0.1-2.3z"/>
<path fill="#aaaaff" stroke="#aaaaff" d="M772 986.8l0 2.1-4.7 66.7-0.1-2.1z"/>
<path fill="#a6a6ff" stroke="#a6a6ff" d="M772 988.9l0.1 1.9-4.8 66.9 0-2.1z"/>
<path fill="#a2a2ff" stroke="#a2a2ff" d="M772.1 990.8l0.1 1.9-4.8 67.1-0.1-2.1z"/>
<path fill="#9e9eff" stroke="#9e9eff" d="M772.2 992.7l0 1.8-4.7 67.3-0.1-2z"/>
<path fill="#9a9aff" stroke="#9a9aff" d="M772.2 994.5l0.1 1.8-4.8 67.4 0-1.9z"/>
<path fill="#9696ff" stroke="#9696ff" d="M772.3 996.3l0 1.7-4.7 67.5-0.1-1.8z"/>
<path fill="#9292ff" stroke="#9292ff" d="M772.3 998l0.1 1.6-4.7 67.7-0.1-1.8z"/>
<path fill="#8f8fff" stroke="#8f8fff" d="M772.4 999.6l0.1 1.5-4.8 67.8 0-1.6z"/>
<path fill="#8c8cff" stroke="#8c8cff" d="M772.5 1001.1l0 1.5-4.7 67.9-0.1-1.6z"/>
<path fill="#8787ff" stroke="#8787ff" d="M772.5 1002.6l0.1 2.6-4.7 68.2-0.1-2.9z"/>
<path fill="#8282ff" stroke="#8282ff" d="M772.6 1005.2l0.1 2.3-4.7 68.4-0.1-2.5z"/>
<path fill="#7d7dff" stroke="#7d7dff" d="M772.7 1007.5l0.1 1.9-4.7 68.5-0.1-2z"/>
<path fill="#7979ff" stroke="#7979ff" d="M772.8 1009.4l0.2 2.4-4.7 68.7-0.2-2.6z"/>
<path fill="#7676ff" stroke="#7676ff" d="M773 1011.8l0 0.3-4.6 68.7-0.1-0.3z"/>
<path fill="#7373ff" stroke="#7373ff" d="M773 1012.1l0.5 2.3-4.6 69-0.5-2.6z"/>
<path fill="#7171ff" stroke="#7171ff" d="M773.5 1014.4l1.5-0.4-4.5 68.9-1.6 0.5z"/>
<path fill="#7373ff" stroke="#7373ff" d="M775 1014l1.9-1.9-4.3 68.8-2.1 2z"/>
<path fill="#7777ff" stroke="#7777ff" d="M776.9 1012.1l1-1.3-4.2 68.7-1.1 1.4z"/>
<path fill="#7a7aff" stroke="#7a7aff" d="M777.9 1010.8l1-1.6-4.2 68.5-1 1.8z"/>
<path fill="#7d7dff" stroke="#7d7dff" d="M778.9 1009.2l0.9-1.7-4 68.3-1.1 1.9z"/>
<path fill="#8181ff" stroke="#8181ff" d="M779.8 1007.5l1-1.9-4 68.2-1 2z"/>
<path fill="#8686ff" stroke="#8686ff" d="M780.8 1005.6l0.9-2-3.8 68-1.1 2.2z"/>
<path fill="#8a8aff" stroke="#8a8aff" d="M781.7 1003.6l1-2.1-3.8 67.9-1 2.2z"/>
<path fill="#8e8eff" stroke="#8e8eff" d="M782.7 1001.5l1-2.1-3.8 67.8-1 2.2z"/>
<path fill="#9393ff" stroke="#9393ff" d="M783.7 999.4l0.9-2-3.6 67.6-1.1 2.2z"/>
<path fill="#9797ff" stroke="#9797ff" d="M784.6 997.4l1-1.9-3.6 67.4-1 2.1z"/>
<path fill="#9b9bff" stroke="#9b9bff" d="M785.6 995.5l0.9-1.8-3.4 67.2-1.1 2z"/>
<path fill="#9e9eff" stroke="#9e9eff" d="M786.5 993.7l0.3-0.5-3.4 67.2-0.3 0.5z"/>
<path fill="#9f9fff" stroke="#9f9fff" d="M786.8 993.2l0.7-1.2-3.4 67-0.7 1.4z"/>
<path fill="#a3a3ff" stroke="#a3a3ff" d="M787.5 992l1-1.8-3.3 66.9-1.1 1.9z"/>
<path fill="#a7a7ff" stroke="#a7a7ff" d="M788.5 990.2l0.9-1.8-3.2 66.8-1 1.9z"/>
<path fill="#ababff" stroke="#ababff" d="M789.4 988.4l1-1.9-3.1 66.6-1.1 2.1z"/>
<path fill="#afafff" stroke="#afafff" d="M790.4 986.5l1-1.9-3.1 66.5-1 2z"/>
<path fill="#b3b3ff" stroke="#b3b3ff" d="M791.4 984.6l0.9-1.9-3 66.3-1 2.1z"/>
<path fill="#b7b7ff" stroke="#b7b7ff" d="M792.3 982.7l1-2-2.9 66.2-1.1 2.1z"/>
<path fill="#bbbbff" stroke="#bbbbff" d="M793.3 980.7l0.9-1.9-2.8 66-1 2.1z"/>
<path fill="#bfbfff" stroke="#bfbfff" d="M794.2 978.8l1-2-2.7 65.9-1.1 2.1z"/>
<path fill="#c3c3ff" stroke="#c3c3ff" d="M795.2 976.8l1-1.9-2.7 65.7-1 2.1z"/>
<path fill="#c8c8ff" stroke="#c8c8ff" d="M796.2 974.9l0.9-1.9-2.5 65.6-1.1 2z"/>
<path fill="#ccccff" stroke="#ccccff" d="M797.1 973l1-1.8-2.5 65.4-1 2z"/>
<path fill="#cfcfff" stroke="#cfcfff" d="M798.1 971.2l1-1.8-2.4 65.2-1.1 2z"/>
<path fill="#d3d3ff" stroke="#d3d3ff" d="M799.1 969.4l0.9-1.8-2.3 65.1-1 1.9z"/>
<path fill="#d6d6ff" stroke="#d6d6ff" d="M800 967.6l0.3-0.4-2.3 65-0.3 0.5z"/>
<path fill="#d8d8ff" stroke="#d8d8ff" d="M800.3 967.2l0.7-1.3-2.2 65-0.8 1.3z"/>
<path fill="#dbdbff" stroke="#dbdbff" d="M801 965.9l1-1.7-2.2 64.8-1 1.9z"/>
<path fill="#dedeff" stroke="#dedeff" d="M802 964.2l0.9-1.6-2 64.6-1.1 1.8z"/>
<path fill="#e2e2ff" stroke="#e2e2ff" d="M802.9 962.6l1-1.7-2 64.5-1 1.8z"/>
<path fill="#e5e5ff" stroke="#e5e5ff" d="M803.9 960.9l1-1.7-1.9 64.4-1.1 1.8z"/>
<path fill="#e9e9ff" stroke="#e9e9ff" d="M804.9 959.2l0.9-1.6-1.8 64.2-1 1.8z"/>
<path fill="#ececff" stroke="#ececff" d="M805.8 957.6l1-1.6-1.7 64.1-1.1 1.7z"/>
<path fill="#f0f0ff" stroke="#f0f0ff" d="M806.8 956l1-1.6-1.7 64-1 1.7z"/>
<path fill="#f3f3ff" stroke="#f3f3ff" d="M807.8 954.4l0.9-1.5-1.5 63.9-1.1 1.6z"/>
<path fill="#f6f6ff" stroke="#f6f6ff" d="M808.7 952.9l1-1.5-1.4 63.8-1.1 1.6z"/>
<path fill="#fbfbff" stroke="#fbfbff" d="M809.7 951.4l2-2.8-1.3 63.5-2.1 3.1z"/>
<path fill="#fffefe" stroke="#fffefe" d="M811.7 948.6l1.2-1.7-1.2 63.4-1.3 1.8z"/>
<path fill="#fffbfb" stroke="#fffbfb" d="M812.9 946.9l0.7-0.9-1.1 63.3-0.8 1z"/>
<path fill="#fff8f8" stroke="#fff8f8" d="M813.6 946l2-2.7-1 63.1-2.1 2.9z"/>
<path fill="#fff2f2" stroke="#fff2f2" d="M815.6 943.3l1.9-2.8-0.8 62.8-2.1 3.1z"/>
<path fill="#ffecec" stroke="#ffecec" d="M817.5 940.5l2-2.6-0.6 62.6-2.2 2.8z"/>
<path fill="#ffe7e7" stroke="#ffe7e7" d="M819.5 937.9l1.9-2.2-0.4 62.5-2.1 2.3z"/>
<path fill="#ffe3e3" stroke="#ffe3e3" d="M821.4 935.7l2-1.4-0.3 62.3-2.1 1.6z"/>
<path fill="#ffe1e1" stroke="#ffe1e1" d="M823.4 934.3l1.8-0.5 0.2 0.1-0.1 62.4-0.2-0.2-2 0.5z"/>
<path fill="#ffe2e2" stroke="#ffe2e2" d="M825.4 933.9l0.5 1.2 0 62.5-0.6-1.3z"/>
<path fill="#ffe6e6" stroke="#ffe6e6" d="M825.9 935.1l0.5 2.5 0 62.6-0.5-2.6z"/>
<path fill="#ffe9e9" stroke="#ffe9e9" d="M826.4 937.6l0.1 0.2 0 62.6-0.1-0.2z"/>
<path fill="#ffeaea" stroke="#ffeaea" d="M826.5 937.8l0.1 1.3 0 62.7-0.1-1.4z"/>
<path fill="#ffeded" stroke="#ffeded" d="M826.6 939.1l0.1 1.5 0 63-0.1-1.8z"/>
<path fill="#fff1f1" stroke="#fff1f1" d="M826.7 940.6l0 2.1 0.1 63.1-0.1-2.2z"/>
<path fill="#fff6f6" stroke="#fff6f6" d="M826.7 942.7l0.1 2.4 0.1 63.3-0.1-2.6z"/>
<path fill="#fffcfc" stroke="#fffcfc" d="M826.8 945.1l0.1 2.7 0.1 63.5-0.1-2.9z"/>
<path fill="#fefeff" stroke="#fefeff" d="M826.9 947.8l0.1 1.5 0 63.6 0-1.6z"/>
<path fill="#fbfbff" stroke="#fbfbff" d="M827 949.3l0 1.4 0.1 63.8-0.1-1.6z"/>
<path fill="#f7f7ff" stroke="#f7f7ff" d="M827 950.7l0.1 1.6 0 63.8 0-1.6z"/>
<path fill="#f4f4ff" stroke="#f4f4ff" d="M827.1 952.3l0 1.5 0.1 64-0.1-1.7z"/>
<path fill="#f1f1ff" stroke="#f1f1ff" d="M827.1 953.8l0.1 1.5 0 64.2 0-1.7z"/>
<path fill="#ededff" stroke="#ededff" d="M827.2 955.3l0 1.6 0.1 64.3-0.1-1.7z"/>
<path fill="#eaeaff" stroke="#eaeaff" d="M827.2 956.9l0.1 1.5 0.1 64.4-0.1-1.6z"/>
<path fill="#e7e7ff" stroke="#e7e7ff" d="M827.3 958.4l0 1.6 0.1 64.5 0-1.7z"/>
<path fill="#e4e4ff" stroke="#e4e4ff" d="M827.3 960l0.1 1.4 0.1 64.7-0.1-1.6z"/>
<path fill="#e0e0ff" stroke="#e0e0ff" d="M827.4 961.4l0 1.5 0.1 64.8 0-1.6z"/>
<path fill="#dcdcff" stroke="#dcdcff" d="M827.4 962.9l0.1 2.7 0.1 65-0.1-2.9z"/>
<path fill="#d8d8ff" stroke="#d8d8ff" d="M827.5 965.6l0.1 1.3 0.1 65.1-0.1-1.4z"/>
<path fill="#d5d5ff" stroke="#d5d5ff" d="M827.6 966.9l0 1.2 0.1 65.2 0-1.3z"/>
<path fill="#d1d1ff" stroke="#d1d1ff" d="M827.6 968.1l0.1 2.5 0.1 65.4-0.1-2.7z"/>
<path fill="#ccccff" stroke="#ccccff" d="M827.7 970.6l0.1 2.4 0.1 65.7-0.1-2.7z"/>
<path fill="#c6c6ff" stroke="#c6c6ff" d="M827.8 973l0.1 2.5 0.1 65.8-0.1-2.6z"/>
<path fill="#c1c1ff" stroke="#c1c1ff" d="M827.9 975.5l0.1 2.4 0.1 66.1-0.1-2.7z"/>
<path fill="#bcbcff" stroke="#bcbcff" d="M828 977.9l0.1 2.5 0.1 66.3-0.1-2.7z"/>
<path fill="#b6b6ff" stroke="#b6b6ff" d="M828.1 980.4l0.1 2.5 0.1 66.5-0.1-2.7z"/>
<path fill="#b1b1ff" stroke="#b1b1ff" d="M828.2 982.9l0.1 2.5 0.1 66.6-0.1-2.6z"/>
<path fill="#ababff" stroke="#ababff" d="M828.3 985.4l0 2.4 0.2 66.9-0.1-2.7z"/>
<path fill="#a6a6ff" stroke="#a6a6ff" d="M828.3 987.8l0.1 2.5 0.2 67.1-0.1-2.7z"/>
<path fill="#a1a1ff" stroke="#a1a1ff" d="M828.4 990.3l0.1 2.5 0.2 67.3-0.1-2.7z"/>
<path fill="#9b9bff" stroke="#9b9bff" d="M828.5 992.8l0.1 2.5 0.2 67.5-0.1-2.7z"/>
<path fill="#9696ff" stroke="#9696ff" d="M828.6 995.3l0.1 2.4 0.2 67.7-0.1-2.6z"/>
<path fill="#9191ff" stroke="#9191ff" d="M828.7 997.7l0.1 2.5 0.2 67.9-0.1-2.7z"/>
<path fill="#8b8bff" stroke="#8b8bff" d="M828.8 1000.2l0.1 2.5 0.2 68.1-0.1-2.7z"/>
<path fill="#8686ff" stroke="#8686ff" d="M828.9 1002.7l0.1 2.4 0.2 68.4-0.1-2.7z"/>
<path fill="#8282ff" stroke="#8282ff" d="M829 1005.1l0 1.3 0.3 68.4-0.1-1.3z"/>
<path fill="#7f7fff" stroke="#7f7fff" d="M829 1006.4l0.1 1.2 0.2 68.5 0-1.3z"/>
<path fill="#7b7bff" stroke="#7b7bff" d="M829.1 1007.6l0.1 2.6 0.2 68.7-0.1-2.8z"/>
<path fill="#7575ff" stroke="#7575ff" d="M829.2 1010.2l0.1 2.6 0.3 68.9-0.2-2.8z"/>
<path fill="#7070ff" stroke="#7070ff" d="M829.3 1012.8l0.1 2.6 0.3 69.2-0.1-2.9z"/>
<path fill="#6a6aff" stroke="#6a6aff" d="M829.4 1015.4l0.1 2.7 0.3 69.4-0.1-2.9z"/>
<path fill="#6464ff" stroke="#6464ff" d="M829.5 1018.1l0.1 2.7 0.3 69.7-0.1-3z"/>
<path fill="#5e5eff" stroke="#5e5eff" d="M829.6 1020.8l0 2.8 0.4 69.8-0.1-2.9z"/>
<path fill="#5858ff" stroke="#5858ff" d="M829.6 1023.6l0.1 2.7 0.4 70.1-0.1-3z"/>
<path fill="#5252ff" stroke="#5252ff" d="M829.7 1026.3l0.1 2.7 0.4 70.3-0.1-2.9z"/>
<path fill="#4c4cff" stroke="#4c4cff" d="M829.8 1029l0.1 2.6 0.4 70.5-0.1-2.8z"/>
<path fill="#4747ff" stroke="#4747ff" d="M829.9 1031.6l0.1 2.6 0.4 70.7-0.1-2.8z"/>
<path fill="#4141ff" stroke="#4141ff" d="M830 1034.2l0.1 2.5 0.4 70.9-0.1-2.7z"/>
<path fill="#3c3cff" stroke="#3c3cff" d="M830.1 1036.7l0.1 2.4 0.4 71.2-0.1-2.7z"/>
<path fill="#3636ff" stroke="#3636ff" d="M830.2 1039.1l0.1 2.3 0.4 71.4-0.1-2.5z"/>
<path fill="#3232ff" stroke="#3232ff" d="M830.3 1041.4l0.1 2.2 0.4 71.6-0.1-2.4z"/>
<path fill="#2d2dff" stroke="#2d2dff" d="M830.4 1043.6l0.1 2.1 0.4 71.7-0.1-2.2z"/>
<path fill="#2929ff" stroke="#2929ff" d="M830.5 1045.7l0.1 1.9 0.4 71.9-0.1-2.1z"/>
<path fill="#2525ff" stroke="#2525ff" d="M830.6 1047.6l0 1.8 0.5 71.9-0.1-1.8z"/>
<path fill="#2222ff" stroke="#2222ff" d="M830.6 1049.4l0 0.1 0.5 72 0-0.2z"/>
<path fill="#2121ff" stroke="#2121ff" d="M830.6 1049.5l0.1 1.5 0.4 72.1 0-1.6z"/>
<path fill="#1d1dff" stroke="#1d1dff" d="M830.7 1051l0.1 1.6 0.4 72.3-0.1-1.8z"/>
<path fill="#1a1aff" stroke="#1a1aff" d="M830.8 1052.6l0.1 1.6 0.4 72.4-0.1-1.7z"/>
<path fill="#1616ff" stroke="#1616ff" d="M830.9 1054.2l0.1 1.6 0.4 72.5-0.1-1.7z"/>
<path fill="#1313ff" stroke="#1313ff" d="M831 1055.8l0 1.5 0.5 72.6-0.1-1.6z"/>
<path fill="#0e0eff" stroke="#0e0eff" d="M831 1057.3l0.2 2.6 0.5 72.8-0.2-2.8z"/>
<path fill="#0909ff" stroke="#0909ff" d="M831.2 1059.9l0.1 2 0.5 73-0.1-2.2z"/>
<path fill="#0606ff" stroke="#0606ff" d="M831.3 1061.9l0.1 0.9 0.5 73.1-0.1-1z"/>
<path fill="#0404ff" stroke="#0404ff" d="M831.4 1062.8l0.2 1.1 0.5 73.2-0.2-1.2z"/>
<path fill="#0101ff" stroke="#0101ff" d="M831.6 1063.9l0.4 1.2 0.5 73.3-0.4-1.3z"/>
<path fill="#0000ff" stroke="#0000ff" d="M832 1065.1l1.6 0 2 0 1.5 0 0.4 0 2-0.1 2 0 1.9 0 2 0 2 0 1.9-0.1 2 0 2 0 2.3 73.3-2.1 0-2.2 0-2.1 0-2.1 0.1-2.2 0-2.1 0-2.1 0-2.2 0-0.4 0.1-1.7 0-2.1 0-1.8 0z"/>
<path fill="#0000ff" stroke="#0000ff" d="M853.3 1064.9l1.9 0 2 0 2-0.1 1.9 0 2 0 2 0 1.9 0 2-0.1 2 0 1.9 0 2 0 2-0.1 1.9 0 2 0 2 0 1.9 0 2-0.1 2 0 1.9 0 2 0 2 0 1.9-0.1 2 0 2 0 1.9 0 2 0 1.9-0.1 2 0 2 0 1.9 0 2 0 2-0.1 1.9 0 2 0 2 0 1.9-0.1 2 0 2 0 1.9 0 2 0 2-0.1 1.9 0 2 0 2 0 1.9 0 2-0.1 2 0 1.9 0 2 0 1.9 0 2-0.1 2 0 1.9 0 2 0 2 0 1.9-0.1 2 0 2 0 1.9 0 2 0 2-0.1 1.9 0 2 0 1.9 0 2-0.1 2 0 1.9 0 2 0 2 0 1.9-0.1 2 0 2 0 1.9 0 2 0 1.9-0.1 2 0 2 0 1.9 0 2 0 2-0.1 1.9 0 2 0 2 0 1.9 0 2-0.1 1.9 0 2 0 2 0 1.9-0.1 2 0 2 0 1.9 0 2 0 1.9-0.1 2 0 2 0 1.9 0 2 0 2-0.1 1.9 0 2 0 1.9 0 2 0 2-0.1 1.9 0 2 0 2 0 1.9 0 2-0.1 1.9 0 2 0 2 0 1.9-0.1 2 0 1.9 0 2 0 2 0 1.9-0.1 2 0 2 0 1.9 0 2 0 1.9-0.1 2 0 2 0 1.9 0 2 0 1.9-0.1 2 0 2 0 1.9 0 2 0 2-0.1 1.9 0 2 0 1.9 0 2 0 2-0.1 1.9 0 2 0 1.9 0 2-0.1 2 0 1.9 0 0.6 0 24.1 73.4-0.6 0-2.1 0.1-2.1 0-2.1 0-2.1 0-2.1 0-2.1 0.1-2.1 0-2.1 0-2.1 0-2.1 0-2.1 0.1-2.1 0-2.1 0-2.1 0-2.1 0-2.1 0.1-2.1 0-2.1 0-2.1 0-2.1 0-2.1 0.1-2.1 0-2.1 0-2.1 0-2.1 0-2.1 0.1-2.1 0-2.1 0-2.1 0-2.1 0-2.1 0.1-2.1 0-2.1 0-2.1 0-2.1 0-2.1 0.1-2.1 0-2.2 0-2.1 0-2.1 0-2.1 0.1-2.1 0-2.1 0-2.1 0-2.1 0-2.1 0-2.1 0.1-2.1 0-2.1 0-2.1 0-2.1 0-2.2 0.1-2.1 0-2.1 0-2.1 0-2.1 0-2.1 0.1-2.1 0-2.1 0-2.1 0-2.1 0-2.2 0.1-2.1 0-2.1 0-2.1 0-2.1 0-2.1 0.1-2.1 0-2.1 0-2.2 0-2.1 0-2.1 0.1-2.1 0-2.1 0-2.1 0-2.1 0-2.2 0.1-2.1 0-2.1 0-2.1 0-2.1 0-2.1 0.1-2.2 0-2.1 0-2.1 0-2.1 0-2.1 0.1-2.2 0-2.1 0-2.1 0-2.1 0-2.1 0.1-2.1 0-2.2 0-2.1 0-2.1 0-2.1 0.1-2.1 0-2.2 0-2.1 0-2.1 0-2.1 0.1-2.2 0-2.1 0-2.1 0-2.1 0-2.1 0.1-2.2 0-2.1 0-2.1 0-2.1 0-2.2 0.1-2.1 0-2.1 0-2.1 0-2.2 0-2.1 0.1-2.1 0-2.1 0-2.2 0-2.1 0-2.1 0.1-2.2 0-2.1 0-2.1 0-2.1 0-2.2 0.1-2.1 0-2.1 0-2.2 0-2.1 0-2.1 0.1-2.1 0-2.2 0-2.1 0-2.1 0-2.2 0.1-2.1 0-2.1 0-2.2 0-2.1 0-2.1 0.1-2.2 0-2.1 0z"/></g>
<g stroke="#000" stroke-width="1.6" stroke-dasharray="4,4" fill="none">
<line x1="1218.1" y1="883.4" x2="1716.9" y2="879.2"/>
<line x1="1219.8" y1="945.4" x2="1716.1" y2="940.8"/>
<line x1="1221.5" y1="1006.2" x2="1715.3" y2="1001.6"/>
<line x1="1223.1" y1="1067.1" x2="1714.6" y2="1061.7"/>
<line x1="1299.8" y1="829.5" x2="1303.9" y2="1066.2"/>
<line x1="1382.2" y1="828.8" x2="1384.4" y2="1065.3"/>
<line x1="1464.6" y1="828.0" x2="1465.9" y2="1064.4"/>
<line x1="1546.9" y1="827.3" x2="1546.3" y2="1063.5"/>
<line x1="1628.7" y1="826.5" x2="1627.9" y2="1062.7"/>
<line x1="1710.2" y1="825.8" x2="1707.9" y2="1061.8"/>
</g>
<polyline points="1222.2,1071.3 1223.1,1067.1 1216.7,830.3 1717.6,825.7 1714.5,1066.6" fill="none" stroke="#000" stroke-width="1.6"/>
<polygon points="1222.2,1071.3 1258.5,1071.0 1244.2,1145.7 1205.8,1146.1" fill="#4b3fd0" stroke="#4b3fd0" stroke-width="0.5"/>
<polygon points="1258.5,1071.0 1290.3,1070.6 1278.7,1145.3 1244.2,1145.7" fill="#dbd9d7" stroke="#dbd9d7" stroke-width="0.5"/>
<polygon points="1290.3,1070.6 1331.9,1070.3 1323.8,1144.8 1278.7,1145.3" fill="#c7b6ad" stroke="#c7b6ad" stroke-width="0.5"/>
<polygon points="1331.9,1070.3 1341.5,1070.2 1334.2,1144.7 1323.8,1144.8" fill="#747076" stroke="#747076" stroke-width="0.5"/>
<polygon points="1341.5,1070.2 1402.4,1069.6 1400.3,1144.0 1334.2,1144.7" fill="#484a66" stroke="#484a66" stroke-width="0.5"/>
<polygon points="1402.4,1069.6 1577.0,1067.9 1588.5,1142.0 1400.3,1144.0" fill="#7a16a0" stroke="#7a16a0" stroke-width="0.5"/>
<polygon points="1577.0,1067.9 1654.5,1067.2 1673.5,1141.1 1588.5,1142.0" fill="#c6b5ad" stroke="#c6b5ad" stroke-width="0.5"/>
<polygon points="1654.5,1067.2 1714.5,1066.6 1738.9,1140.4 1673.5,1141.1" fill="#0000ff" stroke="#0000ff" stroke-width="0.5"/>
<polygon points="1222.2,1071.3 1714.5,1066.6 1738.9,1140.4 1205.8,1146.1" fill="none" stroke="#000" stroke-width="1.3"/>
<line x1="1205.8" y1="1146.1" x2="1738.9" y2="1140.4" stroke="#000" stroke-width="2.2"/>
<g stroke-width="1" stroke-linejoin="round"><path fill="#0000ff" stroke="#0000ff" d="M1223.1 1067.1l2 0 1.9 0 2-0.1 2 0 2 0 1.9 0 2 0 2-0.1 1.9 0 2 0 2 0 2-0.1 0.9 0 1 0 0.2 0 1.8-0.1-13.8 73.2-2 0.1-0.1 0-1.1 0.1-1.1 0-2.1 0-2.2 0-2.2 0-2.1 0-2.2 0.1-2.1 0-2.2 0-2.2 0-2.1 0-2.2 0.1-2.1 0-2.2 0z"/>
<path fill="#0101ff" stroke="#0101ff" d="M1250.7 1066.7l2-0.4-13.6 73.2-2.2 0.4z"/>
<path fill="#0202ff" stroke="#0202ff" d="M1252.7 1066.3l1.9-0.5-13.4 73.1-2.1 0.6z"/>
<path fill="#0303ff" stroke="#0303ff" d="M1254.6 1065.8l1.5-0.4 0.5-0.1-13.2 73.1-0.6 0.1-1.6 0.4z"/>
<path fill="#0404ff" stroke="#0404ff" d="M1256.6 1065.3l1.9-0.5-13 73.1-2.1 0.5z"/>
<path fill="#0505ff" stroke="#0505ff" d="M1258.5 1064.8l2-0.5-12.9 73.1-2.1 0.5z"/>
<path fill="#0606ff" stroke="#0606ff" d="M1260.5 1064.3l2-0.5-12.7 73-2.2 0.6z"/>
<path fill="#0707ff" stroke="#0707ff" d="M1262.5 1063.8l1.9-0.7-12.5 73-2.1 0.7z"/>
<path fill="#0808ff" stroke="#0808ff" d="M1264.4 1063.1l1.6-0.6-12.3 72.9-1.8 0.7z"/>
<path fill="#0909ff" stroke="#0909ff" d="M1266 1062.5l0.4-0.2-12.3 72.9-0.4 0.2z"/>
<path fill="#0b0bff" stroke="#0b0bff" d="M1266.4 1062.3l1.9-1.1-12.1 72.8-2.1 1.2z"/>
<path fill="#0d0dff" stroke="#0d0dff" d="M1268.3 1061.2l2-1.4-12 72.6-2.1 1.6z"/>
<path fill="#1111ff" stroke="#1111ff" d="M1270.3 1059.8l1.8-1.5-11.8 72.5-2 1.6z"/>
<path fill="#1212ff" stroke="#1212ff" d="M1272.1 1058.3l0.1-0.1-11.8 72.5-0.1 0.1z"/>
<path fill="#1414ff" stroke="#1414ff" d="M1272.2 1058.2l1.9-1.8-11.6 72.4-2.1 1.9z"/>
<path fill="#1919ff" stroke="#1919ff" d="M1274.1 1056.4l1.9-2.1-11.4 72.2-2.1 2.3z"/>
<path fill="#1c1cff" stroke="#1c1cff" d="M1276 1054.3l1-1.3-11.3 72-1.1 1.5z"/>
<path fill="#1e1eff" stroke="#1e1eff" d="M1277 1053l0.1-0.2-11.3 72.1-0.1 0.1z"/>
<path fill="#2020ff" stroke="#2020ff" d="M1277.1 1052.8l0.8-1.4-11.2 71.9-0.9 1.6z"/>
<path fill="#2323ff" stroke="#2323ff" d="M1277.9 1051.4l1-2.1-11.2 71.8-1 2.2z"/>
<path fill="#2828ff" stroke="#2828ff" d="M1278.9 1049.3l0.9-2.3-11.1 71.6-1 2.5z"/>
<path fill="#2e2eff" stroke="#2e2eff" d="M1279.8 1047l1-2.5-11.1 71.3-1 2.8z"/>
<path fill="#3030ff" stroke="#3030ff" d="M1280.8 1044.5l0-0.2-11 71.4-0.1 0.1z"/>
<path fill="#3232ff" stroke="#3232ff" d="M1280.8 1044.3l0.4-1.4-11 71.2-0.4 1.6z"/>
<path fill="#3636ff" stroke="#3636ff" d="M1281.2 1042.9l0.5-2-11 71-0.5 2.2z"/>
<path fill="#3a3aff" stroke="#3a3aff" d="M1281.7 1040.9l0.4-2.2-10.9 70.8-0.5 2.4z"/>
<path fill="#3f3fff" stroke="#3f3fff" d="M1282.1 1038.7l0.5-2.2-10.9 70.7-0.5 2.3z"/>
<path fill="#4545ff" stroke="#4545ff" d="M1282.6 1036.5l1.3-3.4 0.6 4.1-10.6 70.7-0.7-4.4-1.5 3.7z"/>
<path fill="#3e3eff" stroke="#3e3eff" d="M1284.5 1037.2l0.2 1.6-10.7 70.9-0.1-1.8z"/>
<path fill="#3b3bff" stroke="#3b3bff" d="M1284.7 1038.8l0.2 1.8-10.7 71-0.2-1.9z"/>
<path fill="#3737ff" stroke="#3737ff" d="M1284.9 1040.6l0.1 1.9-10.6 71.2-0.2-2.1z"/>
<path fill="#3232ff" stroke="#3232ff" d="M1285 1042.5l0.2 1.8-10.6 71.4-0.2-2z"/>
<path fill="#2e2eff" stroke="#2e2eff" d="M1285.2 1044.3l0.2 1.8-10.6 71.5-0.2-1.9z"/>
<path fill="#2b2bff" stroke="#2b2bff" d="M1285.4 1046.1l0.1 1.6-10.5 71.7-0.2-1.8z"/>
<path fill="#2727ff" stroke="#2727ff" d="M1285.5 1047.7l0.2 2.1-10.5 71.8-0.2-2.2z"/>
<path fill="#2424ff" stroke="#2424ff" d="M1285.7 1049.8l0.1 0.5-10.5 71.9-0.1-0.6z"/>
<path fill="#2121ff" stroke="#2121ff" d="M1285.8 1050.3l0.3 2.3-10.5 72-0.3-2.4z"/>
<path fill="#1c1cff" stroke="#1c1cff" d="M1286.1 1052.6l0.3 2.2-10.5 72.3-0.3-2.5z"/>
<path fill="#1717ff" stroke="#1717ff" d="M1286.4 1054.8l0.3 2.1-10.4 72.4-0.4-2.2z"/>
<path fill="#1313ff" stroke="#1313ff" d="M1286.7 1056.9l0.3 1.9-10.4 72.6-0.3-2.1z"/>
<path fill="#0f0fff" stroke="#0f0fff" d="M1287 1058.8l0.3 1.6-10.4 72.7-0.3-1.7z"/>
<path fill="#0c0cff" stroke="#0c0cff" d="M1287.3 1060.4l0.3 1.4-10.4 72.8-0.3-1.5z"/>
<path fill="#0909ff" stroke="#0909ff" d="M1287.6 1061.8l0.2 0.7-10.3 72.9-0.3-0.8z"/>
<path fill="#0606ff" stroke="#0606ff" d="M1287.8 1062.5l1 2.3-10.2 73.1-1.1-2.5z"/>
<path fill="#0303ff" stroke="#0303ff" d="M1288.8 1064.8l0.2 0.3-10.2 73.1-0.2-0.3z"/>
<path fill="#0101ff" stroke="#0101ff" d="M1289 1065.1l1.5 1.3-10 73.2-1.7-1.4z"/>
<path fill="#0000ff" stroke="#0000ff" d="M1290.5 1066.4l0.4 0 1.9 0 2-0.1 2 0 1.9 0 2 0 2 0 1.9-0.1 2 0 2 0 1.9 0 2 0 2-0.1 2 0 1.9 0 2 0 2-0.1 1.9 0 2 0 2 0 1.9 0 2-0.1 2 0 2 0 1.9 0 0.5 0 0 0-5.7 73.2 0 0-0.5 0-2.2 0.1-2.1 0-2.2 0-2.1 0-2.2 0-2.1 0.1-2.1 0-2.2 0-2.1 0-2.2 0-2.1 0.1-2.2 0-2.1 0-2.2 0-2.1 0-2.2 0.1-2.1 0-2.2 0-2.1 0-2.2 0-2.1 0.1-2.2 0-2.1 0-2.2 0-0.3 0z"/>
<path fill="#0202ff" stroke="#0202ff" d="M1338.6 1065.9l0.1-1.6-5.7 73.1-0.1 1.7z"/>
<path fill="#0505ff" stroke="#0505ff" d="M1338.7 1064.3l0-1.8-5.7 72.9 0 2z"/>
<path fill="#0a0aff" stroke="#0a0aff" d="M1338.7 1062.5l0.1-2.4-5.7 72.7-0.1 2.6z"/>
<path fill="#0e0eff" stroke="#0e0eff" d="M1338.8 1060.1l0-1.4-5.7 72.6 0 1.5z"/>
<path fill="#1111ff" stroke="#1111ff" d="M1338.8 1058.7l0-1.5-5.7 72.5 0 1.6z"/>
<path fill="#1515ff" stroke="#1515ff" d="M1338.8 1057.2l0-1.6-5.7 72.4 0 1.7z"/>
<path fill="#1818ff" stroke="#1818ff" d="M1338.8 1055.6l0-1.7-5.7 72.2 0 1.9z"/>
<path fill="#1c1cff" stroke="#1c1cff" d="M1338.8 1053.9l0-1.8-5.7 72.1 0 1.9z"/>
<path fill="#2020ff" stroke="#2020ff" d="M1338.8 1052.1l0-1.8-5.7 71.9 0 2z"/>
<path fill="#2424ff" stroke="#2424ff" d="M1338.8 1050.3l0-1.9-5.7 71.8 0 2z"/>
<path fill="#2828ff" stroke="#2828ff" d="M1338.8 1048.4l0-1.9-5.7 71.6 0 2.1z"/>
<path fill="#2d2dff" stroke="#2d2dff" d="M1338.8 1046.5l0-2-5.8 71.5 0.1 2.1z"/>
<path fill="#3131ff" stroke="#3131ff" d="M1338.8 1044.5l0-1.9-5.8 71.3 0 2.1z"/>
<path fill="#3535ff" stroke="#3535ff" d="M1338.8 1042.6l0-2-5.8 71.1 0 2.2z"/>
<path fill="#3a3aff" stroke="#3a3aff" d="M1338.8 1040.6l-0.1-2-5.7 71 0 2.1z"/>
<path fill="#3e3eff" stroke="#3e3eff" d="M1338.7 1038.6l0-2-5.7 70.8 0 2.2z"/>
<path fill="#4242ff" stroke="#4242ff" d="M1338.7 1036.6l0-1.9-5.7 70.6 0 2.1z"/>
<path fill="#4646ff" stroke="#4646ff" d="M1338.7 1034.7l0-1.9-5.7 70.5 0 2z"/>
<path fill="#4a4aff" stroke="#4a4aff" d="M1338.7 1032.8l0-1.9-5.7 70.4 0 2z"/>
<path fill="#4d4dff" stroke="#4d4dff" d="M1338.7 1030.9l0 0-5.7 70.4 0 0z"/>
<path fill="#4f4fff" stroke="#4f4fff" d="M1338.7 1030.9l0-1.9-5.7 70.2 0 2.1z"/>
<path fill="#5353ff" stroke="#5353ff" d="M1338.7 1029l0-2-5.7 70 0 2.2z"/>
<path fill="#5858ff" stroke="#5858ff" d="M1338.7 1027l0-2.2-5.7 69.8 0 2.4z"/>
<path fill="#5c5cff" stroke="#5c5cff" d="M1338.7 1024.8l0-2.3-5.7 69.6 0 2.5z"/>
<path fill="#6262ff" stroke="#6262ff" d="M1338.7 1022.5l0-2.5-5.8 69.4 0.1 2.7z"/>
<path fill="#6767ff" stroke="#6767ff" d="M1338.7 1020l0-2.5-5.8 69.2 0 2.7z"/>
<path fill="#6d6dff" stroke="#6d6dff" d="M1338.7 1017.5l0-2.6-5.8 69 0 2.8z"/>
<path fill="#7272ff" stroke="#7272ff" d="M1338.7 1014.9l0-2.7-5.8 68.8 0 2.9z"/>
<path fill="#7878ff" stroke="#7878ff" d="M1338.7 1012.2l-0.1-2.7-5.7 68.5 0 3z"/>
<path fill="#7e7eff" stroke="#7e7eff" d="M1338.6 1009.5l0-2.7-5.8 68.2 0.1 3z"/>
<path fill="#8484ff" stroke="#8484ff" d="M1338.6 1006.8l0-2.8-5.8 68 0 3z"/>
<path fill="#8a8aff" stroke="#8a8aff" d="M1338.6 1004l0-2.8-5.8 67.8 0 3z"/>
<path fill="#9090ff" stroke="#9090ff" d="M1338.6 1001.2l0-2.8-5.8 67.6 0 3z"/>
<path fill="#9696ff" stroke="#9696ff" d="M1338.6 998.4l-0.1-2.8-5.7 67.4 0 3z"/>
<path fill="#9c9cff" stroke="#9c9cff" d="M1338.5 995.6l0-2.7-5.8 67.1 0.1 3z"/>
<path fill="#a2a2ff" stroke="#a2a2ff" d="M1338.5 992.9l0-2.7-5.8 66.9 0 2.9z"/>
<path fill="#a8a8ff" stroke="#a8a8ff" d="M1338.5 990.2l0-2.6-5.8 66.6 0 2.9z"/>
<path fill="#aeaeff" stroke="#aeaeff" d="M1338.5 987.6l0-2.5-5.8 66.4 0 2.7z"/>
<path fill="#b3b3ff" stroke="#b3b3ff" d="M1338.5 985.1l0-2.5-5.8 66.2 0 2.7z"/>
<path fill="#b8b8ff" stroke="#b8b8ff" d="M1338.5 982.6l0-2.3-5.9 66 0.1 2.5z"/>
<path fill="#bdbdff" stroke="#bdbdff" d="M1338.5 980.3l0-2.2-5.9 65.8 0 2.4z"/>
<path fill="#c2c2ff" stroke="#c2c2ff" d="M1338.5 978.1l-0.1-2.1-5.8 65.6 0 2.3z"/>
<path fill="#c6c6ff" stroke="#c6c6ff" d="M1338.4 976l0-2-5.8 65.5 0 2.1z"/>
<path fill="#cacaff" stroke="#cacaff" d="M1338.4 974l0-1.7-5.8 65.3 0 1.9z"/>
<path fill="#ccccff" stroke="#ccccff" d="M1338.4 972.3l0 0-5.8 65.3 0 0z"/>
<path fill="#ceceff" stroke="#ceceff" d="M1338.4 972.3l0-1.7-5.8 65.2 0 1.8z"/>
<path fill="#d1d1ff" stroke="#d1d1ff" d="M1338.4 970.6l0-1.6-5.8 65 0 1.8z"/>
<path fill="#d5d5ff" stroke="#d5d5ff" d="M1338.4 969l0.1-1.6-5.9 64.9 0 1.7z"/>
<path fill="#d8d8ff" stroke="#d8d8ff" d="M1338.5 967.4l0-1.6-5.9 64.7 0 1.8z"/>
<path fill="#dcdcff" stroke="#dcdcff" d="M1338.5 965.8l0-1.6-5.9 64.6 0 1.7z"/>
<path fill="#dfdfff" stroke="#dfdfff" d="M1338.5 964.2l0-1.5-5.9 64.5 0 1.6z"/>
<path fill="#e2e2ff" stroke="#e2e2ff" d="M1338.5 962.7l0-1.5-5.9 64.4 0 1.6z"/>
<path fill="#e5e5ff" stroke="#e5e5ff" d="M1338.5 961.2l0-1.4-5.9 64.2 0 1.6z"/>
<path fill="#eaeaff" stroke="#eaeaff" d="M1338.5 959.8l0-2.9-5.9 64 0 3.1z"/>
<path fill="#f0f0ff" stroke="#f0f0ff" d="M1338.5 956.9l0-2.6-5.8 63.7-0.1 2.9z"/>
<path fill="#f6f6ff" stroke="#f6f6ff" d="M1338.5 954.3l0-2.6-5.8 63.6 0 2.7z"/>
<path fill="#fbfbff" stroke="#fbfbff" d="M1338.5 951.7l0-2.3-5.8 63.3 0 2.6z"/>
<path fill="#fffefe" stroke="#fffefe" d="M1338.5 949.4l0.1-2.2-5.9 63.1 0 2.4z"/>
<path fill="#fffafa" stroke="#fffafa" d="M1338.6 947.2l0-2.1-5.9 63 0 2.2z"/>
<path fill="#fff5f5" stroke="#fff5f5" d="M1338.6 945.1l0-1.9-5.8 62.9-0.1 2z"/>
<path fill="#fff2f2" stroke="#fff2f2" d="M1338.6 943.2l0.1-1.7-5.9 62.7 0 1.9z"/>
<path fill="#fff0f0" stroke="#fff0f0" d="M1338.7 941.5l0 0-5.9 62.7 0 0z"/>
<path fill="#ffeeee" stroke="#ffeeee" d="M1338.7 941.5l0-1.5-5.9 62.5 0 1.7z"/>
<path fill="#ffebeb" stroke="#ffebeb" d="M1338.7 940l0-1.6-5.8 62.4-0.1 1.7z"/>
<path fill="#ffe7e7" stroke="#ffe7e7" d="M1338.7 938.4l0.1-1.5-5.9 62.3 0 1.6z"/>
<path fill="#ffe4e4" stroke="#ffe4e4" d="M1338.8 936.9l0-1.5-5.9 62.1 0 1.7z"/>
<path fill="#ffe1e1" stroke="#ffe1e1" d="M1338.8 935.4l0-1.5-5.8 62-0.1 1.6z"/>
<path fill="#ffdede" stroke="#ffdede" d="M1338.8 933.9l0.1-1.4-5.9 61.9 0 1.5z"/>
<path fill="#ffd9d9" stroke="#ffd9d9" d="M1338.9 932.5l0-2.8-5.8 61.6-0.1 3.1z"/>
<path fill="#ffd3d3" stroke="#ffd3d3" d="M1338.9 929.7l0.1-2.7-5.8 61.4-0.1 2.9z"/>
<path fill="#ffcece" stroke="#ffcece" d="M1339 927l0.1-2.6-5.8 61.2-0.1 2.8z"/>
<path fill="#ffc8c8" stroke="#ffc8c8" d="M1339.1 924.4l0.1-2.5-5.8 61-0.1 2.7z"/>
<path fill="#ffc3c3" stroke="#ffc3c3" d="M1339.2 921.9l0.1-2.4-5.9 60.8 0 2.6z"/>
<path fill="#ffbebe" stroke="#ffbebe" d="M1339.3 919.5l0-2.3-5.8 60.6-0.1 2.5z"/>
<path fill="#ffb9b9" stroke="#ffb9b9" d="M1339.3 917.2l0.1-2.2-5.8 60.3-0.1 2.5z"/>
<path fill="#ffb4b4" stroke="#ffb4b4" d="M1339.4 915l0.1-2.2-5.8 60.2-0.1 2.3z"/>
<path fill="#ffb0b0" stroke="#ffb0b0" d="M1339.5 912.8l0.1-2.1-5.8 60-0.1 2.3z"/>
<path fill="#ffabab" stroke="#ffabab" d="M1339.6 910.7l0.1-2-5.8 59.8-0.1 2.2z"/>
<path fill="#ffa7a7" stroke="#ffa7a7" d="M1339.7 908.7l0.1-2-5.8 59.7-0.1 2.1z"/>
<path fill="#ffa3a3" stroke="#ffa3a3" d="M1339.8 906.7l0.1-1.8-5.8 59.5-0.1 2z"/>
<path fill="#ff9f9f" stroke="#ff9f9f" d="M1339.9 904.9l0.1-1.9-5.8 59.4-0.1 2z"/>
<path fill="#ff9b9b" stroke="#ff9b9b" d="M1340 903l0.1-1.8-5.8 59.2-0.1 2z"/>
<path fill="#ff9797" stroke="#ff9797" d="M1340.1 901.2l0.1-1.7-5.8 59-0.1 1.9z"/>
<path fill="#ff9494" stroke="#ff9494" d="M1340.2 899.5l0.1-1.7-5.8 58.9-0.1 1.8z"/>
<path fill="#ff9090" stroke="#ff9090" d="M1340.3 897.8l0.1-1.7-5.8 58.8-0.1 1.8z"/>
<path fill="#ff8d8d" stroke="#ff8d8d" d="M1340.4 896.1l0-1.6-5.7 58.6-0.1 1.8z"/>
<path fill="#ff8989" stroke="#ff8989" d="M1340.4 894.5l0.1-1.6-5.7 58.4-0.1 1.8z"/>
<path fill="#ff8686" stroke="#ff8686" d="M1340.5 892.9l0.1-1.6-5.7 58.3-0.1 1.7z"/>
<path fill="#ff8282" stroke="#ff8282" d="M1340.6 891.3l0.1-1.6-5.7 58.2-0.1 1.7z"/>
<path fill="#ff7f7f" stroke="#ff7f7f" d="M1340.7 889.7l0.1-1.5-5.7 58-0.1 1.7z"/>
<path fill="#ff7c7c" stroke="#ff7c7c" d="M1340.8 888.2l0.1-1.6-5.7 57.9-0.1 1.7z"/>
<path fill="#ff7878" stroke="#ff7878" d="M1340.9 886.6l0.1-1.5-5.7 57.7-0.1 1.7z"/>
<path fill="#ff7575" stroke="#ff7575" d="M1341 885.1l0.1-1.6-5.7 57.7-0.1 1.6z"/>
<path fill="#ff7272" stroke="#ff7272" d="M1341.1 883.5l0.1-1.5-5.7 57.5-0.1 1.7z"/>
<path fill="#ff6e6e" stroke="#ff6e6e" d="M1341.2 882l0.1-1.6-5.7 57.4-0.1 1.7z"/>
<path fill="#ff6b6b" stroke="#ff6b6b" d="M1341.3 880.4l0.1-1.6-5.6 57.3-0.2 1.7z"/>
<path fill="#ff6868" stroke="#ff6868" d="M1341.4 878.8l0.1-1.6-5.6 57.1-0.1 1.8z"/>
<path fill="#ff6666" stroke="#ff6666" d="M1341.5 877.2l0 0-5.6 57.1 0 0z"/>
<path fill="#ff6464" stroke="#ff6464" d="M1341.5 877.2l0.1-1.6-5.6 56.9-0.1 1.8z"/>
<path fill="#ff6161" stroke="#ff6161" d="M1341.6 875.6l0.1-1.7-5.6 56.8-0.1 1.8z"/>
<path fill="#ff5d5d" stroke="#ff5d5d" d="M1341.7 873.9l0.1-1.7-5.6 56.6-0.1 1.9z"/>
<path fill="#ff5959" stroke="#ff5959" d="M1341.8 872.2l0.1-1.8-5.6 56.6-0.1 1.8z"/>
<path fill="#ff5656" stroke="#ff5656" d="M1341.9 870.4l0.1-1.7-5.6 56.3-0.1 2z"/>
<path fill="#ff5252" stroke="#ff5252" d="M1342 868.7l0.1-1.8-5.6 56.2-0.1 1.9z"/>
<path fill="#ff4e4e" stroke="#ff4e4e" d="M1342.1 866.9l0.1-1.8-5.6 56-0.1 2z"/>
<path fill="#ff4a4a" stroke="#ff4a4a" d="M1342.2 865.1l0.1-1.8-5.6 55.9-0.1 1.9z"/>
<path fill="#ff4646" stroke="#ff4646" d="M1342.3 863.3l0.1-1.8-5.6 55.7-0.1 2z"/>
<path fill="#ff4343" stroke="#ff4343" d="M1342.4 861.5l0.1-1.8-5.6 55.5-0.1 2z"/>
<path fill="#ff3f3f" stroke="#ff3f3f" d="M1342.5 859.7l0.1-1.8-5.6 55.4-0.1 1.9z"/>
<path fill="#ff3b3b" stroke="#ff3b3b" d="M1342.6 857.9l0.1-1.8-5.6 55.2-0.1 2z"/>
<path fill="#ff3737" stroke="#ff3737" d="M1342.7 856.1l0.1-1.8-5.6 55.1-0.1 1.9z"/>
<path fill="#ff3333" stroke="#ff3333" d="M1342.8 854.3l0.1-1.7-5.6 54.9-0.1 1.9z"/>
<path fill="#ff3030" stroke="#ff3030" d="M1342.9 852.6l0-1.8-5.5 54.8-0.1 1.9z"/>
<path fill="#ff2c2c" stroke="#ff2c2c" d="M1342.9 850.8l0.1-1.6-5.5 54.6-0.1 1.8z"/>
<path fill="#ff2929" stroke="#ff2929" d="M1343 849.2l0.1-1.7-5.5 54.5-0.1 1.8z"/>
<path fill="#ff2525" stroke="#ff2525" d="M1343.1 847.5l0.1-1.6-5.5 54.4-0.1 1.7z"/>
<path fill="#ff2222" stroke="#ff2222" d="M1343.2 845.9l0.1-1.5-5.5 54.2-0.1 1.7z"/>
<path fill="#ff1d1d" stroke="#ff1d1d" d="M1343.3 844.4l0.2-2.9-5.5 54-0.2 3.1z"/>
<path fill="#ff1010" stroke="#ff1010" d="M1343.5 841.5l1.5-10-5.4 53.1-1.6 10.9z"/>
<path fill="#ff1212" stroke="#ff1212" d="M1345 831.5l0.6 11.8-5.4 54.1-0.6-12.8z"/>
<path fill="#ff2020" stroke="#ff2020" d="M1345.6 843.3l0 1.9-5.3 54.3-0.1-2.1z"/>
<path fill="#ff2424" stroke="#ff2424" d="M1345.6 845.2l0.1 2-5.3 54.4-0.1-2.1z"/>
<path fill="#ff2828" stroke="#ff2828" d="M1345.7 847.2l0.1 2-5.3 54.7-0.1-2.3z"/>
<path fill="#ff2d2d" stroke="#ff2d2d" d="M1345.8 849.2l0 2.2-5.3 54.9 0-2.4z"/>
<path fill="#ff3232" stroke="#ff3232" d="M1345.8 851.4l0.1 2.3-5.3 55.1-0.1-2.5z"/>
<path fill="#ff3737" stroke="#ff3737" d="M1345.9 853.7l0.1 2.3-5.3 55.3-0.1-2.5z"/>
<path fill="#ff3c3c" stroke="#ff3c3c" d="M1346 856l0.1 2.5-5.3 55.5-0.1-2.7z"/>
<path fill="#ff4141" stroke="#ff4141" d="M1346.1 858.5l0 2.5-5.2 55.7-0.1-2.7z"/>
<path fill="#ff4646" stroke="#ff4646" d="M1346.1 861l0.1 2.6-5.3 55.9 0-2.8z"/>
<path fill="#ff4c4c" stroke="#ff4c4c" d="M1346.2 863.6l0.1 2.6-5.3 56.2-0.1-2.9z"/>
<path fill="#ff5252" stroke="#ff5252" d="M1346.3 866.2l0.1 2.7-5.3 56.4-0.1-2.9z"/>
<path fill="#ff5757" stroke="#ff5757" d="M1346.4 868.9l0 2.7-5.2 56.7-0.1-3z"/>
<path fill="#ff5d5d" stroke="#ff5d5d" d="M1346.4 871.6l0.1 2.8-5.2 56.9-0.1-3z"/>
<path fill="#ff6363" stroke="#ff6363" d="M1346.5 874.4l0.1 2.9-5.2 57.1-0.1-3.1z"/>
<path fill="#ff6969" stroke="#ff6969" d="M1346.6 877.3l0.1 2.8-5.2 57.4-0.1-3.1z"/>
<path fill="#ff6e6e" stroke="#ff6e6e" d="M1346.7 880.1l0 1.4-5.2 57.5 0-1.5z"/>
<path fill="#ff7171" stroke="#ff7171" d="M1346.7 881.5l0 1.5-5.1 57.6-0.1-1.6z"/>
<path fill="#ff7474" stroke="#ff7474" d="M1346.7 883l0.1 1.4-5.2 57.8 0-1.6z"/>
<path fill="#ff7777" stroke="#ff7777" d="M1346.8 884.4l0 1.5-5.2 57.9 0-1.6z"/>
<path fill="#ff7a7a" stroke="#ff7a7a" d="M1346.8 885.9l0.1 1.4-5.2 58-0.1-1.5z"/>
<path fill="#ff7d7d" stroke="#ff7d7d" d="M1346.9 887.3l0 1.5-5.2 58.1 0-1.6z"/>
<path fill="#ff8080" stroke="#ff8080" d="M1346.9 888.8l0 1.4-5.1 58.3-0.1-1.6z"/>
<path fill="#ff8383" stroke="#ff8383" d="M1346.9 890.2l0.1 1.5-5.2 58.4 0-1.6z"/>
<path fill="#ff8787" stroke="#ff8787" d="M1347 891.7l0 1.5-5.1 58.5-0.1-1.6z"/>
<path fill="#ff8a8a" stroke="#ff8a8a" d="M1347 893.2l0.1 1.4-5.2 58.7 0-1.6z"/>
<path fill="#ff8d8d" stroke="#ff8d8d" d="M1347.1 894.6l0 1.5-5.1 58.8-0.1-1.6z"/>
<path fill="#ff9090" stroke="#ff9090" d="M1347.1 896.1l0 1.4-5.1 58.9 0-1.5z"/>
<path fill="#ff9393" stroke="#ff9393" d="M1347.1 897.5l0.1 1.5-5.1 59-0.1-1.6z"/>
<path fill="#ff9696" stroke="#ff9696" d="M1347.2 899l0 1.4-5.1 59.2 0-1.6z"/>
<path fill="#ff9999" stroke="#ff9999" d="M1347.2 900.4l0.1 1.5-5.2 59.3 0-1.6z"/>
<path fill="#ff9c9c" stroke="#ff9c9c" d="M1347.3 901.9l0 1.4-5.1 59.4-0.1-1.5z"/>
<path fill="#ff9f9f" stroke="#ff9f9f" d="M1347.3 903.3l0 1.5-5.1 59.5 0-1.6z"/>
<path fill="#ffa4a4" stroke="#ffa4a4" d="M1347.3 904.8l0.1 2.8-5.1 59.8-0.1-3.1z"/>
<path fill="#ffaaaa" stroke="#ffaaaa" d="M1347.4 907.6l0.1 2.8-5.1 60.1-0.1-3.1z"/>
<path fill="#ffb0b0" stroke="#ffb0b0" d="M1347.5 910.4l0.1 2.8-5.1 60.3-0.1-3z"/>
<path fill="#ffb6b6" stroke="#ffb6b6" d="M1347.6 913.2l0.1 2.8-5.1 60.5-0.1-3z"/>
<path fill="#ffbcbc" stroke="#ffbcbc" d="M1347.7 916l0 2.6-5 60.8-0.1-2.9z"/>
<path fill="#ffc2c2" stroke="#ffc2c2" d="M1347.7 918.6l0.1 2.7-5 61-0.1-2.9z"/>
<path fill="#ffc7c7" stroke="#ffc7c7" d="M1347.8 921.3l0.1 2.6-5.1 61.2 0-2.8z"/>
<path fill="#ffcdcd" stroke="#ffcdcd" d="M1347.9 923.9l0.1 2.5-5.1 61.4-0.1-2.7z"/>
<path fill="#ffd2d2" stroke="#ffd2d2" d="M1348 926.4l0 2.4-5 61.6-0.1-2.6z"/>
<path fill="#ffd7d7" stroke="#ffd7d7" d="M1348 928.8l0.1 2.4-5 61.8-0.1-2.6z"/>
<path fill="#ffdcdc" stroke="#ffdcdc" d="M1348.1 931.2l0.1 2.3-5 62-0.1-2.5z"/>
<path fill="#ffe1e1" stroke="#ffe1e1" d="M1348.2 933.5l0 2.1-5 62.3 0-2.4z"/>
<path fill="#ffe4e4" stroke="#ffe4e4" d="M1348.2 935.6l0.1 1.1-5 62.3-0.1-1.1z"/>
<path fill="#ffe7e7" stroke="#ffe7e7" d="M1348.3 936.7l0 1.1-5 62.4 0-1.2z"/>
<path fill="#ffeaea" stroke="#ffeaea" d="M1348.3 937.8l0.1 2.1-5 62.6-0.1-2.3z"/>
<path fill="#ffefef" stroke="#ffefef" d="M1348.4 939.9l0 2.2-4.9 62.8-0.1-2.4z"/>
<path fill="#fff4f4" stroke="#fff4f4" d="M1348.4 942.1l0.1 2.3-5 63 0-2.5z"/>
<path fill="#fff9f9" stroke="#fff9f9" d="M1348.5 944.4l0.1 2.4-5 63.1-0.1-2.5z"/>
<path fill="#fffefe" stroke="#fffefe" d="M1348.6 946.8l0 2.3-4.9 63.4-0.1-2.6z"/>
<path fill="#fbfbff" stroke="#fbfbff" d="M1348.6 949.1l0.1 2.5-4.9 63.5-0.1-2.6z"/>
<path fill="#f6f6ff" stroke="#f6f6ff" d="M1348.7 951.6l0.1 2.4-4.9 63.8-0.1-2.7z"/>
<path fill="#f1f1ff" stroke="#f1f1ff" d="M1348.8 954l0.1 2.5-4.9 64-0.1-2.7z"/>
<path fill="#ebebff" stroke="#ebebff" d="M1348.9 956.5l0 2.5-4.9 64.3 0-2.8z"/>
<path fill="#e6e6ff" stroke="#e6e6ff" d="M1348.9 959l0.1 2.6-4.9 64.4-0.1-2.7z"/>
<path fill="#e0e0ff" stroke="#e0e0ff" d="M1349 961.6l0.1 2.5-4.9 64.7-0.1-2.8z"/>
<path fill="#dbdbff" stroke="#dbdbff" d="M1349.1 964.1l0.1 2.6-4.9 64.9-0.1-2.8z"/>
<path fill="#d5d5ff" stroke="#d5d5ff" d="M1349.2 966.7l0 2.6-4.8 65.1-0.1-2.8z"/>
<path fill="#cfcfff" stroke="#cfcfff" d="M1349.2 969.3l0.1 2.6-4.8 65.4-0.1-2.9z"/>
<path fill="#cacaff" stroke="#cacaff" d="M1349.3 971.9l0.1 2.6-4.9 65.6 0-2.8z"/>
<path fill="#c4c4ff" stroke="#c4c4ff" d="M1349.4 974.5l0.1 2.6-4.9 65.8-0.1-2.8z"/>
<path fill="#bebeff" stroke="#bebeff" d="M1349.5 977.1l0 2.6-4.8 66-0.1-2.8z"/>
<path fill="#b9b9ff" stroke="#b9b9ff" d="M1349.5 979.7l0.1 2.6-4.8 66.2-0.1-2.8z"/>
<path fill="#b3b3ff" stroke="#b3b3ff" d="M1349.6 982.3l0.1 2.6-4.8 66.4-0.1-2.8z"/>
<path fill="#aeaeff" stroke="#aeaeff" d="M1349.7 984.9l0.1 2.5-4.8 66.7-0.1-2.8z"/>
<path fill="#a8a8ff" stroke="#a8a8ff" d="M1349.8 987.4l0 2.6-4.8 66.8 0-2.7z"/>
<path fill="#a3a3ff" stroke="#a3a3ff" d="M1349.8 990l0.1 2.5-4.8 67-0.1-2.7z"/>
<path fill="#9d9dff" stroke="#9d9dff" d="M1349.9 992.5l0.1 2.4-4.8 67.3-0.1-2.7z"/>
<path fill="#9898ff" stroke="#9898ff" d="M1350 994.9l0 2.5-4.7 67.5-0.1-2.7z"/>
<path fill="#9393ff" stroke="#9393ff" d="M1350 997.4l0.1 2.3-4.7 67.7-0.1-2.5z"/>
<path fill="#8e8eff" stroke="#8e8eff" d="M1350.1 999.7l0.1 2.4-4.8 67.9 0-2.6z"/>
<path fill="#8989ff" stroke="#8989ff" d="M1350.2 1002.1l0 2.3-4.7 68.1-0.1-2.5z"/>
<path fill="#8484ff" stroke="#8484ff" d="M1350.2 1004.4l0.1 2.2-4.7 68.3-0.1-2.4z"/>
<path fill="#7f7fff" stroke="#7f7fff" d="M1350.3 1006.6l0.1 2.2-4.7 68.5-0.1-2.4z"/>
<path fill="#7a7aff" stroke="#7a7aff" d="M1350.4 1008.8l0.1 2.1-4.8 68.7 0-2.3z"/>
<path fill="#7676ff" stroke="#7676ff" d="M1350.5 1010.9l0 2.1-4.7 68.8-0.1-2.2z"/>
<path fill="#7171ff" stroke="#7171ff" d="M1350.5 1013l0.1 1.9-4.7 69-0.1-2.1z"/>
<path fill="#6d6dff" stroke="#6d6dff" d="M1350.6 1014.9l0 1.9-4.6 69.2-0.1-2.1z"/>
<path fill="#6969ff" stroke="#6969ff" d="M1350.6 1016.8l0.1 1.9-4.7 69.3 0-2z"/>
<path fill="#6565ff" stroke="#6565ff" d="M1350.7 1018.7l0.1 1.7-4.7 69.4-0.1-1.8z"/>
<path fill="#6161ff" stroke="#6161ff" d="M1350.8 1020.4l0 1.6-4.6 69.6-0.1-1.8z"/>
<path fill="#5e5eff" stroke="#5e5eff" d="M1350.8 1022l0.1 1.6-4.7 69.7 0-1.7z"/>
<path fill="#5b5bff" stroke="#5b5bff" d="M1350.9 1023.6l0 1.4-4.6 69.9-0.1-1.6z"/>
<path fill="#5656ff" stroke="#5656ff" d="M1350.9 1025l0.1 2.6-4.6 70.1-0.1-2.8z"/>
<path fill="#5151ff" stroke="#5151ff" d="M1351 1027.6l0.1 2.2-4.6 70.2-0.1-2.3z"/>
<path fill="#4d4dff" stroke="#4d4dff" d="M1351.1 1029.8l0.1 1.7-4.6 70.3-0.1-1.8z"/>
<path fill="#4949ff" stroke="#4949ff" d="M1351.2 1031.5l0.2 1.6-4.6 70.6-0.2-1.9z"/>
<path fill="#4646ff" stroke="#4646ff" d="M1351.4 1033.1l0.1 1-4.6 70.7-0.1-1.1z"/>
<path fill="#4444ff" stroke="#4444ff" d="M1351.5 1034.1l0.4 1.4-4.6 70.7-0.4-1.4z"/>
<path fill="#4343ff" stroke="#4343ff" d="M1351.9 1035.5l1.6-0.5-4.4 70.7-1.8 0.5z"/>
<path fill="#4545ff" stroke="#4545ff" d="M1353.5 1035l2-1.5-4.3 70.5-2.1 1.7z"/>
<path fill="#4949ff" stroke="#4949ff" d="M1355.5 1033.5l1.9-2.4-4.1 70.4-2.1 2.5z"/>
<path fill="#4d4dff" stroke="#4d4dff" d="M1357.4 1031.1l1-1.4-4 70.2-1.1 1.6z"/>
<path fill="#5050ff" stroke="#5050ff" d="M1358.4 1029.7l0.9-1.5-3.9 70.1-1 1.6z"/>
<path fill="#5454ff" stroke="#5454ff" d="M1359.3 1028.2l1-1.6-3.8 70-1.1 1.7z"/>
<path fill="#5757ff" stroke="#5757ff" d="M1360.3 1026.6l0.9-1.6-3.7 69.9-1 1.7z"/>
<path fill="#5b5bff" stroke="#5b5bff" d="M1361.2 1025l1-1.6-3.6 69.7-1.1 1.8z"/>
<path fill="#5e5eff" stroke="#5e5eff" d="M1362.2 1023.4l1-1.5-3.6 69.6-1 1.6z"/>
<path fill="#6363ff" stroke="#6363ff" d="M1363.2 1021.9l1.9-2.8-3.4 69.4-2.1 3z"/>
<path fill="#6666ff" stroke="#6666ff" d="M1365.1 1019.1l0.1-0.1-3.4 69.3-0.1 0.2z"/>
<path fill="#6969ff" stroke="#6969ff" d="M1365.2 1019l1.8-2.3-3.2 69.1-2 2.5z"/>
<path fill="#6e6eff" stroke="#6e6eff" d="M1367 1016.7l2-2.5-3.1 69-2.1 2.6z"/>
<path fill="#7373ff" stroke="#7373ff" d="M1369 1014.2l1.9-2.4-2.9 68.8-2.1 2.6z"/>
<path fill="#7878ff" stroke="#7878ff" d="M1370.9 1011.8l2-2.5-2.8 68.6-2.1 2.7z"/>
<path fill="#7e7eff" stroke="#7e7eff" d="M1372.9 1009.3l1.9-2.5-2.6 68.3-2.1 2.8z"/>
<path fill="#8383ff" stroke="#8383ff" d="M1374.8 1006.8l1.9-2.7-2.3 68.2-2.2 2.8z"/>
<path fill="#8989ff" stroke="#8989ff" d="M1376.7 1004.1l2-2.7-2.2 67.9-2.1 3z"/>
<path fill="#8c8cff" stroke="#8c8cff" d="M1378.7 1001.4l0.1-0.1-2.2 67.9-0.1 0.1z"/>
<path fill="#8e8eff" stroke="#8e8eff" d="M1378.8 1001.3l0.8-1.3-2.1 67.8-0.9 1.4z"/>
<path fill="#9191ff" stroke="#9191ff" d="M1379.6 1000l1-1.4-2 67.6-1.1 1.6z"/>
<path fill="#9494ff" stroke="#9494ff" d="M1380.6 998.6l1-1.5-2 67.5-1 1.6z"/>
<path fill="#9797ff" stroke="#9797ff" d="M1381.6 997.1l1-1.6-1.9 67.5-1.1 1.6z"/>
<path fill="#9a9aff" stroke="#9a9aff" d="M1382.6 995.5l0.9-1.5-1.8 67.3-1 1.7z"/>
<path fill="#9e9eff" stroke="#9e9eff" d="M1383.5 994l1-1.6-1.7 67.2-1.1 1.7z"/>
<path fill="#a1a1ff" stroke="#a1a1ff" d="M1384.5 992.4l1-1.6-1.7 67.1-1 1.7z"/>
<path fill="#a5a5ff" stroke="#a5a5ff" d="M1385.5 990.8l0.9-1.6-1.5 67-1.1 1.7z"/>
<path fill="#a8a8ff" stroke="#a8a8ff" d="M1386.4 989.2l1-1.6-1.5 66.8-1 1.8z"/>
<path fill="#ababff" stroke="#ababff" d="M1387.4 987.6l1-1.6-1.4 66.7-1.1 1.7z"/>
<path fill="#afafff" stroke="#afafff" d="M1388.4 986l0.9-1.6-1.3 66.6-1 1.7z"/>
<path fill="#b2b2ff" stroke="#b2b2ff" d="M1389.3 984.4l1-1.5-1.2 66.4-1.1 1.7z"/>
<path fill="#b6b6ff" stroke="#b6b6ff" d="M1390.3 982.9l1-1.6-1.2 66.3-1 1.7z"/>
<path fill="#b7b7ff" stroke="#b7b7ff" d="M1391.3 981.3l0.1-0.1-1.1 66.2-0.2 0.2z"/>
<path fill="#b9b9ff" stroke="#b9b9ff" d="M1391.4 981.2l0.8-1.5-1 66.2-0.9 1.5z"/>
<path fill="#bdbdff" stroke="#bdbdff" d="M1392.2 979.7l1-1.8-1 66-1 2z"/>
<path fill="#c1c1ff" stroke="#c1c1ff" d="M1393.2 977.9l1-1.9-0.9 65.8-1.1 2.1z"/>
<path fill="#c5c5ff" stroke="#c5c5ff" d="M1394.2 976l0.9-2-0.8 65.7-1 2.1z"/>
<path fill="#c9c9ff" stroke="#c9c9ff" d="M1395.1 974l1-2-0.7 65.5-1.1 2.2z"/>
<path fill="#ceceff" stroke="#ceceff" d="M1396.1 972l1-2-0.7 65.3-1 2.2z"/>
<path fill="#d2d2ff" stroke="#d2d2ff" d="M1397.1 970l0.9-1.9-0.5 65.2-1.1 2z"/>
<path fill="#d6d6ff" stroke="#d6d6ff" d="M1398 968.1l1-1.7-0.5 65.1-1 1.8z"/>
<path fill="#dadaff" stroke="#dadaff" d="M1399 966.4l2-2.7-0.3 64.8-2.2 3z"/>
<path fill="#dfdfff" stroke="#dfdfff" d="M1401 963.7l1.9-1.4-0.1 64.7-2.1 1.5z"/>
<path fill="#e0e0ff" stroke="#e0e0ff" d="M1402.9 962.3l0.6-0.1 0.4 0.3 0 64.7-0.4-0.3-0.7 0.1z"/>
<path fill="#dedeff" stroke="#dedeff" d="M1403.9 962.5l0.5 1.3 0 64.8-0.5-1.4z"/>
<path fill="#dcdcff" stroke="#dcdcff" d="M1404.4 963.8l0.3 1 0 64.9-0.3-1.1z"/>
<path fill="#dadaff" stroke="#dadaff" d="M1404.7 964.8l0.1 0.5 0 65-0.1-0.6z"/>
<path fill="#d8d8ff" stroke="#d8d8ff" d="M1404.8 965.3l0.2 1.9 0 65.1-0.2-2z"/>
<path fill="#d4d4ff" stroke="#d4d4ff" d="M1405 967.2l0 1.5 0.1 65.3-0.1-1.7z"/>
<path fill="#d0d0ff" stroke="#d0d0ff" d="M1405 968.7l0.1 1.8 0.1 65.5-0.1-2z"/>
<path fill="#ccccff" stroke="#ccccff" d="M1405.1 970.5l0.1 2.1 0.1 65.6-0.1-2.2z"/>
<path fill="#c7c7ff" stroke="#c7c7ff" d="M1405.2 972.6l0.1 2.3 0.1 65.7-0.1-2.4z"/>
<path fill="#c2c2ff" stroke="#c2c2ff" d="M1405.3 974.9l0.1 2.3 0.1 66-0.1-2.6z"/>
<path fill="#bdbdff" stroke="#bdbdff" d="M1405.4 977.2l0.1 2.4 0.1 66.2-0.1-2.6z"/>
<path fill="#b8b8ff" stroke="#b8b8ff" d="M1405.5 979.6l0.1 2.5 0.1 66.4-0.1-2.7z"/>
<path fill="#b3b3ff" stroke="#b3b3ff" d="M1405.6 982.1l0.1 2.3 0.1 66.6-0.1-2.5z"/>
<path fill="#aeaeff" stroke="#aeaeff" d="M1405.7 984.4l0.1 2.2 0.1 66.7-0.1-2.3z"/>
<path fill="#aaaaff" stroke="#aaaaff" d="M1405.8 986.6l0 1.5 0.2 66.9-0.1-1.7z"/>
<path fill="#a8a8ff" stroke="#a8a8ff" d="M1405.8 988.1l0 0.5 0.2 66.9 0-0.5z"/>
<path fill="#a5a5ff" stroke="#a5a5ff" d="M1405.8 988.6l0.1 1.9 0.2 67.1-0.1-2.1z"/>
<path fill="#a1a1ff" stroke="#a1a1ff" d="M1405.9 990.5l0.1 1.9 0.2 67.3-0.1-2.1z"/>
<path fill="#9d9dff" stroke="#9d9dff" d="M1406 992.4l0.1 1.9 0.2 67.4-0.1-2z"/>
<path fill="#9999ff" stroke="#9999ff" d="M1406.1 994.3l0.1 2 0.2 67.5-0.1-2.1z"/>
<path fill="#9494ff" stroke="#9494ff" d="M1406.2 996.3l0.1 1.9 0.2 67.7-0.1-2.1z"/>
<path fill="#9090ff" stroke="#9090ff" d="M1406.3 998.2l0.1 1.9 0.2 67.9-0.1-2.1z"/>
<path fill="#8c8cff" stroke="#8c8cff" d="M1406.4 1000.1l0 2 0.2 68 0-2.1z"/>
<path fill="#8888ff" stroke="#8888ff" d="M1406.4 1002.1l0.1 1.9 0.2 68.2-0.1-2.1z"/>
<path fill="#8484ff" stroke="#8484ff" d="M1406.5 1004l0.1 1.9 0.2 68.4-0.1-2.1z"/>
<path fill="#7f7fff" stroke="#7f7fff" d="M1406.6 1005.9l0.1 2 0.2 68.5-0.1-2.1z"/>
<path fill="#7b7bff" stroke="#7b7bff" d="M1406.7 1007.9l0.1 1.9 0.2 68.7-0.1-2.1z"/>
<path fill="#7777ff" stroke="#7777ff" d="M1406.8 1009.8l0.1 2 0.2 68.8-0.1-2.1z"/>
<path fill="#7373ff" stroke="#7373ff" d="M1406.9 1011.8l0.1 1.9 0.2 69-0.1-2.1z"/>
<path fill="#6e6eff" stroke="#6e6eff" d="M1407 1013.7l0 1.9 0.3 69.2-0.1-2.1z"/>
<path fill="#6a6aff" stroke="#6a6aff" d="M1407 1015.6l0.1 2 0.3 69.3-0.1-2.1z"/>
<path fill="#6767ff" stroke="#6767ff" d="M1407.1 1017.6l0.1 1.4 0.3 69.5-0.1-1.6z"/>
<path fill="#6464ff" stroke="#6464ff" d="M1407.2 1019l0 0.5 0.3 69.5 0-0.5z"/>
<path fill="#6262ff" stroke="#6262ff" d="M1407.2 1019.5l0.1 2 0.3 69.7-0.1-2.2z"/>
<path fill="#5d5dff" stroke="#5d5dff" d="M1407.3 1021.5l0.1 2 0.3 69.9-0.1-2.2z"/>
<path fill="#5959ff" stroke="#5959ff" d="M1407.4 1023.5l0.1 2.1 0.3 70-0.1-2.2z"/>
<path fill="#5454ff" stroke="#5454ff" d="M1407.5 1025.6l0.1 2.1 0.3 70.2-0.1-2.3z"/>
<path fill="#5050ff" stroke="#5050ff" d="M1407.6 1027.7l0 2.2 0.4 70.4-0.1-2.4z"/>
<path fill="#4b4bff" stroke="#4b4bff" d="M1407.6 1029.9l0.1 2.1 0.4 70.6-0.1-2.3z"/>
<path fill="#4646ff" stroke="#4646ff" d="M1407.7 1032l0.1 2.2 0.4 70.7-0.1-2.3z"/>
<path fill="#4242ff" stroke="#4242ff" d="M1407.8 1034.2l0.1 2.1 0.4 70.9-0.1-2.3z"/>
<path fill="#3d3dff" stroke="#3d3dff" d="M1407.9 1036.3l0.1 2.1 0.4 71.1-0.1-2.3z"/>
<path fill="#3838ff" stroke="#3838ff" d="M1408 1038.4l0.1 2 0.3 71.3 0-2.2z"/>
<path fill="#3434ff" stroke="#3434ff" d="M1408.1 1040.4l0.1 2 0.3 71.4-0.1-2.1z"/>
<path fill="#3030ff" stroke="#3030ff" d="M1408.2 1042.4l0 2 0.4 71.5-0.1-2.1z"/>
<path fill="#2c2cff" stroke="#2c2cff" d="M1408.2 1044.4l0.1 1.8 0.4 71.7-0.1-2z"/>
<path fill="#2828ff" stroke="#2828ff" d="M1408.3 1046.2l0.1 1.7 0.4 71.9-0.1-1.9z"/>
<path fill="#2424ff" stroke="#2424ff" d="M1408.4 1047.9l0.1 1.7 0.4 72-0.1-1.8z"/>
<path fill="#2121ff" stroke="#2121ff" d="M1408.5 1049.6l0.1 1.5 0.4 72.1-0.1-1.6z"/>
<path fill="#1d1dff" stroke="#1d1dff" d="M1408.6 1051.1l0.1 1.8 0.4 72.2-0.1-1.9z"/>
<path fill="#1a1aff" stroke="#1a1aff" d="M1408.7 1052.9l0 0.8 0.5 72.3-0.1-0.9z"/>
<path fill="#1717ff" stroke="#1717ff" d="M1408.7 1053.7l0.2 2.4 0.4 72.5-0.1-2.6z"/>
<path fill="#1111ff" stroke="#1111ff" d="M1408.9 1056.1l0.1 2.2 0.5 72.7-0.2-2.4z"/>
<path fill="#0d0dff" stroke="#0d0dff" d="M1409 1058.3l0.2 2 0.5 72.9-0.2-2.2z"/>
<path fill="#0808ff" stroke="#0808ff" d="M1409.2 1060.3l0.2 2.5 0.5 73.1-0.2-2.7z"/>
<path fill="#0505ff" stroke="#0505ff" d="M1409.4 1062.8l0.1 0.1 0.5 73.1-0.1-0.1z"/>
<path fill="#0202ff" stroke="#0202ff" d="M1409.5 1062.9l0.5 2.2 0.5 73.3-0.5-2.4z"/>
<path fill="#0000ff" stroke="#0000ff" d="M1410 1065.1l1.5 0 1.9 0 1.7 0 0.3 0 2-0.1 1.9 0 2 0 2 0 1.9 0 2-0.1 2 0 1.9 0 2.4 73.3-2.2 0-2.1 0-2.1 0.1-2.2 0-2.1 0-2.1 0-2.2 0-2.1 0.1-0.3 0-1.8 0-2.2 0-1.6 0z"/>
<path fill="#0000ff" stroke="#0000ff" d="M1431.1 1064.9l2 0 2 0 1.9-0.1 2 0 2 0 1.9 0 2 0 2-0.1 1.9 0 2 0 2 0 1.9-0.1 2 0 2 0 1.9 0 2 0 2-0.1 1.9 0 2 0 2 0 1.9 0 2-0.1 1.9 0 2 0 2 0 1.9 0 2-0.1 2 0 1.9 0 2 0 2 0 1.9-0.1 2 0 2 0 1.9 0 2 0 2-0.1 1.9 0 2 0 2 0 1.9-0.1 2 0 2 0 1.9 0 2 0 2-0.1 1.9 0 2 0 1.9 0 2 0 2-0.1 1.9 0 2 0 2 0 1.9 0 2-0.1 2 0 1.9 0 2 0 2 0 1.9-0.1 2 0 1.9 0 2 0 2-0.1 1.9 0 2 0 2 0 1.9 0 2-0.1 2 0 1.9 0 2 0 1.9 0 2-0.1 2 0 1.9 0 2 0 2 0 1.9-0.1 2 0 2 0 1.9 0 2 0 1.9-0.1 2 0 2 0 1.9 0 2-0.1 2 0 1.9 0 2 0 1.9 0 2-0.1 2 0 1.9 0 2 0 2 0 1.9-0.1 2 0 1.9 0 2 0 2 0 1.9-0.1 2 0 2 0 1.9 0 2 0 1.9-0.1 2 0 2 0 1.9 0 2 0 2-0.1 1.9 0 2 0 1.9 0 2-0.1 2 0 1.9 0 2 0 1.9 0 2-0.1 2 0 1.9 0 2 0 1.9 0 2-0.1 2 0 1.9 0 2 0 2 0 1.9-0.1 2 0 1.9 0 2 0 2 0 1.9-0.1 2 0 1.9 0 2 0 2-0.1 1.9 0 2 0 0.7 0 24.1 73.4-0.8 0-2.1 0.1-2.1 0-2.1 0-2.1 0-2.1 0-2.1 0.1-2 0-2.1 0-2.1 0-2.1 0-2.1 0.1-2.1 0-2.1 0-2.1 0-2.1 0-2.1 0.1-2.1 0-2.1 0-2.1 0-2.1 0-2.1 0.1-2.1 0-2.1 0-2.1 0-2.1 0-2.2 0.1-2.1 0-2.1 0-2.1 0-2.1 0-2.1 0.1-2.1 0-2.1 0-2.1 0-2.1 0-2.1 0.1-2.1 0-2.1 0-2.1 0-2.1 0-2.1 0.1-2.1 0-2.1 0-2.1 0-2.1 0-2.2 0.1-2.1 0-2.1 0-2.1 0-2.1 0-2.1 0-2.1 0.1-2.1 0-2.1 0-2.1 0-2.1 0-2.2 0.1-2.1 0-2.1 0-2.1 0-2.1 0-2.1 0.1-2.1 0-2.1 0-2.1 0-2.2 0-2.1 0.1-2.1 0-2.1 0-2.1 0-2.1 0-2.1 0.1-2.2 0-2.1 0-2.1 0-2.1 0-2.1 0.1-2.1 0-2.1 0-2.2 0-2.1 0-2.1 0.1-2.1 0-2.1 0-2.1 0-2.2 0-2.1 0.1-2.1 0-2.1 0-2.1 0-2.2 0-2.1 0.1-2.1 0-2.1 0-2.1 0-2.2 0-2.1 0.1-2.1 0-2.1 0-2.1 0-2.2 0-2.1 0.1-2.1 0-2.1 0-2.2 0-2.1 0-2.1 0.1-2.1 0-2.1 0-2.2 0-2.1 0-2.1 0.1-2.1 0-2.2 0-2.1 0-2.1 0-2.1 0.1-2.2 0-2.1 0-2.1 0-2.1 0-2.2 0.1-2.1 0-2.1 0-2.2 0-2.1 0-2.1 0.1-2.1 0-2.2 0-2.1 0-2.1 0-2.2 0.1-2.1 0-2.1 0-2.2 0-2.1 0-2.1 0.1-2.1 0-2.2 0-2.1 0-2.1 0-2.2 0.1-2.1 0-2.1 0z"/></g>
<text x="95.5" y="434.6" font-family="Liberation Serif, serif" font-weight="bold" font-size="26.5">Cr</text>
<text x="130.5" y="434.6" font-family="Liberation Serif, serif" font-weight="bold" font-size="26.5">Ge</text>
<text x="171.4" y="434.6" font-family="Liberation Serif, serif" font-weight="bold" font-size="26.5">Ti</text>
<text x="209.5" y="434.6" font-family="Liberation Serif, serif" font-weight="bold" font-size="26.5">Bi</text>
<text x="325.0" y="434.6" font-family="Liberation Serif, serif" font-weight="bold" font-size="26.5">YbF<tspan font-size="17" dx="-1.5" dy="7">3</tspan></text>
<text x="475.5" y="434.6" font-family="Liberation Serif, serif" font-weight="bold" font-size="26.5">Ge</text>
<text x="541.4" y="434.6" font-family="Liberation Serif, serif" font-weight="bold" font-size="26.5">Air</text>
<text x="668.5" y="434.6" font-family="Liberation Serif, serif" font-weight="bold" font-size="26.5">Cr</text>
<text x="703.5" y="434.6" font-family="Liberation Serif, serif" font-weight="bold" font-size="26.5">Ge</text>
<text x="744.4" y="434.6" font-family="Liberation Serif, serif" font-weight="bold" font-size="26.5">Ti</text>
<text x="782.5" y="434.6" font-family="Liberation Serif, serif" font-weight="bold" font-size="26.5">Bi</text>
<text x="898.0" y="434.6" font-family="Liberation Serif, serif" font-weight="bold" font-size="26.5">YbF<tspan font-size="17" dx="-1.5" dy="7">3</tspan></text>
<text x="1048.5" y="434.6" font-family="Liberation Serif, serif" font-weight="bold" font-size="26.5">Ge</text>
<text x="1114.4" y="434.6" font-family="Liberation Serif, serif" font-weight="bold" font-size="26.5">Air</text>
<text x="1246.5" y="434.6" font-family="Liberation Serif, serif" font-weight="bold" font-size="26.5">Cr</text>
<text x="1281.5" y="434.6" font-family="Liberation Serif, serif" font-weight="bold" font-size="26.5">Ge</text>
<text x="1322.4" y="434.6" font-family="Liberation Serif, serif" font-weight="bold" font-size="26.5">Ti</text>
<text x="1360.5" y="434.6" font-family="Liberation Serif, serif" font-weight="bold" font-size="26.5">Bi</text>
<text x="1476.0" y="434.6" font-family="Liberation Serif, serif" font-weight="bold" font-size="26.5">YbF<tspan font-size="17" dx="-1.5" dy="7">3</tspan></text>
<text x="1626.5" y="434.6" font-family="Liberation Serif, serif" font-weight="bold" font-size="26.5">Ge</text>
<text x="1692.4" y="434.6" font-family="Liberation Serif, serif" font-weight="bold" font-size="26.5">Air</text>
<text x="99.5" y="807.8" font-family="Liberation Serif, serif" font-weight="bold" font-size="26.5">Cr</text>
<text x="130.0" y="807.8" font-family="Liberation Serif, serif" font-weight="bold" font-size="26.5">Ge</text>
<text x="171.4" y="807.8" font-family="Liberation Serif, serif" font-weight="bold" font-size="26.5">Ti</text>
<text x="209.5" y="807.8" font-family="Liberation Serif, serif" font-weight="bold" font-size="26.5">Bi</text>
<text x="325.0" y="807.8" font-family="Liberation Serif, serif" font-weight="bold" font-size="26.5">YbF<tspan font-size="17" dx="-1.5" dy="7">3</tspan></text>
<text x="475.5" y="807.8" font-family="Liberation Serif, serif" font-weight="bold" font-size="26.5">Ge</text>
<text x="541.4" y="807.8" font-family="Liberation Serif, serif" font-weight="bold" font-size="26.5">Air</text>
<text x="672.5" y="807.8" font-family="Liberation Serif, serif" font-weight="bold" font-size="26.5">Cr</text>
<text x="703.0" y="807.8" font-family="Liberation Serif, serif" font-weight="bold" font-size="26.5">Ge</text>
<text x="744.4" y="807.8" font-family="Liberation Serif, serif" font-weight="bold" font-size="26.5">Ti</text>
<text x="782.5" y="807.8" font-family="Liberation Serif, serif" font-weight="bold" font-size="26.5">Bi</text>
<text x="898.0" y="807.8" font-family="Liberation Serif, serif" font-weight="bold" font-size="26.5">YbF<tspan font-size="17" dx="-1.5" dy="7">3</tspan></text>
<text x="1048.5" y="807.8" font-family="Liberation Serif, serif" font-weight="bold" font-size="26.5">Ge</text>
<text x="1114.4" y="807.8" font-family="Liberation Serif, serif" font-weight="bold" font-size="26.5">Air</text>
<text x="1250.5" y="807.8" font-family="Liberation Serif, serif" font-weight="bold" font-size="26.5">Cr</text>
<text x="1281.0" y="807.8" font-family="Liberation Serif, serif" font-weight="bold" font-size="26.5">Ge</text>
<text x="1322.4" y="807.8" font-family="Liberation Serif, serif" font-weight="bold" font-size="26.5">Ti</text>
<text x="1360.5" y="807.8" font-family="Liberation Serif, serif" font-weight="bold" font-size="26.5">Bi</text>
<text x="1476.0" y="807.8" font-family="Liberation Serif, serif" font-weight="bold" font-size="26.5">YbF<tspan font-size="17" dx="-1.5" dy="7">3</tspan></text>
<text x="1626.5" y="807.8" font-family="Liberation Serif, serif" font-weight="bold" font-size="26.5">Ge</text>
<text x="1692.4" y="807.8" font-family="Liberation Serif, serif" font-weight="bold" font-size="26.5">Air</text>
<text x="95.5" y="1181.1" font-family="Liberation Serif, serif" font-weight="bold" font-size="26.5">Cr</text>
<text x="130.5" y="1181.1" font-family="Liberation Serif, serif" font-weight="bold" font-size="26.5">Ge</text>
<text x="171.4" y="1181.1" font-family="Liberation Serif, serif" font-weight="bold" font-size="26.5">Ti</text>
<text x="209.5" y="1181.1" font-family="Liberation Serif, serif" font-weight="bold" font-size="26.5">Bi</text>
<text x="325.0" y="1181.1" font-family="Liberation Serif, serif" font-weight="bold" font-size="26.5">YbF<tspan font-size="17" dx="-1.5" dy="7">3</tspan></text>
<text x="475.5" y="1181.1" font-family="Liberation Serif, serif" font-weight="bold" font-size="26.5">Ge</text>
<text x="541.4" y="1181.1" font-family="Liberation Serif, serif" font-weight="bold" font-size="26.5">Air</text>
<text x="668.5" y="1181.1" font-family="Liberation Serif, serif" font-weight="bold" font-size="26.5">Cr</text>
<text x="703.5" y="1181.1" font-family="Liberation Serif, serif" font-weight="bold" font-size="26.5">Ge</text>
<text x="744.4" y="1181.1" font-family="Liberation Serif, serif" font-weight="bold" font-size="26.5">Ti</text>
<text x="782.5" y="1181.1" font-family="Liberation Serif, serif" font-weight="bold" font-size="26.5">Bi</text>
<text x="898.0" y="1181.1" font-family="Liberation Serif, serif" font-weight="bold" font-size="26.5">YbF<tspan font-size="17" dx="-1.5" dy="7">3</tspan></text>
<text x="1048.5" y="1181.1" font-family="Liberation Serif, serif" font-weight="bold" font-size="26.5">Ge</text>
<text x="1114.4" y="1181.1" font-family="Liberation Serif, serif" font-weight="bold" font-size="26.5">Air</text>
<text x="1246.5" y="1181.1" font-family="Liberation Serif, serif" font-weight="bold" font-size="26.5">Cr</text>
<text x="1281.5" y="1181.1" font-family="Liberation Serif, serif" font-weight="bold" font-size="26.5">Ge</text>
<text x="1322.4" y="1181.1" font-family="Liberation Serif, serif" font-weight="bold" font-size="26.5">Ti</text>
<text x="1360.5" y="1181.1" font-family="Liberation Serif, serif" font-weight="bold" font-size="26.5">Bi</text>
<text x="1476.0" y="1181.1" font-family="Liberation Serif, serif" font-weight="bold" font-size="26.5">YbF<tspan font-size="17" dx="-1.5" dy="7">3</tspan></text>
<text x="1626.5" y="1181.1" font-family="Liberation Serif, serif" font-weight="bold" font-size="26.5">Ge</text>
<text x="1692.4" y="1181.1" font-family="Liberation Serif, serif" font-weight="bold" font-size="26.5">Air</text>
<text x="8.7" y="33.5" font-family="Liberation Sans, sans-serif" font-weight="bold" font-size="41">(a)</text>
<text x="602" y="33.5" font-family="Liberation Sans, sans-serif" font-weight="bold" font-size="41">(b)</text>
<text x="1196" y="33.5" font-family="Liberation Sans, sans-serif" font-weight="bold" font-size="41">(c)</text>
<text x="284.1" y="47" text-anchor="middle" font-family="Liberation Serif, serif" font-weight="bold" font-size="42">@9.5 μm</text>
<text x="874.5" y="47" text-anchor="middle" font-family="Liberation Serif, serif" font-weight="bold" font-size="42">@11.0 μm</text>
<text x="1464.5" y="47" text-anchor="middle" font-family="Liberation Serif, serif" font-weight="bold" font-size="42">@13.0 μm</text>
<text transform="translate(34.3,236.7) rotate(-90)" text-anchor="middle" font-family="Liberation Serif, serif" font-weight="bold" font-size="42">|E|</text>
<text transform="translate(34.3,618.5) rotate(-90)" text-anchor="middle" font-family="Liberation Serif, serif" font-weight="bold" font-size="42">|H|</text>
<text transform="translate(30.6,1011) rotate(-90)" font-family="Liberation Serif, serif" font-weight="bold" font-size="42">P<tspan font-size="28" dy="11.5">abs</tspan></text>
<rect x="447.5" y="1205.5" width="850.5" height="29" fill="url(#cb)" stroke="#000" stroke-width="2"/>
<text x="342.8" y="1235.4" font-family="Liberation Serif, serif" font-weight="bold" font-size="42">Min.</text>
<text x="1308.3" y="1235.4" font-family="Liberation Serif, serif" font-weight="bold" font-size="42">Max.</text>
<text x="873.6" y="1283.5" text-anchor="middle" font-family="Liberation Serif, serif" font-weight="bold" font-size="42">Intensity (a.u.)</text>
</svg>
</body></html>
